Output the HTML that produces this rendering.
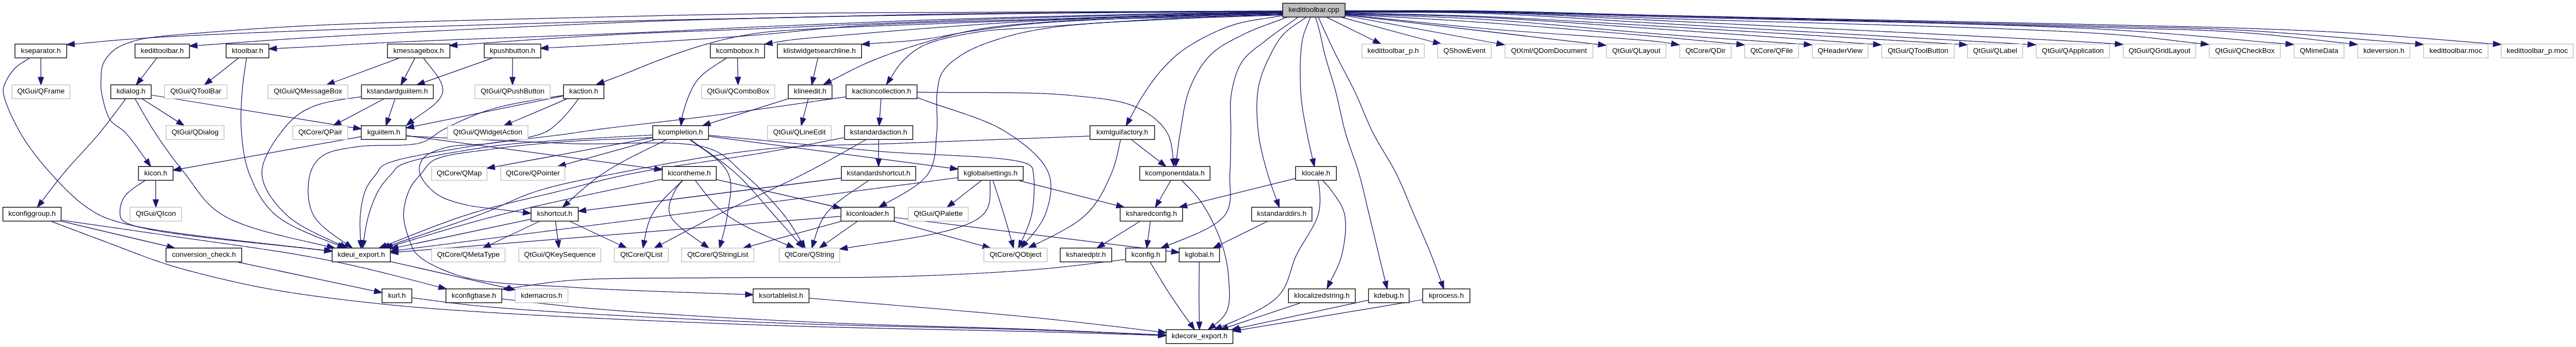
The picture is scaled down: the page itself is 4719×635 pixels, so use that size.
<!DOCTYPE html><html><head><meta charset="utf-8"><style>html,body{margin:0;padding:0;background:#fff;overflow:hidden}svg{display:block;will-change:transform}text{font-family:"Liberation Sans",sans-serif;font-size:13.25px;text-anchor:middle;fill:#000}</style></head><body>
<svg width="4719" height="635" viewBox="0 0 4719 635">
<g fill="none" stroke="#191970" stroke-width="1.25"><path d="M2349.0,21.0 2346.0,21.0 2343.0,21.0 2340.0,21.1 2337.1,21.1 2334.1,21.1 2331.1,21.1 2328.2,21.1 2325.2,21.2 2322.3,21.2 2319.3,21.2 2316.4,21.2 2313.4,21.2 2310.5,21.3 2307.6,21.3 2304.6,21.3 2301.7,21.3 2298.8,21.3 2295.9,21.4 2293.0,21.4 2290.0,21.4 2287.1,21.4 2284.2,21.4 2281.3,21.5 2278.4,21.5 2275.4,21.5 2272.5,21.5 2269.6,21.5 2266.7,21.5 2263.7,21.6 2260.8,21.6 2257.8,21.6 2254.9,21.6 2252.0,21.6 2249.0,21.7 2246.1,21.7 2243.1,21.7 2240.1,21.7 2237.2,21.7 2234.2,21.8 2231.2,21.8 2228.2,21.8 2225.2,21.8 2222.2,21.8 2219.2,21.9 2216.2,21.9 2213.2,21.9 2210.1,21.9 2207.1,22.0 2204.0,22.0 2201.0,22.0 2197.9,22.0 2194.8,22.0 2191.7,22.1 2188.6,22.1 2185.5,22.1 2182.3,22.1 2179.2,22.2 2176.0,22.2 2172.8,22.2 2169.6,22.2 2166.4,22.3 2163.2,22.3 2160.0,22.3 2157.2,22.3 2154.4,22.3 2151.6,22.4 2148.7,22.4 2145.9,22.4 2143.0,22.4 2140.2,22.5 2137.3,22.5 2134.4,22.5 2131.4,22.5 2128.5,22.5 2125.6,22.6 2122.6,22.6 2119.7,22.6 2116.7,22.6 2113.7,22.6 2110.7,22.7 2107.7,22.7 2104.7,22.7 2101.7,22.7 2098.6,22.8 2095.6,22.8 2092.5,22.8 2089.5,22.8 2086.4,22.9 2083.4,22.9 2080.3,22.9 2077.2,22.9 2074.1,22.9 2071.0,23.0 2067.9,23.0 2064.8,23.0 2061.7,23.0 2058.6,23.1 2055.5,23.1 2052.4,23.1 2049.2,23.1 2046.1,23.2 2043.0,23.2 2039.9,23.2 2036.7,23.2 2033.6,23.3 2030.5,23.3 2027.3,23.3 2024.2,23.3 2021.1,23.4 2017.9,23.4 2014.8,23.4 2011.7,23.4 2008.5,23.5 2005.4,23.5 2002.3,23.5 1999.2,23.5 1996.0,23.6 1992.9,23.6 1989.8,23.6 1986.7,23.6 1983.6,23.7 1980.5,23.7 1977.4,23.7 1974.3,23.8 1971.2,23.8 1968.2,23.8 1965.1,23.8 1962.0,23.9 1959.0,23.9 1955.9,23.9 1952.9,23.9 1949.9,24.0 1946.9,24.0 1943.8,24.0 1940.8,24.1 1937.8,24.1 1934.9,24.1 1931.9,24.2 1928.9,24.2 1926.0,24.2 1923.0,24.2 1920.1,24.3 1917.2,24.3 1914.3,24.3 1911.4,24.4 1908.5,24.4 1905.7,24.4 1902.8,24.5 1900.0,24.5 1896.8,24.5 1893.6,24.6 1890.3,24.6 1887.1,24.7 1883.9,24.7 1880.7,24.7 1877.5,24.8 1874.3,24.8 1871.1,24.9 1867.9,24.9 1864.7,24.9 1861.6,25.0 1858.4,25.0 1855.2,25.1 1852.1,25.1 1848.9,25.1 1845.7,25.2 1842.6,25.2 1839.5,25.3 1836.3,25.3 1833.2,25.4 1830.1,25.4 1827.0,25.5 1823.8,25.5 1820.7,25.6 1817.6,25.6 1814.6,25.6 1811.5,25.7 1808.4,25.7 1805.3,25.8 1802.2,25.8 1799.2,25.9 1796.1,25.9 1793.1,26.0 1790.1,26.0 1787.0,26.1 1784.0,26.1 1781.0,26.2 1778.0,26.2 1775.0,26.2 1772.0,26.3 1769.0,26.3 1766.0,26.4 1763.1,26.4 1760.1,26.5 1757.1,26.5 1754.2,26.6 1751.3,26.6 1748.3,26.7 1745.4,26.7 1742.5,26.8 1739.6,26.8 1736.7,26.8 1733.8,26.9 1731.0,26.9 1728.1,27.0 1725.3,27.0 1722.4,27.1 1719.6,27.1 1716.7,27.1 1713.9,27.2 1711.1,27.2 1708.3,27.3 1705.5,27.3 1702.8,27.4 1700.0,27.4 1696.7,27.4 1693.4,27.5 1690.2,27.5 1687.0,27.6 1683.8,27.6 1680.6,27.7 1677.5,27.7 1674.4,27.8 1671.3,27.8 1668.2,27.9 1665.2,27.9 1662.1,27.9 1659.1,28.0 1656.1,28.0 1653.1,28.1 1650.2,28.1 1647.2,28.1 1644.2,28.2 1641.3,28.2 1638.3,28.3 1635.4,28.3 1632.5,28.3 1629.5,28.4 1626.6,28.4 1623.7,28.5 1620.8,28.5 1617.8,28.5 1614.9,28.6 1612.0,28.6 1609.0,28.7 1606.1,28.7 1603.1,28.8 1600.1,28.8 1597.1,28.9 1594.2,28.9 1591.1,29.0 1588.1,29.0 1585.1,29.1 1582.0,29.1 1578.9,29.2 1575.8,29.2 1572.7,29.3 1569.6,29.3 1566.4,29.4 1563.2,29.4 1560.0,29.5 1557.2,29.6 1554.4,29.6 1551.5,29.7 1548.7,29.7 1545.8,29.8 1543.0,29.8 1540.1,29.9 1537.3,29.9 1534.4,30.0 1531.5,30.1 1528.6,30.1 1525.7,30.2 1522.8,30.2 1519.9,30.3 1517.0,30.4 1514.1,30.4 1511.2,30.5 1508.2,30.5 1505.3,30.6 1502.3,30.7 1499.4,30.7 1496.4,30.8 1493.5,30.9 1490.5,30.9 1487.5,31.0 1484.5,31.1 1481.5,31.1 1478.5,31.2 1475.5,31.3 1472.5,31.3 1469.5,31.4 1466.5,31.5 1463.5,31.5 1460.5,31.6 1457.4,31.7 1454.4,31.7 1451.3,31.8 1448.3,31.9 1445.2,32.0 1442.2,32.0 1439.1,32.1 1436.0,32.2 1433.0,32.3 1429.9,32.3 1426.8,32.4 1423.7,32.5 1420.6,32.6 1417.5,32.6 1414.4,32.7 1411.3,32.8 1408.2,32.9 1405.1,32.9 1402.0,33.0 1398.8,33.1 1395.7,33.2 1392.6,33.3 1389.4,33.4 1386.3,33.4 1383.1,33.5 1380.0,33.6 1377.1,33.7 1374.3,33.8 1371.5,33.8 1368.6,33.9 1365.8,34.0 1363.0,34.0 1360.2,34.1 1357.4,34.2 1354.6,34.3 1351.8,34.3 1349.1,34.4 1346.3,34.5 1343.5,34.6 1340.7,34.6 1338.0,34.7 1335.2,34.8 1332.5,34.8 1329.7,34.9 1326.9,35.0 1324.2,35.1 1321.4,35.1 1318.6,35.2 1315.9,35.3 1313.1,35.3 1310.3,35.4 1307.5,35.5 1304.8,35.6 1302.0,35.6 1299.2,35.7 1296.4,35.8 1293.5,35.9 1290.7,35.9 1287.9,36.0 1285.1,36.1 1282.2,36.2 1279.3,36.3 1276.5,36.3 1273.6,36.4 1270.7,36.5 1267.8,36.6 1264.9,36.7 1261.9,36.8 1259.0,36.9 1256.0,37.0 1253.0,37.0 1250.0,37.1 1247.0,37.2 1243.9,37.3 1240.9,37.4 1237.8,37.5 1234.7,37.6 1231.6,37.7 1228.4,37.8 1225.3,37.9 1222.1,38.0 1218.9,38.1 1215.6,38.3 1212.4,38.4 1209.1,38.5 1205.7,38.6 1202.4,38.7 1199.0,38.8 1195.6,39.0 1192.2,39.1 1188.8,39.2 1185.3,39.3 1181.8,39.5 1178.2,39.6 1174.6,39.7 1171.0,39.9 1167.4,40.0 1163.7,40.2 1160.0,40.3 1157.7,40.4 1155.4,40.5 1153.0,40.6 1150.7,40.7 1148.3,40.8 1145.9,40.9 1143.4,41.0 1141.0,41.1 1138.5,41.2 1136.0,41.3 1133.5,41.4 1131.0,41.5 1128.5,41.6 1125.9,41.7 1123.3,41.8 1120.7,41.9 1118.1,42.0 1115.4,42.1 1112.8,42.2 1110.1,42.3 1107.4,42.4 1104.7,42.6 1102.0,42.7 1099.3,42.8 1096.5,42.9 1093.7,43.0 1090.9,43.1 1088.1,43.3 1085.3,43.4 1082.5,43.5 1079.6,43.6 1076.8,43.7 1073.9,43.9 1071.0,44.0 1068.1,44.1 1065.1,44.2 1062.2,44.4 1059.3,44.5 1056.3,44.6 1053.3,44.8 1050.3,44.9 1047.3,45.0 1044.3,45.2 1041.3,45.3 1038.2,45.4 1035.2,45.6 1032.1,45.7 1029.0,45.8 1026.0,46.0 1022.9,46.1 1019.8,46.2 1016.6,46.4 1013.5,46.5 1010.4,46.7 1007.2,46.8 1004.1,46.9 1000.9,47.1 997.7,47.2 994.6,47.4 991.4,47.5 988.2,47.7 985.0,47.8 981.7,48.0 978.5,48.1 975.3,48.3 972.0,48.4 968.8,48.5 965.6,48.7 962.3,48.8 959.0,49.0 955.8,49.1 952.5,49.3 949.2,49.4 945.9,49.6 942.6,49.8 939.3,49.9 936.0,50.1 932.7,50.2 929.4,50.4 926.1,50.5 922.8,50.7 919.4,50.8 916.1,51.0 912.8,51.1 909.4,51.3 906.1,51.5 902.8,51.6 899.4,51.8 896.1,51.9 892.7,52.1 889.4,52.2 886.0,52.4 882.7,52.6 879.3,52.7 876.0,52.9 872.6,53.0 869.3,53.2 865.9,53.4 862.6,53.5 859.2,53.7 855.9,53.8 852.5,54.0 849.2,54.2 845.8,54.3 842.5,54.5 839.1,54.7 835.8,54.8 832.4,55.0 829.1,55.1 825.8,55.3 822.4,55.5 819.1,55.6 815.8,55.8 812.5,56.0 809.1,56.1 805.8,56.3 802.5,56.4 799.2,56.6 795.9,56.8 792.6,56.9 789.3,57.1 786.0,57.3 782.7,57.4 779.5,57.6 776.2,57.7 772.9,57.9 769.7,58.1 766.4,58.2 763.2,58.4 759.9,58.6 756.7,58.7 753.5,58.9 750.3,59.1 747.1,59.2 743.9,59.4 740.7,59.5 737.5,59.7 734.3,59.9 731.2,60.0 728.0,60.2 724.9,60.3 721.7,60.5 718.6,60.7 715.5,60.8 712.4,61.0 709.3,61.1 706.2,61.3 703.1,61.5 700.1,61.6 697.0,61.8 694.0,61.9 691.0,62.1 687.9,62.3 684.9,62.4 682.0,62.6 679.0,62.7 676.0,62.9 673.1,63.0 670.1,63.2 667.2,63.4 664.3,63.5 661.4,63.7 658.5,63.8 655.7,64.0 652.8,64.1 650.0,64.3 647.2,64.4 644.4,64.6 641.6,64.7 638.8,64.9 636.1,65.0 633.3,65.2 630.6,65.3 627.9,65.5 625.2,65.6 622.5,65.8 619.9,65.9 617.2,66.1 614.6,66.2 612.0,66.4 609.4,66.5 606.9,66.7 604.3,66.8 601.8,66.9 599.3,67.1 596.8,67.2 594.4,67.4 591.9,67.5 589.5,67.6 587.1,67.8 584.7,67.9 582.3,68.1 580.0,68.2 576.3,68.4 572.7,68.6 569.0,68.8 565.5,69.1 561.9,69.3 558.4,69.5 554.9,69.7 551.4,69.9 548.0,70.1 544.6,70.4 541.2,70.6 537.9,70.8 534.6,71.0 531.3,71.2 528.0,71.4 524.8,71.6 521.6,71.8 518.4,72.0 515.2,72.3 512.1,72.5 508.9,72.7 505.8,72.9 502.7,73.1 499.7,73.3 496.6,73.5 493.6,73.7 490.6,73.9 487.6,74.1 484.6,74.4 481.7,74.6 478.7,74.8 475.8,75.0 472.9,75.2 470.0,75.4 467.1,75.6 464.2,75.8 461.3,76.0 458.4,76.2 455.6,76.4 452.7,76.6 449.9,76.8 447.1,77.1 444.2,77.3 441.4,77.5 438.6,77.7 435.8,77.9 433.0,78.1 430.2,78.3 427.4,78.5 424.6,78.7 421.8,78.9 419.0,79.1 416.2,79.3 413.4,79.5 410.6,79.7 407.8,79.9 405.0,80.1 402.2,80.4 399.4,80.6 396.5,80.8 393.7,81.0 390.9,81.2 388.0,81.4 385.2,81.6 382.3,81.8 379.5,82.0 376.6,82.2 373.7,82.4 370.8,82.6 367.9,82.8 365.0,83.0 362.0,83.3 361.1,83.3"/><path d="M2430.0,31.4 2516.9,74.2"/><path d="M2455.6,31.2 2626.2,77.0"/><path d="M2464.0,28.5 2742.2,79.5"/><path d="M2464.0,27.3 2928.1,81.4"/><path d="M2464.0,26.6 2467.0,26.9 2470.0,27.2 2472.9,27.5 2475.9,27.8 2478.9,28.1 2481.9,28.4 2484.8,28.7 2487.8,29.0 2490.7,29.3 2493.7,29.6 2496.6,29.9 2499.6,30.2 2502.5,30.5 2505.5,30.8 2508.4,31.1 2511.3,31.4 2514.3,31.8 2517.2,32.1 2520.1,32.4 2523.1,32.7 2526.0,33.0 2528.9,33.3 2531.8,33.6 2534.8,33.9 2537.7,34.2 2540.6,34.5 2543.5,34.8 2546.5,35.1 2549.4,35.4 2552.3,35.7 2555.2,36.0 2558.2,36.3 2561.1,36.7 2564.0,37.0 2566.9,37.3 2569.9,37.6 2572.8,37.9 2575.7,38.2 2578.6,38.5 2581.6,38.8 2584.5,39.1 2587.5,39.4 2590.4,39.7 2593.3,40.0 2596.3,40.3 2599.2,40.6 2602.2,40.9 2605.1,41.2 2608.1,41.5 2611.1,41.8 2614.0,42.1 2617.0,42.4 2620.0,42.7 2622.9,43.0 2625.9,43.3 2628.9,43.6 2631.9,43.9 2634.9,44.2 2637.9,44.5 2640.9,44.8 2643.9,45.1 2646.9,45.4 2650.0,45.7 2653.0,46.0 2656.0,46.3 2659.1,46.6 2662.1,46.9 2665.2,47.2 2668.2,47.5 2671.3,47.8 2674.3,48.1 2677.4,48.4 2680.5,48.7 2683.6,49.0 2686.7,49.2 2689.8,49.5 2692.9,49.8 2696.1,50.1 2699.2,50.4 2702.3,50.7 2705.5,51.0 2708.7,51.2 2711.8,51.5 2715.0,51.8 2717.8,52.0 2720.7,52.3 2723.6,52.5 2726.5,52.8 2729.5,53.0 2732.5,53.3 2735.5,53.5 2738.6,53.8 2741.6,54.0 2744.7,54.3 2747.9,54.5 2751.0,54.8 2754.2,55.0 2757.4,55.3 2760.7,55.5 2763.9,55.8 2767.2,56.0 2770.5,56.3 2773.8,56.5 2777.1,56.8 2780.5,57.0 2783.9,57.3 2787.2,57.5 2790.6,57.8 2794.1,58.0 2797.5,58.3 2800.9,58.5 2804.4,58.8 2807.8,59.0 2811.3,59.3 2814.8,59.5 2818.3,59.8 2821.8,60.0 2825.3,60.3 2828.8,60.5 2832.3,60.8 2835.8,61.0 2839.3,61.3 2842.8,61.5 2846.3,61.8 2849.9,62.0 2853.4,62.3 2856.9,62.5 2860.4,62.7 2863.9,63.0 2867.4,63.2 2870.9,63.5 2874.4,63.7 2877.9,64.0 2881.4,64.2 2884.9,64.4 2888.3,64.7 2891.8,64.9 2895.2,65.2 2898.6,65.4 2902.1,65.6 2905.5,65.9 2908.9,66.1 2912.2,66.3 2915.6,66.6 2918.9,66.8 2922.2,67.0 2925.5,67.3 2928.8,67.5 2932.1,67.7 2935.3,68.0 2938.5,68.2 2941.7,68.4 2944.9,68.6 2948.0,68.9 2951.1,69.1 2954.2,69.3 2957.3,69.5 2960.3,69.7 2963.3,70.0 2966.3,70.2 2969.2,70.4 2972.1,70.6 2975.0,70.8 2977.9,71.0 2980.7,71.3 2983.4,71.5 2986.2,71.7 2988.9,71.9 2991.5,72.1 2994.1,72.3 2996.7,72.5 2999.2,72.7 3001.7,72.9 3004.2,73.1 3006.6,73.3 3009.0,73.5 3011.3,73.7 3013.6,73.9 3015.8,74.1 3018.0,74.3 3020.1,74.5 3022.2,74.7 3024.2,74.9 3026.2,75.1 3028.1,75.2 3030.0,75.4 3031.8,75.6 3033.5,75.8 3035.2,76.0 3036.9,76.1 3038.5,76.3 3040.0,76.5 3044.3,77.0 3048.1,77.5 3051.6,78.0 3054.7,78.5 3057.6,78.9 3060.3,79.4 3062.2,79.7"/><path d="M2464.0,26.0 2467.0,26.2 2470.0,26.4 2473.1,26.5 2476.1,26.7 2479.1,26.9 2482.1,27.1 2485.1,27.2 2488.1,27.4 2491.0,27.6 2494.0,27.8 2497.0,27.9 2500.0,28.1 2503.0,28.3 2506.0,28.4 2508.9,28.6 2511.9,28.8 2514.9,28.9 2517.8,29.1 2520.8,29.3 2523.8,29.4 2526.7,29.6 2529.7,29.8 2532.7,29.9 2535.6,30.1 2538.6,30.3 2541.5,30.4 2544.5,30.6 2547.5,30.8 2550.4,30.9 2553.4,31.1 2556.3,31.3 2559.3,31.4 2562.3,31.6 2565.2,31.8 2568.2,31.9 2571.2,32.1 2574.1,32.3 2577.1,32.4 2580.1,32.6 2583.0,32.8 2586.0,32.9 2589.0,33.1 2592.0,33.3 2594.9,33.4 2597.9,33.6 2600.9,33.8 2603.9,34.0 2606.9,34.1 2609.9,34.3 2612.9,34.5 2615.9,34.7 2618.9,34.8 2621.9,35.0 2624.9,35.2 2627.9,35.4 2631.0,35.6 2634.0,35.7 2637.0,35.9 2640.1,36.1 2643.1,36.3 2646.2,36.5 2649.2,36.7 2652.3,36.9 2655.4,37.0 2658.4,37.2 2661.5,37.4 2664.6,37.6 2667.7,37.8 2670.8,38.0 2673.9,38.2 2677.0,38.4 2680.1,38.6 2683.3,38.8 2686.4,39.0 2689.5,39.3 2692.7,39.5 2695.9,39.7 2699.0,39.9 2702.2,40.1 2705.4,40.3 2708.6,40.6 2711.8,40.8 2715.0,41.0 2717.8,41.2 2720.7,41.4 2723.5,41.6 2726.4,41.8 2729.3,42.0 2732.2,42.2 2735.1,42.4 2738.1,42.7 2741.0,42.9 2744.0,43.1 2746.9,43.3 2749.9,43.5 2752.9,43.8 2755.9,44.0 2759.0,44.2 2762.0,44.4 2765.1,44.7 2768.1,44.9 2771.2,45.1 2774.3,45.4 2777.4,45.6 2780.5,45.8 2783.6,46.1 2786.7,46.3 2789.8,46.6 2793.0,46.8 2796.1,47.0 2799.2,47.3 2802.4,47.5 2805.6,47.8 2808.7,48.0 2811.9,48.3 2815.1,48.5 2818.3,48.8 2821.4,49.0 2824.6,49.3 2827.8,49.5 2831.0,49.8 2834.2,50.1 2837.4,50.3 2840.6,50.6 2843.8,50.8 2847.0,51.1 2850.3,51.3 2853.5,51.6 2856.7,51.9 2859.9,52.1 2863.1,52.4 2866.3,52.6 2869.5,52.9 2872.7,53.2 2875.9,53.4 2879.1,53.7 2882.3,54.0 2885.5,54.2 2888.7,54.5 2891.9,54.8 2895.1,55.0 2898.2,55.3 2901.4,55.5 2904.6,55.8 2907.7,56.1 2910.9,56.3 2914.0,56.6 2917.2,56.9 2920.3,57.1 2923.4,57.4 2926.5,57.6 2929.6,57.9 2932.7,58.2 2935.8,58.4 2938.9,58.7 2942.0,58.9 2945.0,59.2 2948.1,59.5 2951.1,59.7 2954.1,60.0 2957.2,60.2 2960.1,60.5 2963.1,60.7 2966.1,61.0 2969.1,61.2 2972.0,61.5 2974.9,61.8 2977.9,62.0 2980.8,62.3 2983.7,62.5 2986.5,62.7 2989.4,63.0 2992.2,63.2 2995.0,63.5 2997.8,63.7 3000.6,64.0 3003.4,64.2 3006.1,64.4 3008.9,64.7 3011.6,64.9 3014.3,65.1 3016.9,65.4 3019.6,65.6 3022.2,65.8 3024.8,66.1 3027.4,66.3 3030.0,66.5 3032.5,66.7 3035.0,67.0 3037.5,67.2 3040.0,67.4 3043.5,67.7 3047.0,68.0 3050.4,68.3 3053.8,68.6 3057.2,68.9 3060.5,69.2 3063.8,69.5 3067.1,69.8 3070.3,70.1 3073.5,70.4 3076.6,70.7 3079.8,71.0 3082.9,71.3 3085.9,71.6 3089.0,71.9 3092.0,72.1 3095.0,72.4 3098.0,72.7 3101.0,73.0 3103.9,73.3 3106.9,73.5 3109.8,73.8 3112.7,74.1 3115.6,74.4 3118.4,74.7 3121.3,74.9 3124.1,75.2 3127.0,75.5 3129.8,75.8 3132.6,76.0 3135.5,76.3 3138.3,76.6 3141.1,76.9 3143.9,77.1 3146.7,77.4 3149.5,77.7 3152.3,77.9 3155.1,78.2 3158.0,78.5 3160.8,78.8 3163.6,79.0 3166.4,79.3 3169.3,79.6 3172.1,79.9 3175.0,80.1 3177.9,80.4 3180.8,80.7 3181.6,80.8"/><path d="M2464.0,25.5 2467.0,25.6 2470.0,25.7 2473.1,25.8 2476.1,26.0 2479.1,26.1 2482.1,26.2 2485.1,26.3 2488.1,26.4 2491.0,26.5 2494.0,26.6 2497.0,26.7 2500.0,26.8 2503.0,26.9 2506.0,27.0 2508.9,27.1 2511.9,27.2 2514.9,27.3 2517.8,27.4 2520.8,27.5 2523.8,27.6 2526.7,27.7 2529.7,27.8 2532.7,27.9 2535.6,27.9 2538.6,28.0 2541.5,28.1 2544.5,28.2 2547.5,28.3 2550.4,28.4 2553.4,28.5 2556.3,28.6 2559.3,28.7 2562.3,28.8 2565.2,28.9 2568.2,29.0 2571.2,29.1 2574.1,29.2 2577.1,29.2 2580.1,29.3 2583.0,29.4 2586.0,29.5 2589.0,29.6 2592.0,29.7 2594.9,29.8 2597.9,29.9 2600.9,30.0 2603.9,30.1 2606.9,30.3 2609.9,30.4 2612.9,30.5 2615.9,30.6 2618.9,30.7 2621.9,30.8 2624.9,30.9 2628.0,31.0 2631.0,31.2 2634.0,31.3 2637.0,31.4 2640.1,31.5 2643.1,31.6 2646.2,31.8 2649.2,31.9 2652.3,32.0 2655.4,32.2 2658.4,32.3 2661.5,32.5 2664.6,32.6 2667.7,32.7 2670.8,32.9 2673.9,33.0 2677.0,33.2 2680.1,33.4 2683.3,33.5 2686.4,33.7 2689.5,33.8 2692.7,34.0 2695.9,34.2 2699.0,34.4 2702.2,34.5 2705.4,34.7 2708.6,34.9 2711.8,35.1 2715.0,35.3 2717.8,35.5 2720.7,35.7 2723.5,35.8 2726.3,36.0 2729.2,36.2 2732.1,36.4 2734.9,36.6 2737.8,36.8 2740.7,37.0 2743.6,37.2 2746.5,37.4 2749.4,37.6 2752.3,37.8 2755.3,38.0 2758.2,38.2 2761.1,38.4 2764.1,38.7 2767.0,38.9 2770.0,39.1 2773.0,39.3 2775.9,39.6 2778.9,39.8 2781.9,40.0 2784.9,40.3 2787.9,40.5 2790.9,40.8 2793.9,41.0 2796.9,41.2 2799.9,41.5 2803.0,41.7 2806.0,42.0 2809.0,42.2 2812.0,42.5 2815.1,42.8 2818.1,43.0 2821.2,43.3 2824.2,43.5 2827.3,43.8 2830.3,44.1 2833.4,44.3 2836.4,44.6 2839.5,44.9 2842.6,45.1 2845.6,45.4 2848.7,45.7 2851.8,45.9 2854.9,46.2 2857.9,46.5 2861.0,46.7 2864.1,47.0 2867.2,47.3 2870.3,47.6 2873.4,47.8 2876.4,48.1 2879.5,48.4 2882.6,48.7 2885.7,48.9 2888.8,49.2 2891.9,49.5 2895.0,49.8 2898.1,50.1 2901.1,50.3 2904.2,50.6 2907.3,50.9 2910.4,51.2 2913.5,51.5 2916.6,51.7 2919.6,52.0 2922.7,52.3 2925.8,52.6 2928.9,52.8 2932.0,53.1 2935.0,53.4 2938.1,53.7 2941.2,53.9 2944.2,54.2 2947.3,54.5 2950.3,54.8 2953.4,55.0 2956.5,55.3 2959.5,55.6 2962.6,55.8 2965.6,56.1 2968.6,56.4 2971.7,56.6 2974.7,56.9 2977.7,57.2 2980.7,57.4 2983.8,57.7 2986.8,57.9 2989.8,58.2 2992.8,58.5 2995.8,58.7 2998.8,59.0 3001.8,59.2 3004.7,59.5 3007.7,59.7 3010.7,60.0 3013.6,60.2 3016.6,60.4 3019.6,60.7 3022.5,60.9 3025.4,61.2 3028.4,61.4 3031.3,61.6 3034.2,61.9 3037.1,62.1 3040.0,62.3 3043.1,62.5 3046.2,62.8 3049.3,63.0 3052.4,63.2 3055.5,63.5 3058.6,63.7 3061.7,63.9 3064.8,64.2 3067.8,64.4 3070.9,64.6 3074.0,64.9 3077.0,65.1 3080.1,65.3 3083.1,65.5 3086.2,65.8 3089.2,66.0 3092.3,66.2 3095.3,66.4 3098.4,66.7 3101.4,66.9 3104.4,67.1 3107.5,67.3 3110.5,67.5 3113.5,67.7 3116.5,68.0 3119.5,68.2 3122.5,68.4 3125.6,68.6 3128.6,68.8 3131.6,69.0 3134.6,69.2 3137.6,69.5 3140.6,69.7 3143.6,69.9 3146.5,70.1 3149.5,70.3 3152.5,70.5 3155.5,70.7 3158.5,70.9 3161.5,71.1 3164.5,71.3 3167.4,71.5 3170.4,71.7 3173.4,72.0 3176.4,72.2 3179.3,72.4 3182.3,72.6 3185.3,72.8 3188.2,73.0 3191.2,73.2 3194.2,73.4 3197.1,73.6 3200.1,73.8 3203.1,74.0 3206.0,74.2 3209.0,74.4 3212.0,74.6 3214.9,74.8 3217.9,75.0 3220.9,75.2 3223.8,75.4 3226.8,75.6 3229.7,75.8 3232.7,76.0 3235.7,76.2 3238.6,76.4 3241.6,76.6 3244.6,76.8 3247.5,77.0 3250.5,77.2 3253.5,77.4 3256.4,77.7 3259.4,77.9 3262.4,78.1 3265.3,78.3 3268.3,78.5 3271.3,78.7 3274.2,78.9 3277.2,79.1 3280.2,79.3 3283.2,79.5 3286.1,79.7 3289.1,79.9 3292.1,80.1 3295.1,80.3 3298.1,80.5 3301.0,80.7 3304.0,80.9 3305.0,81.0"/><path d="M2464.0,24.5 2467.0,24.6 2470.0,24.7 2473.1,24.8 2476.1,24.8 2479.1,24.9 2482.1,25.0 2485.1,25.1 2488.1,25.1 2491.0,25.2 2494.0,25.3 2497.0,25.4 2500.0,25.4 2503.0,25.5 2506.0,25.6 2508.9,25.7 2511.9,25.7 2514.9,25.8 2517.8,25.9 2520.8,25.9 2523.8,26.0 2526.7,26.1 2529.7,26.1 2532.7,26.2 2535.6,26.3 2538.6,26.3 2541.5,26.4 2544.5,26.5 2547.5,26.5 2550.4,26.6 2553.4,26.6 2556.3,26.7 2559.3,26.8 2562.3,26.8 2565.2,26.9 2568.2,27.0 2571.2,27.0 2574.1,27.1 2577.1,27.2 2580.1,27.2 2583.0,27.3 2586.0,27.4 2589.0,27.5 2592.0,27.5 2594.9,27.6 2597.9,27.7 2600.9,27.7 2603.9,27.8 2606.9,27.9 2609.9,28.0 2612.9,28.0 2615.9,28.1 2618.9,28.2 2621.9,28.3 2624.9,28.4 2627.9,28.5 2631.0,28.5 2634.0,28.6 2637.0,28.7 2640.1,28.8 2643.1,28.9 2646.2,29.0 2649.2,29.1 2652.3,29.2 2655.4,29.3 2658.4,29.4 2661.5,29.5 2664.6,29.6 2667.7,29.7 2670.8,29.8 2673.9,30.0 2677.0,30.1 2680.1,30.2 2683.3,30.3 2686.4,30.4 2689.5,30.6 2692.7,30.7 2695.9,30.8 2699.0,31.0 2702.2,31.1 2705.4,31.3 2708.6,31.4 2711.8,31.5 2715.0,31.7 2717.8,31.8 2720.6,32.0 2723.5,32.1 2726.3,32.3 2729.1,32.4 2732.0,32.5 2734.8,32.7 2737.7,32.8 2740.5,33.0 2743.4,33.1 2746.2,33.3 2749.1,33.4 2751.9,33.6 2754.8,33.8 2757.7,33.9 2760.6,34.1 2763.5,34.3 2766.3,34.4 2769.2,34.6 2772.1,34.8 2775.0,34.9 2777.9,35.1 2780.8,35.3 2783.7,35.4 2786.6,35.6 2789.6,35.8 2792.5,36.0 2795.4,36.2 2798.3,36.3 2801.3,36.5 2804.2,36.7 2807.1,36.9 2810.1,37.1 2813.0,37.3 2816.0,37.5 2818.9,37.7 2821.9,37.9 2824.8,38.1 2827.8,38.3 2830.8,38.4 2833.7,38.6 2836.7,38.8 2839.7,39.0 2842.7,39.2 2845.6,39.5 2848.6,39.7 2851.6,39.9 2854.6,40.1 2857.6,40.3 2860.6,40.5 2863.6,40.7 2866.6,40.9 2869.6,41.1 2872.6,41.3 2875.7,41.5 2878.7,41.7 2881.7,41.9 2884.7,42.2 2887.8,42.4 2890.8,42.6 2893.8,42.8 2896.9,43.0 2899.9,43.2 2903.0,43.5 2906.0,43.7 2909.1,43.9 2912.1,44.1 2915.2,44.3 2918.2,44.5 2921.3,44.8 2924.4,45.0 2927.5,45.2 2930.5,45.4 2933.6,45.7 2936.7,45.9 2939.8,46.1 2942.9,46.3 2945.9,46.5 2949.0,46.8 2952.1,47.0 2955.2,47.2 2958.3,47.4 2961.4,47.7 2964.6,47.9 2967.7,48.1 2970.8,48.3 2973.9,48.5 2977.0,48.8 2980.1,49.0 2983.3,49.2 2986.4,49.4 2989.5,49.7 2992.7,49.9 2995.8,50.1 2998.9,50.3 3002.1,50.6 3005.2,50.8 3008.4,51.0 3011.5,51.2 3014.7,51.4 3017.8,51.7 3021.0,51.9 3024.2,52.1 3027.3,52.3 3030.5,52.5 3033.7,52.8 3036.8,53.0 3040.0,53.2 3042.8,53.4 3045.7,53.6 3048.5,53.8 3051.4,54.0 3054.3,54.2 3057.1,54.4 3060.0,54.6 3062.9,54.8 3065.8,55.0 3068.6,55.2 3071.5,55.4 3074.4,55.6 3077.3,55.8 3080.2,56.0 3083.1,56.2 3086.0,56.4 3089.0,56.6 3091.9,56.8 3094.8,57.0 3097.7,57.2 3100.7,57.4 3103.6,57.6 3106.5,57.8 3109.5,58.0 3112.4,58.2 3115.4,58.4 3118.3,58.6 3121.3,58.8 3124.2,59.1 3127.2,59.3 3130.2,59.5 3133.1,59.7 3136.1,59.9 3139.1,60.1 3142.1,60.3 3145.0,60.5 3148.0,60.7 3151.0,60.9 3154.0,61.2 3157.0,61.4 3160.0,61.6 3163.0,61.8 3166.0,62.0 3169.0,62.2 3172.0,62.4 3175.0,62.6 3178.0,62.9 3181.0,63.1 3184.0,63.3 3187.1,63.5 3190.1,63.7 3193.1,63.9 3196.1,64.1 3199.2,64.4 3202.2,64.6 3205.2,64.8 3208.2,65.0 3211.3,65.2 3214.3,65.4 3217.4,65.7 3220.4,65.9 3223.4,66.1 3226.5,66.3 3229.5,66.5 3232.6,66.7 3235.6,67.0 3238.7,67.2 3241.7,67.4 3244.8,67.6 3247.8,67.8 3250.9,68.0 3253.9,68.3 3257.0,68.5 3260.0,68.7 3263.1,68.9 3266.1,69.1 3269.2,69.4 3272.3,69.6 3275.3,69.8 3278.4,70.0 3281.4,70.2 3284.5,70.5 3287.6,70.7 3290.6,70.9 3293.7,71.1 3296.7,71.3 3299.8,71.6 3302.9,71.8 3305.9,72.0 3309.0,72.2 3312.1,72.4 3315.1,72.7 3318.2,72.9 3321.2,73.1 3324.3,73.3 3327.4,73.5 3330.4,73.8 3333.5,74.0 3336.6,74.2 3339.6,74.4 3342.7,74.6 3345.7,74.8 3348.8,75.1 3351.9,75.3 3354.9,75.5 3358.0,75.7 3361.0,75.9 3364.1,76.2 3367.1,76.4 3370.2,76.6 3373.2,76.8 3376.3,77.0 3379.3,77.3 3382.4,77.5 3385.4,77.7 3388.5,77.9 3391.5,78.1 3394.6,78.3 3397.6,78.6 3400.6,78.8 3403.7,79.0 3406.7,79.2 3409.7,79.4 3412.8,79.6 3415.8,79.9 3418.8,80.1 3421.9,80.3 3424.9,80.5 3427.9,80.7 3430.9,80.9 3432.0,81.0"/><path d="M2464.0,23.5 2467.0,23.6 2470.0,23.7 2473.1,23.7 2476.1,23.8 2479.1,23.9 2482.1,24.0 2485.1,24.0 2488.1,24.1 2491.0,24.2 2494.0,24.3 2497.0,24.3 2500.0,24.4 2503.0,24.5 2506.0,24.5 2508.9,24.6 2511.9,24.7 2514.9,24.7 2517.8,24.8 2520.8,24.9 2523.8,24.9 2526.7,25.0 2529.7,25.1 2532.7,25.1 2535.6,25.2 2538.6,25.3 2541.5,25.3 2544.5,25.4 2547.5,25.4 2550.4,25.5 2553.4,25.6 2556.3,25.6 2559.3,25.7 2562.3,25.8 2565.2,25.8 2568.2,25.9 2571.2,26.0 2574.1,26.0 2577.1,26.1 2580.1,26.2 2583.0,26.2 2586.0,26.3 2589.0,26.4 2592.0,26.4 2594.9,26.5 2597.9,26.6 2600.9,26.6 2603.9,26.7 2606.9,26.8 2609.9,26.9 2612.9,26.9 2615.9,27.0 2618.9,27.1 2621.9,27.2 2624.9,27.2 2627.9,27.3 2631.0,27.4 2634.0,27.5 2637.0,27.6 2640.1,27.7 2643.1,27.7 2646.2,27.8 2649.2,27.9 2652.3,28.0 2655.3,28.1 2658.4,28.2 2661.5,28.3 2664.6,28.4 2667.7,28.5 2670.8,28.6 2673.9,28.7 2677.0,28.8 2680.1,28.9 2683.3,29.0 2686.4,29.1 2689.5,29.2 2692.7,29.3 2695.9,29.5 2699.0,29.6 2702.2,29.7 2705.4,29.8 2708.6,29.9 2711.8,30.1 2715.0,30.2 2717.8,30.3 2720.6,30.4 2723.4,30.5 2726.3,30.7 2729.1,30.8 2731.9,30.9 2734.7,31.0 2737.5,31.2 2740.3,31.3 2743.2,31.4 2746.0,31.5 2748.8,31.7 2751.6,31.8 2754.4,31.9 2757.3,32.1 2760.1,32.2 2762.9,32.3 2765.7,32.5 2768.5,32.6 2771.4,32.7 2774.2,32.9 2777.0,33.0 2779.9,33.2 2782.7,33.3 2785.5,33.4 2788.4,33.6 2791.2,33.7 2794.1,33.9 2796.9,34.0 2799.8,34.2 2802.6,34.3 2805.5,34.5 2808.3,34.6 2811.2,34.8 2814.1,34.9 2817.0,35.1 2819.8,35.2 2822.7,35.4 2825.6,35.5 2828.5,35.7 2831.4,35.9 2834.3,36.0 2837.2,36.2 2840.1,36.3 2843.0,36.5 2845.9,36.7 2848.8,36.8 2851.7,37.0 2854.6,37.2 2857.6,37.3 2860.5,37.5 2863.4,37.7 2866.4,37.8 2869.3,38.0 2872.3,38.2 2875.3,38.3 2878.2,38.5 2881.2,38.7 2884.2,38.8 2887.2,39.0 2890.2,39.2 2893.2,39.4 2896.2,39.5 2899.2,39.7 2902.2,39.9 2905.2,40.1 2908.3,40.3 2911.3,40.4 2914.4,40.6 2917.4,40.8 2920.5,41.0 2923.5,41.2 2926.6,41.3 2929.7,41.5 2932.8,41.7 2935.9,41.9 2939.0,42.1 2942.1,42.3 2945.3,42.4 2948.4,42.6 2951.5,42.8 2954.7,43.0 2957.8,43.2 2961.0,43.4 2964.2,43.6 2967.4,43.7 2970.6,43.9 2973.8,44.1 2977.0,44.3 2980.2,44.5 2983.4,44.7 2986.7,44.9 2989.9,45.1 2993.2,45.3 2996.5,45.5 2999.8,45.7 3003.1,45.9 3006.4,46.0 3009.7,46.2 3013.0,46.4 3016.3,46.6 3019.7,46.8 3023.0,47.0 3026.4,47.2 3029.8,47.4 3033.2,47.6 3036.6,47.8 3040.0,48.0 3042.6,48.1 3045.2,48.3 3047.8,48.4 3050.4,48.6 3053.0,48.8 3055.7,48.9 3058.3,49.1 3061.0,49.2 3063.6,49.4 3066.3,49.5 3069.0,49.7 3071.7,49.8 3074.4,50.0 3077.1,50.1 3079.8,50.3 3082.5,50.5 3085.2,50.6 3087.9,50.8 3090.7,50.9 3093.4,51.1 3096.2,51.3 3098.9,51.4 3101.7,51.6 3104.5,51.8 3107.2,51.9 3110.0,52.1 3112.8,52.3 3115.6,52.4 3118.4,52.6 3121.2,52.7 3124.1,52.9 3126.9,53.1 3129.7,53.3 3132.6,53.4 3135.4,53.6 3138.3,53.8 3141.1,53.9 3144.0,54.1 3146.9,54.3 3149.7,54.4 3152.6,54.6 3155.5,54.8 3158.4,55.0 3161.3,55.1 3164.2,55.3 3167.1,55.5 3170.0,55.7 3173.0,55.8 3175.9,56.0 3178.8,56.2 3181.8,56.4 3184.7,56.5 3187.7,56.7 3190.6,56.9 3193.6,57.1 3196.5,57.2 3199.5,57.4 3202.5,57.6 3205.5,57.8 3208.4,58.0 3211.4,58.1 3214.4,58.3 3217.4,58.5 3220.4,58.7 3223.4,58.9 3226.4,59.0 3229.5,59.2 3232.5,59.4 3235.5,59.6 3238.5,59.8 3241.5,60.0 3244.6,60.1 3247.6,60.3 3250.7,60.5 3253.7,60.7 3256.7,60.9 3259.8,61.1 3262.9,61.3 3265.9,61.4 3269.0,61.6 3272.0,61.8 3275.1,62.0 3278.2,62.2 3281.2,62.4 3284.3,62.6 3287.4,62.7 3290.5,62.9 3293.6,63.1 3296.7,63.3 3299.7,63.5 3302.8,63.7 3305.9,63.9 3309.0,64.1 3312.1,64.2 3315.2,64.4 3318.3,64.6 3321.4,64.8 3324.5,65.0 3327.6,65.2 3330.8,65.4 3333.9,65.6 3337.0,65.8 3340.1,66.0 3343.2,66.1 3346.3,66.3 3349.5,66.5 3352.6,66.7 3355.7,66.9 3358.8,67.1 3362.0,67.3 3365.1,67.5 3368.2,67.7 3371.3,67.9 3374.5,68.1 3377.6,68.2 3380.7,68.4 3383.9,68.6 3387.0,68.8 3390.1,69.0 3393.2,69.2 3396.4,69.4 3399.5,69.6 3402.6,69.8 3405.8,70.0 3408.9,70.2 3412.1,70.3 3415.2,70.5 3418.3,70.7 3421.5,70.9 3424.6,71.1 3427.7,71.3 3430.9,71.5 3434.0,71.7 3437.1,71.9 3440.2,72.1 3443.4,72.3 3446.5,72.5 3449.6,72.6 3452.8,72.8 3455.9,73.0 3459.0,73.2 3462.1,73.4 3465.3,73.6 3468.4,73.8 3471.5,74.0 3474.6,74.2 3477.7,74.4 3480.9,74.6 3484.0,74.7 3487.1,74.9 3490.2,75.1 3493.3,75.3 3496.4,75.5 3499.5,75.7 3502.6,75.9 3505.7,76.1 3508.8,76.3 3511.9,76.4 3515.0,76.6 3518.1,76.8 3521.2,77.0 3524.3,77.2 3527.4,77.4 3530.5,77.6 3533.5,77.8 3536.6,77.9 3539.7,78.1 3542.8,78.3 3545.8,78.5 3548.9,78.7 3552.0,78.9 3555.0,79.1 3558.1,79.3 3561.1,79.4 3564.2,79.6 3567.2,79.8 3570.3,80.0 3573.3,80.2 3576.4,80.4 3579.4,80.5 3582.4,80.7 3585.4,80.9 3588.5,81.1 3589.5,81.2"/><path d="M2464.0,22.5 2467.0,22.5 2470.0,22.5 2473.1,22.6 2476.1,22.6 2479.1,22.6 2482.1,22.6 2485.1,22.6 2488.1,22.6 2491.0,22.6 2494.0,22.7 2497.0,22.7 2500.0,22.7 2503.0,22.7 2506.0,22.7 2508.9,22.7 2511.9,22.7 2514.9,22.7 2517.8,22.7 2520.8,22.7 2523.8,22.7 2526.7,22.7 2529.7,22.7 2532.7,22.7 2535.6,22.7 2538.6,22.7 2541.5,22.7 2544.5,22.7 2547.5,22.7 2550.4,22.7 2553.4,22.7 2556.3,22.7 2559.3,22.7 2562.3,22.7 2565.2,22.7 2568.2,22.7 2571.2,22.7 2574.1,22.7 2577.1,22.7 2580.1,22.7 2583.0,22.7 2586.0,22.7 2589.0,22.7 2592.0,22.7 2594.9,22.7 2597.9,22.7 2600.9,22.7 2603.9,22.7 2606.9,22.7 2609.9,22.7 2612.9,22.8 2615.9,22.8 2618.9,22.8 2621.9,22.8 2624.9,22.8 2627.9,22.9 2631.0,22.9 2634.0,22.9 2637.0,22.9 2640.1,23.0 2643.1,23.0 2646.2,23.0 2649.2,23.1 2652.3,23.1 2655.4,23.1 2658.4,23.2 2661.5,23.2 2664.6,23.3 2667.7,23.3 2670.8,23.4 2673.9,23.5 2677.0,23.5 2680.1,23.6 2683.3,23.6 2686.4,23.7 2689.5,23.8 2692.7,23.9 2695.9,23.9 2699.0,24.0 2702.2,24.1 2705.4,24.2 2708.6,24.3 2711.8,24.4 2715.0,24.5 2717.8,24.6 2720.6,24.7 2723.4,24.8 2726.2,24.9 2729.0,25.0 2731.8,25.1 2734.6,25.2 2737.4,25.3 2740.2,25.4 2743.0,25.5 2745.8,25.6 2748.6,25.7 2751.4,25.9 2754.2,26.0 2757.0,26.1 2759.8,26.2 2762.6,26.4 2765.4,26.5 2768.1,26.6 2770.9,26.7 2773.7,26.9 2776.5,27.0 2779.3,27.1 2782.1,27.3 2784.9,27.4 2787.7,27.6 2790.5,27.7 2793.3,27.9 2796.1,28.0 2798.9,28.2 2801.7,28.3 2804.5,28.5 2807.3,28.6 2810.1,28.8 2813.0,28.9 2815.8,29.1 2818.6,29.2 2821.4,29.4 2824.3,29.6 2827.1,29.7 2829.9,29.9 2832.8,30.1 2835.6,30.2 2838.5,30.4 2841.3,30.6 2844.2,30.7 2847.1,30.9 2850.0,31.1 2852.8,31.3 2855.7,31.4 2858.6,31.6 2861.5,31.8 2864.4,32.0 2867.4,32.1 2870.3,32.3 2873.2,32.5 2876.1,32.7 2879.1,32.9 2882.0,33.1 2885.0,33.2 2888.0,33.4 2890.9,33.6 2893.9,33.8 2896.9,34.0 2899.9,34.2 2902.9,34.4 2905.9,34.6 2909.0,34.8 2912.0,35.0 2915.1,35.2 2918.1,35.4 2921.2,35.5 2924.3,35.7 2927.4,35.9 2930.5,36.1 2933.6,36.3 2936.7,36.5 2939.8,36.7 2943.0,36.9 2946.1,37.1 2949.3,37.3 2952.5,37.5 2955.7,37.7 2958.9,37.9 2962.1,38.1 2965.3,38.3 2968.6,38.5 2971.8,38.7 2975.1,38.9 2978.4,39.1 2981.7,39.3 2985.0,39.6 2988.3,39.8 2991.6,40.0 2995.0,40.2 2998.4,40.4 3001.7,40.6 3005.1,40.8 3008.6,41.0 3012.0,41.2 3015.4,41.4 3018.9,41.6 3022.4,41.8 3025.9,42.0 3029.4,42.2 3032.9,42.4 3036.4,42.6 3040.0,42.8 3042.4,42.9 3044.9,43.1 3047.4,43.2 3049.8,43.4 3052.3,43.5 3054.8,43.6 3057.3,43.8 3059.8,43.9 3062.3,44.1 3064.9,44.2 3067.4,44.4 3070.0,44.5 3072.5,44.6 3075.1,44.8 3077.6,44.9 3080.2,45.1 3082.8,45.2 3085.4,45.4 3088.0,45.5 3090.6,45.7 3093.3,45.8 3095.9,46.0 3098.5,46.1 3101.2,46.3 3103.8,46.4 3106.5,46.6 3109.2,46.7 3111.9,46.9 3114.6,47.0 3117.3,47.2 3120.0,47.3 3122.7,47.5 3125.4,47.6 3128.1,47.8 3130.9,48.0 3133.6,48.1 3136.3,48.3 3139.1,48.4 3141.9,48.6 3144.6,48.7 3147.4,48.9 3150.2,49.1 3153.0,49.2 3155.8,49.4 3158.6,49.5 3161.4,49.7 3164.2,49.8 3167.1,50.0 3169.9,50.2 3172.7,50.3 3175.6,50.5 3178.5,50.7 3181.3,50.8 3184.2,51.0 3187.1,51.1 3189.9,51.3 3192.8,51.5 3195.7,51.6 3198.6,51.8 3201.5,52.0 3204.4,52.1 3207.3,52.3 3210.3,52.5 3213.2,52.6 3216.1,52.8 3219.0,53.0 3222.0,53.1 3224.9,53.3 3227.9,53.5 3230.9,53.6 3233.8,53.8 3236.8,54.0 3239.8,54.1 3242.7,54.3 3245.7,54.5 3248.7,54.7 3251.7,54.8 3254.7,55.0 3257.7,55.2 3260.7,55.3 3263.7,55.5 3266.8,55.7 3269.8,55.8 3272.8,56.0 3275.8,56.2 3278.9,56.4 3281.9,56.5 3285.0,56.7 3288.0,56.9 3291.1,57.1 3294.1,57.2 3297.2,57.4 3300.2,57.6 3303.3,57.8 3306.4,57.9 3309.5,58.1 3312.5,58.3 3315.6,58.5 3318.7,58.6 3321.8,58.8 3324.9,59.0 3328.0,59.2 3331.1,59.3 3334.2,59.5 3337.3,59.7 3340.4,59.9 3343.5,60.0 3346.6,60.2 3349.7,60.4 3352.9,60.6 3356.0,60.8 3359.1,60.9 3362.2,61.1 3365.4,61.3 3368.5,61.5 3371.6,61.6 3374.8,61.8 3377.9,62.0 3381.1,62.2 3384.2,62.4 3387.4,62.5 3390.5,62.7 3393.7,62.9 3396.8,63.1 3400.0,63.3 3403.1,63.4 3406.3,63.6 3409.4,63.8 3412.6,64.0 3415.8,64.2 3418.9,64.3 3422.1,64.5 3425.3,64.7 3428.4,64.9 3431.6,65.1 3434.8,65.2 3437.9,65.4 3441.1,65.6 3444.3,65.8 3447.5,66.0 3450.6,66.1 3453.8,66.3 3457.0,66.5 3460.2,66.7 3463.4,66.9 3466.5,67.1 3469.7,67.2 3472.9,67.4 3476.1,67.6 3479.3,67.8 3482.4,68.0 3485.6,68.1 3488.8,68.3 3492.0,68.5 3495.2,68.7 3498.3,68.9 3501.5,69.0 3504.7,69.2 3507.9,69.4 3511.1,69.6 3514.2,69.8 3517.4,70.0 3520.6,70.1 3523.8,70.3 3527.0,70.5 3530.1,70.7 3533.3,70.9 3536.5,71.0 3539.7,71.2 3542.8,71.4 3546.0,71.6 3549.2,71.8 3552.3,71.9 3555.5,72.1 3558.7,72.3 3561.8,72.5 3565.0,72.7 3568.2,72.8 3571.3,73.0 3574.5,73.2 3577.6,73.4 3580.8,73.6 3584.0,73.7 3587.1,73.9 3590.3,74.1 3593.4,74.3 3596.6,74.5 3599.7,74.6 3602.8,74.8 3606.0,75.0 3609.1,75.2 3612.3,75.4 3615.4,75.5 3618.5,75.7 3621.6,75.9 3624.8,76.1 3627.9,76.2 3631.0,76.4 3634.1,76.6 3637.2,76.8 3640.3,77.0 3643.5,77.1 3646.6,77.3 3649.7,77.5 3652.8,77.7 3655.9,77.8 3658.9,78.0 3662.0,78.2 3665.1,78.4 3668.2,78.5 3671.3,78.7 3674.4,78.9 3677.4,79.1 3680.5,79.2 3683.6,79.4 3686.6,79.6 3689.7,79.8 3692.7,79.9 3695.8,80.1 3698.8,80.3 3701.9,80.5 3704.9,80.6 3707.9,80.8 3710.9,81.0 3714.0,81.1 3715.0,81.2"/><path d="M2464.0,22.0 2467.0,22.0 2470.0,22.0 2473.1,22.0 2476.1,22.0 2479.1,22.0 2482.1,22.0 2485.1,22.0 2488.1,22.0 2491.0,22.1 2494.0,22.0 2497.0,22.0 2500.0,22.0 2503.0,22.0 2506.0,22.0 2508.9,22.0 2511.9,22.0 2514.9,22.0 2517.8,22.0 2520.8,22.0 2523.8,22.0 2526.7,22.0 2529.7,22.0 2532.7,22.0 2535.6,22.0 2538.6,22.0 2541.5,21.9 2544.5,21.9 2547.5,21.9 2550.4,21.9 2553.4,21.9 2556.3,21.9 2559.3,21.9 2562.3,21.9 2565.2,21.9 2568.2,21.9 2571.2,21.8 2574.1,21.8 2577.1,21.8 2580.1,21.8 2583.0,21.8 2586.0,21.8 2589.0,21.8 2592.0,21.8 2594.9,21.8 2597.9,21.8 2600.9,21.8 2603.9,21.8 2606.9,21.8 2609.9,21.8 2612.9,21.8 2615.9,21.8 2618.9,21.8 2621.9,21.8 2624.9,21.8 2627.9,21.8 2631.0,21.9 2634.0,21.9 2637.0,21.9 2640.1,21.9 2643.1,21.9 2646.2,21.9 2649.2,22.0 2652.3,22.0 2655.3,22.0 2658.4,22.0 2661.5,22.1 2664.6,22.1 2667.7,22.1 2670.8,22.2 2673.9,22.2 2677.0,22.3 2680.1,22.3 2683.3,22.4 2686.4,22.4 2689.5,22.5 2692.7,22.5 2695.9,22.6 2699.0,22.6 2702.2,22.7 2705.4,22.8 2708.6,22.8 2711.8,22.9 2715.0,23.0 2717.8,23.1 2720.6,23.1 2723.4,23.2 2726.2,23.3 2729.0,23.4 2731.8,23.4 2734.6,23.5 2737.4,23.6 2740.2,23.7 2742.9,23.8 2745.7,23.9 2748.5,23.9 2751.2,24.0 2754.0,24.1 2756.8,24.2 2759.5,24.3 2762.3,24.4 2765.1,24.5 2767.8,24.6 2770.6,24.7 2773.3,24.8 2776.1,24.9 2778.9,25.0 2781.6,25.1 2784.4,25.2 2787.1,25.3 2789.9,25.4 2792.7,25.5 2795.4,25.7 2798.2,25.8 2801.0,25.9 2803.7,26.0 2806.5,26.1 2809.3,26.2 2812.1,26.4 2814.8,26.5 2817.6,26.6 2820.4,26.7 2823.2,26.9 2826.0,27.0 2828.8,27.1 2831.6,27.2 2834.4,27.4 2837.2,27.5 2840.1,27.6 2842.9,27.8 2845.7,27.9 2848.6,28.0 2851.4,28.2 2854.3,28.3 2857.1,28.4 2860.0,28.6 2862.9,28.7 2865.8,28.9 2868.7,29.0 2871.6,29.1 2874.5,29.3 2877.4,29.4 2880.3,29.6 2883.3,29.7 2886.2,29.9 2889.2,30.0 2892.1,30.2 2895.1,30.3 2898.1,30.5 2901.1,30.6 2904.1,30.8 2907.1,30.9 2910.2,31.1 2913.2,31.2 2916.3,31.4 2919.3,31.6 2922.4,31.7 2925.5,31.9 2928.6,32.0 2931.7,32.2 2934.8,32.3 2938.0,32.5 2941.2,32.7 2944.3,32.8 2947.5,33.0 2950.7,33.2 2953.9,33.3 2957.2,33.5 2960.4,33.7 2963.7,33.8 2967.0,34.0 2970.3,34.2 2973.6,34.3 2976.9,34.5 2980.3,34.7 2983.6,34.8 2987.0,35.0 2990.4,35.2 2993.8,35.3 2997.3,35.5 3000.7,35.7 3004.2,35.9 3007.7,36.0 3011.2,36.2 3014.7,36.4 3018.3,36.6 3021.8,36.7 3025.4,36.9 3029.0,37.1 3032.7,37.2 3036.3,37.4 3040.0,37.6 3042.3,37.7 3044.7,37.8 3047.1,37.9 3049.5,38.1 3051.9,38.2 3054.4,38.3 3056.9,38.4 3059.4,38.5 3061.9,38.6 3064.4,38.8 3067.0,38.9 3069.6,39.0 3072.2,39.1 3074.9,39.3 3077.5,39.4 3080.2,39.5 3082.9,39.7 3085.6,39.8 3088.3,39.9 3091.1,40.1 3093.9,40.2 3096.7,40.3 3099.5,40.5 3102.3,40.6 3105.2,40.7 3108.1,40.9 3111.0,41.0 3113.9,41.1 3116.8,41.3 3119.7,41.4 3122.7,41.6 3125.7,41.7 3128.7,41.9 3131.7,42.0 3134.7,42.2 3137.8,42.3 3140.9,42.5 3144.0,42.6 3147.1,42.8 3150.2,42.9 3153.3,43.1 3156.4,43.2 3159.6,43.4 3162.8,43.5 3166.0,43.7 3169.2,43.8 3172.4,44.0 3175.6,44.1 3178.9,44.3 3182.2,44.5 3185.4,44.6 3188.7,44.8 3192.0,44.9 3195.3,45.1 3198.7,45.3 3202.0,45.4 3205.4,45.6 3208.7,45.8 3212.1,45.9 3215.5,46.1 3218.9,46.3 3222.3,46.4 3225.7,46.6 3229.2,46.8 3232.6,46.9 3236.1,47.1 3239.5,47.3 3243.0,47.4 3246.5,47.6 3250.0,47.8 3253.5,48.0 3257.0,48.1 3260.5,48.3 3264.1,48.5 3267.6,48.6 3271.1,48.8 3274.7,49.0 3278.3,49.2 3281.8,49.3 3285.4,49.5 3289.0,49.7 3292.6,49.9 3296.2,50.0 3299.8,50.2 3303.4,50.4 3307.0,50.6 3310.6,50.8 3314.3,50.9 3317.9,51.1 3321.5,51.3 3325.2,51.5 3328.8,51.7 3332.5,51.8 3336.1,52.0 3339.8,52.2 3343.5,52.4 3347.1,52.6 3350.8,52.7 3354.5,52.9 3358.2,53.1 3361.8,53.3 3365.5,53.5 3369.2,53.7 3372.9,53.8 3376.6,54.0 3380.3,54.2 3384.0,54.4 3387.7,54.6 3391.4,54.7 3395.1,54.9 3398.8,55.1 3402.5,55.3 3406.2,55.5 3409.9,55.7 3413.6,55.8 3417.3,56.0 3421.0,56.2 3424.6,56.4 3428.3,56.6 3432.0,56.8 3435.7,57.0 3439.4,57.1 3443.1,57.3 3446.8,57.5 3450.5,57.7 3454.2,57.9 3457.9,58.1 3461.5,58.2 3465.2,58.4 3468.9,58.6 3472.5,58.8 3476.2,59.0 3479.9,59.2 3483.5,59.3 3487.2,59.5 3490.8,59.7 3494.5,59.9 3498.1,60.1 3501.7,60.2 3505.4,60.4 3509.0,60.6 3512.6,60.8 3516.2,61.0 3519.8,61.2 3523.4,61.3 3527.0,61.5 3530.6,61.7 3534.1,61.9 3537.7,62.1 3541.3,62.2 3544.8,62.4 3548.4,62.6 3551.9,62.8 3555.4,62.9 3558.9,63.1 3562.5,63.3 3566.0,63.5 3569.4,63.7 3572.9,63.8 3576.4,64.0 3579.9,64.2 3583.3,64.4 3586.8,64.5 3590.2,64.7 3593.6,64.9 3597.0,65.1 3600.4,65.2 3603.8,65.4 3607.2,65.6 3610.5,65.7 3613.9,65.9 3617.2,66.1 3620.5,66.2 3623.9,66.4 3627.2,66.6 3630.4,66.8 3633.7,66.9 3637.0,67.1 3640.2,67.3 3643.4,67.4 3646.7,67.6 3649.9,67.7 3653.1,67.9 3656.2,68.1 3659.4,68.2 3662.5,68.4 3665.7,68.6 3668.8,68.7 3671.9,68.9 3674.9,69.0 3678.0,69.2 3681.1,69.4 3684.1,69.5 3687.1,69.7 3690.1,69.8 3693.1,70.0 3696.0,70.1 3699.0,70.3 3701.9,70.4 3704.8,70.6 3707.7,70.7 3710.6,70.9 3713.4,71.0 3716.2,71.2 3719.1,71.3 3721.8,71.5 3724.6,71.6 3727.4,71.8 3730.1,71.9 3732.8,72.0 3735.5,72.2 3738.2,72.3 3740.8,72.5 3743.4,72.6 3746.1,72.7 3748.6,72.9 3751.2,73.0 3753.7,73.1 3756.3,73.3 3758.7,73.4 3761.2,73.5 3763.7,73.7 3766.1,73.8 3768.5,73.9 3770.9,74.1 3773.2,74.2 3775.6,74.3 3777.9,74.4 3780.2,74.6 3782.4,74.7 3784.6,74.8 3786.9,74.9 3789.0,75.0 3791.2,75.2 3793.3,75.3 3795.4,75.4 3797.5,75.5 3799.6,75.6 3801.6,75.7 3803.6,75.8 3805.6,75.9 3807.5,76.0 3809.4,76.1 3811.3,76.3 3813.2,76.4 3815.0,76.5 3816.8,76.6 3818.6,76.7 3820.3,76.8 3822.0,76.9 3823.7,77.0 3825.4,77.0 3827.0,77.1 3828.6,77.2 3830.2,77.3 3831.7,77.4 3833.2,77.5 3834.7,77.6 3836.2,77.7 3837.6,77.8 3839.0,77.8 3840.3,77.9 3841.7,78.0 3842.9,78.1 3844.2,78.1 3845.4,78.2 3846.6,78.3 3847.8,78.4 3848.9,78.4 3850.0,78.5 3855.0,78.8 3859.3,79.1 3863.2,79.4 3866.6,79.6 3869.7,79.9 3872.5,80.1 3874.8,80.3"/><path d="M2464.0,21.5 2467.0,21.5 2470.0,21.5 2473.1,21.5 2476.1,21.5 2479.1,21.5 2482.1,21.5 2485.1,21.5 2488.1,21.5 2491.0,21.5 2494.0,21.5 2497.0,21.5 2500.0,21.5 2503.0,21.5 2506.0,21.5 2508.9,21.5 2511.9,21.5 2514.9,21.5 2517.8,21.5 2520.8,21.5 2523.8,21.5 2526.7,21.5 2529.7,21.5 2532.7,21.5 2535.6,21.5 2538.6,21.5 2541.5,21.5 2544.5,21.5 2547.5,21.4 2550.4,21.4 2553.4,21.4 2556.3,21.4 2559.3,21.4 2562.3,21.4 2565.2,21.4 2568.2,21.4 2571.1,21.4 2574.1,21.4 2577.1,21.4 2580.0,21.4 2583.0,21.4 2586.0,21.4 2589.0,21.4 2591.9,21.4 2594.9,21.4 2597.9,21.4 2600.9,21.4 2603.9,21.4 2606.9,21.4 2609.9,21.4 2612.9,21.4 2615.9,21.4 2618.9,21.4 2621.9,21.4 2624.9,21.4 2627.9,21.4 2631.0,21.4 2634.0,21.4 2637.0,21.4 2640.1,21.4 2643.1,21.5 2646.2,21.5 2649.2,21.5 2652.3,21.5 2655.3,21.5 2658.4,21.6 2661.5,21.6 2664.6,21.6 2667.7,21.6 2670.8,21.7 2673.9,21.7 2677.0,21.7 2680.1,21.8 2683.3,21.8 2686.4,21.8 2689.5,21.9 2692.7,21.9 2695.9,22.0 2699.0,22.0 2702.2,22.1 2705.4,22.1 2708.6,22.2 2711.8,22.2 2715.0,22.3 2717.8,22.4 2720.6,22.4 2723.4,22.5 2726.2,22.5 2729.0,22.6 2731.8,22.6 2734.6,22.7 2737.4,22.8 2740.2,22.8 2742.9,22.9 2745.7,23.0 2748.5,23.1 2751.2,23.1 2754.0,23.2 2756.8,23.3 2759.5,23.3 2762.3,23.4 2765.1,23.5 2767.8,23.6 2770.6,23.7 2773.3,23.7 2776.1,23.8 2778.8,23.9 2781.6,24.0 2784.4,24.1 2787.1,24.2 2789.9,24.3 2792.7,24.3 2795.4,24.4 2798.2,24.5 2801.0,24.6 2803.7,24.7 2806.5,24.8 2809.3,24.9 2812.0,25.0 2814.8,25.1 2817.6,25.2 2820.4,25.3 2823.2,25.4 2826.0,25.5 2828.8,25.6 2831.6,25.7 2834.4,25.8 2837.2,25.9 2840.1,26.0 2842.9,26.1 2845.7,26.2 2848.6,26.3 2851.4,26.4 2854.3,26.6 2857.1,26.7 2860.0,26.8 2862.9,26.9 2865.8,27.0 2868.7,27.1 2871.6,27.2 2874.5,27.3 2877.4,27.5 2880.3,27.6 2883.3,27.7 2886.2,27.8 2889.2,27.9 2892.1,28.0 2895.1,28.2 2898.1,28.3 2901.1,28.4 2904.1,28.5 2907.1,28.6 2910.1,28.8 2913.2,28.9 2916.2,29.0 2919.3,29.1 2922.4,29.3 2925.5,29.4 2928.6,29.5 2931.7,29.6 2934.8,29.7 2938.0,29.9 2941.1,30.0 2944.3,30.1 2947.5,30.2 2950.7,30.4 2953.9,30.5 2957.2,30.6 2960.4,30.8 2963.7,30.9 2967.0,31.0 2970.3,31.1 2973.6,31.3 2976.9,31.4 2980.3,31.5 2983.6,31.6 2987.0,31.8 2990.4,31.9 2993.8,32.0 2997.3,32.2 3000.7,32.3 3004.2,32.4 3007.7,32.5 3011.2,32.7 3014.7,32.8 3018.3,32.9 3021.8,33.1 3025.4,33.2 3029.0,33.3 3032.7,33.4 3036.3,33.6 3040.0,33.7 3042.3,33.8 3044.7,33.9 3047.1,33.9 3049.4,34.0 3051.9,34.1 3054.3,34.2 3056.7,34.3 3059.2,34.3 3061.6,34.4 3064.1,34.5 3066.6,34.6 3069.1,34.7 3071.7,34.8 3074.2,34.8 3076.8,34.9 3079.4,35.0 3082.0,35.1 3084.6,35.2 3087.2,35.3 3089.9,35.3 3092.5,35.4 3095.2,35.5 3097.9,35.6 3100.6,35.7 3103.3,35.8 3106.0,35.8 3108.8,35.9 3111.5,36.0 3114.3,36.1 3117.1,36.2 3119.9,36.3 3122.7,36.3 3125.5,36.4 3128.3,36.5 3131.2,36.6 3134.1,36.7 3136.9,36.8 3139.8,36.8 3142.7,36.9 3145.6,37.0 3148.5,37.1 3151.5,37.2 3154.4,37.3 3157.4,37.4 3160.4,37.4 3163.3,37.5 3166.3,37.6 3169.3,37.7 3172.3,37.8 3175.4,37.9 3178.4,38.0 3181.5,38.0 3184.5,38.1 3187.6,38.2 3190.6,38.3 3193.7,38.4 3196.8,38.5 3199.9,38.6 3203.0,38.7 3206.2,38.7 3209.3,38.8 3212.4,38.9 3215.6,39.0 3218.8,39.1 3221.9,39.2 3225.1,39.3 3228.3,39.4 3231.5,39.5 3234.7,39.5 3237.9,39.6 3241.1,39.7 3244.3,39.8 3247.6,39.9 3250.8,40.0 3254.1,40.1 3257.3,40.2 3260.6,40.3 3263.8,40.4 3267.1,40.4 3270.4,40.5 3273.7,40.6 3277.0,40.7 3280.3,40.8 3283.6,40.9 3286.9,41.0 3290.2,41.1 3293.5,41.2 3296.9,41.3 3300.2,41.4 3303.5,41.5 3306.9,41.5 3310.2,41.6 3313.6,41.7 3316.9,41.8 3320.3,41.9 3323.7,42.0 3327.0,42.1 3330.4,42.2 3333.8,42.3 3337.2,42.4 3340.6,42.5 3343.9,42.6 3347.3,42.7 3350.7,42.8 3354.1,42.9 3357.5,43.0 3360.9,43.1 3364.3,43.1 3367.8,43.2 3371.2,43.3 3374.6,43.4 3378.0,43.5 3381.4,43.6 3384.8,43.7 3388.3,43.8 3391.7,43.9 3395.1,44.0 3398.5,44.1 3402.0,44.2 3405.4,44.3 3408.8,44.4 3412.2,44.5 3415.7,44.6 3419.1,44.7 3422.5,44.8 3426.0,44.9 3429.4,45.0 3432.8,45.1 3436.2,45.2 3439.7,45.3 3443.1,45.4 3446.5,45.5 3450.0,45.6 3453.4,45.7 3456.8,45.8 3460.2,45.9 3463.7,46.0 3467.1,46.1 3470.5,46.2 3473.9,46.3 3477.3,46.4 3480.7,46.5 3484.1,46.6 3487.6,46.7 3491.0,46.8 3494.4,46.9 3497.8,47.0 3501.2,47.1 3504.6,47.2 3507.9,47.3 3511.3,47.4 3514.7,47.5 3518.1,47.6 3521.5,47.7 3524.8,47.9 3528.2,48.0 3531.6,48.1 3534.9,48.2 3538.3,48.3 3541.6,48.4 3545.0,48.5 3548.3,48.6 3551.7,48.7 3555.0,48.8 3558.3,48.9 3561.6,49.0 3565.0,49.1 3568.3,49.2 3571.6,49.3 3574.9,49.4 3578.2,49.6 3581.4,49.7 3584.7,49.8 3588.0,49.9 3591.2,50.0 3594.5,50.1 3597.8,50.2 3601.0,50.3 3604.2,50.4 3607.5,50.5 3610.7,50.7 3613.9,50.8 3617.1,50.9 3620.3,51.0 3623.5,51.1 3626.7,51.2 3629.8,51.3 3633.0,51.4 3636.2,51.5 3639.3,51.7 3642.4,51.8 3645.6,51.9 3648.7,52.0 3651.8,52.1 3654.9,52.2 3658.0,52.3 3661.1,52.5 3664.1,52.6 3667.2,52.7 3670.2,52.8 3673.3,52.9 3676.3,53.0 3679.3,53.1 3682.3,53.3 3685.3,53.4 3688.3,53.5 3691.3,53.6 3694.3,53.7 3697.2,53.8 3700.2,54.0 3703.1,54.1 3706.0,54.2 3708.9,54.3 3711.8,54.4 3714.7,54.6 3717.5,54.7 3720.4,54.8 3723.2,54.9 3726.1,55.0 3728.9,55.1 3731.7,55.3 3734.5,55.4 3737.3,55.5 3740.0,55.6 3742.8,55.8 3745.5,55.9 3748.2,56.0 3750.9,56.1 3753.6,56.2 3756.3,56.4 3759.0,56.5 3761.6,56.6 3764.2,56.7 3766.9,56.9 3769.5,57.0 3772.1,57.1 3774.6,57.2 3777.2,57.4 3779.7,57.5 3782.3,57.6 3784.8,57.7 3787.3,57.9 3789.7,58.0 3792.2,58.1 3794.6,58.2 3797.1,58.4 3799.5,58.5 3801.9,58.6 3804.3,58.7 3806.6,58.9 3809.0,59.0 3811.3,59.1 3813.6,59.3 3815.9,59.4 3818.2,59.5 3820.4,59.7 3822.7,59.8 3824.9,59.9 3827.1,60.0 3829.2,60.2 3831.4,60.3 3833.6,60.4 3835.7,60.6 3837.8,60.7 3839.9,60.8 3841.9,61.0 3844.0,61.1 3846.0,61.2 3848.0,61.4 3850.0,61.5 3854.0,61.8 3858.0,62.1 3861.9,62.3 3865.7,62.6 3869.5,62.9 3873.2,63.2 3876.9,63.5 3880.5,63.8 3884.0,64.0 3887.6,64.3 3891.0,64.6 3894.4,64.9 3897.8,65.2 3901.1,65.5 3904.4,65.8 3907.6,66.1 3910.8,66.4 3914.0,66.7 3917.1,67.0 3920.2,67.3 3923.3,67.6 3926.3,67.9 3929.3,68.2 3932.2,68.5 3935.2,68.9 3938.1,69.2 3940.9,69.5 3943.8,69.8 3946.6,70.1 3949.4,70.4 3952.2,70.7 3955.0,71.0 3957.8,71.4 3960.5,71.7 3963.2,72.0 3966.0,72.3 3968.7,72.6 3971.4,72.9 3974.0,73.2 3976.7,73.6 3979.4,73.9 3982.1,74.2 3984.8,74.5 3987.4,74.8 3990.1,75.1 3992.8,75.5 3995.4,75.8 3998.1,76.1 4000.8,76.4 4003.5,76.7 4006.2,77.0 4008.9,77.4 4011.7,77.7 4014.4,78.0 4017.2,78.3 4020.0,78.6 4022.8,78.9 4025.6,79.2 4028.4,79.5 4031.3,79.9 4032.1,79.9"/><path d="M2464.0,21.0 2467.0,21.0 2470.0,21.0 2473.1,21.0 2476.1,21.0 2479.1,21.0 2482.1,21.0 2485.1,21.0 2488.1,21.0 2491.0,21.0 2494.0,21.0 2497.0,21.0 2500.0,21.0 2503.0,21.0 2506.0,21.0 2508.9,21.0 2511.9,21.0 2514.9,21.0 2517.8,21.0 2520.8,21.0 2523.8,21.0 2526.7,21.0 2529.7,21.0 2532.7,21.0 2535.6,21.0 2538.6,21.0 2541.5,21.0 2544.5,21.0 2547.5,20.9 2550.4,20.9 2553.4,20.9 2556.3,20.9 2559.3,20.9 2562.3,20.9 2565.2,20.9 2568.2,20.9 2571.1,20.9 2574.1,20.9 2577.1,20.9 2580.0,20.9 2583.0,20.9 2586.0,20.9 2589.0,20.9 2591.9,20.9 2594.9,20.9 2597.9,20.9 2600.9,20.9 2603.9,20.9 2606.9,20.9 2609.9,20.9 2612.9,20.9 2615.9,20.9 2618.9,20.9 2621.9,20.9 2624.9,20.9 2627.9,20.9 2631.0,20.9 2634.0,20.9 2637.0,20.9 2640.1,20.9 2643.1,20.9 2646.2,21.0 2649.2,21.0 2652.3,21.0 2655.3,21.0 2658.4,21.0 2661.5,21.0 2664.6,21.1 2667.7,21.1 2670.8,21.1 2673.9,21.1 2677.0,21.2 2680.1,21.2 2683.3,21.2 2686.4,21.2 2689.5,21.3 2692.7,21.3 2695.8,21.3 2699.0,21.4 2702.2,21.4 2705.4,21.5 2708.6,21.5 2711.8,21.6 2715.0,21.6 2717.8,21.6 2720.6,21.7 2723.4,21.7 2726.2,21.8 2729.0,21.8 2731.8,21.9 2734.6,21.9 2737.4,22.0 2740.2,22.0 2742.9,22.1 2745.7,22.1 2748.5,22.2 2751.2,22.2 2754.0,22.3 2756.8,22.4 2759.5,22.4 2762.3,22.5 2765.1,22.5 2767.8,22.6 2770.6,22.7 2773.3,22.7 2776.1,22.8 2778.8,22.9 2781.6,22.9 2784.4,23.0 2787.1,23.1 2789.9,23.1 2792.6,23.2 2795.4,23.3 2798.2,23.3 2800.9,23.4 2803.7,23.5 2806.5,23.6 2809.3,23.6 2812.0,23.7 2814.8,23.8 2817.6,23.9 2820.4,23.9 2823.2,24.0 2826.0,24.1 2828.8,24.2 2831.6,24.3 2834.4,24.3 2837.2,24.4 2840.1,24.5 2842.9,24.6 2845.7,24.7 2848.6,24.8 2851.4,24.8 2854.3,24.9 2857.1,25.0 2860.0,25.1 2862.9,25.2 2865.8,25.3 2868.7,25.4 2871.6,25.5 2874.5,25.5 2877.4,25.6 2880.3,25.7 2883.3,25.8 2886.2,25.9 2889.2,26.0 2892.1,26.1 2895.1,26.2 2898.1,26.3 2901.1,26.4 2904.1,26.5 2907.1,26.6 2910.1,26.7 2913.2,26.8 2916.2,26.9 2919.3,27.0 2922.4,27.1 2925.5,27.2 2928.6,27.2 2931.7,27.3 2934.8,27.4 2938.0,27.5 2941.1,27.6 2944.3,27.7 2947.5,27.8 2950.7,27.9 2953.9,28.0 2957.2,28.1 2960.4,28.2 2963.7,28.3 2967.0,28.4 2970.3,28.5 2973.6,28.6 2976.9,28.8 2980.3,28.9 2983.6,29.0 2987.0,29.1 2990.4,29.2 2993.8,29.3 2997.3,29.4 3000.7,29.5 3004.2,29.6 3007.7,29.7 3011.2,29.8 3014.7,29.9 3018.3,30.0 3021.8,30.1 3025.4,30.2 3029.0,30.3 3032.7,30.4 3036.3,30.5 3040.0,30.6 3042.3,30.7 3044.7,30.7 3047.0,30.8 3049.4,30.9 3051.8,30.9 3054.2,31.0 3056.6,31.1 3059.1,31.1 3061.5,31.2 3064.0,31.2 3066.5,31.3 3068.9,31.4 3071.4,31.4 3074.0,31.5 3076.5,31.6 3079.0,31.6 3081.6,31.7 3084.1,31.8 3086.7,31.8 3089.3,31.9 3091.9,32.0 3094.5,32.0 3097.1,32.1 3099.8,32.2 3102.4,32.2 3105.1,32.3 3107.8,32.4 3110.5,32.4 3113.2,32.5 3115.9,32.5 3118.6,32.6 3121.3,32.7 3124.1,32.7 3126.8,32.8 3129.6,32.9 3132.4,32.9 3135.2,33.0 3138.0,33.1 3140.8,33.1 3143.6,33.2 3146.4,33.3 3149.2,33.3 3152.1,33.4 3155.0,33.5 3157.8,33.5 3160.7,33.6 3163.6,33.7 3166.5,33.7 3169.4,33.8 3172.3,33.9 3175.2,33.9 3178.2,34.0 3181.1,34.1 3184.1,34.1 3187.0,34.2 3190.0,34.3 3193.0,34.3 3196.0,34.4 3199.0,34.5 3202.0,34.5 3205.0,34.6 3208.0,34.7 3211.0,34.7 3214.1,34.8 3217.1,34.9 3220.2,34.9 3223.2,35.0 3226.3,35.1 3229.4,35.1 3232.5,35.2 3235.5,35.3 3238.6,35.3 3241.7,35.4 3244.9,35.5 3248.0,35.5 3251.1,35.6 3254.2,35.7 3257.4,35.7 3260.5,35.8 3263.6,35.9 3266.8,36.0 3270.0,36.0 3273.1,36.1 3276.3,36.2 3279.5,36.2 3282.7,36.3 3285.8,36.4 3289.0,36.4 3292.2,36.5 3295.4,36.6 3298.6,36.6 3301.9,36.7 3305.1,36.8 3308.3,36.9 3311.5,36.9 3314.8,37.0 3318.0,37.1 3321.2,37.1 3324.5,37.2 3327.7,37.3 3331.0,37.4 3334.2,37.4 3337.5,37.5 3340.8,37.6 3344.0,37.7 3347.3,37.7 3350.6,37.8 3353.9,37.9 3357.1,37.9 3360.4,38.0 3363.7,38.1 3367.0,38.2 3370.3,38.2 3373.6,38.3 3376.9,38.4 3380.2,38.5 3383.5,38.5 3386.8,38.6 3390.1,38.7 3393.4,38.8 3396.7,38.8 3400.0,38.9 3403.3,39.0 3406.6,39.1 3410.0,39.1 3413.3,39.2 3416.6,39.3 3419.9,39.4 3423.2,39.5 3426.5,39.5 3429.9,39.6 3433.2,39.7 3436.5,39.8 3439.8,39.8 3443.2,39.9 3446.5,40.0 3449.8,40.1 3453.1,40.2 3456.4,40.2 3459.8,40.3 3463.1,40.4 3466.4,40.5 3469.7,40.6 3473.1,40.6 3476.4,40.7 3479.7,40.8 3483.0,40.9 3486.3,41.0 3489.6,41.1 3493.0,41.1 3496.3,41.2 3499.6,41.3 3502.9,41.4 3506.2,41.5 3509.5,41.6 3512.8,41.6 3516.1,41.7 3519.4,41.8 3522.7,41.9 3526.0,42.0 3529.3,42.1 3532.6,42.1 3535.9,42.2 3539.2,42.3 3542.5,42.4 3545.7,42.5 3549.0,42.6 3552.3,42.7 3555.6,42.8 3558.8,42.8 3562.1,42.9 3565.3,43.0 3568.6,43.1 3571.8,43.2 3575.1,43.3 3578.3,43.4 3581.6,43.5 3584.8,43.6 3588.0,43.7 3591.3,43.7 3594.5,43.8 3597.7,43.9 3600.9,44.0 3604.1,44.1 3607.3,44.2 3610.5,44.3 3613.7,44.4 3616.9,44.5 3620.1,44.6 3623.3,44.7 3626.4,44.8 3629.6,44.9 3632.8,45.0 3635.9,45.1 3639.1,45.1 3642.2,45.2 3645.3,45.3 3648.5,45.4 3651.6,45.5 3654.7,45.6 3657.8,45.7 3660.9,45.8 3664.0,45.9 3667.1,46.0 3670.2,46.1 3673.2,46.2 3676.3,46.3 3679.4,46.4 3682.4,46.5 3685.5,46.6 3688.5,46.7 3691.5,46.8 3694.5,46.9 3697.6,47.0 3700.6,47.1 3703.6,47.3 3706.5,47.4 3709.5,47.5 3712.5,47.6 3715.5,47.7 3718.4,47.8 3721.3,47.9 3724.3,48.0 3727.2,48.1 3730.1,48.2 3733.0,48.3 3735.9,48.4 3738.8,48.5 3741.7,48.6 3744.6,48.8 3747.4,48.9 3750.3,49.0 3753.1,49.1 3755.9,49.2 3758.7,49.3 3761.5,49.4 3764.3,49.5 3767.1,49.6 3769.9,49.8 3772.7,49.9 3775.4,50.0 3778.2,50.1 3780.9,50.2 3783.6,50.3 3786.3,50.4 3789.0,50.6 3791.7,50.7 3794.4,50.8 3797.0,50.9 3799.7,51.0 3802.3,51.2 3804.9,51.3 3807.6,51.4 3810.2,51.5 3812.7,51.6 3815.3,51.8 3817.9,51.9 3820.4,52.0 3823.0,52.1 3825.5,52.2 3828.0,52.4 3830.5,52.5 3833.0,52.6 3835.5,52.7 3837.9,52.9 3840.4,53.0 3842.8,53.1 3845.2,53.2 3847.6,53.4 3850.0,53.5 3853.6,53.7 3857.2,53.9 3860.8,54.1 3864.3,54.3 3867.9,54.5 3871.4,54.7 3874.9,54.9 3878.3,55.1 3881.8,55.3 3885.2,55.5 3888.7,55.7 3892.1,55.9 3895.4,56.2 3898.8,56.4 3902.1,56.6 3905.5,56.8 3908.8,57.0 3912.1,57.2 3915.4,57.5 3918.6,57.7 3921.9,57.9 3925.1,58.1 3928.3,58.3 3931.5,58.6 3934.7,58.8 3937.9,59.0 3941.0,59.2 3944.2,59.5 3947.3,59.7 3950.4,59.9 3953.5,60.2 3956.6,60.4 3959.7,60.6 3962.8,60.9 3965.8,61.1 3968.9,61.3 3971.9,61.6 3974.9,61.8 3977.9,62.0 3980.9,62.3 3983.9,62.5 3986.9,62.8 3989.9,63.0 3992.8,63.2 3995.8,63.5 3998.7,63.7 4001.6,64.0 4004.6,64.2 4007.5,64.5 4010.4,64.7 4013.3,65.0 4016.2,65.2 4019.1,65.4 4022.0,65.7 4024.8,65.9 4027.7,66.2 4030.6,66.4 4033.4,66.7 4036.3,66.9 4039.1,67.2 4041.9,67.4 4044.8,67.7 4047.6,67.9 4050.4,68.2 4053.3,68.4 4056.1,68.7 4058.9,68.9 4061.7,69.2 4064.5,69.4 4067.3,69.7 4070.1,70.0 4072.9,70.2 4075.7,70.5 4078.5,70.7 4081.3,71.0 4084.1,71.2 4086.9,71.5 4089.7,71.7 4092.5,72.0 4095.3,72.2 4098.1,72.5 4100.9,72.7 4103.7,73.0 4106.5,73.2 4109.3,73.5 4112.1,73.7 4114.9,74.0 4117.7,74.2 4120.5,74.5 4123.4,74.8 4126.2,75.0 4129.0,75.3 4131.8,75.5 4134.7,75.8 4137.5,76.0 4140.3,76.3 4143.2,76.5 4146.0,76.8 4148.9,77.0 4151.7,77.3 4154.6,77.5 4157.5,77.8 4160.4,78.0 4163.2,78.2 4166.1,78.5 4169.0,78.7 4171.9,79.0 4174.9,79.2 4177.8,79.5 4180.7,79.7 4183.7,80.0 4186.6,80.2 4187.5,80.3"/><path d="M2393.0,31.4 2390.6,33.2 2388.1,34.9 2385.6,36.7 2383.0,38.4 2380.5,40.1 2377.9,41.8 2375.4,43.5 2372.8,45.2 2370.3,46.9 2367.8,48.7 2365.3,50.5 2362.9,52.3 2360.6,54.1 2358.3,56.0 2356.1,57.9 2354.0,59.9 2352.0,62.0 2350.0,64.2 2348.0,66.5 2346.1,68.8 2344.3,71.2 2342.6,73.6 2340.9,76.0 2339.3,78.5 2337.7,81.0 2336.2,83.5 2334.7,86.1 2333.2,88.8 2331.8,91.5 2330.3,94.3 2328.9,97.1 2327.4,100.0 2326.2,102.5 2324.9,105.1 2323.6,107.7 2322.4,110.3 2321.1,113.0 2319.9,115.7 2318.7,118.5 2317.4,121.3 2316.2,124.2 2315.1,127.0 2313.9,130.0 2312.8,132.9 2311.8,135.9 2310.8,138.9 2309.8,141.9 2308.9,144.9 2308.0,148.0 2307.2,151.1 2306.5,154.2 2305.8,157.4 2305.2,160.5 2304.7,163.3 2304.3,166.1 2303.9,169.0 2303.6,171.9 2303.3,174.9 2303.1,177.9 2302.9,180.9 2302.7,183.9 2302.6,187.0 2302.5,190.1 2302.4,193.2 2302.4,196.3 2302.4,199.4 2302.5,202.5 2302.5,205.7 2302.6,208.8 2302.8,212.0 2302.9,215.1 2303.1,218.2 2303.3,221.4 2303.5,224.5 2303.7,227.6 2304.0,230.6 2304.3,233.7 2304.6,236.7 2304.9,239.7 2305.2,242.7 2305.6,245.8 2306.0,248.8 2306.4,251.9 2306.9,254.9 2307.4,257.9 2307.9,260.9 2308.5,264.0 2309.0,267.0 2309.7,269.9 2310.3,272.9 2311.0,275.9 2311.7,278.9 2312.4,281.9 2313.1,284.8 2313.9,287.8 2314.6,290.8 2315.4,293.7 2316.2,296.7 2317.0,299.6 2317.8,302.6 2318.6,305.5 2319.5,308.5 2320.3,311.4 2321.2,314.4 2322.0,317.4 2322.8,320.2 2323.7,323.1 2324.6,326.0 2325.5,328.9 2326.5,331.8 2327.4,334.7 2328.4,337.5 2329.4,340.4 2330.4,343.3 2331.4,346.1 2332.4,349.0 2333.5,351.9 2334.5,354.7 2335.6,357.6 2336.6,360.5 2337.7,363.3 2338.7,366.2"/><path d="M2349.0,24.5 2346.0,24.6 2343.0,24.7 2340.0,24.8 2337.1,24.8 2334.1,24.9 2331.1,25.0 2328.2,25.1 2325.2,25.2 2322.3,25.2 2319.3,25.3 2316.4,25.4 2313.4,25.5 2310.5,25.6 2307.6,25.6 2304.6,25.7 2301.7,25.8 2298.8,25.9 2295.9,25.9 2293.0,26.0 2290.0,26.1 2287.1,26.2 2284.2,26.2 2281.3,26.3 2278.3,26.4 2275.4,26.4 2272.5,26.5 2269.6,26.6 2266.6,26.7 2263.7,26.8 2260.8,26.8 2257.8,26.9 2254.9,27.0 2252.0,27.1 2249.0,27.1 2246.1,27.2 2243.1,27.3 2240.1,27.4 2237.2,27.5 2234.2,27.5 2231.2,27.6 2228.2,27.7 2225.2,27.8 2222.2,27.9 2219.2,28.0 2216.2,28.1 2213.2,28.2 2210.1,28.3 2207.1,28.4 2204.0,28.4 2200.9,28.5 2197.9,28.6 2194.8,28.7 2191.7,28.9 2188.6,29.0 2185.5,29.1 2182.3,29.2 2179.2,29.3 2176.0,29.4 2172.8,29.5 2169.6,29.6 2166.4,29.8 2163.2,29.9 2160.0,30.0 2157.2,30.1 2154.4,30.2 2151.5,30.3 2148.7,30.4 2145.8,30.5 2142.9,30.7 2140.0,30.8 2137.0,30.9 2134.0,31.0 2131.0,31.1 2128.0,31.2 2125.0,31.3 2122.0,31.5 2118.9,31.6 2115.9,31.7 2112.8,31.8 2109.7,31.9 2106.6,32.0 2103.4,32.2 2100.3,32.3 2097.1,32.4 2094.0,32.5 2090.8,32.7 2087.6,32.8 2084.4,32.9 2081.3,33.0 2078.0,33.2 2074.8,33.3 2071.6,33.4 2068.4,33.5 2065.2,33.7 2061.9,33.8 2058.7,33.9 2055.5,34.1 2052.2,34.2 2049.0,34.3 2045.8,34.5 2042.5,34.6 2039.3,34.7 2036.0,34.9 2032.8,35.0 2029.6,35.2 2026.3,35.3 2023.1,35.5 2019.9,35.6 2016.7,35.7 2013.5,35.9 2010.3,36.0 2007.1,36.2 2003.9,36.3 2000.7,36.5 1997.5,36.6 1994.4,36.8 1991.2,37.0 1988.1,37.1 1985.0,37.3 1981.8,37.4 1978.7,37.6 1975.7,37.8 1972.6,37.9 1969.5,38.1 1966.5,38.3 1963.5,38.4 1960.4,38.6 1957.5,38.8 1954.5,38.9 1951.5,39.1 1948.6,39.3 1945.7,39.5 1942.8,39.6 1939.9,39.8 1937.1,40.0 1934.3,40.2 1931.5,40.4 1928.7,40.5 1925.9,40.7 1923.2,40.9 1920.5,41.1 1917.9,41.3 1915.2,41.5 1912.6,41.7 1910.0,41.9 1907.5,42.1 1905.0,42.3 1902.5,42.5 1900.0,42.7 1896.4,43.0 1892.9,43.3 1889.5,43.6 1886.0,43.9 1882.7,44.2 1879.3,44.6 1876.0,44.9 1872.7,45.2 1869.5,45.5 1866.3,45.9 1863.2,46.2 1860.0,46.5 1856.9,46.9 1853.8,47.2 1850.8,47.6 1847.8,47.9 1844.8,48.3 1841.8,48.6 1838.9,49.0 1836.0,49.4 1833.1,49.7 1830.2,50.1 1827.3,50.4 1824.5,50.8 1821.6,51.2 1818.8,51.6 1816.0,51.9 1813.2,52.3 1810.4,52.7 1807.6,53.1 1804.9,53.5 1802.1,53.8 1799.3,54.2 1796.6,54.6 1793.8,55.0 1791.1,55.4 1788.3,55.8 1785.5,56.2 1782.8,56.6 1780.0,57.0 1776.8,57.5 1773.7,57.9 1770.6,58.4 1767.5,58.9 1764.5,59.4 1761.5,60.0 1758.5,60.5 1755.6,61.0 1752.6,61.6 1749.7,62.1 1746.8,62.6 1743.9,63.2 1741.1,63.7 1738.2,64.3 1735.3,64.8 1732.5,65.4 1729.6,65.9 1726.7,66.4 1723.9,67.0 1721.0,67.5 1718.1,68.0 1715.2,68.5 1712.2,69.0 1709.3,69.5 1706.3,69.9 1703.3,70.4 1700.3,70.9 1697.2,71.3 1694.1,71.7 1691.0,72.1 1688.1,72.4 1685.3,72.8 1682.4,73.1 1679.4,73.4 1676.5,73.7 1673.6,74.0 1670.6,74.3 1667.6,74.6 1664.6,74.9 1661.6,75.1 1658.6,75.4 1655.6,75.6 1652.5,75.8 1649.5,76.1 1646.4,76.3 1643.3,76.5 1640.3,76.8 1637.2,77.0 1634.1,77.2 1631.0,77.4 1627.9,77.6 1624.8,77.8 1621.7,78.0 1618.6,78.2 1615.5,78.4 1612.4,78.6 1609.3,78.8 1606.2,79.0 1603.2,79.2 1600.1,79.4 1597.0,79.6 1593.9,79.9 1592.6,80.0"/><path d="M2400.5,31.4 2399.4,34.4 2398.3,37.2 2397.2,40.1 2396.0,42.9 2394.8,45.7 2393.7,48.4 2392.5,51.3 2391.4,54.1 2390.3,57.1 2389.2,60.1 2388.3,63.2 2387.4,66.5 2386.5,69.9 2385.8,73.5 2385.4,75.9 2385.0,78.4 2384.6,81.0 2384.3,83.7 2383.9,86.4 2383.7,89.2 2383.4,92.1 2383.1,95.1 2382.9,98.1 2382.7,101.1 2382.5,104.2 2382.4,107.3 2382.3,110.4 2382.1,113.6 2382.0,116.8 2382.0,120.1 2381.9,123.3 2381.9,126.5 2381.9,129.8 2381.9,133.0 2381.9,136.3 2381.9,139.5 2382.0,142.7 2382.0,145.9 2382.1,149.1 2382.2,152.2 2382.3,155.3 2382.4,158.3 2382.5,161.3 2382.7,164.3 2382.8,167.2 2383.0,170.0 2383.2,173.2 2383.5,176.4 2383.7,179.6 2384.0,182.7 2384.4,185.8 2384.7,188.9 2385.1,192.0 2385.5,195.0 2386.0,198.0 2386.4,201.0 2386.9,204.0 2387.4,207.0 2387.9,209.9 2388.4,212.9 2388.9,215.9 2389.5,218.8 2390.0,221.8 2390.6,224.7 2391.1,227.7 2391.7,230.7 2392.3,233.6 2392.9,236.6 2393.4,239.7 2394.0,242.7 2394.6,245.7 2395.2,248.6 2395.8,251.6 2396.4,254.6 2397.0,257.6 2397.6,260.6 2398.3,263.5 2399.0,266.5 2399.6,269.5 2400.3,272.5 2401.0,275.5 2401.7,278.5 2402.4,281.4 2403.1,284.4 2403.8,287.4 2404.5,290.4 2404.7,291.0"/><path d="M2349.0,20.0 2346.0,20.0 2343.0,20.0 2340.0,20.0 2337.1,20.1 2334.1,20.1 2331.1,20.1 2328.2,20.1 2325.2,20.1 2322.3,20.1 2319.3,20.1 2316.4,20.1 2313.4,20.2 2310.5,20.2 2307.6,20.2 2304.6,20.2 2301.7,20.2 2298.8,20.2 2295.9,20.2 2293.0,20.2 2290.0,20.2 2287.1,20.3 2284.2,20.3 2281.3,20.3 2278.4,20.3 2275.4,20.3 2272.5,20.3 2269.6,20.3 2266.7,20.3 2263.7,20.4 2260.8,20.4 2257.8,20.4 2254.9,20.4 2252.0,20.4 2249.0,20.4 2246.1,20.4 2243.1,20.4 2240.1,20.5 2237.2,20.5 2234.2,20.5 2231.2,20.5 2228.2,20.5 2225.2,20.5 2222.2,20.5 2219.2,20.5 2216.2,20.6 2213.2,20.6 2210.1,20.6 2207.1,20.6 2204.0,20.6 2201.0,20.6 2197.9,20.6 2194.8,20.7 2191.7,20.7 2188.6,20.7 2185.5,20.7 2182.3,20.7 2179.2,20.7 2176.0,20.7 2172.8,20.7 2169.6,20.8 2166.4,20.8 2163.2,20.8 2160.0,20.8 2157.2,20.8 2154.4,20.8 2151.6,20.8 2148.7,20.8 2145.9,20.9 2143.0,20.9 2140.2,20.9 2137.3,20.9 2134.4,20.9 2131.4,20.9 2128.5,20.9 2125.6,20.9 2122.6,21.0 2119.7,21.0 2116.7,21.0 2113.7,21.0 2110.7,21.0 2107.7,21.0 2104.7,21.0 2101.7,21.0 2098.6,21.1 2095.6,21.1 2092.5,21.1 2089.5,21.1 2086.4,21.1 2083.4,21.1 2080.3,21.1 2077.2,21.1 2074.1,21.2 2071.0,21.2 2067.9,21.2 2064.8,21.2 2061.7,21.2 2058.6,21.2 2055.5,21.2 2052.4,21.3 2049.2,21.3 2046.1,21.3 2043.0,21.3 2039.9,21.3 2036.7,21.3 2033.6,21.3 2030.5,21.3 2027.3,21.4 2024.2,21.4 2021.1,21.4 2017.9,21.4 2014.8,21.4 2011.7,21.4 2008.5,21.4 2005.4,21.4 2002.3,21.5 1999.2,21.5 1996.0,21.5 1992.9,21.5 1989.8,21.5 1986.7,21.5 1983.6,21.5 1980.5,21.6 1977.4,21.6 1974.3,21.6 1971.2,21.6 1968.2,21.6 1965.1,21.6 1962.0,21.6 1959.0,21.6 1955.9,21.7 1952.9,21.7 1949.9,21.7 1946.9,21.7 1943.8,21.7 1940.8,21.7 1937.8,21.7 1934.9,21.7 1931.9,21.8 1928.9,21.8 1926.0,21.8 1923.0,21.8 1920.1,21.8 1917.2,21.8 1914.3,21.8 1911.4,21.9 1908.5,21.9 1905.7,21.9 1902.8,21.9 1900.0,21.9 1896.8,21.9 1893.6,21.9 1890.3,21.9 1887.1,22.0 1883.9,22.0 1880.7,22.0 1877.5,22.0 1874.3,22.0 1871.1,22.0 1867.9,22.0 1864.7,22.1 1861.6,22.1 1858.4,22.1 1855.2,22.1 1852.1,22.1 1848.9,22.1 1845.7,22.1 1842.6,22.2 1839.5,22.2 1836.3,22.2 1833.2,22.2 1830.1,22.2 1827.0,22.2 1823.8,22.2 1820.7,22.2 1817.6,22.3 1814.6,22.3 1811.5,22.3 1808.4,22.3 1805.3,22.3 1802.2,22.3 1799.2,22.3 1796.1,22.4 1793.1,22.4 1790.1,22.4 1787.0,22.4 1784.0,22.4 1781.0,22.4 1778.0,22.4 1775.0,22.5 1772.0,22.5 1769.0,22.5 1766.0,22.5 1763.1,22.5 1760.1,22.5 1757.1,22.5 1754.2,22.5 1751.3,22.6 1748.3,22.6 1745.4,22.6 1742.5,22.6 1739.6,22.6 1736.7,22.6 1733.8,22.6 1731.0,22.7 1728.1,22.7 1725.3,22.7 1722.4,22.7 1719.6,22.7 1716.7,22.7 1713.9,22.7 1711.1,22.7 1708.3,22.8 1705.5,22.8 1702.8,22.8 1700.0,22.8 1696.7,22.8 1693.4,22.8 1690.2,22.8 1687.0,22.9 1683.8,22.9 1680.6,22.9 1677.5,22.9 1674.4,22.9 1671.3,22.9 1668.2,22.9 1665.2,23.0 1662.1,23.0 1659.1,23.0 1656.1,23.0 1653.1,23.0 1650.2,23.0 1647.2,23.0 1644.2,23.0 1641.3,23.0 1638.3,23.1 1635.4,23.1 1632.5,23.1 1629.5,23.1 1626.6,23.1 1623.7,23.1 1620.8,23.1 1617.8,23.1 1614.9,23.2 1612.0,23.2 1609.0,23.2 1606.1,23.2 1603.1,23.2 1600.1,23.2 1597.1,23.3 1594.2,23.3 1591.1,23.3 1588.1,23.3 1585.1,23.3 1582.0,23.3 1578.9,23.4 1575.8,23.4 1572.7,23.4 1569.6,23.4 1566.4,23.5 1563.2,23.5 1560.0,23.5 1557.2,23.5 1554.4,23.5 1551.5,23.6 1548.7,23.6 1545.8,23.6 1543.0,23.6 1540.1,23.7 1537.3,23.7 1534.4,23.7 1531.5,23.7 1528.6,23.7 1525.7,23.8 1522.8,23.8 1519.9,23.8 1517.0,23.8 1514.1,23.9 1511.2,23.9 1508.2,23.9 1505.3,23.9 1502.3,24.0 1499.4,24.0 1496.4,24.0 1493.5,24.1 1490.5,24.1 1487.5,24.1 1484.5,24.1 1481.5,24.2 1478.5,24.2 1475.5,24.2 1472.5,24.3 1469.5,24.3 1466.5,24.3 1463.5,24.3 1460.5,24.4 1457.4,24.4 1454.4,24.4 1451.3,24.5 1448.3,24.5 1445.2,24.5 1442.2,24.6 1439.1,24.6 1436.0,24.6 1433.0,24.7 1429.9,24.7 1426.8,24.8 1423.7,24.8 1420.6,24.8 1417.5,24.9 1414.4,24.9 1411.3,25.0 1408.2,25.0 1405.1,25.0 1402.0,25.1 1398.8,25.1 1395.7,25.2 1392.6,25.2 1389.4,25.3 1386.3,25.3 1383.1,25.4 1380.0,25.4 1377.1,25.4 1374.3,25.5 1371.5,25.5 1368.6,25.6 1365.8,25.6 1363.0,25.7 1360.2,25.7 1357.4,25.8 1354.6,25.8 1351.8,25.8 1349.1,25.9 1346.3,25.9 1343.5,26.0 1340.7,26.0 1338.0,26.1 1335.2,26.1 1332.5,26.2 1329.7,26.2 1326.9,26.3 1324.2,26.3 1321.4,26.4 1318.6,26.4 1315.9,26.5 1313.1,26.5 1310.3,26.6 1307.5,26.6 1304.8,26.7 1302.0,26.7 1299.2,26.8 1296.4,26.8 1293.5,26.9 1290.7,26.9 1287.9,27.0 1285.1,27.0 1282.2,27.1 1279.3,27.1 1276.5,27.2 1273.6,27.3 1270.7,27.3 1267.8,27.4 1264.9,27.4 1261.9,27.5 1259.0,27.6 1256.0,27.6 1253.0,27.7 1250.0,27.7 1247.0,27.8 1243.9,27.9 1240.9,27.9 1237.8,28.0 1234.7,28.1 1231.6,28.1 1228.4,28.2 1225.3,28.3 1222.1,28.4 1218.9,28.4 1215.6,28.5 1212.4,28.6 1209.1,28.6 1205.8,28.7 1202.4,28.8 1199.0,28.9 1195.6,29.0 1192.2,29.0 1188.8,29.1 1185.3,29.2 1181.8,29.3 1178.2,29.4 1174.6,29.4 1171.0,29.5 1167.4,29.6 1163.7,29.7 1160.0,29.8 1157.7,29.9 1155.4,29.9 1153.0,30.0 1150.7,30.0 1148.3,30.1 1145.9,30.1 1143.4,30.2 1141.0,30.3 1138.5,30.3 1136.0,30.4 1133.5,30.4 1130.9,30.5 1128.4,30.6 1125.8,30.6 1123.2,30.7 1120.6,30.7 1118.0,30.8 1115.3,30.9 1112.7,30.9 1110.0,31.0 1107.3,31.1 1104.5,31.1 1101.8,31.2 1099.0,31.2 1096.3,31.3 1093.5,31.4 1090.7,31.4 1087.8,31.5 1085.0,31.6 1082.1,31.6 1079.3,31.7 1076.4,31.8 1073.5,31.8 1070.6,31.9 1067.6,32.0 1064.7,32.1 1061.7,32.1 1058.8,32.2 1055.8,32.3 1052.8,32.3 1049.8,32.4 1046.7,32.5 1043.7,32.6 1040.6,32.6 1037.6,32.7 1034.5,32.8 1031.4,32.8 1028.3,32.9 1025.2,33.0 1022.1,33.1 1018.9,33.1 1015.8,33.2 1012.7,33.3 1009.5,33.4 1006.3,33.4 1003.1,33.5 999.9,33.6 996.7,33.7 993.5,33.7 990.3,33.8 987.1,33.9 983.8,34.0 980.6,34.1 977.4,34.1 974.1,34.2 970.8,34.3 967.6,34.4 964.3,34.5 961.0,34.5 957.7,34.6 954.4,34.7 951.1,34.8 947.8,34.9 944.5,34.9 941.1,35.0 937.8,35.1 934.5,35.2 931.2,35.3 927.8,35.4 924.5,35.4 921.1,35.5 917.8,35.6 914.4,35.7 911.1,35.8 907.7,35.9 904.4,35.9 901.0,36.0 897.6,36.1 894.3,36.2 890.9,36.3 887.5,36.4 884.1,36.5 880.8,36.5 877.4,36.6 874.0,36.7 870.7,36.8 867.3,36.9 863.9,37.0 860.5,37.1 857.2,37.2 853.8,37.3 850.4,37.3 847.1,37.4 843.7,37.5 840.3,37.6 837.0,37.7 833.6,37.8 830.3,37.9 826.9,38.0 823.5,38.1 820.2,38.2 816.9,38.2 813.5,38.3 810.2,38.4 806.9,38.5 803.5,38.6 800.2,38.7 796.9,38.8 793.6,38.9 790.3,39.0 787.0,39.1 783.7,39.2 780.4,39.3 777.1,39.4 773.8,39.5 770.6,39.6 767.3,39.7 764.1,39.7 760.8,39.8 757.6,39.9 754.4,40.0 751.1,40.1 747.9,40.2 744.7,40.3 741.5,40.4 738.3,40.5 735.2,40.6 732.0,40.7 728.8,40.8 725.7,40.9 722.6,41.0 719.4,41.1 716.3,41.2 713.2,41.3 710.1,41.4 707.1,41.5 704.0,41.6 700.9,41.7 697.9,41.8 694.9,41.9 691.9,42.0 688.9,42.1 685.9,42.2 682.9,42.3 679.9,42.4 677.0,42.5 674.1,42.6 671.1,42.7 668.2,42.8 665.3,42.9 662.5,43.0 659.6,43.1 656.8,43.2 653.9,43.3 651.1,43.4 648.3,43.5 645.6,43.6 642.8,43.7 640.1,43.8 637.3,43.9 634.6,44.0 631.9,44.1 629.3,44.2 626.6,44.3 624.0,44.4 621.4,44.5 618.8,44.6 616.2,44.7 613.6,44.8 611.1,44.9 608.6,45.0 606.1,45.1 603.6,45.3 601.1,45.4 598.7,45.5 596.3,45.6 593.9,45.7 591.5,45.8 589.2,45.9 586.8,46.0 584.5,46.1 582.3,46.2 580.0,46.3 576.3,46.5 572.5,46.7 568.8,46.8 565.2,47.0 561.5,47.2 557.9,47.4 554.3,47.6 550.7,47.7 547.2,47.9 543.7,48.1 540.2,48.3 536.7,48.5 533.3,48.7 529.9,48.9 526.5,49.1 523.1,49.3 519.7,49.5 516.4,49.6 513.1,49.8 509.8,50.0 506.6,50.2 503.3,50.4 500.1,50.6 496.9,50.8 493.8,51.0 490.6,51.2 487.5,51.4 484.4,51.6 481.3,51.8 478.2,52.0 475.2,52.2 472.2,52.4 469.2,52.6 466.2,52.8 463.2,53.0 460.3,53.2 457.3,53.4 454.4,53.6 451.6,53.8 448.7,54.0 445.8,54.2 443.0,54.5 440.2,54.7 437.4,54.9 434.6,55.1 431.9,55.3 429.1,55.5 426.4,55.7 423.7,55.9 421.0,56.1 418.3,56.3 415.6,56.5 413.0,56.7 410.4,56.9 407.8,57.1 405.2,57.3 402.6,57.5 400.0,57.7 397.5,57.9 394.9,58.1 392.4,58.3 389.9,58.5 387.4,58.6 384.9,58.8 382.4,59.0 380.0,59.2 377.5,59.4 375.1,59.6 372.7,59.8 369.1,60.1 365.6,60.4 362.0,60.6 358.5,60.9 355.1,61.2 351.7,61.4 348.3,61.7 344.9,62.0 341.6,62.2 338.3,62.5 335.1,62.7 331.9,63.0 328.7,63.3 325.6,63.5 322.5,63.8 319.4,64.0 316.5,64.3 313.5,64.6 310.6,64.8 307.7,65.1 304.9,65.4 302.1,65.7 299.4,65.9 296.8,66.2 294.1,66.5 291.6,66.8 289.0,67.1 286.6,67.4 284.2,67.7 281.8,68.1 279.5,68.4 275.7,69.0 272.1,69.5 268.7,70.0 265.5,70.5 262.4,71.0 259.4,71.6 256.5,72.2 253.6,72.9 250.6,73.6 247.7,74.5 244.6,75.4 241.6,76.4 238.5,77.4 235.5,78.4 232.4,79.5 229.3,80.6 226.2,81.9 223.2,83.2 220.3,84.5 217.4,86.0 214.7,87.6 212.1,89.2 209.6,91.0 207.2,92.9 204.9,95.0 202.6,97.2 200.4,99.4 198.4,101.8 196.4,104.3 194.5,106.8 192.8,109.3 191.3,112.0 189.9,114.6 188.7,117.3 187.6,120.3 186.8,123.5 186.2,126.8 185.7,130.2 185.4,133.7 185.3,137.1 185.2,140.5 185.1,143.7 185.1,146.9 185.0,149.8 184.9,153.2 184.8,156.3 184.9,159.2 185.1,162.2 185.4,165.4 186.0,169.0 186.4,171.4 186.9,174.0 187.5,176.8 188.1,179.8 188.8,182.9 189.6,186.1 190.4,189.4 191.2,192.7 192.2,196.0 193.2,199.3 194.2,202.6 195.3,205.7 196.5,208.8 197.8,211.8 199.1,214.5 200.5,217.1 202.0,219.5 203.8,222.0 205.8,224.1 207.9,226.1 210.0,227.8 212.3,229.4 214.6,231.0 217.1,232.6 219.5,234.3 222.0,236.0 224.5,238.0 227.1,240.2 229.6,242.7 231.2,244.4 232.8,246.2 234.4,248.1 236.1,250.1 237.8,252.1 239.5,254.2 241.2,256.4 243.0,258.7 244.7,261.0 246.5,263.4 248.3,265.8 250.1,268.2 252.0,270.7 253.8,273.3 255.6,275.8 257.5,278.4 259.4,281.0 261.2,283.7 263.1,286.3 265.0,288.9 266.8,291.6 268.0,293.2"/><path d="M2349.0,27.5 2346.0,27.6 2343.0,27.7 2340.0,27.8 2337.0,27.9 2334.0,28.0 2331.1,28.1 2328.1,28.2 2325.1,28.3 2322.1,28.4 2319.2,28.5 2316.2,28.6 2313.2,28.7 2310.3,28.8 2307.3,28.9 2304.3,29.0 2301.4,29.1 2298.4,29.2 2295.5,29.3 2292.5,29.4 2289.5,29.5 2286.6,29.6 2283.6,29.7 2280.7,29.8 2277.7,29.9 2274.7,30.0 2271.8,30.1 2268.8,30.2 2265.8,30.3 2262.9,30.4 2259.9,30.5 2257.0,30.6 2254.0,30.7 2251.0,30.8 2248.0,30.9 2245.1,31.0 2242.1,31.1 2239.1,31.2 2236.1,31.3 2233.1,31.4 2230.1,31.5 2227.1,31.6 2224.1,31.7 2221.1,31.8 2218.1,31.9 2215.1,32.1 2212.1,32.2 2209.1,32.3 2206.1,32.4 2203.0,32.5 2200.0,32.7 2197.0,32.8 2193.9,32.9 2190.9,33.0 2187.8,33.2 2184.7,33.3 2181.7,33.5 2178.6,33.6 2175.5,33.7 2172.4,33.9 2169.3,34.0 2166.2,34.2 2163.1,34.3 2160.0,34.5 2157.1,34.6 2154.2,34.8 2151.2,34.9 2148.3,35.1 2145.3,35.2 2142.3,35.4 2139.2,35.5 2136.2,35.7 2133.1,35.8 2130.1,36.0 2127.0,36.1 2123.9,36.2 2120.8,36.4 2117.6,36.5 2114.5,36.7 2111.3,36.8 2108.2,37.0 2105.0,37.1 2101.8,37.3 2098.6,37.4 2095.4,37.6 2092.2,37.7 2089.0,37.9 2085.8,38.0 2082.6,38.2 2079.3,38.4 2076.1,38.5 2072.9,38.7 2069.7,38.8 2066.4,39.0 2063.2,39.2 2060.0,39.3 2056.8,39.5 2053.5,39.7 2050.3,39.8 2047.1,40.0 2043.9,40.2 2040.7,40.4 2037.5,40.6 2034.4,40.7 2031.2,40.9 2028.0,41.1 2024.9,41.3 2021.7,41.5 2018.6,41.7 2015.5,41.9 2012.4,42.1 2009.3,42.3 2006.2,42.5 2003.2,42.7 2000.2,42.9 1997.1,43.2 1994.1,43.4 1991.2,43.6 1988.2,43.8 1985.3,44.1 1982.4,44.3 1979.5,44.6 1976.6,44.8 1973.8,45.0 1970.9,45.3 1968.1,45.6 1965.4,45.8 1962.6,46.1 1959.9,46.4 1957.3,46.6 1954.6,46.9 1952.0,47.2 1949.4,47.5 1946.9,47.8 1944.3,48.1 1941.9,48.4 1939.4,48.7 1937.0,49.0 1933.4,49.5 1929.9,50.0 1926.5,50.4 1923.1,50.9 1919.8,51.4 1916.5,51.9 1913.2,52.4 1910.0,52.9 1906.9,53.4 1903.8,53.9 1900.7,54.4 1897.7,54.9 1894.7,55.5 1891.7,56.0 1888.8,56.6 1885.9,57.1 1883.0,57.7 1880.1,58.3 1877.3,58.9 1874.5,59.5 1871.7,60.1 1868.9,60.7 1866.2,61.4 1863.4,62.0 1860.7,62.7 1858.0,63.4 1855.3,64.1 1852.6,64.8 1849.8,65.5 1847.1,66.3 1844.4,67.0 1841.7,67.8 1839.0,68.6 1835.9,69.5 1832.9,70.5 1829.8,71.4 1826.7,72.4 1823.7,73.3 1820.6,74.3 1817.6,75.3 1814.6,76.4 1811.6,77.4 1808.6,78.5 1805.7,79.5 1802.7,80.6 1799.8,81.7 1796.9,82.9 1794.1,84.0 1791.3,85.2 1788.5,86.4 1785.8,87.6 1783.1,88.8 1780.5,90.0 1777.9,91.3 1775.3,92.6 1772.8,93.9 1770.4,95.3 1768.0,96.6 1765.7,98.0 1762.9,99.7 1760.1,101.5 1757.3,103.3 1754.6,105.2 1751.9,107.0 1749.3,108.9 1746.8,110.8 1744.3,112.8 1741.9,114.8 1739.6,116.8 1737.4,118.9 1735.3,121.0 1733.3,123.1 1731.4,125.3 1729.6,127.5 1728.0,129.7 1726.5,132.0 1725.0,134.6 1723.7,137.3 1722.5,140.0 1721.6,142.7 1720.7,145.5 1720.0,148.3 1719.4,151.1 1718.9,154.1 1718.4,157.1 1718.0,160.2 1717.5,163.4 1717.1,166.6 1716.7,170.0 1716.4,172.6 1716.2,175.2 1716.0,177.9 1715.9,180.7 1715.8,183.6 1715.8,186.5 1715.9,189.4 1715.9,192.4 1716.0,195.5 1716.1,198.6 1716.2,201.7 1716.3,204.8 1716.4,208.0 1716.6,211.2 1716.7,214.3 1716.7,217.5 1716.8,220.7 1716.8,223.9 1716.8,227.1 1716.8,230.3 1716.7,233.4 1716.5,236.5 1716.3,239.6 1716.0,242.7 1715.7,245.7 1715.4,248.7 1715.2,251.7 1715.0,254.8 1714.8,257.9 1714.6,260.9 1714.4,264.0 1714.2,267.1 1714.0,270.2 1713.7,273.3 1713.4,276.4 1713.1,279.5 1712.7,282.5 1712.2,285.6 1711.7,288.6 1711.1,291.6 1710.4,294.6 1709.6,297.6 1708.7,300.5 1707.7,303.4 1706.5,306.3 1705.3,309.1 1703.9,311.9 1702.3,314.7 1700.6,317.4 1699.2,319.3 1697.7,321.3 1696.1,323.3 1694.4,325.2 1692.6,327.1 1690.7,328.9 1688.7,330.8 1686.7,332.6 1684.6,334.4 1682.3,336.2 1680.1,338.0 1677.7,339.7 1675.3,341.4 1672.9,343.1 1670.4,344.8 1667.8,346.5 1665.2,348.2 1662.5,349.9 1659.8,351.5 1657.1,353.1 1654.3,354.8 1651.5,356.4 1648.6,358.0 1645.8,359.6 1642.9,361.2 1640.0,362.8 1637.1,364.4 1634.2,366.0 1631.3,367.6 1628.4,369.2 1625.4,370.8 1622.5,372.4 1622.3,372.5"/><path d="M2358.0,31.4 2355.1,32.5 2352.2,33.6 2349.3,34.7 2346.3,35.8 2343.4,36.9 2340.4,38.0 2337.5,39.1 2334.5,40.1 2331.6,41.2 2328.6,42.3 2325.6,43.3 2322.7,44.4 2319.7,45.5 2316.8,46.6 2313.9,47.7 2310.9,48.8 2308.0,49.9 2305.1,51.0 2302.2,52.2 2299.4,53.3 2296.5,54.5 2293.7,55.7 2290.9,56.9 2288.1,58.1 2285.4,59.4 2282.7,60.7 2280.0,62.0 2277.2,63.4 2274.4,64.8 2271.6,66.2 2268.8,67.5 2266.0,68.9 2263.2,70.3 2260.4,71.7 2257.7,73.1 2255.0,74.6 2252.2,76.0 2249.5,77.5 2246.9,79.0 2244.2,80.5 2241.6,82.1 2239.1,83.7 2236.5,85.3 2234.0,86.9 2231.6,88.7 2229.2,90.4 2226.8,92.2 2224.5,94.1 2222.3,96.0 2220.1,98.0 2218.0,100.0 2215.9,102.2 2213.8,104.4 2211.7,106.7 2209.7,109.0 2207.8,111.4 2205.9,113.8 2204.1,116.3 2202.2,118.8 2200.5,121.3 2198.8,123.9 2197.1,126.6 2195.4,129.3 2193.8,132.0 2192.3,134.7 2190.8,137.5 2189.3,140.3 2187.9,143.1 2186.5,146.0 2185.1,148.8 2183.8,151.7 2182.5,154.6 2181.2,157.6 2180.0,160.5 2179.0,163.2 2178.0,165.8 2177.0,168.6 2176.1,171.4 2175.2,174.2 2174.4,177.0 2173.6,179.9 2172.9,182.8 2172.1,185.8 2171.5,188.7 2170.8,191.7 2170.2,194.7 2169.6,197.7 2169.0,200.7 2168.4,203.8 2167.9,206.8 2167.4,209.8 2166.9,212.9 2166.4,215.9 2165.9,219.0 2165.4,222.0 2164.9,225.0 2164.4,228.0 2163.9,231.0 2163.5,234.0 2163.0,236.9 2162.5,239.8 2162.0,242.7 2161.5,245.7 2161.0,248.8 2160.5,251.8 2160.0,254.8 2159.6,257.8 2159.2,260.8 2158.8,263.8 2158.4,266.8 2158.0,269.8 2157.6,272.8 2157.2,275.7 2156.9,278.7 2156.5,281.7 2156.2,284.6 2155.8,287.6 2155.5,290.6 2155.4,290.7"/><path d="M2349.0,22.0 2346.0,22.1 2343.0,22.1 2340.0,22.2 2337.1,22.2 2334.1,22.3 2331.1,22.3 2328.2,22.4 2325.2,22.4 2322.3,22.5 2319.3,22.5 2316.4,22.6 2313.4,22.6 2310.5,22.7 2307.6,22.7 2304.6,22.8 2301.7,22.8 2298.8,22.9 2295.9,22.9 2293.0,23.0 2290.0,23.0 2287.1,23.1 2284.2,23.1 2281.3,23.2 2278.4,23.2 2275.4,23.3 2272.5,23.3 2269.6,23.4 2266.6,23.4 2263.7,23.5 2260.8,23.5 2257.8,23.6 2254.9,23.6 2252.0,23.7 2249.0,23.7 2246.1,23.8 2243.1,23.9 2240.1,23.9 2237.2,24.0 2234.2,24.0 2231.2,24.1 2228.2,24.1 2225.2,24.2 2222.2,24.2 2219.2,24.3 2216.2,24.3 2213.2,24.4 2210.1,24.5 2207.1,24.5 2204.0,24.6 2201.0,24.6 2197.9,24.7 2194.8,24.8 2191.7,24.8 2188.6,24.9 2185.5,25.0 2182.3,25.0 2179.2,25.1 2176.0,25.2 2172.8,25.2 2169.6,25.3 2166.4,25.4 2163.2,25.4 2160.0,25.5 2157.2,25.6 2154.4,25.6 2151.6,25.7 2148.7,25.8 2145.9,25.8 2143.0,25.9 2140.2,26.0 2137.3,26.0 2134.4,26.1 2131.4,26.2 2128.5,26.2 2125.6,26.3 2122.6,26.4 2119.7,26.4 2116.7,26.5 2113.7,26.6 2110.7,26.6 2107.7,26.7 2104.7,26.8 2101.7,26.9 2098.6,26.9 2095.6,27.0 2092.5,27.1 2089.5,27.2 2086.4,27.2 2083.4,27.3 2080.3,27.4 2077.2,27.5 2074.1,27.5 2071.0,27.6 2067.9,27.7 2064.8,27.8 2061.7,27.8 2058.6,27.9 2055.5,28.0 2052.4,28.1 2049.2,28.2 2046.1,28.2 2043.0,28.3 2039.8,28.4 2036.7,28.5 2033.6,28.6 2030.5,28.6 2027.3,28.7 2024.2,28.8 2021.1,28.9 2017.9,29.0 2014.8,29.1 2011.7,29.1 2008.5,29.2 2005.4,29.3 2002.3,29.4 1999.2,29.5 1996.0,29.6 1992.9,29.6 1989.8,29.7 1986.7,29.8 1983.6,29.9 1980.5,30.0 1977.4,30.1 1974.3,30.2 1971.2,30.2 1968.2,30.3 1965.1,30.4 1962.0,30.5 1959.0,30.6 1955.9,30.7 1952.9,30.8 1949.9,30.8 1946.9,30.9 1943.8,31.0 1940.8,31.1 1937.8,31.2 1934.9,31.3 1931.9,31.4 1928.9,31.4 1926.0,31.5 1923.0,31.6 1920.1,31.7 1917.2,31.8 1914.3,31.9 1911.4,32.0 1908.5,32.0 1905.7,32.1 1902.8,32.2 1900.0,32.3 1896.8,32.4 1893.5,32.5 1890.3,32.6 1887.1,32.7 1883.9,32.8 1880.7,32.9 1877.5,33.0 1874.3,33.1 1871.1,33.2 1867.9,33.3 1864.7,33.4 1861.6,33.5 1858.4,33.6 1855.2,33.7 1852.1,33.8 1848.9,33.9 1845.7,34.0 1842.6,34.1 1839.5,34.2 1836.3,34.3 1833.2,34.4 1830.1,34.5 1827.0,34.6 1823.8,34.7 1820.7,34.8 1817.6,35.0 1814.5,35.1 1811.5,35.2 1808.4,35.3 1805.3,35.4 1802.2,35.5 1799.2,35.6 1796.1,35.7 1793.1,35.8 1790.1,35.9 1787.0,36.0 1784.0,36.1 1781.0,36.2 1778.0,36.3 1775.0,36.4 1772.0,36.5 1769.0,36.7 1766.0,36.8 1763.1,36.9 1760.1,37.0 1757.1,37.1 1754.2,37.2 1751.3,37.3 1748.3,37.4 1745.4,37.5 1742.5,37.6 1739.6,37.7 1736.7,37.8 1733.8,37.9 1731.0,38.0 1728.1,38.1 1725.3,38.3 1722.4,38.4 1719.6,38.5 1716.7,38.6 1713.9,38.7 1711.1,38.8 1708.3,38.9 1705.5,39.0 1702.8,39.1 1700.0,39.2 1696.7,39.3 1693.4,39.5 1690.2,39.6 1687.0,39.7 1683.8,39.8 1680.6,39.9 1677.5,40.1 1674.4,40.2 1671.3,40.3 1668.2,40.4 1665.2,40.6 1662.1,40.7 1659.1,40.8 1656.1,40.9 1653.1,41.0 1650.2,41.2 1647.2,41.3 1644.2,41.4 1641.3,41.5 1638.3,41.7 1635.4,41.8 1632.5,41.9 1629.5,42.0 1626.6,42.1 1623.7,42.3 1620.8,42.4 1617.8,42.5 1614.9,42.6 1612.0,42.8 1609.0,42.9 1606.1,43.0 1603.1,43.1 1600.1,43.3 1597.1,43.4 1594.2,43.5 1591.1,43.7 1588.1,43.8 1585.1,43.9 1582.0,44.1 1578.9,44.2 1575.8,44.3 1572.7,44.5 1569.6,44.6 1566.4,44.7 1563.2,44.9 1560.0,45.0 1557.2,45.1 1554.4,45.2 1551.5,45.4 1548.7,45.5 1545.8,45.6 1543.0,45.7 1540.1,45.9 1537.3,46.0 1534.4,46.1 1531.5,46.2 1528.6,46.4 1525.7,46.5 1522.8,46.6 1519.9,46.8 1517.0,46.9 1514.1,47.0 1511.2,47.2 1508.2,47.3 1505.3,47.4 1502.3,47.6 1499.4,47.7 1496.4,47.8 1493.5,48.0 1490.5,48.1 1487.5,48.2 1484.5,48.4 1481.5,48.5 1478.5,48.6 1475.5,48.8 1472.5,48.9 1469.5,49.1 1466.5,49.2 1463.5,49.3 1460.5,49.5 1457.4,49.6 1454.4,49.7 1451.3,49.9 1448.3,50.0 1445.2,50.1 1442.2,50.3 1439.1,50.4 1436.0,50.6 1433.0,50.7 1429.9,50.8 1426.8,51.0 1423.7,51.1 1420.6,51.2 1417.5,51.4 1414.4,51.5 1411.3,51.7 1408.2,51.8 1405.1,51.9 1402.0,52.1 1398.8,52.2 1395.7,52.3 1392.6,52.5 1389.4,52.6 1386.3,52.7 1383.1,52.9 1380.0,53.0 1377.1,53.1 1374.2,53.2 1371.3,53.4 1368.4,53.5 1365.5,53.6 1362.6,53.7 1359.6,53.8 1356.7,53.9 1353.7,54.1 1350.7,54.2 1347.7,54.3 1344.7,54.4 1341.7,54.5 1338.7,54.6 1335.6,54.8 1332.6,54.9 1329.6,55.0 1326.5,55.1 1323.4,55.2 1320.4,55.3 1317.3,55.4 1314.2,55.6 1311.1,55.7 1308.0,55.8 1304.9,55.9 1301.8,56.0 1298.7,56.1 1295.6,56.2 1292.5,56.4 1289.4,56.5 1286.3,56.6 1283.2,56.7 1280.1,56.8 1277.0,56.9 1273.9,57.0 1270.7,57.2 1267.6,57.3 1264.5,57.4 1261.4,57.5 1258.3,57.6 1255.2,57.7 1252.1,57.8 1249.0,58.0 1245.9,58.1 1242.8,58.2 1239.7,58.3 1236.7,58.4 1233.6,58.6 1230.5,58.7 1227.5,58.8 1224.4,58.9 1221.4,59.0 1218.3,59.1 1215.3,59.3 1212.3,59.4 1209.3,59.5 1206.3,59.6 1203.3,59.8 1200.3,59.9 1197.4,60.0 1194.4,60.1 1191.5,60.3 1188.5,60.4 1185.6,60.5 1182.7,60.6 1179.8,60.8 1176.9,60.9 1174.1,61.0 1171.2,61.2 1168.4,61.3 1165.6,61.4 1162.8,61.6 1160.0,61.7 1156.8,61.9 1153.5,62.0 1150.3,62.2 1147.1,62.3 1144.0,62.5 1140.8,62.7 1137.7,62.8 1134.5,63.0 1131.4,63.1 1128.3,63.3 1125.3,63.5 1122.2,63.6 1119.2,63.8 1116.1,64.0 1113.1,64.1 1110.1,64.3 1107.1,64.5 1104.1,64.6 1101.1,64.8 1098.1,65.0 1095.1,65.1 1092.2,65.3 1089.2,65.5 1086.3,65.7 1083.3,65.8 1080.4,66.0 1077.4,66.2 1074.5,66.4 1071.6,66.5 1068.6,66.7 1065.7,66.9 1062.8,67.1 1059.8,67.2 1056.9,67.4 1053.9,67.6 1051.0,67.8 1048.1,68.0 1045.1,68.1 1042.2,68.3 1039.2,68.5 1036.3,68.7 1033.3,68.9 1030.3,69.1 1027.3,69.3 1024.3,69.4 1021.3,69.6 1018.3,69.8 1015.3,70.0 1012.3,70.2 1009.2,70.4 1006.2,70.6 1003.1,70.8 1000.0,71.0 997.1,71.2 994.2,71.4 991.2,71.6 988.3,71.8 985.3,72.0 982.4,72.2 979.4,72.3 976.5,72.5 973.5,72.7 970.6,72.9 967.6,73.1 964.6,73.3 961.7,73.6 958.7,73.8 955.7,74.0 952.7,74.2 949.7,74.4 946.8,74.6 943.8,74.8 940.8,75.0 937.8,75.2 934.8,75.4 931.8,75.6 928.8,75.9 925.8,76.1 922.8,76.3 919.8,76.5 916.8,76.7 913.7,76.9 910.7,77.1 907.7,77.4 904.7,77.6 901.7,77.8 898.7,78.0 895.7,78.2 892.6,78.4 889.6,78.7 886.6,78.9 883.6,79.1 880.6,79.3 877.6,79.5 874.5,79.7 871.5,80.0 868.5,80.2 865.5,80.4 862.5,80.6 859.5,80.8 856.4,81.1 853.4,81.3 850.4,81.5 847.4,81.7 844.4,81.9 841.4,82.1 838.4,82.3 837.4,82.4"/><path d="M2349.0,28.5 2346.0,29.1 2343.0,29.6 2340.0,30.2 2336.9,30.7 2333.9,31.2 2330.9,31.6 2327.8,32.1 2324.8,32.6 2321.7,33.0 2318.7,33.5 2315.6,34.0 2312.6,34.4 2309.5,34.9 2306.5,35.3 2303.5,35.8 2300.4,36.3 2297.4,36.8 2294.4,37.3 2291.4,37.9 2288.3,38.4 2285.3,39.0 2282.4,39.6 2279.4,40.2 2276.4,40.9 2273.4,41.6 2270.5,42.3 2267.6,43.1 2264.7,43.9 2261.8,44.8 2258.9,45.7 2256.0,46.6 2253.2,47.6 2250.3,48.6 2247.4,49.7 2244.5,50.8 2241.7,51.9 2238.8,53.1 2235.9,54.3 2233.0,55.5 2230.1,56.8 2227.2,58.0 2224.3,59.4 2221.4,60.7 2218.6,62.0 2215.7,63.4 2212.9,64.8 2210.1,66.2 2207.3,67.6 2204.6,69.1 2201.9,70.5 2199.2,72.0 2196.5,73.4 2193.9,74.9 2191.3,76.4 2188.8,77.8 2186.3,79.3 2183.9,80.8 2181.5,82.2 2179.2,83.7 2176.9,85.1 2174.7,86.6 2172.5,88.0 2169.7,89.9 2166.9,91.9 2164.3,93.8 2161.7,95.7 2159.3,97.6 2156.9,99.6 2154.6,101.5 2152.3,103.5 2150.1,105.5 2147.9,107.5 2145.8,109.5 2143.6,111.6 2141.5,113.7 2139.4,115.8 2137.3,118.0 2135.2,120.2 2133.0,122.5 2130.9,124.7 2128.9,127.0 2126.9,129.2 2124.9,131.6 2122.9,133.9 2121.0,136.2 2119.1,138.6 2117.2,141.1 2115.3,143.5 2113.4,146.0 2111.5,148.5 2109.6,151.1 2107.8,153.7 2105.9,156.3 2104.0,159.0 2102.2,161.7 2100.3,164.4 2098.5,167.2 2096.6,170.0 2095.1,172.4 2093.5,174.8 2092.0,177.3 2090.4,179.8 2088.9,182.3 2087.4,184.9 2085.9,187.5 2084.4,190.2 2082.9,192.9 2081.4,195.6 2079.9,198.3 2078.4,201.0 2076.9,203.8 2075.4,206.6 2073.9,209.4 2072.4,212.1 2070.9,214.9 2069.5,217.6"/><path d="M2349.0,20.5 2346.0,20.5 2343.0,20.5 2340.0,20.6 2337.1,20.6 2334.1,20.6 2331.1,20.6 2328.2,20.6 2325.2,20.6 2322.3,20.7 2319.3,20.7 2316.4,20.7 2313.4,20.7 2310.5,20.7 2307.6,20.7 2304.6,20.8 2301.7,20.8 2298.8,20.8 2295.9,20.8 2293.0,20.8 2290.0,20.8 2287.1,20.9 2284.2,20.9 2281.3,20.9 2278.4,20.9 2275.4,20.9 2272.5,20.9 2269.6,21.0 2266.7,21.0 2263.7,21.0 2260.8,21.0 2257.8,21.0 2254.9,21.0 2252.0,21.1 2249.0,21.1 2246.1,21.1 2243.1,21.1 2240.1,21.1 2237.2,21.1 2234.2,21.2 2231.2,21.2 2228.2,21.2 2225.2,21.2 2222.2,21.2 2219.2,21.2 2216.2,21.3 2213.2,21.3 2210.1,21.3 2207.1,21.3 2204.0,21.3 2201.0,21.4 2197.9,21.4 2194.8,21.4 2191.7,21.4 2188.6,21.4 2185.5,21.4 2182.3,21.5 2179.2,21.5 2176.0,21.5 2172.8,21.5 2169.6,21.5 2166.4,21.6 2163.2,21.6 2160.0,21.6 2157.2,21.6 2154.4,21.6 2151.6,21.7 2148.7,21.7 2145.9,21.7 2143.0,21.7 2140.2,21.7 2137.3,21.7 2134.4,21.8 2131.4,21.8 2128.5,21.8 2125.6,21.8 2122.6,21.8 2119.7,21.8 2116.7,21.8 2113.7,21.9 2110.7,21.9 2107.7,21.9 2104.7,21.9 2101.7,21.9 2098.6,21.9 2095.6,22.0 2092.5,22.0 2089.5,22.0 2086.4,22.0 2083.4,22.0 2080.3,22.0 2077.2,22.1 2074.1,22.1 2071.0,22.1 2067.9,22.1 2064.8,22.1 2061.7,22.1 2058.6,22.2 2055.5,22.2 2052.4,22.2 2049.2,22.2 2046.1,22.2 2043.0,22.2 2039.9,22.3 2036.7,22.3 2033.6,22.3 2030.5,22.3 2027.3,22.3 2024.2,22.4 2021.1,22.4 2017.9,22.4 2014.8,22.4 2011.7,22.4 2008.5,22.4 2005.4,22.5 2002.3,22.5 1999.2,22.5 1996.0,22.5 1992.9,22.5 1989.8,22.6 1986.7,22.6 1983.6,22.6 1980.5,22.6 1977.4,22.6 1974.3,22.7 1971.2,22.7 1968.2,22.7 1965.1,22.7 1962.0,22.8 1959.0,22.8 1955.9,22.8 1952.9,22.8 1949.9,22.8 1946.9,22.9 1943.8,22.9 1940.8,22.9 1937.8,22.9 1934.9,23.0 1931.9,23.0 1928.9,23.0 1926.0,23.0 1923.0,23.1 1920.1,23.1 1917.2,23.1 1914.3,23.2 1911.4,23.2 1908.5,23.2 1905.7,23.2 1902.8,23.3 1900.0,23.3 1896.8,23.3 1893.6,23.4 1890.3,23.4 1887.1,23.4 1883.9,23.5 1880.7,23.5 1877.5,23.5 1874.3,23.6 1871.1,23.6 1867.9,23.7 1864.7,23.7 1861.6,23.7 1858.4,23.8 1855.2,23.8 1852.1,23.9 1848.9,23.9 1845.7,23.9 1842.6,24.0 1839.5,24.0 1836.3,24.1 1833.2,24.1 1830.1,24.1 1827.0,24.2 1823.8,24.2 1820.7,24.3 1817.6,24.3 1814.6,24.3 1811.5,24.4 1808.4,24.4 1805.3,24.5 1802.2,24.5 1799.2,24.6 1796.1,24.6 1793.1,24.7 1790.1,24.7 1787.0,24.7 1784.0,24.8 1781.0,24.8 1778.0,24.9 1775.0,24.9 1772.0,25.0 1769.0,25.0 1766.0,25.1 1763.1,25.1 1760.1,25.2 1757.1,25.2 1754.2,25.3 1751.3,25.3 1748.3,25.4 1745.4,25.4 1742.5,25.5 1739.6,25.5 1736.7,25.6 1733.8,25.6 1731.0,25.7 1728.1,25.7 1725.3,25.7 1722.4,25.8 1719.6,25.8 1716.7,25.9 1713.9,25.9 1711.1,26.0 1708.3,26.0 1705.5,26.1 1702.8,26.1 1700.0,26.2 1696.7,26.3 1693.4,26.3 1690.2,26.4 1687.0,26.4 1683.8,26.5 1680.6,26.6 1677.5,26.6 1674.4,26.7 1671.3,26.8 1668.2,26.8 1665.2,26.9 1662.1,27.0 1659.1,27.0 1656.1,27.1 1653.1,27.1 1650.2,27.2 1647.2,27.3 1644.2,27.3 1641.3,27.4 1638.3,27.5 1635.4,27.5 1632.5,27.6 1629.5,27.7 1626.6,27.7 1623.7,27.8 1620.8,27.9 1617.8,28.0 1614.9,28.0 1612.0,28.1 1609.0,28.2 1606.1,28.2 1603.1,28.3 1600.1,28.4 1597.1,28.4 1594.2,28.5 1591.1,28.6 1588.1,28.7 1585.1,28.7 1582.0,28.8 1578.9,28.9 1575.8,28.9 1572.7,29.0 1569.6,29.1 1566.4,29.2 1563.2,29.2 1560.0,29.3 1557.2,29.4 1554.4,29.4 1551.5,29.5 1548.7,29.6 1545.8,29.6 1543.0,29.7 1540.1,29.7 1537.3,29.8 1534.4,29.9 1531.5,29.9 1528.6,30.0 1525.7,30.1 1522.8,30.1 1519.9,30.2 1517.0,30.3 1514.1,30.3 1511.2,30.4 1508.2,30.5 1505.3,30.6 1502.3,30.6 1499.4,30.7 1496.4,30.8 1493.5,30.8 1490.5,30.9 1487.5,31.0 1484.5,31.0 1481.5,31.1 1478.5,31.2 1475.5,31.2 1472.5,31.3 1469.5,31.4 1466.5,31.4 1463.5,31.5 1460.5,31.6 1457.4,31.7 1454.4,31.7 1451.3,31.8 1448.3,31.9 1445.2,31.9 1442.2,32.0 1439.1,32.1 1436.0,32.1 1433.0,32.2 1429.9,32.3 1426.8,32.4 1423.7,32.4 1420.6,32.5 1417.5,32.6 1414.4,32.6 1411.3,32.7 1408.2,32.8 1405.1,32.8 1402.0,32.9 1398.8,33.0 1395.7,33.1 1392.6,33.1 1389.4,33.2 1386.3,33.3 1383.1,33.3 1380.0,33.4 1377.1,33.5 1374.3,33.5 1371.5,33.6 1368.6,33.6 1365.8,33.7 1363.0,33.8 1360.2,33.8 1357.4,33.9 1354.6,33.9 1351.8,34.0 1349.1,34.0 1346.3,34.1 1343.5,34.2 1340.7,34.2 1338.0,34.3 1335.2,34.3 1332.5,34.4 1329.7,34.4 1326.9,34.5 1324.2,34.5 1321.4,34.6 1318.6,34.6 1315.9,34.7 1313.1,34.7 1310.3,34.8 1307.5,34.8 1304.8,34.9 1302.0,34.9 1299.2,35.0 1296.4,35.1 1293.5,35.1 1290.7,35.2 1287.9,35.2 1285.1,35.3 1282.2,35.3 1279.3,35.4 1276.5,35.4 1273.6,35.5 1270.7,35.5 1267.8,35.6 1264.9,35.7 1261.9,35.7 1259.0,35.8 1256.0,35.8 1253.0,35.9 1250.0,36.0 1247.0,36.0 1243.9,36.1 1240.9,36.1 1237.8,36.2 1234.7,36.3 1231.6,36.3 1228.4,36.4 1225.3,36.5 1222.1,36.5 1218.9,36.6 1215.6,36.7 1212.4,36.8 1209.1,36.8 1205.8,36.9 1202.4,37.0 1199.0,37.1 1195.6,37.1 1192.2,37.2 1188.8,37.3 1185.3,37.4 1181.8,37.5 1178.2,37.5 1174.6,37.6 1171.0,37.7 1167.4,37.8 1163.7,37.9 1160.0,38.0 1157.7,38.1 1155.4,38.1 1153.0,38.2 1150.7,38.2 1148.3,38.3 1145.9,38.4 1143.5,38.4 1141.1,38.5 1138.6,38.5 1136.2,38.6 1133.7,38.7 1131.2,38.7 1128.7,38.8 1126.1,38.9 1123.6,38.9 1121.0,39.0 1118.4,39.1 1115.8,39.1 1113.2,39.2 1110.6,39.3 1107.9,39.3 1105.3,39.4 1102.6,39.5 1099.9,39.6 1097.2,39.6 1094.5,39.7 1091.7,39.8 1089.0,39.8 1086.2,39.9 1083.4,40.0 1080.6,40.1 1077.8,40.1 1075.0,40.2 1072.2,40.3 1069.3,40.4 1066.5,40.4 1063.6,40.5 1060.7,40.6 1057.8,40.7 1054.9,40.8 1052.0,40.8 1049.0,40.9 1046.1,41.0 1043.1,41.1 1040.2,41.2 1037.2,41.2 1034.2,41.3 1031.2,41.4 1028.2,41.5 1025.2,41.6 1022.1,41.6 1019.1,41.7 1016.1,41.8 1013.0,41.9 1009.9,42.0 1006.9,42.1 1003.8,42.1 1000.7,42.2 997.6,42.3 994.5,42.4 991.3,42.5 988.2,42.6 985.1,42.7 981.9,42.8 978.8,42.8 975.6,42.9 972.4,43.0 969.3,43.1 966.1,43.2 962.9,43.3 959.7,43.4 956.5,43.5 953.3,43.6 950.1,43.6 946.9,43.7 943.7,43.8 940.4,43.9 937.2,44.0 934.0,44.1 930.7,44.2 927.5,44.3 924.2,44.4 921.0,44.5 917.7,44.6 914.5,44.7 911.2,44.8 907.9,44.8 904.7,44.9 901.4,45.0 898.1,45.1 894.8,45.2 891.5,45.3 888.3,45.4 885.0,45.5 881.7,45.6 878.4,45.7 875.1,45.8 871.8,45.9 868.5,46.0 865.2,46.1 861.9,46.2 858.6,46.3 855.3,46.4 852.0,46.5 848.7,46.6 845.4,46.7 842.1,46.8 838.8,46.9 835.5,47.0 832.2,47.1 828.9,47.2 825.7,47.3 822.4,47.4 819.1,47.5 815.8,47.6 812.5,47.7 809.2,47.8 805.9,47.9 802.6,48.0 799.4,48.1 796.1,48.2 792.8,48.3 789.6,48.4 786.3,48.5 783.0,48.6 779.8,48.7 776.5,48.8 773.3,48.9 770.0,49.0 766.8,49.1 763.6,49.2 760.3,49.3 757.1,49.4 753.9,49.5 750.7,49.6 747.5,49.7 744.3,49.8 741.1,49.9 737.9,50.0 734.7,50.1 731.5,50.2 728.3,50.3 725.2,50.4 722.0,50.5 718.9,50.6 715.7,50.7 712.6,50.8 709.5,50.9 706.4,51.0 703.2,51.1 700.1,51.2 697.1,51.3 694.0,51.4 690.9,51.5 687.8,51.6 684.8,51.7 681.7,51.8 678.7,51.9 675.7,52.0 672.7,52.1 669.6,52.2 666.7,52.3 663.7,52.4 660.7,52.5 657.7,52.6 654.8,52.7 651.8,52.8 648.9,52.9 646.0,53.0 643.1,53.1 640.2,53.2 637.3,53.3 634.4,53.4 631.6,53.5 628.7,53.6 625.9,53.7 623.1,53.8 620.3,53.9 617.5,54.0 614.7,54.1 612.0,54.2 609.2,54.3 606.5,54.4 603.8,54.5 601.1,54.6 598.4,54.7 595.7,54.8 593.1,54.9 590.4,55.0 587.8,55.1 585.2,55.2 582.6,55.3 580.0,55.4 576.6,55.5 573.1,55.7 569.7,55.8 566.3,55.9 562.9,56.1 559.5,56.2 556.1,56.3 552.7,56.4 549.3,56.6 545.9,56.7 542.5,56.8 539.1,57.0 535.7,57.1 532.4,57.2 529.0,57.4 525.6,57.5 522.3,57.6 518.9,57.7 515.6,57.9 512.3,58.0 508.9,58.1 505.6,58.3 502.3,58.4 499.0,58.5 495.7,58.7 492.4,58.8 489.1,58.9 485.8,59.1 482.5,59.2 479.3,59.3 476.0,59.4 472.8,59.6 469.5,59.7 466.3,59.8 463.0,60.0 459.8,60.1 456.6,60.2 453.4,60.4 450.2,60.5 447.0,60.6 443.8,60.8 440.7,60.9 437.5,61.0 434.3,61.2 431.2,61.3 428.1,61.4 424.9,61.6 421.8,61.7 418.7,61.8 415.6,62.0 412.5,62.1 409.4,62.2 406.4,62.4 403.3,62.5 400.3,62.6 397.2,62.8 394.2,62.9 391.2,63.1 388.2,63.2 385.2,63.3 382.2,63.5 379.2,63.6 376.2,63.7 373.3,63.9 370.3,64.0 367.4,64.2 364.5,64.3 361.6,64.4 358.7,64.6 355.8,64.7 352.9,64.9 350.1,65.0 347.2,65.1 344.4,65.3 341.5,65.4 338.7,65.6 335.9,65.7 333.1,65.8 330.4,66.0 327.6,66.1 324.9,66.3 322.1,66.4 319.4,66.6 316.7,66.7 314.0,66.8 311.3,67.0 308.7,67.1 306.0,67.3 303.4,67.4 300.7,67.6 298.1,67.7 295.5,67.9 292.9,68.0 290.4,68.2 287.8,68.3 285.3,68.5 282.8,68.6 280.2,68.8 277.8,68.9 275.3,69.1 272.8,69.2 270.4,69.4 267.9,69.5 265.5,69.7 263.1,69.8 260.7,70.0 258.4,70.1 256.0,70.3 252.3,70.5 248.7,70.8 245.2,71.0 241.6,71.3 238.2,71.5 234.8,71.8 231.4,72.1 228.1,72.3 224.9,72.6 221.6,72.8 218.5,73.1 215.3,73.3 212.2,73.6 209.1,73.9 206.1,74.1 203.1,74.4 200.1,74.7 197.1,74.9 194.2,75.2 191.3,75.5 188.4,75.7 185.5,76.0 182.6,76.3 179.8,76.5 176.9,76.8 174.1,77.1 171.3,77.3 168.5,77.6 165.6,77.9 162.8,78.2 160.0,78.4 157.2,78.7 154.4,79.0 151.5,79.2 148.7,79.5 145.8,79.8 142.9,80.0 140.1,80.3 137.2,80.6 136.2,80.7"/><path d="M2378.0,31.4 2375.5,33.2 2372.9,35.1 2370.3,36.9 2367.7,38.7 2365.1,40.5 2362.5,42.4 2359.9,44.2 2357.3,46.0 2354.7,47.8 2352.1,49.6 2349.5,51.5 2346.9,53.3 2344.3,55.1 2341.7,56.9 2339.2,58.8 2336.6,60.6 2334.1,62.4 2331.6,64.3 2329.2,66.1 2326.7,67.9 2324.3,69.8 2321.9,71.6 2319.6,73.5 2317.0,75.5 2314.5,77.5 2311.9,79.5 2309.3,81.4 2306.8,83.3 2304.2,85.2 2301.7,87.1 2299.2,89.0 2296.7,91.0 2294.3,92.9 2291.9,94.9 2289.6,96.9 2287.3,99.0 2285.1,101.1 2283.0,103.3 2281.0,105.5 2279.1,107.8 2277.2,110.2 2275.5,112.7 2273.9,115.2 2272.4,117.7 2271.0,120.3 2269.7,122.9 2268.4,125.6 2267.2,128.3 2266.1,131.1 2265.0,133.9 2264.0,136.8 2263.1,139.7 2262.2,142.6 2261.3,145.6 2260.5,148.6 2259.8,151.6 2259.0,154.7 2258.4,157.7 2257.7,160.8 2257.1,163.8 2256.5,166.9 2256.0,170.0 2255.5,172.8 2255.2,175.7 2254.8,178.6 2254.6,181.5 2254.4,184.4 2254.2,187.4 2254.1,190.4 2254.1,193.4 2254.0,196.5 2254.0,199.5 2254.1,202.6 2254.1,205.6 2254.2,208.7 2254.3,211.8 2254.4,214.9 2254.5,218.0 2254.6,221.1 2254.6,224.2 2254.7,227.3 2254.8,230.4 2254.8,233.5 2254.9,236.6 2254.8,239.6 2254.8,242.7 2254.7,245.8 2254.7,248.9 2254.6,252.0 2254.6,255.1 2254.6,258.2 2254.5,261.3 2254.5,264.4 2254.5,267.5 2254.4,270.6 2254.4,273.7 2254.4,276.8 2254.3,280.0 2254.3,283.1 2254.2,286.2 2254.2,289.3 2254.1,292.4 2254.0,295.6 2253.9,298.7 2253.8,301.8 2253.7,304.9 2253.5,308.0 2253.4,311.1 2253.2,314.2 2253.0,317.4 2252.9,320.4 2252.8,323.4 2252.8,326.4 2252.9,329.5 2253.0,332.6 2253.1,335.7 2253.3,338.8 2253.5,341.9 2253.6,345.1 2253.8,348.2 2253.9,351.3 2254.0,354.4 2254.0,357.5 2253.9,360.5 2253.8,363.6 2253.5,366.6 2253.2,369.6 2252.7,372.5 2252.1,375.5 2251.4,378.3 2250.5,381.2 2249.4,384.0 2248.1,386.7 2246.7,389.4 2245.0,392.0 2243.7,393.8 2242.3,395.5 2240.9,397.2 2239.3,398.9 2237.6,400.6 2235.8,402.2 2233.9,403.8 2232.0,405.4 2229.9,406.9 2227.8,408.5 2225.6,410.0 2223.3,411.5 2220.9,412.9 2218.5,414.4 2216.0,415.8 2213.5,417.3 2210.9,418.7 2208.2,420.0 2205.4,421.4 2202.7,422.8 2199.8,424.1 2197.0,425.5 2194.0,426.8 2191.1,428.1 2188.1,429.4 2185.0,430.7 2182.0,432.0 2178.9,433.3 2175.8,434.5 2172.6,435.8 2169.5,437.1 2166.3,438.3 2163.1,439.6 2160.0,440.8 2156.8,442.1 2153.6,443.3 2150.4,444.6 2147.2,445.8 2144.0,447.1 2140.8,448.3 2139.8,448.7"/><path d="M2410.0,31.4 2410.9,34.6 2411.8,37.7 2412.7,40.7 2413.6,43.8 2414.5,46.9 2415.4,50.1 2416.2,53.3 2417.1,56.6 2418.0,60.0 2418.7,62.8 2419.4,65.7 2420.0,68.6 2420.6,71.5 2421.2,74.4 2421.9,77.4 2422.5,80.5 2423.2,83.6 2423.8,86.7 2424.6,89.9 2425.3,93.2 2426.1,96.6 2427.0,100.0 2427.7,102.6 2428.4,105.3 2429.2,108.0 2430.0,110.7 2430.8,113.5 2431.6,116.4 2432.5,119.3 2433.4,122.2 2434.3,125.2 2435.2,128.2 2436.1,131.2 2437.1,134.2 2438.0,137.2 2439.0,140.3 2439.9,143.4 2440.8,146.5 2441.8,149.6 2442.7,152.6 2443.6,155.7 2444.5,158.8 2445.3,161.9 2446.2,165.0 2447.0,168.0 2447.8,170.9 2448.5,173.8 2449.2,176.8 2449.9,179.7 2450.6,182.7 2451.3,185.7 2452.0,188.6 2452.6,191.6 2453.3,194.6 2453.9,197.6 2454.6,200.6 2455.2,203.6 2455.9,206.7 2456.6,209.7 2457.2,212.7 2457.9,215.7 2458.6,218.7 2459.3,221.7 2460.0,224.7 2460.7,227.7 2461.4,230.7 2462.2,233.7 2463.0,236.7 2463.8,239.7 2464.6,242.7 2465.4,245.6 2466.3,248.5 2467.2,251.3 2468.1,254.2 2469.0,257.1 2470.0,260.0 2471.0,262.8 2471.9,265.7 2472.9,268.6 2473.9,271.4 2475.0,274.3 2476.0,277.2 2477.0,280.0 2478.0,282.9 2479.0,285.7 2480.1,288.6 2481.1,291.5 2482.1,294.3 2483.1,297.2 2484.0,300.1 2485.0,303.0 2485.9,305.8 2486.9,308.7 2487.8,311.6 2488.6,314.5 2489.5,317.4 2490.4,320.3 2491.2,323.3 2492.0,326.3 2492.8,329.2 2493.6,332.2 2494.4,335.2 2495.1,338.2 2495.9,341.2 2496.6,344.2 2497.4,347.2 2498.1,350.1 2498.8,353.1 2499.5,356.1 2500.2,359.1 2500.9,362.1 2501.6,365.1 2502.3,368.1 2503.0,371.1 2503.7,374.1 2504.4,377.1 2505.1,380.1 2505.8,383.1 2506.6,386.0 2507.3,389.0 2508.0,392.0 2508.7,395.0 2509.5,398.0 2510.2,401.0 2510.9,404.0 2511.6,407.0 2512.3,409.9 2513.1,412.9 2513.8,415.9 2514.5,418.9 2515.2,421.9 2515.9,424.9 2516.7,427.9 2517.4,430.8 2518.1,433.8 2518.8,436.8 2519.5,439.8 2520.2,442.8 2521.0,445.8 2521.7,448.8 2522.4,451.8 2523.1,454.7 2523.8,457.7 2524.6,460.7 2525.3,463.7 2526.0,466.7 2526.7,469.7 2527.5,472.7 2528.2,475.6 2528.9,478.6 2529.6,481.6 2530.4,484.6 2531.1,487.6 2531.8,490.6 2532.6,493.6 2533.3,496.5 2534.0,499.5 2534.7,502.5 2535.5,505.5 2536.2,508.5 2536.9,511.5 2537.7,514.4 2537.8,515.0"/><path d="M2349.0,22.5 2346.0,22.6 2343.0,22.6 2340.0,22.7 2337.1,22.8 2334.1,22.9 2331.1,22.9 2328.2,23.0 2325.2,23.1 2322.3,23.1 2319.3,23.2 2316.4,23.3 2313.4,23.3 2310.5,23.4 2307.6,23.5 2304.6,23.5 2301.7,23.6 2298.8,23.6 2295.9,23.7 2293.0,23.8 2290.0,23.8 2287.1,23.9 2284.2,24.0 2281.3,24.0 2278.3,24.1 2275.4,24.2 2272.5,24.2 2269.6,24.3 2266.6,24.4 2263.7,24.4 2260.8,24.5 2257.8,24.6 2254.9,24.6 2252.0,24.7 2249.0,24.8 2246.1,24.8 2243.1,24.9 2240.1,25.0 2237.2,25.0 2234.2,25.1 2231.2,25.2 2228.2,25.2 2225.2,25.3 2222.2,25.4 2219.2,25.5 2216.2,25.5 2213.2,25.6 2210.1,25.7 2207.1,25.8 2204.0,25.8 2201.0,25.9 2197.9,26.0 2194.8,26.1 2191.7,26.1 2188.6,26.2 2185.5,26.3 2182.3,26.4 2179.2,26.5 2176.0,26.6 2172.8,26.6 2169.6,26.7 2166.4,26.8 2163.2,26.9 2160.0,27.0 2157.2,27.1 2154.4,27.2 2151.6,27.2 2148.7,27.3 2145.9,27.4 2143.0,27.5 2140.2,27.6 2137.3,27.7 2134.4,27.7 2131.4,27.8 2128.5,27.9 2125.6,28.0 2122.6,28.1 2119.7,28.2 2116.7,28.3 2113.7,28.4 2110.7,28.5 2107.7,28.6 2104.7,28.7 2101.7,28.8 2098.6,28.9 2095.6,29.0 2092.5,29.1 2089.5,29.1 2086.4,29.2 2083.4,29.3 2080.3,29.4 2077.2,29.5 2074.1,29.7 2071.0,29.8 2067.9,29.9 2064.8,30.0 2061.7,30.1 2058.6,30.2 2055.5,30.3 2052.4,30.4 2049.2,30.5 2046.1,30.6 2043.0,30.7 2039.9,30.8 2036.7,30.9 2033.6,31.0 2030.5,31.1 2027.3,31.2 2024.2,31.3 2021.1,31.4 2017.9,31.5 2014.8,31.6 2011.7,31.7 2008.5,31.8 2005.4,31.9 2002.3,32.0 1999.2,32.2 1996.0,32.3 1992.9,32.4 1989.8,32.5 1986.7,32.6 1983.6,32.7 1980.5,32.8 1977.4,32.9 1974.3,33.0 1971.2,33.1 1968.2,33.2 1965.1,33.3 1962.0,33.4 1959.0,33.5 1955.9,33.6 1952.9,33.7 1949.9,33.8 1946.9,33.9 1943.8,34.0 1940.8,34.1 1937.8,34.2 1934.9,34.3 1931.9,34.4 1928.9,34.5 1926.0,34.6 1923.0,34.7 1920.1,34.8 1917.2,34.9 1914.3,35.0 1911.4,35.0 1908.5,35.1 1905.7,35.2 1902.8,35.3 1900.0,35.4 1896.8,35.5 1893.6,35.6 1890.3,35.7 1887.1,35.8 1883.9,35.9 1880.7,36.0 1877.5,36.1 1874.3,36.2 1871.1,36.3 1867.9,36.3 1864.7,36.4 1861.6,36.5 1858.4,36.6 1855.2,36.7 1852.1,36.8 1848.9,36.9 1845.7,37.0 1842.6,37.0 1839.5,37.1 1836.3,37.2 1833.2,37.3 1830.1,37.4 1827.0,37.5 1823.8,37.5 1820.7,37.6 1817.6,37.7 1814.5,37.8 1811.5,37.9 1808.4,38.0 1805.3,38.0 1802.2,38.1 1799.2,38.2 1796.1,38.3 1793.1,38.4 1790.1,38.5 1787.0,38.5 1784.0,38.6 1781.0,38.7 1778.0,38.8 1775.0,38.9 1772.0,39.0 1769.0,39.0 1766.0,39.1 1763.1,39.2 1760.1,39.3 1757.1,39.4 1754.2,39.5 1751.3,39.6 1748.3,39.7 1745.4,39.7 1742.5,39.8 1739.6,39.9 1736.7,40.0 1733.8,40.1 1731.0,40.2 1728.1,40.3 1725.3,40.4 1722.4,40.5 1719.6,40.6 1716.7,40.7 1713.9,40.8 1711.1,40.9 1708.3,41.0 1705.5,41.1 1702.8,41.2 1700.0,41.3 1696.7,41.4 1693.4,41.6 1690.2,41.7 1687.0,41.8 1683.8,41.9 1680.6,42.0 1677.5,42.2 1674.4,42.3 1671.3,42.4 1668.2,42.5 1665.2,42.6 1662.1,42.7 1659.1,42.9 1656.1,43.0 1653.1,43.1 1650.1,43.2 1647.2,43.3 1644.2,43.5 1641.3,43.6 1638.3,43.7 1635.4,43.8 1632.5,44.0 1629.5,44.1 1626.6,44.2 1623.7,44.4 1620.7,44.5 1617.8,44.6 1614.9,44.8 1611.9,44.9 1609.0,45.1 1606.0,45.2 1603.1,45.4 1600.1,45.5 1597.1,45.7 1594.1,45.8 1591.1,46.0 1588.1,46.2 1585.1,46.4 1582.0,46.6 1578.9,46.7 1575.8,46.9 1572.7,47.1 1569.6,47.3 1566.4,47.6 1563.2,47.8 1560.0,48.0 1557.2,48.2 1554.4,48.4 1551.5,48.6 1548.7,48.8 1545.8,49.1 1543.0,49.3 1540.1,49.5 1537.3,49.8 1534.4,50.0 1531.5,50.3 1528.6,50.5 1525.7,50.8 1522.8,51.0 1519.9,51.3 1517.0,51.6 1514.1,51.8 1511.2,52.1 1508.2,52.4 1505.3,52.7 1502.3,52.9 1499.4,53.2 1496.4,53.5 1493.5,53.8 1490.5,54.1 1487.5,54.4 1484.5,54.7 1481.5,55.0 1478.5,55.3 1475.5,55.6 1472.5,55.9 1469.5,56.2 1466.5,56.5 1463.5,56.8 1460.5,57.1 1457.4,57.4 1454.4,57.7 1451.3,58.0 1448.3,58.3 1445.2,58.6 1442.2,59.0 1439.1,59.3 1436.0,59.6 1433.0,59.9 1429.9,60.2 1426.8,60.5 1423.7,60.7 1420.6,61.0 1417.5,61.3 1414.4,61.6 1411.3,61.9 1408.2,62.2 1405.1,62.5 1402.0,62.8 1398.8,63.0 1395.7,63.3 1392.6,63.6 1389.4,63.8 1386.3,64.1 1383.2,64.3 1380.0,64.6 1377.1,64.8 1374.3,65.1 1371.4,65.3 1368.4,65.5 1365.5,65.7 1362.6,65.9 1359.7,66.2 1356.7,66.4 1353.7,66.6 1350.8,66.8 1347.8,67.1 1344.8,67.3 1341.8,67.5 1338.8,67.7 1335.8,67.9 1332.7,68.1 1329.7,68.4 1326.7,68.6 1323.6,68.8 1320.6,69.0 1317.5,69.2 1314.4,69.4 1311.4,69.6 1308.3,69.9 1305.2,70.1 1302.1,70.3 1299.0,70.5 1296.0,70.7 1292.9,70.9 1289.8,71.1 1286.7,71.3 1283.6,71.5 1280.5,71.7 1277.4,71.9 1274.3,72.1 1271.2,72.3 1268.1,72.5 1265.0,72.7 1261.9,72.9 1258.8,73.1 1255.7,73.3 1252.6,73.5 1249.5,73.7 1246.4,73.9 1243.3,74.1 1240.3,74.3 1237.2,74.5 1234.1,74.7 1231.0,74.9 1228.0,75.1 1224.9,75.3 1221.9,75.4 1218.8,75.6 1215.8,75.8 1212.8,76.0 1209.8,76.2 1206.7,76.4 1203.7,76.6 1200.8,76.7 1197.8,76.9 1194.8,77.1 1191.8,77.3 1188.9,77.5 1185.9,77.6 1183.0,77.8 1180.1,78.0 1177.2,78.2 1174.3,78.3 1171.4,78.5 1168.5,78.7 1165.7,78.9 1162.8,79.0 1160.0,79.2 1156.8,79.4 1153.6,79.6 1150.4,79.8 1147.2,80.0 1144.0,80.1 1140.9,80.3 1137.7,80.5 1134.6,80.7 1131.4,80.9 1128.3,81.0 1125.2,81.2 1122.1,81.4 1119.0,81.6 1116.0,81.7 1112.9,81.9 1109.8,82.1 1106.8,82.2 1103.7,82.4 1100.7,82.5 1097.7,82.7 1094.7,82.9 1091.6,83.0 1088.6,83.2 1085.6,83.3 1082.6,83.5 1079.6,83.7 1076.6,83.8 1073.6,84.0 1070.7,84.1 1067.7,84.3 1064.7,84.4 1061.7,84.6 1058.7,84.7 1055.8,84.9 1052.8,85.0 1049.8,85.2 1046.8,85.3 1043.9,85.5 1040.9,85.6 1037.9,85.8 1035.0,86.0 1032.0,86.1 1029.0,86.3 1026.0,86.4 1023.1,86.6 1020.1,86.7 1017.1,86.9 1014.1,87.0 1011.1,87.2 1008.1,87.3 1005.1,87.5 1004.0,87.6"/><path d="M2415.0,31.4 2416.3,34.2 2417.6,37.0 2418.8,39.8 2420.1,42.6 2421.3,45.4 2422.6,48.2 2423.9,51.1 2425.2,54.0 2426.6,57.0 2428.0,60.0 2429.2,62.6 2430.5,65.3 2431.7,68.0 2433.0,70.7 2434.2,73.4 2435.5,76.2 2436.8,79.0 2438.2,81.8 2439.6,84.7 2441.0,87.6 2442.4,90.6 2443.9,93.7 2445.4,96.8 2447.0,100.0 2448.2,102.4 2449.4,104.8 2450.7,107.3 2452.0,109.8 2453.3,112.4 2454.7,115.0 2456.1,117.6 2457.5,120.3 2458.9,123.0 2460.3,125.7 2461.8,128.5 2463.2,131.3 2464.7,134.0 2466.2,136.8 2467.7,139.7 2469.1,142.5 2470.6,145.3 2472.1,148.2 2473.6,151.0 2475.0,153.9 2476.4,156.7 2477.9,159.5 2479.3,162.4 2480.6,165.2 2482.0,168.0 2483.3,170.7 2484.5,173.4 2485.8,176.1 2487.0,178.8 2488.2,181.6 2489.4,184.3 2490.6,187.1 2491.8,189.9 2492.9,192.6 2494.1,195.4 2495.3,198.2 2496.4,201.0 2497.6,203.8 2498.8,206.6 2499.9,209.4 2501.1,212.2 2502.3,215.0 2503.5,217.8 2504.7,220.6 2505.9,223.3 2507.2,226.1 2508.4,228.9 2509.7,231.7 2511.0,234.4 2512.3,237.2 2513.6,239.9 2515.0,242.7 2516.4,245.4 2517.8,248.1 2519.2,250.8 2520.7,253.4 2522.2,256.1 2523.7,258.8 2525.2,261.4 2526.8,264.1 2528.4,266.8 2529.9,269.4 2531.5,272.1 2533.1,274.7 2534.7,277.4 2536.3,280.0 2537.9,282.7 2539.5,285.3 2541.1,288.0 2542.7,290.6 2544.3,293.3 2545.9,295.9 2547.4,298.6 2548.9,301.2 2550.4,303.9 2551.9,306.6 2553.4,309.3 2554.8,312.0 2556.2,314.6 2557.6,317.4 2559.0,320.1 2560.3,322.8 2561.6,325.6 2562.9,328.3 2564.2,331.1 2565.4,333.8 2566.6,336.6 2567.9,339.3 2569.1,342.1 2570.3,344.9 2571.5,347.6 2572.6,350.4 2573.8,353.2 2575.0,355.9 2576.1,358.7 2577.3,361.5 2578.4,364.3 2579.6,367.1 2580.7,369.8 2581.8,372.6 2583.0,375.4 2584.1,378.2 2585.3,380.9 2586.5,383.7 2587.6,386.5 2588.8,389.3 2590.0,392.0 2591.2,394.8 2592.4,397.5 2593.6,400.3 2594.8,403.1 2596.0,405.8 2597.2,408.6 2598.4,411.4 2599.6,414.1 2600.9,416.9 2602.1,419.6 2603.3,422.4 2604.5,425.2 2605.7,427.9 2606.9,430.7 2608.1,433.4 2609.3,436.2 2610.5,439.0 2611.7,441.7 2612.8,444.5 2614.0,447.3 2615.2,450.0 2616.3,452.8 2617.5,455.6 2618.6,458.4 2619.8,461.1 2620.9,463.9 2622.0,466.7 2623.1,469.5 2624.3,472.4 2625.4,475.3 2626.5,478.1 2627.5,481.0 2628.6,483.9 2629.7,486.7 2630.8,489.6 2631.8,492.5 2632.9,495.3 2633.9,498.2 2635.0,501.1 2636.0,503.9 2637.0,506.8 2638.1,509.7 2639.1,512.6 2640.1,515.4 2640.2,515.5"/><path d="M2349.0,21.5 2346.0,21.5 2343.0,21.6 2340.0,21.6 2337.1,21.7 2334.1,21.7 2331.1,21.8 2328.2,21.8 2325.2,21.9 2322.3,21.9 2319.3,22.0 2316.4,22.0 2313.4,22.0 2310.5,22.1 2307.6,22.1 2304.6,22.2 2301.7,22.2 2298.8,22.3 2295.9,22.3 2293.0,22.3 2290.0,22.4 2287.1,22.4 2284.2,22.5 2281.3,22.5 2278.4,22.6 2275.4,22.6 2272.5,22.6 2269.6,22.7 2266.6,22.7 2263.7,22.8 2260.8,22.8 2257.8,22.9 2254.9,22.9 2252.0,22.9 2249.0,23.0 2246.1,23.0 2243.1,23.1 2240.1,23.1 2237.2,23.2 2234.2,23.2 2231.2,23.3 2228.2,23.3 2225.2,23.3 2222.2,23.4 2219.2,23.4 2216.2,23.5 2213.2,23.5 2210.1,23.6 2207.1,23.6 2204.0,23.7 2201.0,23.7 2197.9,23.8 2194.8,23.9 2191.7,23.9 2188.6,24.0 2185.5,24.0 2182.3,24.1 2179.2,24.1 2176.0,24.2 2172.8,24.3 2169.6,24.3 2166.4,24.4 2163.2,24.4 2160.0,24.5 2157.2,24.6 2154.4,24.6 2151.6,24.7 2148.7,24.7 2145.9,24.8 2143.0,24.8 2140.2,24.9 2137.3,25.0 2134.4,25.0 2131.4,25.1 2128.5,25.1 2125.6,25.2 2122.6,25.3 2119.7,25.3 2116.7,25.4 2113.7,25.5 2110.7,25.5 2107.7,25.6 2104.7,25.6 2101.7,25.7 2098.6,25.8 2095.6,25.8 2092.5,25.9 2089.5,26.0 2086.4,26.0 2083.4,26.1 2080.3,26.2 2077.2,26.3 2074.1,26.3 2071.0,26.4 2067.9,26.5 2064.8,26.5 2061.7,26.6 2058.6,26.7 2055.5,26.7 2052.4,26.8 2049.2,26.9 2046.1,27.0 2043.0,27.0 2039.8,27.1 2036.7,27.2 2033.6,27.3 2030.5,27.3 2027.3,27.4 2024.2,27.5 2021.1,27.5 2017.9,27.6 2014.8,27.7 2011.7,27.8 2008.5,27.8 2005.4,27.9 2002.3,28.0 1999.2,28.1 1996.0,28.2 1992.9,28.2 1989.8,28.3 1986.7,28.4 1983.6,28.5 1980.5,28.5 1977.4,28.6 1974.3,28.7 1971.2,28.8 1968.2,28.8 1965.1,28.9 1962.0,29.0 1959.0,29.1 1955.9,29.1 1952.9,29.2 1949.9,29.3 1946.9,29.4 1943.8,29.5 1940.8,29.5 1937.8,29.6 1934.9,29.7 1931.9,29.8 1928.9,29.8 1926.0,29.9 1923.0,30.0 1920.1,30.1 1917.2,30.1 1914.3,30.2 1911.4,30.3 1908.5,30.4 1905.7,30.4 1902.8,30.5 1900.0,30.6 1896.8,30.7 1893.6,30.8 1890.3,30.9 1887.1,30.9 1883.9,31.0 1880.7,31.1 1877.5,31.2 1874.3,31.3 1871.1,31.4 1867.9,31.5 1864.7,31.6 1861.6,31.6 1858.4,31.7 1855.2,31.8 1852.1,31.9 1848.9,32.0 1845.7,32.1 1842.6,32.2 1839.5,32.3 1836.3,32.4 1833.2,32.4 1830.1,32.5 1827.0,32.6 1823.8,32.7 1820.7,32.8 1817.6,32.9 1814.5,33.0 1811.5,33.1 1808.4,33.2 1805.3,33.3 1802.2,33.3 1799.2,33.4 1796.1,33.5 1793.1,33.6 1790.1,33.7 1787.0,33.8 1784.0,33.9 1781.0,34.0 1778.0,34.1 1775.0,34.2 1772.0,34.3 1769.0,34.3 1766.0,34.4 1763.1,34.5 1760.1,34.6 1757.1,34.7 1754.2,34.8 1751.3,34.9 1748.3,35.0 1745.4,35.1 1742.5,35.2 1739.6,35.3 1736.7,35.4 1733.8,35.5 1731.0,35.6 1728.1,35.7 1725.3,35.7 1722.4,35.8 1719.6,35.9 1716.7,36.0 1713.9,36.1 1711.1,36.2 1708.3,36.3 1705.5,36.4 1702.8,36.5 1700.0,36.6 1696.7,36.7 1693.4,36.8 1690.2,36.9 1687.0,37.1 1683.8,37.2 1680.6,37.3 1677.5,37.4 1674.4,37.5 1671.3,37.6 1668.2,37.7 1665.2,37.9 1662.1,38.0 1659.1,38.1 1656.1,38.2 1653.1,38.3 1650.2,38.4 1647.2,38.6 1644.2,38.7 1641.3,38.8 1638.3,38.9 1635.4,39.0 1632.5,39.1 1629.5,39.3 1626.6,39.4 1623.7,39.5 1620.8,39.6 1617.8,39.7 1614.9,39.9 1612.0,40.0 1609.0,40.1 1606.1,40.2 1603.1,40.3 1600.1,40.5 1597.1,40.6 1594.2,40.7 1591.1,40.8 1588.1,41.0 1585.1,41.1 1582.0,41.2 1578.9,41.3 1575.8,41.5 1572.7,41.6 1569.6,41.7 1566.4,41.8 1563.2,42.0 1560.0,42.1 1557.2,42.2 1554.4,42.3 1551.5,42.4 1548.7,42.6 1545.8,42.7 1543.0,42.8 1540.1,42.9 1537.3,43.0 1534.4,43.1 1531.5,43.3 1528.6,43.4 1525.7,43.5 1522.8,43.6 1519.9,43.7 1517.0,43.8 1514.1,44.0 1511.2,44.1 1508.2,44.2 1505.3,44.3 1502.3,44.4 1499.4,44.6 1496.4,44.7 1493.5,44.8 1490.5,44.9 1487.5,45.0 1484.5,45.2 1481.5,45.3 1478.5,45.4 1475.5,45.5 1472.5,45.6 1469.5,45.8 1466.5,45.9 1463.5,46.0 1460.5,46.1 1457.4,46.3 1454.4,46.4 1451.3,46.5 1448.3,46.7 1445.2,46.8 1442.2,46.9 1439.1,47.0 1436.0,47.2 1433.0,47.3 1429.9,47.4 1426.8,47.6 1423.7,47.7 1420.6,47.8 1417.5,48.0 1414.4,48.1 1411.3,48.2 1408.2,48.4 1405.1,48.5 1402.0,48.6 1398.8,48.8 1395.7,48.9 1392.6,49.0 1389.4,49.2 1386.3,49.3 1383.1,49.5 1380.0,49.6 1377.1,49.7 1374.3,49.9 1371.4,50.0 1368.6,50.1 1365.8,50.2 1362.9,50.4 1360.1,50.5 1357.3,50.6 1354.4,50.8 1351.6,50.9 1348.8,51.0 1346.0,51.2 1343.2,51.3 1340.3,51.4 1337.5,51.6 1334.7,51.7 1331.9,51.9 1329.1,52.0 1326.3,52.1 1323.4,52.3 1320.6,52.4 1317.8,52.5 1315.0,52.7 1312.1,52.8 1309.3,53.0 1306.5,53.1 1303.6,53.2 1300.8,53.4 1297.9,53.5 1295.0,53.7 1292.2,53.8 1289.3,54.0 1286.4,54.1 1283.5,54.2 1280.6,54.4 1277.7,54.5 1274.8,54.7 1271.9,54.8 1268.9,55.0 1266.0,55.1 1263.0,55.3 1260.0,55.4 1257.1,55.6 1254.1,55.7 1251.1,55.9 1248.0,56.0 1245.0,56.2 1242.0,56.3 1238.9,56.4 1235.8,56.6 1232.7,56.7 1229.6,56.9 1226.5,57.0 1223.4,57.2 1220.2,57.3 1217.0,57.5 1213.8,57.7 1210.6,57.8 1207.4,58.0 1204.2,58.1 1200.9,58.3 1197.6,58.4 1194.3,58.6 1191.0,58.7 1187.6,58.9 1184.2,59.0 1180.8,59.2 1177.4,59.3 1174.0,59.5 1170.5,59.6 1167.0,59.8 1163.5,59.9 1160.0,60.1 1157.5,60.2 1155.0,60.3 1152.5,60.4 1149.9,60.5 1147.3,60.6 1144.7,60.8 1142.1,60.9 1139.4,61.0 1136.8,61.1 1134.1,61.2 1131.3,61.3 1128.6,61.4 1125.8,61.5 1123.0,61.7 1120.2,61.8 1117.4,61.9 1114.6,62.0 1111.7,62.1 1108.8,62.2 1105.9,62.3 1103.0,62.5 1100.0,62.6 1097.1,62.7 1094.1,62.8 1091.1,62.9 1088.1,63.1 1085.0,63.2 1082.0,63.3 1078.9,63.4 1075.9,63.5 1072.8,63.6 1069.7,63.8 1066.6,63.9 1063.4,64.0 1060.3,64.1 1057.1,64.3 1053.9,64.4 1050.8,64.5 1047.6,64.6 1044.4,64.7 1041.1,64.9 1037.9,65.0 1034.7,65.1 1031.4,65.2 1028.2,65.4 1024.9,65.5 1021.6,65.6 1018.4,65.7 1015.1,65.8 1011.8,66.0 1008.5,66.1 1005.2,66.2 1001.8,66.3 998.5,66.5 995.2,66.6 991.9,66.7 988.5,66.8 985.2,67.0 981.8,67.1 978.5,67.2 975.1,67.3 971.8,67.5 968.4,67.6 965.0,67.7 961.7,67.8 958.3,68.0 954.9,68.1 951.6,68.2 948.2,68.4 944.8,68.5 941.5,68.6 938.1,68.7 934.8,68.9 931.4,69.0 928.0,69.1 924.7,69.2 921.3,69.4 918.0,69.5 914.6,69.6 911.3,69.7 907.9,69.9 904.6,70.0 901.3,70.1 898.0,70.2 894.6,70.4 891.3,70.5 888.0,70.6 884.7,70.7 881.4,70.8 878.2,71.0 874.9,71.1 871.6,71.2 868.4,71.3 865.1,71.5 861.9,71.6 858.6,71.7 855.4,71.8 852.2,72.0 849.0,72.1 845.8,72.2 842.7,72.3 839.5,72.4 836.4,72.6 833.2,72.7 830.1,72.8 827.0,72.9 823.9,73.0 820.8,73.2 817.8,73.3 814.7,73.4 811.7,73.5 808.7,73.6 805.7,73.8 802.7,73.9 799.8,74.0 796.8,74.1 793.9,74.2 791.0,74.3 788.1,74.5 785.2,74.6 782.4,74.7 779.5,74.8 776.7,74.9 773.9,75.0 771.2,75.1 768.4,75.3 765.7,75.4 763.0,75.5 760.3,75.6 757.7,75.7 755.0,75.8 752.4,75.9 749.8,76.0 747.3,76.1 744.7,76.2 742.2,76.4 739.8,76.5 737.3,76.6 734.9,76.7 732.5,76.8 730.1,76.9 727.7,77.0 725.4,77.1 723.1,77.2 720.9,77.3 718.6,77.4 716.4,77.5 714.3,77.6 712.1,77.7 710.0,77.8 706.1,78.0 702.3,78.2 698.5,78.4 694.8,78.5 691.2,78.7 687.6,78.9 684.1,79.1 680.6,79.3 677.2,79.4 673.9,79.6 670.6,79.8 667.3,80.0 664.1,80.2 661.0,80.3 657.8,80.5 654.8,80.7 651.7,80.9 648.7,81.0 645.8,81.2 642.8,81.4 639.9,81.5 637.1,81.7 634.2,81.9 631.4,82.0 628.6,82.2 625.8,82.4 623.1,82.5 620.3,82.7 617.6,82.9 614.9,83.0 612.2,83.2 609.5,83.3 606.8,83.5 604.2,83.7 601.5,83.8 598.8,84.0 596.2,84.1 593.5,84.3 590.8,84.4 588.1,84.6 585.4,84.7 582.7,84.9 580.0,85.0 576.7,85.2 573.5,85.3 570.2,85.5 567.1,85.7 563.9,85.8 560.8,86.0 557.7,86.2 554.7,86.3 551.6,86.5 548.6,86.6 545.6,86.8 542.6,86.9 539.7,87.1 536.7,87.2 533.8,87.4 530.9,87.5 528.0,87.6 525.0,87.8 522.1,87.9 519.2,88.1 516.3,88.2 513.4,88.4 510.5,88.5 507.5,88.7 506.7,88.7"/><path d="M2464.0,20.5 2467.0,20.5 2470.0,20.5 2473.1,20.5 2476.1,20.5 2479.1,20.5 2482.1,20.5 2485.1,20.5 2488.1,20.5 2491.0,20.5 2494.0,20.5 2497.0,20.5 2500.0,20.5 2503.0,20.5 2506.0,20.5 2508.9,20.5 2511.9,20.5 2514.9,20.5 2517.8,20.5 2520.8,20.5 2523.8,20.5 2526.7,20.5 2529.7,20.5 2532.7,20.5 2535.6,20.5 2538.6,20.5 2541.5,20.5 2544.5,20.4 2547.5,20.4 2550.4,20.4 2553.4,20.4 2556.3,20.4 2559.3,20.4 2562.3,20.4 2565.2,20.4 2568.2,20.4 2571.1,20.4 2574.1,20.4 2577.1,20.4 2580.0,20.4 2583.0,20.4 2586.0,20.4 2589.0,20.4 2591.9,20.4 2594.9,20.4 2597.9,20.4 2600.9,20.4 2603.9,20.4 2606.9,20.4 2609.9,20.4 2612.9,20.4 2615.9,20.4 2618.9,20.4 2621.9,20.4 2624.9,20.4 2627.9,20.4 2631.0,20.4 2634.0,20.4 2637.0,20.4 2640.1,20.4 2643.1,20.4 2646.2,20.4 2649.2,20.4 2652.3,20.5 2655.3,20.5 2658.4,20.5 2661.5,20.5 2664.6,20.5 2667.7,20.5 2670.8,20.6 2673.9,20.6 2677.0,20.6 2680.1,20.6 2683.3,20.7 2686.4,20.7 2689.5,20.7 2692.7,20.7 2695.8,20.8 2699.0,20.8 2702.2,20.8 2705.4,20.9 2708.6,20.9 2711.8,21.0 2715.0,21.0 2717.8,21.0 2720.6,21.1 2723.4,21.1 2726.2,21.2 2729.0,21.2 2731.8,21.2 2734.6,21.3 2737.4,21.3 2740.2,21.4 2742.9,21.4 2745.7,21.5 2748.5,21.5 2751.2,21.6 2754.0,21.6 2756.8,21.7 2759.5,21.7 2762.3,21.8 2765.1,21.8 2767.8,21.9 2770.6,21.9 2773.3,22.0 2776.1,22.0 2778.8,22.1 2781.6,22.2 2784.4,22.2 2787.1,22.3 2789.9,22.3 2792.6,22.4 2795.4,22.5 2798.2,22.5 2800.9,22.6 2803.7,22.7 2806.5,22.7 2809.3,22.8 2812.0,22.9 2814.8,22.9 2817.6,23.0 2820.4,23.1 2823.2,23.1 2826.0,23.2 2828.8,23.3 2831.6,23.3 2834.4,23.4 2837.2,23.5 2840.1,23.6 2842.9,23.6 2845.7,23.7 2848.6,23.8 2851.4,23.9 2854.3,23.9 2857.1,24.0 2860.0,24.1 2862.9,24.2 2865.8,24.2 2868.7,24.3 2871.6,24.4 2874.5,24.5 2877.4,24.6 2880.3,24.6 2883.3,24.7 2886.2,24.8 2889.2,24.9 2892.1,25.0 2895.1,25.0 2898.1,25.1 2901.1,25.2 2904.1,25.3 2907.1,25.4 2910.1,25.5 2913.2,25.6 2916.2,25.6 2919.3,25.7 2922.4,25.8 2925.5,25.9 2928.6,26.0 2931.7,26.1 2934.8,26.2 2938.0,26.2 2941.1,26.3 2944.3,26.4 2947.5,26.5 2950.7,26.6 2953.9,26.7 2957.2,26.8 2960.4,26.9 2963.7,27.0 2967.0,27.1 2970.3,27.1 2973.6,27.2 2976.9,27.3 2980.3,27.4 2983.6,27.5 2987.0,27.6 2990.4,27.7 2993.8,27.8 2997.3,27.9 3000.7,28.0 3004.2,28.1 3007.7,28.2 3011.2,28.3 3014.7,28.3 3018.3,28.4 3021.8,28.5 3025.4,28.6 3029.0,28.7 3032.7,28.8 3036.3,28.9 3040.0,29.0 3042.3,29.1 3044.7,29.1 3047.1,29.2 3049.4,29.2 3051.8,29.3 3054.2,29.4 3056.7,29.4 3059.1,29.5 3061.6,29.5 3064.1,29.6 3066.6,29.7 3069.1,29.7 3071.6,29.8 3074.1,29.9 3076.7,29.9 3079.2,30.0 3081.8,30.1 3084.4,30.1 3087.0,30.2 3089.6,30.3 3092.3,30.3 3094.9,30.4 3097.6,30.5 3100.3,30.5 3102.9,30.6 3105.6,30.7 3108.4,30.7 3111.1,30.8 3113.8,30.9 3116.6,30.9 3119.3,31.0 3122.1,31.1 3124.9,31.2 3127.7,31.2 3130.5,31.3 3133.4,31.4 3136.2,31.4 3139.1,31.5 3141.9,31.6 3144.8,31.7 3147.7,31.7 3150.6,31.8 3153.5,31.9 3156.4,31.9 3159.3,32.0 3162.3,32.1 3165.2,32.2 3168.2,32.2 3171.1,32.3 3174.1,32.4 3177.1,32.5 3180.1,32.5 3183.1,32.6 3186.1,32.7 3189.2,32.8 3192.2,32.8 3195.3,32.9 3198.3,33.0 3201.4,33.1 3204.5,33.2 3207.5,33.2 3210.6,33.3 3213.7,33.4 3216.8,33.5 3220.0,33.6 3223.1,33.6 3226.2,33.7 3229.4,33.8 3232.5,33.9 3235.7,33.9 3238.8,34.0 3242.0,34.1 3245.2,34.2 3248.4,34.3 3251.6,34.3 3254.8,34.4 3258.0,34.5 3261.2,34.6 3264.4,34.7 3267.6,34.8 3270.9,34.8 3274.1,34.9 3277.3,35.0 3280.6,35.1 3283.9,35.2 3287.1,35.3 3290.4,35.3 3293.7,35.4 3296.9,35.5 3300.2,35.6 3303.5,35.7 3306.8,35.7 3310.1,35.8 3313.4,35.9 3316.7,36.0 3320.0,36.1 3323.3,36.2 3326.7,36.3 3330.0,36.3 3333.3,36.4 3336.6,36.5 3340.0,36.6 3343.3,36.7 3346.6,36.8 3350.0,36.8 3353.3,36.9 3356.7,37.0 3360.0,37.1 3363.4,37.2 3366.8,37.3 3370.1,37.4 3373.5,37.4 3376.9,37.5 3380.2,37.6 3383.6,37.7 3387.0,37.8 3390.3,37.9 3393.7,38.0 3397.1,38.1 3400.5,38.1 3403.8,38.2 3407.2,38.3 3410.6,38.4 3414.0,38.5 3417.4,38.6 3420.8,38.7 3424.1,38.7 3427.5,38.8 3430.9,38.9 3434.3,39.0 3437.7,39.1 3441.1,39.2 3444.4,39.3 3447.8,39.4 3451.2,39.4 3454.6,39.5 3458.0,39.6 3461.4,39.7 3464.7,39.8 3468.1,39.9 3471.5,40.0 3474.9,40.1 3478.2,40.1 3481.6,40.2 3485.0,40.3 3488.4,40.4 3491.7,40.5 3495.1,40.6 3498.4,40.7 3501.8,40.7 3505.2,40.8 3508.5,40.9 3511.9,41.0 3515.2,41.1 3518.6,41.2 3521.9,41.3 3525.2,41.4 3528.6,41.4 3531.9,41.5 3535.2,41.6 3538.6,41.7 3541.9,41.8 3545.2,41.9 3548.5,42.0 3551.8,42.1 3555.1,42.1 3558.4,42.2 3561.7,42.3 3565.0,42.4 3568.3,42.5 3571.6,42.6 3574.8,42.7 3578.1,42.7 3581.4,42.8 3584.6,42.9 3587.9,43.0 3591.1,43.1 3594.4,43.2 3597.6,43.3 3600.8,43.3 3604.0,43.4 3607.3,43.5 3610.5,43.6 3613.7,43.7 3616.9,43.8 3620.1,43.9 3623.2,43.9 3626.4,44.0 3629.6,44.1 3632.7,44.2 3635.9,44.3 3639.0,44.4 3642.2,44.4 3645.3,44.5 3648.4,44.6 3651.5,44.7 3654.6,44.8 3657.7,44.9 3660.8,44.9 3663.9,45.0 3666.9,45.1 3670.0,45.2 3673.1,45.3 3676.1,45.4 3679.1,45.4 3682.1,45.5 3685.2,45.6 3688.2,45.7 3691.2,45.8 3694.1,45.9 3697.1,45.9 3700.1,46.0 3703.0,46.1 3706.0,46.2 3708.9,46.3 3711.8,46.3 3714.7,46.4 3717.6,46.5 3720.5,46.6 3723.4,46.7 3726.2,46.7 3729.1,46.8 3731.9,46.9 3734.8,47.0 3737.6,47.0 3740.4,47.1 3743.2,47.2 3746.0,47.3 3748.7,47.4 3751.5,47.4 3754.2,47.5 3757.0,47.6 3759.7,47.7 3762.4,47.7 3765.1,47.8 3767.7,47.9 3770.4,48.0 3773.1,48.0 3775.7,48.1 3778.3,48.2 3780.9,48.3 3783.5,48.3 3786.1,48.4 3788.7,48.5 3791.2,48.6 3793.8,48.6 3796.3,48.7 3798.8,48.8 3801.3,48.9 3803.8,48.9 3806.2,49.0 3808.7,49.1 3811.1,49.1 3813.5,49.2 3815.9,49.3 3818.3,49.4 3820.7,49.4 3823.0,49.5 3825.4,49.6 3827.7,49.6 3830.0,49.7 3832.3,49.8 3834.6,49.8 3836.8,49.9 3839.1,50.0 3841.3,50.0 3843.5,50.1 3845.7,50.2 3847.8,50.2 3850.0,50.3 3853.9,50.4 3857.7,50.5 3861.4,50.6 3865.2,50.8 3868.9,50.9 3872.6,51.0 3876.2,51.1 3879.8,51.2 3883.4,51.3 3886.9,51.4 3890.4,51.4 3893.9,51.5 3897.3,51.6 3900.7,51.7 3904.1,51.8 3907.4,51.9 3910.7,52.0 3914.0,52.0 3917.3,52.1 3920.5,52.2 3923.8,52.3 3926.9,52.4 3930.1,52.4 3933.2,52.5 3936.4,52.6 3939.5,52.7 3942.5,52.7 3945.6,52.8 3948.6,52.9 3951.6,53.0 3954.6,53.0 3957.6,53.1 3960.5,53.2 3963.5,53.2 3966.4,53.3 3969.3,53.4 3972.2,53.5 3975.1,53.5 3977.9,53.6 3980.8,53.7 3983.6,53.8 3986.4,53.8 3989.2,53.9 3992.0,54.0 3994.8,54.1 3997.6,54.2 4000.4,54.3 4003.2,54.3 4005.9,54.4 4008.7,54.5 4011.4,54.6 4014.1,54.7 4016.9,54.8 4019.6,54.9 4022.3,55.0 4025.1,55.1 4027.8,55.2 4030.5,55.3 4033.2,55.4 4035.9,55.5 4038.7,55.6 4041.4,55.7 4044.1,55.9 4046.8,56.0 4049.6,56.1 4052.3,56.2 4055.0,56.4 4057.8,56.5 4060.5,56.6 4063.3,56.8 4066.1,56.9 4068.8,57.1 4071.6,57.2 4074.4,57.4 4077.2,57.6 4080.0,57.7 4082.8,57.9 4085.6,58.1 4088.5,58.2 4091.3,58.4 4094.2,58.6 4097.1,58.8 4100.0,59.0 4103.1,59.2 4106.2,59.4 4109.3,59.7 4112.3,59.9 4115.4,60.1 4118.5,60.4 4121.5,60.6 4124.6,60.9 4127.7,61.1 4130.7,61.4 4133.8,61.6 4136.8,61.9 4139.8,62.2 4142.9,62.4 4145.9,62.7 4148.9,63.0 4151.9,63.3 4154.9,63.6 4158.0,63.8 4161.0,64.1 4164.0,64.4 4167.0,64.7 4170.0,65.0 4173.0,65.3 4176.0,65.7 4178.9,66.0 4181.9,66.3 4184.9,66.6 4187.9,66.9 4190.9,67.2 4193.9,67.5 4196.8,67.9 4199.8,68.2 4202.8,68.5 4205.8,68.8 4208.7,69.2 4211.7,69.5 4214.7,69.8 4217.6,70.2 4220.6,70.5 4223.5,70.8 4226.5,71.2 4229.5,71.5 4232.4,71.8 4235.4,72.2 4238.3,72.5 4241.3,72.9 4244.3,73.2 4247.2,73.5 4250.2,73.9 4253.1,74.2 4256.1,74.5 4259.1,74.9 4262.0,75.2 4265.0,75.6 4267.9,75.9 4270.9,76.2 4273.9,76.6 4276.8,76.9 4279.8,77.2 4282.8,77.6 4285.7,77.9 4288.7,78.2 4291.7,78.5 4294.6,78.9 4297.6,79.2 4300.6,79.5 4303.6,79.8 4304.6,79.9"/><path d="M2349.0,23.5 2346.0,23.6 2343.0,23.7 2340.0,23.7 2337.1,23.8 2334.1,23.9 2331.1,24.0 2328.2,24.1 2325.2,24.2 2322.3,24.2 2319.3,24.3 2316.4,24.4 2313.4,24.5 2310.5,24.6 2307.6,24.6 2304.6,24.7 2301.7,24.8 2298.8,24.9 2295.9,24.9 2293.0,25.0 2290.0,25.1 2287.1,25.2 2284.2,25.2 2281.3,25.3 2278.3,25.4 2275.4,25.5 2272.5,25.6 2269.6,25.6 2266.6,25.7 2263.7,25.8 2260.8,25.9 2257.8,25.9 2254.9,26.0 2252.0,26.1 2249.0,26.2 2246.1,26.3 2243.1,26.3 2240.1,26.4 2237.2,26.5 2234.2,26.6 2231.2,26.7 2228.2,26.8 2225.2,26.8 2222.2,26.9 2219.2,27.0 2216.2,27.1 2213.2,27.2 2210.1,27.3 2207.1,27.4 2204.0,27.4 2201.0,27.5 2197.9,27.6 2194.8,27.7 2191.7,27.8 2188.6,27.9 2185.5,28.0 2182.3,28.1 2179.2,28.2 2176.0,28.3 2172.8,28.4 2169.6,28.5 2166.4,28.6 2163.2,28.7 2160.0,28.8 2157.2,28.9 2154.4,29.0 2151.6,29.1 2148.7,29.2 2145.9,29.3 2143.0,29.3 2140.2,29.4 2137.3,29.5 2134.4,29.6 2131.4,29.7 2128.5,29.8 2125.6,29.9 2122.6,30.0 2119.7,30.1 2116.7,30.2 2113.7,30.3 2110.7,30.4 2107.7,30.5 2104.7,30.5 2101.7,30.6 2098.6,30.7 2095.6,30.8 2092.5,30.9 2089.5,31.0 2086.4,31.1 2083.3,31.2 2080.3,31.3 2077.2,31.4 2074.1,31.5 2071.0,31.6 2067.9,31.7 2064.8,31.8 2061.7,31.9 2058.6,32.0 2055.5,32.1 2052.3,32.2 2049.2,32.3 2046.1,32.4 2043.0,32.5 2039.8,32.6 2036.7,32.7 2033.6,32.8 2030.4,33.0 2027.3,33.1 2024.2,33.2 2021.0,33.3 2017.9,33.4 2014.8,33.5 2011.6,33.6 2008.5,33.7 2005.4,33.8 2002.3,33.9 1999.1,34.1 1996.0,34.2 1992.9,34.3 1989.8,34.4 1986.7,34.5 1983.6,34.6 1980.5,34.8 1977.4,34.9 1974.3,35.0 1971.2,35.1 1968.2,35.2 1965.1,35.4 1962.0,35.5 1959.0,35.6 1955.9,35.7 1952.9,35.9 1949.9,36.0 1946.8,36.1 1943.8,36.2 1940.8,36.4 1937.8,36.5 1934.9,36.6 1931.9,36.8 1928.9,36.9 1926.0,37.0 1923.0,37.2 1920.1,37.3 1917.2,37.4 1914.3,37.6 1911.4,37.7 1908.5,37.9 1905.7,38.0 1902.8,38.2 1900.0,38.3 1896.8,38.5 1893.5,38.6 1890.3,38.8 1887.1,39.0 1883.9,39.2 1880.7,39.3 1877.5,39.5 1874.3,39.7 1871.1,39.9 1867.9,40.1 1864.7,40.2 1861.5,40.4 1858.4,40.6 1855.2,40.8 1852.0,41.0 1848.9,41.2 1845.7,41.4 1842.6,41.6 1839.4,41.8 1836.3,42.0 1833.2,42.2 1830.1,42.4 1826.9,42.6 1823.8,42.8 1820.7,43.0 1817.6,43.2 1814.5,43.4 1811.4,43.6 1808.4,43.8 1805.3,44.0 1802.2,44.2 1799.2,44.4 1796.1,44.6 1793.1,44.8 1790.0,45.1 1787.0,45.3 1784.0,45.5 1781.0,45.7 1778.0,45.9 1775.0,46.1 1772.0,46.3 1769.0,46.5 1766.0,46.7 1763.0,47.0 1760.1,47.2 1757.1,47.4 1754.2,47.6 1751.3,47.8 1748.3,48.0 1745.4,48.2 1742.5,48.5 1739.6,48.7 1736.7,48.9 1733.8,49.1 1731.0,49.3 1728.1,49.5 1725.2,49.7 1722.4,49.9 1719.6,50.1 1716.7,50.4 1713.9,50.6 1711.1,50.8 1708.3,51.0 1705.5,51.2 1702.8,51.4 1700.0,51.6 1696.7,51.8 1693.4,52.1 1690.1,52.3 1686.9,52.6 1683.6,52.8 1680.4,53.1 1677.2,53.3 1674.0,53.6 1670.8,53.8 1667.6,54.1 1664.4,54.3 1661.3,54.6 1658.1,54.8 1655.0,55.1 1651.9,55.3 1648.8,55.6 1645.7,55.8 1642.6,56.1 1639.5,56.3 1636.5,56.6 1633.4,56.8 1630.4,57.1 1627.4,57.4 1624.4,57.6 1621.4,57.9 1618.4,58.1 1615.4,58.4 1612.4,58.6 1609.4,58.9 1606.5,59.1 1603.5,59.4 1600.6,59.6 1597.6,59.9 1594.7,60.1 1591.8,60.4 1588.8,60.6 1585.9,60.9 1583.0,61.1 1580.1,61.4 1577.2,61.6 1574.4,61.9 1571.5,62.1 1568.6,62.4 1565.7,62.6 1562.9,62.9 1560.0,63.1 1556.8,63.4 1553.5,63.7 1550.2,63.9 1547.0,64.2 1543.7,64.5 1540.4,64.7 1537.1,65.0 1533.8,65.3 1530.5,65.5 1527.3,65.8 1524.0,66.1 1520.7,66.3 1517.5,66.6 1514.2,66.9 1511.0,67.1 1507.8,67.4 1504.6,67.7 1501.4,67.9 1498.3,68.2 1495.2,68.5 1492.1,68.7 1489.0,69.0 1485.9,69.3 1482.9,69.5 1479.9,69.8 1477.0,70.1 1474.1,70.4 1471.2,70.6 1468.4,70.9 1465.6,71.2 1462.9,71.5 1460.2,71.8 1457.6,72.1 1455.0,72.4 1452.5,72.7 1450.0,73.0 1446.4,73.5 1442.9,73.9 1439.5,74.4 1436.3,74.9 1433.1,75.4 1430.1,75.9 1427.1,76.4 1424.1,76.9 1421.2,77.4 1418.3,78.0 1415.4,78.5 1414.5,78.6"/><path d="M2349.0,25.5 2346.0,25.6 2343.0,25.7 2340.0,25.8 2337.0,25.9 2334.0,26.0 2331.1,26.1 2328.1,26.2 2325.1,26.3 2322.1,26.3 2319.2,26.4 2316.2,26.5 2313.2,26.6 2310.3,26.7 2307.3,26.8 2304.3,26.9 2301.4,27.0 2298.4,27.1 2295.5,27.2 2292.5,27.3 2289.5,27.4 2286.6,27.5 2283.6,27.6 2280.7,27.7 2277.7,27.7 2274.7,27.8 2271.8,27.9 2268.8,28.0 2265.9,28.1 2262.9,28.2 2259.9,28.3 2257.0,28.4 2254.0,28.5 2251.0,28.6 2248.0,28.7 2245.1,28.8 2242.1,28.9 2239.1,29.0 2236.1,29.1 2233.1,29.2 2230.1,29.2 2227.2,29.3 2224.2,29.4 2221.2,29.5 2218.1,29.6 2215.1,29.7 2212.1,29.8 2209.1,29.9 2206.1,30.0 2203.0,30.1 2200.0,30.2 2197.0,30.3 2193.9,30.4 2190.9,30.5 2187.8,30.6 2184.8,30.7 2181.7,30.8 2178.6,30.9 2175.5,31.0 2172.4,31.1 2169.3,31.2 2166.2,31.3 2163.1,31.4 2160.0,31.5 2157.1,31.6 2154.2,31.7 2151.3,31.8 2148.3,31.9 2145.4,32.0 2142.4,32.0 2139.4,32.1 2136.4,32.2 2133.4,32.3 2130.4,32.4 2127.4,32.4 2124.4,32.5 2121.3,32.6 2118.3,32.7 2115.2,32.8 2112.2,32.8 2109.1,32.9 2106.0,33.0 2102.9,33.1 2099.8,33.1 2096.7,33.2 2093.6,33.3 2090.5,33.4 2087.4,33.4 2084.3,33.5 2081.1,33.6 2078.0,33.7 2074.9,33.7 2071.8,33.8 2068.6,33.9 2065.5,34.0 2062.4,34.0 2059.2,34.1 2056.1,34.2 2053.0,34.3 2049.9,34.4 2046.7,34.4 2043.6,34.5 2040.5,34.6 2037.4,34.7 2034.3,34.8 2031.2,34.9 2028.1,35.0 2025.0,35.0 2021.9,35.1 2018.8,35.2 2015.7,35.3 2012.6,35.4 2009.6,35.5 2006.5,35.6 2003.5,35.7 2000.4,35.9 1997.4,36.0 1994.4,36.1 1991.4,36.2 1988.4,36.3 1985.4,36.4 1982.5,36.6 1979.5,36.7 1976.6,36.8 1973.6,36.9 1970.7,37.1 1967.8,37.2 1964.9,37.4 1962.0,37.5 1959.2,37.7 1956.4,37.8 1953.5,38.0 1950.7,38.1 1947.9,38.3 1945.2,38.5 1942.4,38.6 1939.7,38.8 1937.0,39.0 1933.7,39.2 1930.4,39.4 1927.1,39.7 1923.8,39.9 1920.6,40.1 1917.3,40.4 1914.1,40.6 1910.9,40.8 1907.7,41.0 1904.5,41.3 1901.3,41.5 1898.1,41.8 1895.0,42.0 1891.8,42.2 1888.7,42.5 1885.6,42.7 1882.5,43.0 1879.4,43.2 1876.3,43.5 1873.3,43.8 1870.2,44.0 1867.2,44.3 1864.1,44.6 1861.1,44.9 1858.1,45.2 1855.1,45.4 1852.2,45.7 1849.2,46.0 1846.2,46.3 1843.3,46.7 1840.4,47.0 1837.5,47.3 1834.6,47.6 1831.7,48.0 1828.8,48.3 1826.0,48.7 1823.1,49.0 1820.3,49.4 1817.5,49.8 1814.7,50.2 1811.9,50.6 1809.1,51.0 1806.3,51.4 1803.6,51.8 1800.8,52.2 1798.1,52.6 1795.4,53.1 1792.7,53.5 1790.0,54.0 1786.7,54.6 1783.5,55.2 1780.3,55.8 1777.1,56.4 1774.0,57.0 1770.9,57.6 1767.8,58.3 1764.7,59.0 1761.7,59.6 1758.7,60.3 1755.7,61.0 1752.7,61.7 1749.8,62.4 1746.9,63.1 1743.9,63.8 1741.0,64.6 1738.1,65.3 1735.3,66.1 1732.4,66.8 1729.5,67.6 1726.6,68.4 1723.8,69.2 1720.9,70.0 1718.1,70.8 1715.2,71.6 1712.3,72.4 1709.4,73.2 1706.6,74.1 1703.7,74.9 1700.8,75.8 1697.9,76.7 1694.9,77.5 1692.0,78.4 1689.1,79.3 1686.2,80.2 1683.3,81.0 1680.4,81.9 1677.4,82.8 1674.5,83.8 1671.6,84.7 1668.7,85.6 1665.7,86.5 1662.8,87.5 1659.9,88.4 1656.9,89.4 1654.0,90.4 1651.1,91.4 1648.2,92.3 1645.3,93.3 1642.3,94.3 1639.4,95.4 1636.5,96.4 1633.6,97.4 1630.7,98.4 1627.9,99.5 1625.0,100.5 1622.1,101.6 1619.2,102.7 1616.4,103.8 1613.6,104.8 1610.7,105.9 1607.9,107.0 1605.1,108.2 1602.3,109.3 1599.5,110.4 1596.8,111.6 1594.0,112.7 1591.1,113.9 1588.3,115.1 1585.4,116.4 1582.6,117.7 1579.8,118.9 1577.0,120.2 1574.2,121.5 1571.5,122.9 1568.7,124.2 1566.0,125.5 1563.2,126.9 1560.5,128.2 1557.8,129.6 1555.0,131.0 1552.3,132.4 1549.6,133.7 1546.9,135.1 1544.2,136.5 1541.5,137.9 1538.8,139.3 1536.1,140.7 1533.4,142.1 1530.7,143.5 1528.0,144.9 1525.3,146.3 1522.6,147.7 1521.5,148.2"/><path d="M2349.0,23.0 2346.0,23.1 2343.0,23.2 2340.0,23.2 2337.1,23.3 2334.1,23.4 2331.1,23.5 2328.2,23.5 2325.2,23.6 2322.3,23.7 2319.3,23.8 2316.4,23.8 2313.4,23.9 2310.5,24.0 2307.6,24.1 2304.6,24.1 2301.7,24.2 2298.8,24.3 2295.9,24.4 2293.0,24.4 2290.0,24.5 2287.1,24.6 2284.2,24.7 2281.3,24.7 2278.4,24.8 2275.4,24.9 2272.5,25.0 2269.6,25.0 2266.6,25.1 2263.7,25.2 2260.8,25.3 2257.8,25.3 2254.9,25.4 2252.0,25.5 2249.0,25.6 2246.1,25.6 2243.1,25.7 2240.1,25.8 2237.2,25.9 2234.2,25.9 2231.2,26.0 2228.2,26.1 2225.2,26.2 2222.2,26.3 2219.2,26.3 2216.2,26.4 2213.2,26.5 2210.1,26.6 2207.1,26.7 2204.0,26.7 2201.0,26.8 2197.9,26.9 2194.8,27.0 2191.7,27.1 2188.6,27.2 2185.5,27.3 2182.3,27.4 2179.2,27.4 2176.0,27.5 2172.8,27.6 2169.6,27.7 2166.4,27.8 2163.2,27.9 2160.0,28.0 2157.2,28.1 2154.4,28.2 2151.6,28.3 2148.7,28.3 2145.9,28.4 2143.0,28.5 2140.2,28.6 2137.3,28.7 2134.4,28.8 2131.4,28.9 2128.5,29.0 2125.6,29.0 2122.6,29.1 2119.7,29.2 2116.7,29.3 2113.7,29.4 2110.7,29.5 2107.7,29.6 2104.7,29.7 2101.7,29.8 2098.6,29.9 2095.6,30.0 2092.5,30.1 2089.5,30.2 2086.4,30.3 2083.4,30.4 2080.3,30.5 2077.2,30.6 2074.1,30.7 2071.0,30.8 2067.9,30.9 2064.8,31.0 2061.7,31.1 2058.6,31.2 2055.5,31.3 2052.4,31.4 2049.2,31.5 2046.1,31.6 2043.0,31.7 2039.8,31.8 2036.7,31.9 2033.6,32.0 2030.5,32.1 2027.3,32.2 2024.2,32.3 2021.1,32.4 2017.9,32.5 2014.8,32.7 2011.7,32.8 2008.5,32.9 2005.4,33.0 2002.3,33.1 1999.2,33.2 1996.0,33.3 1992.9,33.4 1989.8,33.5 1986.7,33.6 1983.6,33.7 1980.5,33.8 1977.4,33.9 1974.3,34.0 1971.2,34.1 1968.2,34.2 1965.1,34.3 1962.0,34.4 1959.0,34.6 1955.9,34.7 1952.9,34.8 1949.9,34.9 1946.9,35.0 1943.8,35.1 1940.8,35.2 1937.8,35.3 1934.9,35.4 1931.9,35.5 1928.9,35.6 1926.0,35.7 1923.0,35.8 1920.1,35.9 1917.2,36.0 1914.3,36.1 1911.4,36.2 1908.5,36.3 1905.7,36.4 1902.8,36.5 1900.0,36.6 1896.8,36.7 1893.6,36.8 1890.3,36.9 1887.1,37.1 1883.9,37.2 1880.7,37.3 1877.5,37.4 1874.3,37.5 1871.1,37.6 1867.9,37.7 1864.7,37.9 1861.6,38.0 1858.4,38.1 1855.2,38.2 1852.1,38.3 1848.9,38.4 1845.7,38.5 1842.6,38.7 1839.5,38.8 1836.3,38.9 1833.2,39.0 1830.1,39.1 1827.0,39.2 1823.8,39.3 1820.7,39.5 1817.6,39.6 1814.6,39.7 1811.5,39.8 1808.4,39.9 1805.3,40.0 1802.2,40.1 1799.2,40.3 1796.1,40.4 1793.1,40.5 1790.1,40.6 1787.0,40.7 1784.0,40.8 1781.0,40.9 1778.0,41.0 1775.0,41.2 1772.0,41.3 1769.0,41.4 1766.0,41.5 1763.1,41.6 1760.1,41.7 1757.1,41.8 1754.2,41.9 1751.3,42.1 1748.3,42.2 1745.4,42.3 1742.5,42.4 1739.6,42.5 1736.7,42.6 1733.8,42.7 1731.0,42.8 1728.1,42.9 1725.3,43.0 1722.4,43.1 1719.6,43.3 1716.7,43.4 1713.9,43.5 1711.1,43.6 1708.3,43.7 1705.5,43.8 1702.8,43.9 1700.0,44.0 1696.7,44.1 1693.4,44.3 1690.1,44.4 1686.8,44.5 1683.5,44.6 1680.2,44.8 1677.0,44.9 1673.7,45.0 1670.4,45.1 1667.2,45.3 1664.0,45.4 1660.7,45.5 1657.5,45.6 1654.3,45.7 1651.1,45.9 1647.9,46.0 1644.8,46.1 1641.6,46.2 1638.5,46.4 1635.3,46.5 1632.2,46.6 1629.1,46.7 1626.0,46.8 1622.9,47.0 1619.9,47.1 1616.8,47.2 1613.8,47.3 1610.8,47.4 1607.8,47.5 1604.8,47.7 1601.9,47.8 1598.9,47.9 1596.0,48.0 1593.1,48.1 1590.2,48.2 1587.4,48.4 1584.5,48.5 1581.7,48.6 1578.9,48.7 1576.2,48.8 1573.4,48.9 1570.7,49.0 1568.0,49.2 1565.3,49.3 1562.6,49.4 1560.0,49.5 1556.5,49.6 1553.1,49.8 1549.8,49.9 1546.5,50.1 1543.2,50.2 1540.0,50.3 1536.9,50.5 1533.8,50.6 1530.7,50.7 1527.7,50.8 1524.7,51.0 1521.7,51.1 1518.7,51.2 1515.7,51.4 1512.8,51.5 1509.9,51.6 1506.9,51.8 1504.0,51.9 1501.0,52.0 1498.1,52.2 1495.1,52.3 1492.2,52.5 1489.2,52.7 1486.1,52.8 1483.1,53.0 1480.0,53.2 1476.9,53.4 1473.9,53.6 1470.8,53.8 1467.7,53.9 1464.6,54.1 1461.4,54.3 1458.3,54.5 1455.2,54.7 1452.0,54.9 1448.9,55.1 1445.7,55.3 1442.6,55.5 1439.4,55.7 1436.3,55.9 1433.2,56.1 1430.1,56.3 1427.0,56.6 1423.9,56.8 1420.8,57.1 1417.7,57.3 1414.7,57.6 1411.7,57.9 1408.7,58.2 1405.7,58.5 1402.8,58.8 1399.9,59.1 1397.0,59.5 1393.8,59.9 1390.6,60.3 1387.5,60.8 1384.4,61.2 1381.3,61.7 1378.2,62.1 1375.2,62.6 1372.2,63.1 1369.2,63.6 1366.2,64.1 1363.2,64.6 1360.3,65.1 1357.3,65.7 1354.4,66.3 1351.4,66.8 1348.5,67.4 1345.5,68.0 1342.5,68.7 1339.6,69.3 1336.6,69.9 1333.6,70.6 1330.6,71.3 1327.5,72.0 1324.5,72.7 1321.4,73.5 1318.4,74.2 1315.4,75.0 1312.3,75.8 1309.3,76.6 1306.3,77.4 1303.2,78.2 1300.2,79.0 1297.2,79.9 1294.1,80.8 1291.1,81.6 1288.1,82.5 1285.1,83.4 1282.1,84.3 1279.0,85.2 1276.0,86.1 1273.0,87.1 1270.0,88.0 1267.1,88.9 1264.2,89.8 1261.3,90.8 1258.4,91.7 1255.6,92.7 1252.7,93.6 1249.8,94.6 1246.9,95.6 1244.1,96.6 1241.2,97.6 1238.3,98.6 1235.4,99.6 1232.6,100.7 1229.7,101.7 1226.8,102.8 1224.0,103.8 1221.1,104.9 1218.3,105.9 1215.4,107.0 1212.5,108.1 1209.7,109.1 1206.8,110.2 1203.9,111.3 1201.0,112.4 1198.1,113.5 1195.2,114.7 1192.2,115.9 1189.3,117.0 1186.4,118.2 1183.4,119.4 1180.5,120.6 1177.6,121.8 1174.6,123.0 1171.7,124.2 1168.8,125.4 1165.9,126.6 1163.1,127.7 1160.2,128.9 1157.3,130.1 1154.5,131.2 1151.7,132.3 1148.9,133.4 1146.1,134.5 1143.4,135.6 1140.4,136.7 1137.5,137.9 1134.6,139.0 1131.8,140.1 1128.9,141.1 1126.1,142.2 1123.3,143.2 1120.5,144.3 1117.7,145.3 1114.9,146.3 1112.2,147.4 1109.4,148.4 1106.6,149.4 1105.8,149.7"/><path d="M2349.0,26.5 2346.0,26.6 2343.0,26.7 2340.0,26.8 2337.1,26.9 2334.1,27.0 2331.1,27.1 2328.2,27.2 2325.2,27.3 2322.3,27.4 2319.3,27.5 2316.4,27.5 2313.4,27.6 2310.5,27.7 2307.6,27.8 2304.6,27.9 2301.7,28.0 2298.8,28.1 2295.9,28.1 2292.9,28.2 2290.0,28.3 2287.1,28.4 2284.2,28.5 2281.3,28.6 2278.3,28.6 2275.4,28.7 2272.5,28.8 2269.6,28.9 2266.6,29.0 2263.7,29.1 2260.8,29.2 2257.8,29.2 2254.9,29.3 2252.0,29.4 2249.0,29.5 2246.1,29.6 2243.1,29.7 2240.1,29.8 2237.2,29.9 2234.2,30.0 2231.2,30.1 2228.2,30.2 2225.2,30.3 2222.2,30.4 2219.2,30.5 2216.2,30.6 2213.2,30.7 2210.1,30.8 2207.1,30.9 2204.0,31.1 2200.9,31.2 2197.9,31.3 2194.8,31.4 2191.7,31.6 2188.6,31.7 2185.4,31.8 2182.3,32.0 2179.2,32.1 2176.0,32.2 2172.8,32.4 2169.6,32.5 2166.4,32.7 2163.2,32.8 2160.0,33.0 2157.2,33.1 2154.4,33.3 2151.5,33.4 2148.7,33.6 2145.8,33.7 2142.9,33.9 2139.9,34.0 2137.0,34.2 2134.0,34.4 2131.0,34.5 2128.0,34.7 2124.9,34.9 2121.9,35.1 2118.8,35.2 2115.7,35.4 2112.6,35.6 2109.5,35.8 2106.4,36.0 2103.2,36.2 2100.1,36.3 2096.9,36.5 2093.7,36.7 2090.5,36.9 2087.3,37.1 2084.1,37.3 2080.9,37.5 2077.7,37.7 2074.5,37.9 2071.2,38.1 2068.0,38.3 2064.7,38.6 2061.5,38.8 2058.2,39.0 2055.0,39.2 2051.7,39.4 2048.5,39.6 2045.2,39.8 2041.9,40.0 2038.7,40.3 2035.4,40.5 2032.2,40.7 2028.9,40.9 2025.7,41.1 2022.4,41.3 2019.2,41.6 2016.0,41.8 2012.8,42.0 2009.5,42.2 2006.3,42.4 2003.1,42.7 2000.0,42.9 1996.8,43.1 1993.6,43.3 1990.5,43.5 1987.3,43.8 1984.2,44.0 1981.1,44.2 1978.0,44.4 1974.9,44.6 1971.8,44.8 1968.8,45.1 1965.7,45.3 1962.7,45.5 1959.7,45.7 1956.7,45.9 1953.8,46.1 1950.8,46.3 1947.9,46.5 1945.0,46.7 1942.2,47.0 1939.3,47.2 1936.5,47.4 1933.7,47.6 1930.9,47.8 1928.2,48.0 1925.5,48.2 1922.8,48.3 1920.1,48.5 1917.5,48.7 1914.9,48.9 1912.3,49.1 1909.8,49.3 1907.3,49.5 1904.8,49.6 1902.4,49.8 1900.0,50.0 1896.3,50.3 1892.7,50.5 1889.2,50.7 1885.7,51.0 1882.3,51.2 1878.9,51.4 1875.5,51.6 1872.3,51.7 1869.0,51.9 1865.8,52.1 1862.7,52.3 1859.6,52.4 1856.5,52.6 1853.5,52.8 1850.5,52.9 1847.5,53.1 1844.5,53.3 1841.6,53.4 1838.7,53.6 1835.8,53.8 1832.9,54.0 1830.1,54.2 1827.2,54.4 1824.4,54.7 1821.5,54.9 1818.7,55.2 1815.9,55.4 1813.0,55.7 1810.2,56.0 1807.3,56.4 1804.5,56.7 1801.6,57.1 1798.7,57.5 1795.9,57.9 1792.9,58.3 1790.0,58.8 1786.9,59.3 1783.8,59.8 1780.6,60.4 1777.5,60.9 1774.3,61.5 1771.1,62.0 1767.9,62.6 1764.6,63.2 1761.4,63.8 1758.2,64.4 1755.0,65.0 1751.8,65.7 1748.6,66.3 1745.4,67.0 1742.2,67.7 1739.0,68.4 1735.9,69.1 1732.8,69.9 1729.7,70.6 1726.7,71.4 1723.7,72.2 1720.7,73.0 1717.8,73.8 1715.0,74.7 1712.2,75.6 1709.4,76.4 1706.7,77.4 1704.1,78.3 1701.5,79.2 1699.0,80.2 1696.6,81.2 1694.3,82.3 1692.0,83.3 1688.9,84.8 1685.9,86.4 1683.1,88.0 1680.3,89.7 1677.7,91.4 1675.2,93.1 1672.7,94.8 1670.4,96.7 1668.1,98.5 1665.8,100.4 1663.6,102.3 1661.5,104.3 1659.3,106.3 1657.2,108.4 1655.1,110.5 1653.0,112.7 1650.9,115.0 1648.9,117.4 1646.9,119.8 1645.0,122.3 1643.1,124.9 1641.3,127.5 1639.6,130.2 1637.8,132.9 1636.1,135.6 1634.4,138.3 1632.7,141.0 1631.6,142.8"/><path d="M2464.0,20.0 2467.0,20.0 2470.0,20.0 2473.1,20.0 2476.1,20.0 2479.1,20.0 2482.1,20.0 2485.1,20.0 2488.1,20.0 2491.0,20.0 2494.0,20.0 2497.0,20.0 2500.0,20.0 2503.0,20.0 2506.0,20.0 2508.9,20.0 2511.9,20.0 2514.9,20.0 2517.8,20.0 2520.8,20.0 2523.8,20.0 2526.7,20.0 2529.7,20.0 2532.7,20.0 2535.6,20.0 2538.6,20.0 2541.5,20.0 2544.5,19.9 2547.5,19.9 2550.4,19.9 2553.4,19.9 2556.3,19.9 2559.3,19.9 2562.3,19.9 2565.2,19.9 2568.2,19.9 2571.1,19.9 2574.1,19.9 2577.1,19.9 2580.0,19.9 2583.0,19.9 2586.0,19.9 2589.0,19.9 2591.9,19.9 2594.9,19.9 2597.9,19.9 2600.9,19.9 2603.9,19.9 2606.9,19.9 2609.9,19.9 2612.9,19.9 2615.9,19.9 2618.9,19.9 2621.9,19.9 2624.9,19.9 2627.9,19.9 2631.0,19.9 2634.0,19.9 2637.0,19.9 2640.1,19.9 2643.1,19.9 2646.2,19.9 2649.2,19.9 2652.3,20.0 2655.3,20.0 2658.4,20.0 2661.5,20.0 2664.6,20.0 2667.7,20.0 2670.8,20.1 2673.9,20.1 2677.0,20.1 2680.1,20.1 2683.3,20.2 2686.4,20.2 2689.5,20.2 2692.7,20.2 2695.8,20.3 2699.0,20.3 2702.2,20.3 2705.4,20.4 2708.6,20.4 2711.8,20.5 2715.0,20.5 2717.8,20.5 2720.6,20.6 2723.4,20.6 2726.2,20.7 2729.0,20.7 2731.8,20.7 2734.6,20.8 2737.4,20.8 2740.2,20.9 2742.9,20.9 2745.7,21.0 2748.5,21.0 2751.2,21.1 2754.0,21.1 2756.8,21.2 2759.5,21.2 2762.3,21.3 2765.1,21.3 2767.8,21.4 2770.6,21.4 2773.3,21.5 2776.1,21.6 2778.8,21.6 2781.6,21.7 2784.4,21.7 2787.1,21.8 2789.9,21.9 2792.6,21.9 2795.4,22.0 2798.2,22.1 2800.9,22.1 2803.7,22.2 2806.5,22.3 2809.3,22.3 2812.0,22.4 2814.8,22.5 2817.6,22.5 2820.4,22.6 2823.2,22.7 2826.0,22.7 2828.8,22.8 2831.6,22.9 2834.4,23.0 2837.2,23.0 2840.1,23.1 2842.9,23.2 2845.7,23.3 2848.6,23.3 2851.4,23.4 2854.3,23.5 2857.1,23.6 2860.0,23.6 2862.9,23.7 2865.8,23.8 2868.7,23.9 2871.6,24.0 2874.5,24.0 2877.4,24.1 2880.3,24.2 2883.3,24.3 2886.2,24.4 2889.2,24.5 2892.1,24.5 2895.1,24.6 2898.1,24.7 2901.1,24.8 2904.1,24.9 2907.1,25.0 2910.1,25.0 2913.2,25.1 2916.2,25.2 2919.3,25.3 2922.4,25.4 2925.5,25.5 2928.6,25.6 2931.7,25.6 2934.8,25.7 2938.0,25.8 2941.1,25.9 2944.3,26.0 2947.5,26.1 2950.7,26.2 2953.9,26.3 2957.2,26.4 2960.4,26.4 2963.7,26.5 2967.0,26.6 2970.3,26.7 2973.6,26.8 2976.9,26.9 2980.3,27.0 2983.6,27.1 2987.0,27.2 2990.4,27.2 2993.8,27.3 2997.3,27.4 3000.7,27.5 3004.2,27.6 3007.7,27.7 3011.2,27.8 3014.7,27.9 3018.3,28.0 3021.8,28.1 3025.4,28.1 3029.0,28.2 3032.7,28.3 3036.3,28.4 3040.0,28.5 3042.3,28.6 3044.7,28.6 3047.1,28.7 3049.4,28.7 3051.8,28.8 3054.2,28.8 3056.7,28.9 3059.1,29.0 3061.6,29.0 3064.1,29.1 3066.6,29.1 3069.1,29.2 3071.6,29.3 3074.1,29.3 3076.7,29.4 3079.2,29.4 3081.8,29.5 3084.4,29.6 3087.0,29.6 3089.6,29.7 3092.3,29.8 3094.9,29.8 3097.6,29.9 3100.3,29.9 3102.9,30.0 3105.6,30.1 3108.4,30.1 3111.1,30.2 3113.8,30.3 3116.6,30.3 3119.3,30.4 3122.1,30.5 3124.9,30.5 3127.7,30.6 3130.5,30.7 3133.4,30.7 3136.2,30.8 3139.0,30.9 3141.9,30.9 3144.8,31.0 3147.7,31.1 3150.6,31.1 3153.5,31.2 3156.4,31.3 3159.3,31.3 3162.3,31.4 3165.2,31.5 3168.2,31.5 3171.1,31.6 3174.1,31.7 3177.1,31.8 3180.1,31.8 3183.1,31.9 3186.1,32.0 3189.2,32.0 3192.2,32.1 3195.3,32.2 3198.3,32.3 3201.4,32.3 3204.5,32.4 3207.5,32.5 3210.6,32.5 3213.7,32.6 3216.8,32.7 3220.0,32.8 3223.1,32.8 3226.2,32.9 3229.4,33.0 3232.5,33.1 3235.7,33.1 3238.8,33.2 3242.0,33.3 3245.2,33.3 3248.4,33.4 3251.6,33.5 3254.8,33.6 3258.0,33.6 3261.2,33.7 3264.4,33.8 3267.6,33.9 3270.9,33.9 3274.1,34.0 3277.3,34.1 3280.6,34.2 3283.8,34.2 3287.1,34.3 3290.4,34.4 3293.7,34.5 3296.9,34.6 3300.2,34.6 3303.5,34.7 3306.8,34.8 3310.1,34.9 3313.4,34.9 3316.7,35.0 3320.0,35.1 3323.3,35.2 3326.6,35.2 3330.0,35.3 3333.3,35.4 3336.6,35.5 3340.0,35.6 3343.3,35.6 3346.6,35.7 3350.0,35.8 3353.3,35.9 3356.7,35.9 3360.0,36.0 3363.4,36.1 3366.8,36.2 3370.1,36.3 3373.5,36.3 3376.8,36.4 3380.2,36.5 3383.6,36.6 3387.0,36.7 3390.3,36.7 3393.7,36.8 3397.1,36.9 3400.5,37.0 3403.8,37.0 3407.2,37.1 3410.6,37.2 3414.0,37.3 3417.4,37.4 3420.8,37.4 3424.1,37.5 3427.5,37.6 3430.9,37.7 3434.3,37.8 3437.7,37.8 3441.1,37.9 3444.4,38.0 3447.8,38.1 3451.2,38.1 3454.6,38.2 3458.0,38.3 3461.4,38.4 3464.7,38.5 3468.1,38.5 3471.5,38.6 3474.9,38.7 3478.2,38.8 3481.6,38.9 3485.0,38.9 3488.3,39.0 3491.7,39.1 3495.1,39.2 3498.4,39.3 3501.8,39.3 3505.2,39.4 3508.5,39.5 3511.9,39.6 3515.2,39.6 3518.6,39.7 3521.9,39.8 3525.2,39.9 3528.6,40.0 3531.9,40.0 3535.2,40.1 3538.6,40.2 3541.9,40.3 3545.2,40.4 3548.5,40.4 3551.8,40.5 3555.1,40.6 3558.4,40.7 3561.7,40.7 3565.0,40.8 3568.3,40.9 3571.6,41.0 3574.8,41.1 3578.1,41.1 3581.4,41.2 3584.6,41.3 3587.9,41.4 3591.1,41.4 3594.4,41.5 3597.6,41.6 3600.8,41.7 3604.0,41.7 3607.3,41.8 3610.5,41.9 3613.7,42.0 3616.9,42.0 3620.1,42.1 3623.2,42.2 3626.4,42.3 3629.6,42.4 3632.7,42.4 3635.9,42.5 3639.0,42.6 3642.2,42.7 3645.3,42.7 3648.4,42.8 3651.5,42.9 3654.6,43.0 3657.7,43.0 3660.8,43.1 3663.9,43.2 3666.9,43.2 3670.0,43.3 3673.0,43.4 3676.1,43.5 3679.1,43.5 3682.1,43.6 3685.2,43.7 3688.2,43.8 3691.1,43.8 3694.1,43.9 3697.1,44.0 3700.1,44.0 3703.0,44.1 3706.0,44.2 3708.9,44.3 3711.8,44.3 3714.7,44.4 3717.6,44.5 3720.5,44.5 3723.4,44.6 3726.2,44.7 3729.1,44.8 3731.9,44.8 3734.8,44.9 3737.6,45.0 3740.4,45.0 3743.2,45.1 3746.0,45.2 3748.7,45.2 3751.5,45.3 3754.2,45.4 3757.0,45.4 3759.7,45.5 3762.4,45.6 3765.1,45.6 3767.7,45.7 3770.4,45.8 3773.1,45.8 3775.7,45.9 3778.3,46.0 3780.9,46.0 3783.5,46.1 3786.1,46.2 3788.7,46.2 3791.2,46.3 3793.8,46.4 3796.3,46.4 3798.8,46.5 3801.3,46.5 3803.8,46.6 3806.2,46.7 3808.7,46.7 3811.1,46.8 3813.5,46.9 3815.9,46.9 3818.3,47.0 3820.7,47.0 3823.0,47.1 3825.4,47.2 3827.7,47.2 3830.0,47.3 3832.3,47.3 3834.6,47.4 3836.8,47.5 3839.1,47.5 3841.3,47.6 3843.5,47.6 3845.7,47.7 3847.8,47.7 3850.0,47.8 3853.8,47.9 3857.7,48.0 3861.4,48.1 3865.1,48.2 3868.8,48.3 3872.4,48.4 3876.0,48.4 3879.6,48.5 3883.1,48.6 3886.5,48.7 3890.0,48.8 3893.4,48.8 3896.7,48.9 3900.1,49.0 3903.3,49.1 3906.6,49.1 3909.8,49.2 3913.0,49.3 3916.2,49.3 3919.3,49.4 3922.4,49.5 3925.5,49.5 3928.6,49.6 3931.6,49.6 3934.6,49.7 3937.6,49.8 3940.6,49.8 3943.5,49.9 3946.4,49.9 3949.3,50.0 3952.2,50.1 3955.1,50.1 3957.9,50.2 3960.7,50.2 3963.6,50.3 3966.4,50.3 3969.2,50.4 3971.9,50.5 3974.7,50.5 3977.5,50.6 3980.2,50.6 3982.9,50.7 3985.7,50.8 3988.4,50.8 3991.1,50.9 3993.8,51.0 3996.6,51.0 3999.3,51.1 4002.0,51.2 4004.7,51.2 4007.4,51.3 4010.1,51.4 4012.8,51.5 4015.5,51.5 4018.3,51.6 4021.0,51.7 4023.7,51.8 4026.5,51.9 4029.2,52.0 4032.0,52.0 4034.7,52.1 4037.5,52.2 4040.3,52.3 4043.1,52.4 4045.9,52.5 4048.7,52.6 4051.6,52.8 4054.4,52.9 4057.3,53.0 4060.2,53.1 4063.1,53.2 4066.1,53.4 4069.0,53.5 4072.0,53.6 4075.0,53.8 4078.1,53.9 4081.1,54.0 4084.2,54.2 4087.3,54.3 4090.4,54.5 4093.6,54.7 4096.8,54.8 4100.0,55.0 4102.8,55.1 4105.6,55.3 4108.4,55.5 4111.2,55.6 4114.0,55.8 4116.8,55.9 4119.6,56.1 4122.4,56.3 4125.3,56.4 4128.1,56.6 4131.0,56.8 4133.8,57.0 4136.7,57.2 4139.6,57.3 4142.4,57.5 4145.3,57.7 4148.2,57.9 4151.1,58.1 4154.0,58.3 4156.9,58.5 4159.9,58.7 4162.8,58.9 4165.7,59.1 4168.6,59.3 4171.6,59.5 4174.5,59.8 4177.5,60.0 4180.4,60.2 4183.4,60.4 4186.3,60.6 4189.3,60.8 4192.3,61.1 4195.3,61.3 4198.2,61.5 4201.2,61.7 4204.2,62.0 4207.2,62.2 4210.2,62.4 4213.2,62.7 4216.2,62.9 4219.2,63.2 4222.2,63.4 4225.3,63.6 4228.3,63.9 4231.3,64.1 4234.3,64.4 4237.4,64.6 4240.4,64.9 4243.4,65.1 4246.5,65.3 4249.5,65.6 4252.6,65.8 4255.6,66.1 4258.7,66.4 4261.7,66.6 4264.8,66.9 4267.8,67.1 4270.9,67.4 4274.0,67.6 4277.0,67.9 4280.1,68.1 4283.1,68.4 4286.2,68.7 4289.3,68.9 4292.3,69.2 4295.4,69.4 4298.5,69.7 4301.6,70.0 4304.6,70.2 4307.7,70.5 4310.8,70.7 4313.9,71.0 4316.9,71.3 4320.0,71.5 4323.1,71.8 4326.2,72.1 4329.2,72.3 4332.3,72.6 4335.4,72.8 4338.5,73.1 4341.5,73.4 4344.6,73.6 4347.7,73.9 4350.7,74.2 4353.8,74.4 4356.9,74.7 4360.0,74.9 4363.0,75.2 4366.1,75.4 4369.2,75.7 4372.2,76.0 4375.3,76.2 4378.3,76.5 4381.4,76.7 4384.5,77.0 4387.5,77.2 4390.6,77.5 4393.6,77.7 4396.7,78.0 4399.7,78.2 4402.7,78.5 4405.8,78.7 4408.8,79.0 4411.9,79.2 4414.9,79.5 4417.9,79.7 4420.9,80.0 4424.0,80.2 4425.0,80.3"/><path d="M2464.0,19.5 2467.0,19.5 2470.0,19.5 2473.1,19.5 2476.1,19.5 2479.1,19.5 2482.1,19.5 2485.1,19.5 2488.1,19.5 2491.0,19.5 2494.0,19.5 2497.0,19.5 2500.0,19.5 2503.0,19.5 2506.0,19.5 2508.9,19.5 2511.9,19.5 2514.9,19.5 2517.8,19.5 2520.8,19.5 2523.8,19.5 2526.7,19.5 2529.7,19.5 2532.7,19.5 2535.6,19.5 2538.6,19.5 2541.5,19.5 2544.5,19.5 2547.5,19.5 2550.4,19.5 2553.4,19.5 2556.3,19.5 2559.3,19.5 2562.3,19.5 2565.2,19.5 2568.2,19.4 2571.1,19.4 2574.1,19.4 2577.1,19.4 2580.0,19.4 2583.0,19.4 2586.0,19.4 2589.0,19.4 2591.9,19.4 2594.9,19.4 2597.9,19.4 2600.9,19.4 2603.9,19.4 2606.9,19.4 2609.9,19.4 2612.9,19.4 2615.9,19.4 2618.9,19.4 2621.9,19.4 2624.9,19.5 2627.9,19.5 2631.0,19.5 2634.0,19.5 2637.0,19.5 2640.1,19.5 2643.1,19.5 2646.2,19.5 2649.2,19.5 2652.3,19.5 2655.3,19.6 2658.4,19.6 2661.5,19.6 2664.6,19.6 2667.7,19.6 2670.8,19.7 2673.9,19.7 2677.0,19.7 2680.1,19.7 2683.3,19.8 2686.4,19.8 2689.5,19.8 2692.7,19.8 2695.8,19.9 2699.0,19.9 2702.2,19.9 2705.4,20.0 2708.6,20.0 2711.8,20.1 2715.0,20.1 2717.8,20.1 2720.6,20.2 2723.4,20.2 2726.2,20.3 2729.0,20.3 2731.8,20.3 2734.6,20.4 2737.4,20.4 2740.2,20.5 2742.9,20.5 2745.7,20.6 2748.5,20.6 2751.2,20.7 2754.0,20.7 2756.8,20.8 2759.5,20.8 2762.3,20.9 2765.1,20.9 2767.8,21.0 2770.6,21.1 2773.3,21.1 2776.1,21.2 2778.8,21.2 2781.6,21.3 2784.4,21.4 2787.1,21.4 2789.9,21.5 2792.6,21.5 2795.4,21.6 2798.2,21.7 2800.9,21.7 2803.7,21.8 2806.5,21.9 2809.3,21.9 2812.0,22.0 2814.8,22.1 2817.6,22.1 2820.4,22.2 2823.2,22.3 2826.0,22.4 2828.8,22.4 2831.6,22.5 2834.4,22.6 2837.2,22.7 2840.1,22.7 2842.9,22.8 2845.7,22.9 2848.6,23.0 2851.4,23.0 2854.3,23.1 2857.1,23.2 2860.0,23.3 2862.9,23.3 2865.8,23.4 2868.7,23.5 2871.6,23.6 2874.5,23.7 2877.4,23.7 2880.3,23.8 2883.3,23.9 2886.2,24.0 2889.2,24.1 2892.1,24.2 2895.1,24.2 2898.1,24.3 2901.1,24.4 2904.1,24.5 2907.1,24.6 2910.1,24.7 2913.2,24.7 2916.2,24.8 2919.3,24.9 2922.4,25.0 2925.5,25.1 2928.6,25.2 2931.7,25.3 2934.8,25.3 2938.0,25.4 2941.1,25.5 2944.3,25.6 2947.5,25.7 2950.7,25.8 2953.9,25.9 2957.2,25.9 2960.4,26.0 2963.7,26.1 2967.0,26.2 2970.3,26.3 2973.6,26.4 2976.9,26.5 2980.3,26.5 2983.6,26.6 2987.0,26.7 2990.4,26.8 2993.8,26.9 2997.3,27.0 3000.7,27.1 3004.2,27.2 3007.7,27.2 3011.2,27.3 3014.7,27.4 3018.3,27.5 3021.8,27.6 3025.4,27.7 3029.0,27.7 3032.7,27.8 3036.3,27.9 3040.0,28.0 3042.3,28.1 3044.7,28.1 3047.1,28.2 3049.4,28.2 3051.8,28.3 3054.2,28.3 3056.7,28.4 3059.1,28.4 3061.6,28.5 3064.1,28.5 3066.6,28.6 3069.1,28.7 3071.6,28.7 3074.1,28.8 3076.7,28.8 3079.2,28.9 3081.8,28.9 3084.4,29.0 3087.0,29.1 3089.6,29.1 3092.3,29.2 3094.9,29.2 3097.6,29.3 3100.3,29.3 3102.9,29.4 3105.6,29.5 3108.4,29.5 3111.1,29.6 3113.8,29.6 3116.6,29.7 3119.3,29.8 3122.1,29.8 3124.9,29.9 3127.7,29.9 3130.5,30.0 3133.4,30.1 3136.2,30.1 3139.0,30.2 3141.9,30.2 3144.8,30.3 3147.7,30.4 3150.6,30.4 3153.5,30.5 3156.4,30.6 3159.3,30.6 3162.3,30.7 3165.2,30.7 3168.2,30.8 3171.1,30.9 3174.1,30.9 3177.1,31.0 3180.1,31.1 3183.1,31.1 3186.1,31.2 3189.2,31.3 3192.2,31.3 3195.3,31.4 3198.3,31.5 3201.4,31.5 3204.5,31.6 3207.5,31.6 3210.6,31.7 3213.7,31.8 3216.8,31.8 3220.0,31.9 3223.1,32.0 3226.2,32.0 3229.4,32.1 3232.5,32.2 3235.7,32.2 3238.8,32.3 3242.0,32.4 3245.2,32.4 3248.4,32.5 3251.6,32.6 3254.8,32.6 3258.0,32.7 3261.2,32.8 3264.4,32.8 3267.6,32.9 3270.9,33.0 3274.1,33.0 3277.3,33.1 3280.6,33.2 3283.8,33.3 3287.1,33.3 3290.4,33.4 3293.7,33.5 3296.9,33.5 3300.2,33.6 3303.5,33.7 3306.8,33.7 3310.1,33.8 3313.4,33.9 3316.7,33.9 3320.0,34.0 3323.3,34.1 3326.6,34.1 3330.0,34.2 3333.3,34.3 3336.6,34.3 3340.0,34.4 3343.3,34.5 3346.6,34.6 3350.0,34.6 3353.3,34.7 3356.7,34.8 3360.0,34.8 3363.4,34.9 3366.8,35.0 3370.1,35.0 3373.5,35.1 3376.8,35.2 3380.2,35.3 3383.6,35.3 3387.0,35.4 3390.3,35.5 3393.7,35.5 3397.1,35.6 3400.5,35.7 3403.8,35.7 3407.2,35.8 3410.6,35.9 3414.0,36.0 3417.4,36.0 3420.8,36.1 3424.1,36.2 3427.5,36.2 3430.9,36.3 3434.3,36.4 3437.7,36.4 3441.1,36.5 3444.4,36.6 3447.8,36.7 3451.2,36.7 3454.6,36.8 3458.0,36.9 3461.4,36.9 3464.7,37.0 3468.1,37.1 3471.5,37.1 3474.9,37.2 3478.2,37.3 3481.6,37.4 3485.0,37.4 3488.3,37.5 3491.7,37.6 3495.1,37.6 3498.4,37.7 3501.8,37.8 3505.2,37.8 3508.5,37.9 3511.9,38.0 3515.2,38.0 3518.6,38.1 3521.9,38.2 3525.2,38.3 3528.6,38.3 3531.9,38.4 3535.2,38.5 3538.6,38.5 3541.9,38.6 3545.2,38.7 3548.5,38.7 3551.8,38.8 3555.1,38.9 3558.4,38.9 3561.7,39.0 3565.0,39.1 3568.3,39.1 3571.6,39.2 3574.8,39.3 3578.1,39.4 3581.4,39.4 3584.6,39.5 3587.9,39.6 3591.1,39.6 3594.4,39.7 3597.6,39.8 3600.8,39.8 3604.0,39.9 3607.3,40.0 3610.5,40.0 3613.7,40.1 3616.9,40.2 3620.0,40.2 3623.2,40.3 3626.4,40.4 3629.6,40.4 3632.7,40.5 3635.9,40.6 3639.0,40.6 3642.2,40.7 3645.3,40.8 3648.4,40.8 3651.5,40.9 3654.6,41.0 3657.7,41.0 3660.8,41.1 3663.9,41.1 3666.9,41.2 3670.0,41.3 3673.0,41.3 3676.1,41.4 3679.1,41.5 3682.1,41.5 3685.2,41.6 3688.2,41.7 3691.1,41.7 3694.1,41.8 3697.1,41.9 3700.1,41.9 3703.0,42.0 3706.0,42.0 3708.9,42.1 3711.8,42.2 3714.7,42.2 3717.6,42.3 3720.5,42.3 3723.4,42.4 3726.2,42.5 3729.1,42.5 3731.9,42.6 3734.8,42.7 3737.6,42.7 3740.4,42.8 3743.2,42.8 3746.0,42.9 3748.7,43.0 3751.5,43.0 3754.2,43.1 3757.0,43.1 3759.7,43.2 3762.4,43.3 3765.1,43.3 3767.7,43.4 3770.4,43.4 3773.1,43.5 3775.7,43.5 3778.3,43.6 3780.9,43.7 3783.5,43.7 3786.1,43.8 3788.7,43.8 3791.2,43.9 3793.8,43.9 3796.3,44.0 3798.8,44.0 3801.3,44.1 3803.8,44.2 3806.2,44.2 3808.7,44.3 3811.1,44.3 3813.5,44.4 3815.9,44.4 3818.3,44.5 3820.7,44.5 3823.0,44.6 3825.4,44.6 3827.7,44.7 3830.0,44.7 3832.3,44.8 3834.6,44.8 3836.8,44.9 3839.1,44.9 3841.3,45.0 3843.5,45.1 3845.7,45.1 3847.8,45.2 3850.0,45.2 3853.9,45.3 3857.7,45.4 3861.5,45.5 3865.2,45.5 3868.9,45.6 3872.6,45.7 3876.2,45.8 3879.8,45.9 3883.4,46.0 3887.0,46.0 3890.5,46.1 3894.0,46.2 3897.4,46.3 3900.8,46.3 3904.2,46.4 3907.6,46.5 3910.9,46.6 3914.2,46.6 3917.5,46.7 3920.8,46.8 3924.0,46.9 3927.2,46.9 3930.4,47.0 3933.6,47.1 3936.7,47.1 3939.8,47.2 3942.9,47.3 3946.0,47.3 3949.0,47.4 3952.1,47.5 3955.1,47.5 3958.1,47.6 3961.0,47.7 3964.0,47.7 3966.9,47.8 3969.9,47.9 3972.8,47.9 3975.7,48.0 3978.6,48.1 3981.4,48.1 3984.3,48.2 3987.1,48.3 3989.9,48.3 3992.8,48.4 3995.6,48.5 3998.4,48.5 4001.1,48.6 4003.9,48.7 4006.7,48.7 4009.4,48.8 4012.2,48.9 4014.9,48.9 4017.7,49.0 4020.4,49.1 4023.1,49.1 4025.9,49.2 4028.6,49.3 4031.3,49.3 4034.0,49.4 4036.7,49.5 4039.4,49.6 4042.2,49.6 4044.9,49.7 4047.6,49.8 4050.3,49.9 4053.0,49.9 4055.7,50.0 4058.4,50.1 4061.2,50.2 4063.9,50.3 4066.6,50.3 4069.4,50.4 4072.1,50.5 4074.9,50.6 4077.6,50.7 4080.4,50.8 4083.2,50.8 4085.9,50.9 4088.7,51.0 4091.5,51.1 4094.3,51.2 4097.2,51.3 4100.0,51.4 4103.2,51.5 4106.4,51.6 4109.5,51.7 4112.6,51.8 4115.8,51.9 4118.9,52.0 4121.9,52.1 4125.0,52.3 4128.1,52.4 4131.1,52.5 4134.2,52.6 4137.2,52.7 4140.2,52.8 4143.2,52.9 4146.2,53.0 4149.2,53.1 4152.1,53.2 4155.1,53.3 4158.1,53.4 4161.0,53.5 4164.0,53.6 4166.9,53.7 4169.8,53.8 4172.8,54.0 4175.7,54.1 4178.6,54.2 4181.5,54.3 4184.4,54.4 4187.4,54.5 4190.3,54.6 4193.2,54.7 4196.1,54.9 4199.0,55.0 4201.9,55.1 4204.9,55.2 4207.8,55.3 4210.7,55.5 4213.6,55.6 4216.6,55.7 4219.5,55.9 4222.4,56.0 4225.4,56.1 4228.3,56.3 4231.3,56.4 4234.3,56.5 4237.2,56.7 4240.2,56.8 4243.2,57.0 4246.2,57.1 4249.3,57.3 4252.3,57.4 4255.3,57.6 4258.4,57.7 4261.5,57.9 4264.5,58.0 4267.6,58.2 4270.7,58.4 4273.9,58.5 4277.0,58.7 4280.2,58.9 4283.3,59.1 4286.5,59.2 4289.7,59.4 4293.0,59.6 4296.2,59.8 4299.5,60.0 4302.2,60.2 4305.0,60.3 4307.8,60.5 4310.6,60.7 4313.3,60.8 4316.1,61.0 4319.0,61.2 4321.8,61.4 4324.6,61.6 4327.4,61.8 4330.3,62.0 4333.1,62.1 4336.0,62.3 4338.9,62.5 4341.8,62.7 4344.7,62.9 4347.6,63.1 4350.5,63.3 4353.4,63.5 4356.3,63.8 4359.2,64.0 4362.2,64.2 4365.1,64.4 4368.1,64.6 4371.0,64.8 4374.0,65.0 4377.0,65.3 4379.9,65.5 4382.9,65.7 4385.9,65.9 4388.9,66.2 4391.9,66.4 4394.9,66.6 4397.9,66.8 4400.9,67.1 4404.0,67.3 4407.0,67.5 4410.0,67.8 4413.1,68.0 4416.1,68.3 4419.1,68.5 4422.2,68.7 4425.2,69.0 4428.3,69.2 4431.3,69.5 4434.4,69.7 4437.5,69.9 4440.5,70.2 4443.6,70.4 4446.7,70.7 4449.7,70.9 4452.8,71.2 4455.9,71.4 4459.0,71.7 4462.1,71.9 4465.1,72.2 4468.2,72.4 4471.3,72.7 4474.4,72.9 4477.5,73.2 4480.6,73.4 4483.6,73.7 4486.7,73.9 4489.8,74.1 4492.9,74.4 4496.0,74.6 4499.1,74.9 4502.2,75.1 4505.2,75.4 4508.3,75.6 4511.4,75.9 4514.5,76.1 4517.6,76.4 4520.6,76.6 4523.7,76.9 4526.8,77.1 4529.9,77.4 4532.9,77.6 4536.0,77.9 4539.0,78.1 4542.1,78.3 4545.2,78.6 4548.2,78.8 4551.3,79.1 4554.3,79.3 4557.3,79.5 4560.4,79.8 4563.4,80.0 4566.4,80.2 4567.5,80.3"/><path d="M287.0,106.6 258.2,144.2"/><path d="M247.7,181.2 247.7,181.3 249.2,184.0 250.8,186.7 252.3,189.4 253.8,192.0 255.3,194.7 256.9,197.4 258.4,200.1 259.9,202.8 261.4,205.5 263.0,208.1 264.5,210.8 266.1,213.5 267.6,216.2 269.2,218.8 270.8,221.5 272.4,224.2 274.0,226.8 275.6,229.5 277.3,232.1 278.9,234.8 280.6,237.4 282.3,240.0 284.0,242.7 285.7,245.2 287.3,247.7 289.0,250.3 290.7,252.8 292.4,255.3 294.2,257.8 295.9,260.3 297.6,262.8 299.4,265.4 301.1,267.9 302.9,270.4 304.7,272.9 306.5,275.4 308.3,277.9 310.1,280.4 311.9,282.8 313.7,285.3 315.6,287.8 317.4,290.3 319.3,292.8 321.1,295.2 323.0,297.7 324.9,300.2 326.8,302.6 328.7,305.1 330.7,307.6 332.6,310.0 334.6,312.5 336.5,314.9 338.5,317.4 340.4,319.7 342.2,322.0 343.9,324.3 345.7,326.7 347.4,329.1 349.1,331.4 350.8,333.8 352.5,336.2 354.2,338.5 355.9,340.9 357.6,343.3 359.2,345.7 361.0,348.0 362.7,350.4 364.4,352.7 366.2,355.1 368.0,357.4 369.9,359.7 371.8,362.1 373.7,364.3 375.7,366.6 377.8,368.9 379.9,371.1 382.1,373.3 384.3,375.5 386.7,377.7 389.1,379.8 391.6,381.9 394.2,384.0 396.9,386.1 399.7,388.1 402.6,390.1 405.6,392.0 407.5,393.2 409.4,394.3 411.4,395.5 413.5,396.6 415.6,397.7 417.7,398.8 419.8,399.9 422.1,401.0 424.3,402.1 426.6,403.1 428.9,404.1 431.3,405.2 433.7,406.2 436.1,407.2 438.6,408.2 441.1,409.1 443.7,410.1 446.2,411.1 448.8,412.0 451.5,412.9 454.2,413.9 456.9,414.8 459.6,415.7 462.3,416.6 465.1,417.5 468.0,418.3 470.8,419.2 473.7,420.1 476.6,420.9 479.5,421.8 482.4,422.6 485.4,423.4 488.3,424.3 491.3,425.1 494.4,425.9 497.4,426.7 500.5,427.5 503.5,428.3 506.6,429.1 509.7,429.9 512.9,430.7 516.0,431.4 519.2,432.2 522.3,433.0 525.5,433.7 528.7,434.5 531.9,435.3 535.1,436.0 538.3,436.8 541.5,437.5 544.8,438.2 548.0,439.0 551.2,439.7 554.5,440.5 557.7,441.2 561.0,442.0 564.2,442.7 567.5,443.4 570.7,444.2 574.0,444.9 577.3,445.6 580.5,446.4 583.8,447.1 587.0,447.9 590.2,448.6 593.5,449.3 596.7,450.1 599.6,450.8"/><path d="M260.9,181.2 325.6,222.4"/><path d="M277.6,174.0 647.9,233.8"/><path d="M229.9,181.2 229.0,182.4 227.2,184.9 225.4,187.3 223.6,189.7 221.8,192.1 220.0,194.6 218.2,197.0 216.4,199.4 214.6,201.8 212.8,204.2 211.0,206.7 209.2,209.1 207.3,211.5 205.5,213.9 203.7,216.3 201.8,218.7 200.0,221.1 198.1,223.6 196.3,226.0 194.4,228.4 192.5,230.8 190.6,233.1 188.7,235.5 186.8,237.9 184.8,240.3 182.9,242.7 181.0,245.0 179.1,247.3 177.1,249.6 175.2,251.8 173.2,254.1 171.2,256.4 169.2,258.6 167.2,260.9 165.2,263.2 163.1,265.4 161.1,267.7 159.0,269.9 157.0,272.2 154.9,274.4 152.8,276.7 150.8,278.9 148.7,281.2 146.6,283.4 144.6,285.6 142.5,287.9 140.5,290.1 138.4,292.4 136.4,294.6 134.3,296.9 132.3,299.2 130.3,301.4 128.2,303.7 126.3,305.9 124.3,308.2 122.3,310.5 120.3,312.8 118.4,315.1 116.5,317.4 114.5,319.7 112.6,322.1 110.6,324.5 108.7,326.9 106.8,329.3 104.9,331.7 103.0,334.1 101.1,336.5 99.2,338.9 97.4,341.3 95.5,343.7 93.6,346.1 91.8,348.5 89.9,350.9 88.1,353.3 86.3,355.7 84.4,358.1 82.6,360.6 80.8,363.0 78.9,365.4 77.1,367.8 76.9,368.1"/><path d="M744.5,249.0 747.5,249.1 750.5,249.3 753.6,249.4 756.6,249.6 759.6,249.7 762.6,249.8 765.7,250.0 768.7,250.1 771.7,250.3 774.7,250.4 777.8,250.6 780.8,250.7 783.8,250.8 786.9,251.0 789.9,251.1 793.0,251.3 796.0,251.4 799.0,251.6 802.1,251.7 805.1,251.9 808.2,252.0 811.2,252.2 814.2,252.3 817.3,252.4 820.3,252.6 823.4,252.7 826.4,252.9 829.5,253.0 832.5,253.2 835.6,253.3 838.6,253.5 841.7,253.6 844.7,253.8 847.8,253.9 850.8,254.1 853.9,254.2 856.9,254.3 859.9,254.5 863.0,254.6 866.0,254.8 869.1,254.9 872.1,255.1 875.2,255.2 878.2,255.4 881.3,255.5 884.3,255.7 887.3,255.8 890.4,255.9 893.4,256.1 896.5,256.2 899.5,256.4 902.5,256.5 905.6,256.7 908.6,256.8 911.6,257.0 914.7,257.1 917.7,257.2 920.7,257.4 923.8,257.5 926.8,257.7 929.8,257.8 932.8,258.0 935.9,258.1 938.9,258.2 941.9,258.4 944.9,258.5 947.9,258.7 950.9,258.8 953.9,258.9 956.9,259.1 959.9,259.2 963.0,259.3 966.0,259.5 968.9,259.6 971.9,259.8 974.9,259.9 977.9,260.0 980.9,260.2 983.9,260.3 986.9,260.4 989.9,260.6 992.8,260.7 995.8,260.8 998.8,260.9 1001.7,261.1 1004.7,261.2 1007.7,261.3 1010.6,261.5 1013.6,261.6 1016.5,261.7 1019.5,261.8 1022.4,262.0 1025.4,262.1 1028.3,262.2 1031.2,262.3 1034.2,262.5 1037.1,262.6 1040.0,262.7 1043.1,262.8 1046.3,262.9 1049.5,263.0 1052.6,263.1 1055.8,263.2 1059.1,263.2 1062.3,263.3 1065.6,263.3 1068.8,263.3 1072.1,263.4 1075.4,263.4 1078.7,263.4 1082.0,263.4 1085.4,263.3 1088.7,263.3 1092.1,263.3 1095.4,263.3 1098.8,263.2 1102.1,263.2 1105.5,263.1 1108.9,263.0 1112.3,263.0 1115.7,262.9 1119.1,262.8 1122.5,262.8 1125.9,262.7 1129.2,262.6 1132.6,262.5 1136.0,262.5 1139.4,262.4 1142.8,262.3 1146.2,262.2 1149.6,262.2 1152.9,262.1 1156.3,262.0 1159.6,261.9 1163.0,261.9 1166.3,261.8 1169.7,261.7 1173.0,261.7 1176.3,261.6 1179.6,261.6 1182.9,261.6 1186.1,261.5 1189.4,261.5 1192.6,261.5 1195.8,261.5 1199.0,261.5 1202.2,261.5 1205.4,261.5 1208.5,261.5 1211.7,261.5 1214.8,261.6 1217.8,261.6 1220.9,261.7 1223.9,261.8 1227.0,261.9 1229.9,262.0 1232.9,262.1 1235.8,262.2 1238.7,262.4 1241.6,262.5 1244.5,262.7 1247.3,262.9 1250.1,263.1 1252.8,263.3 1255.5,263.6 1258.2,263.8 1260.9,264.1 1263.5,264.4 1266.1,264.7 1268.6,265.0 1271.2,265.4 1273.6,265.8 1276.1,266.2 1278.5,266.6 1280.8,267.0 1283.1,267.5 1285.4,268.0 1287.6,268.5 1289.8,269.0 1291.9,269.5 1294.0,270.1 1296.1,270.7 1298.1,271.3 1300.0,272.0 1303.5,273.3 1306.8,274.6 1310.0,276.0 1313.1,277.5 1316.0,279.0 1318.7,280.5 1321.4,282.2 1324.0,283.8 1326.4,285.5 1328.8,287.3 1331.1,289.1 1333.3,290.9 1335.5,292.8 1337.7,294.7 1339.8,296.6 1342.0,298.6 1344.1,300.6 1346.2,302.6 1348.3,304.6 1350.5,306.7 1352.6,308.8 1354.9,310.9 1357.2,313.1 1359.6,315.2 1362.0,317.4 1364.1,319.2 1366.3,321.1 1368.5,323.1 1370.7,325.0 1372.9,327.0 1375.1,329.0 1377.3,331.1 1379.6,333.2 1381.8,335.3 1384.1,337.4 1386.3,339.5 1388.6,341.7 1390.8,343.9 1393.1,346.1 1395.3,348.3 1397.6,350.6 1399.8,352.8 1402.1,355.1 1404.3,357.3 1406.5,359.6 1408.7,361.9 1410.8,364.2 1413.0,366.5 1415.1,368.9 1417.2,371.2 1419.3,373.5 1421.4,375.8 1423.4,378.1 1425.4,380.5 1427.4,382.8 1429.4,385.1 1431.3,387.4 1433.2,389.7 1435.0,392.0 1436.9,394.5 1438.9,397.0 1440.7,399.5 1442.5,402.0 1444.3,404.6 1446.1,407.1 1447.8,409.6 1449.5,412.2 1451.2,414.8 1452.9,417.3 1454.5,419.9 1456.1,422.5 1457.7,425.1 1459.3,427.7 1460.8,430.3 1462.4,432.9 1464.0,435.5 1465.5,438.1 1467.0,440.7 1467.8,441.9"/><path d="M661.1,250.1 330.8,309.1"/><path d="M744.6,248.2 1199.4,308.8"/><path d="M265.6,330.6 263.2,332.1 260.4,333.9 257.5,335.8 254.7,337.6 251.9,339.5 249.1,341.3 246.5,343.2 243.9,345.0 241.4,346.9 239.1,348.7 236.8,350.6 234.7,352.5 232.8,354.3 231.0,356.2 229.4,358.1 228.0,360.0 226.0,363.2 224.3,366.4 222.9,369.7 221.8,373.0 221.0,376.3 220.3,379.5 220.0,382.6 219.8,385.6 219.8,388.4 219.9,391.9 220.2,395.2 221.0,398.4 222.8,401.4 225.9,404.5 226.6,405.0 227.4,405.6 228.2,406.1 229.1,406.6 230.0,407.1 231.0,407.7 232.1,408.2 233.2,408.7 234.4,409.2 235.7,409.7 237.0,410.2 238.3,410.7 239.7,411.2 241.2,411.7 242.7,412.2 244.3,412.7 245.9,413.2 247.6,413.7 249.3,414.2 251.1,414.7 252.9,415.1 254.8,415.6 256.8,416.1 258.7,416.6 260.8,417.0 262.8,417.5 265.0,418.0 267.1,418.4 269.3,418.9 271.6,419.4 273.9,419.8 276.2,420.3 278.6,420.7 281.1,421.2 283.5,421.6 286.0,422.1 288.6,422.5 291.2,423.0 293.8,423.4 296.5,423.8 299.2,424.3 301.9,424.7 304.7,425.2 307.5,425.6 310.4,426.0 313.3,426.5 316.2,426.9 319.1,427.3 322.1,427.7 325.1,428.2 328.2,428.6 331.2,429.0 334.3,429.4 337.5,429.8 340.6,430.3 343.8,430.7 347.0,431.1 350.3,431.5 353.5,431.9 356.8,432.3 360.1,432.7 363.5,433.1 366.8,433.6 370.2,434.0 373.6,434.4 377.1,434.8 380.5,435.2 384.0,435.6 387.5,436.0 391.0,436.4 394.5,436.8 398.0,437.2 401.6,437.6 405.2,438.0 408.7,438.4 412.3,438.8 416.0,439.2 419.6,439.6 423.2,439.9 426.9,440.3 430.5,440.7 434.2,441.1 437.9,441.5 441.6,441.9 445.3,442.3 449.0,442.7 452.7,443.1 456.5,443.5 460.2,443.9 463.9,444.3 467.7,444.6 471.4,445.0 475.2,445.4 478.9,445.8 482.7,446.2 486.4,446.6 490.2,447.0 494.0,447.4 497.7,447.8 501.5,448.1 505.2,448.5 509.0,448.9 512.7,449.3 516.5,449.7 520.2,450.1 523.9,450.5 527.7,450.9 531.4,451.3 535.1,451.6 538.8,452.0 542.5,452.4 546.2,452.8 549.9,453.2 553.6,453.6 557.2,454.0 560.9,454.4 564.5,454.8 568.1,455.2 571.8,455.6 575.4,456.0 578.9,456.4 582.5,456.8 586.1,457.2 589.6,457.6 593.1,458.0 594.5,458.1"/><path d="M285.3,330.6 285.4,365.3"/><path d="M1212.6,328.1 1212.2,328.1 1209.2,328.8 1206.2,329.4 1203.2,330.0 1200.2,330.7 1197.2,331.3 1194.2,331.9 1191.2,332.6 1188.2,333.2 1185.2,333.8 1182.2,334.5 1179.2,335.1 1176.2,335.7 1173.1,336.3 1170.1,337.0 1167.1,337.6 1164.1,338.2 1161.1,338.9 1158.1,339.5 1155.0,340.1 1152.0,340.7 1149.0,341.4 1146.0,342.0 1143.0,342.6 1140.0,343.3 1136.9,343.9 1133.9,344.5 1130.9,345.1 1127.9,345.8 1124.9,346.4 1121.9,347.0 1118.8,347.7 1115.8,348.3 1112.8,348.9 1109.8,349.6 1106.8,350.2 1103.8,350.8 1100.8,351.4 1097.8,352.1 1094.8,352.7 1091.8,353.3 1088.8,354.0 1085.8,354.6 1082.8,355.2 1079.8,355.9 1076.8,356.5 1073.8,357.1 1070.8,357.8 1067.8,358.4 1064.8,359.0 1061.9,359.7 1058.9,360.3 1055.9,361.0 1052.9,361.6 1050.0,362.2 1047.0,362.9 1044.0,363.5 1041.1,364.2 1038.1,364.8 1035.2,365.4 1032.2,366.1 1029.3,366.7 1026.3,367.4 1023.4,368.0 1020.5,368.7 1017.5,369.3 1014.6,370.0 1011.7,370.6 1008.8,371.3 1005.9,371.9 1003.0,372.6 1000.0,373.2 997.1,373.9 994.3,374.5 991.4,375.2 988.5,375.8 985.6,376.5 982.7,377.2 979.9,377.8 977.0,378.5 974.1,379.2 971.3,379.8 968.4,380.5 965.6,381.2 962.8,381.8 959.9,382.5 957.1,383.2 954.3,383.8 951.5,384.5 948.7,385.2 945.9,385.9 943.1,386.5 940.3,387.2 937.5,387.9 934.8,388.6 932.0,389.3 929.2,390.0 926.5,390.6 923.7,391.3 921.0,392.0 917.9,392.8 914.8,393.6 911.7,394.4 908.6,395.2 905.5,396.0 902.4,396.8 899.3,397.6 896.3,398.4 893.2,399.2 890.2,400.0 887.1,400.8 884.1,401.7 881.1,402.5 878.1,403.3 875.1,404.1 872.1,404.9 869.1,405.7 866.1,406.6 863.1,407.4 860.2,408.2 857.2,409.0 854.3,409.9 851.3,410.7 848.4,411.5 845.4,412.4 842.5,413.2 839.6,414.0 836.6,414.9 833.7,415.7 830.8,416.5 827.9,417.4 825.0,418.2 822.1,419.1 819.2,419.9 816.3,420.7 813.4,421.6 810.5,422.4 807.7,423.3 804.8,424.1 801.9,425.0 799.0,425.8 796.2,426.7 793.3,427.5 790.4,428.4 787.6,429.2 784.7,430.1 781.9,430.9 779.0,431.8 776.2,432.6 773.3,433.5 770.5,434.3 767.6,435.2 764.8,436.0 761.9,436.9 759.1,437.7 756.3,438.6 753.4,439.5 750.6,440.3 747.7,441.2 744.9,442.0 742.0,442.9 739.2,443.7 736.4,444.6 733.5,445.4 730.7,446.3 727.8,447.1 725.0,448.0 722.1,448.8 719.3,449.7 718.4,450.0"/><path d="M1273.9,330.6 1274.3,331.1 1276.1,333.4 1278.0,335.7 1279.8,338.1 1281.6,340.4 1283.4,342.8 1285.2,345.1 1287.0,347.4 1288.8,349.8 1290.6,352.1 1292.4,354.4 1294.3,356.8 1296.2,359.1 1298.1,361.4 1300.0,363.7 1302.0,366.0 1304.0,368.2 1306.0,370.5 1308.1,372.7 1310.3,375.0 1312.4,377.2 1314.7,379.4 1317.0,381.5 1319.3,383.7 1321.8,385.8 1324.3,387.9 1326.8,390.0 1329.5,392.0 1331.6,393.6 1333.7,395.1 1335.9,396.6 1338.1,398.1 1340.4,399.6 1342.7,401.1 1345.1,402.6 1347.5,404.0 1349.9,405.5 1352.4,406.9 1354.9,408.3 1357.4,409.7 1360.0,411.1 1362.6,412.5 1365.2,413.9 1367.8,415.2 1370.5,416.6 1373.2,417.9 1376.0,419.2 1378.7,420.6 1381.5,421.9 1384.3,423.2 1387.1,424.5 1390.0,425.8 1392.8,427.1 1395.7,428.4 1398.6,429.7 1401.5,430.9 1404.4,432.2 1407.3,433.5 1410.2,434.7 1413.2,436.0 1416.1,437.3 1419.1,438.5 1422.0,439.8 1425.0,441.0 1427.9,442.3 1430.9,443.5 1433.9,444.8 1436.8,446.1 1439.8,447.3 1442.3,448.4"/><path d="M1250.6,330.6 1250.4,330.8 1248.3,333.1 1246.2,335.4 1244.2,337.7 1242.3,340.0 1240.6,342.4 1238.9,344.9 1237.4,347.4 1236.0,350.0 1234.7,352.7 1233.4,355.5 1232.0,358.4 1230.7,361.3 1229.5,364.2 1228.4,367.2 1227.4,370.3 1226.6,373.3 1226.0,376.4 1225.6,379.6 1225.5,382.7 1225.6,385.8 1226.1,388.9 1227.0,392.0 1227.7,393.9 1228.6,395.8 1229.7,397.7 1230.9,399.6 1232.2,401.5 1233.7,403.4 1235.4,405.3 1237.1,407.3 1239.0,409.2 1241.0,411.1 1243.1,413.1 1245.3,415.0 1247.6,417.0 1250.0,419.0 1252.5,420.9 1255.0,422.9 1257.6,424.9 1260.3,426.9 1263.0,428.9 1265.7,430.9 1268.5,432.8 1271.3,434.8 1274.2,436.8 1277.0,438.8 1279.9,440.8 1282.8,442.8 1285.6,444.8 1287.1,445.9"/><path d="M1249.9,330.6 1249.8,330.7 1247.5,332.9 1245.3,335.1 1243.0,337.4 1240.7,339.6 1238.4,341.8 1236.1,344.0 1233.8,346.2 1231.5,348.4 1229.3,350.6 1227.0,352.8 1224.8,355.1 1222.6,357.3 1220.4,359.5 1218.2,361.8 1216.1,364.0 1214.1,366.3 1212.0,368.5 1210.0,370.8 1208.1,373.1 1206.2,375.4 1204.4,377.8 1202.7,380.1 1201.0,382.4 1199.4,384.8 1197.8,387.2 1196.4,389.6 1195.0,392.0 1193.5,394.8 1192.1,397.7 1190.9,400.6 1189.7,403.5 1188.6,406.4 1187.6,409.3 1186.7,412.3 1185.8,415.3 1185.0,418.2 1184.3,421.2 1183.6,424.3 1182.9,427.3 1182.3,430.3 1181.7,433.3 1181.1,436.4 1180.6,439.4 1180.4,440.2"/><path d="M1312.9,328.7 1526.9,377.7"/><path d="M1539.9,395.9 729.1,461.2"/><path d="M1570.4,405.2 1512.3,445.9"/><path d="M1540.5,405.2 1374.9,450.3"/><path d="M1637.7,405.2 1800.9,450.2"/><path d="M1638.9,398.0 2146.3,460.4"/><path d="M2197.0,479.9 2197.0,482.2 2197.0,485.3 2196.9,488.4 2196.9,491.5 2196.8,494.7 2196.8,497.8 2196.8,500.9 2196.7,504.0 2196.7,507.1 2196.7,510.2 2196.6,513.3 2196.6,516.5 2196.6,519.6 2196.6,522.7 2196.5,525.8 2196.5,528.9 2196.5,532.0 2196.5,535.1 2196.5,538.2 2196.5,541.4 2196.5,544.5 2196.5,547.6 2196.5,550.7 2196.6,553.8 2196.6,556.9 2196.6,560.0 2196.6,563.1 2196.7,566.2 2196.7,569.3 2196.8,572.4 2196.8,575.6 2196.9,578.7 2196.9,581.8 2196.9,584.9 2197.0,588.0 2197.0,589.3"/><path d="M113.0,403.0 116.0,403.4 119.0,403.9 122.0,404.3 125.0,404.7 127.9,405.2 130.9,405.6 133.9,406.0 136.8,406.4 139.8,406.8 142.7,407.3 145.6,407.7 148.5,408.1 151.4,408.5 154.4,408.9 157.3,409.4 160.2,409.8 163.1,410.2 166.0,410.6 168.9,411.0 171.8,411.4 174.7,411.8 177.6,412.2 180.5,412.7 183.4,413.1 186.3,413.5 189.2,413.9 192.1,414.3 195.0,414.7 197.9,415.2 200.8,415.6 203.8,416.0 206.7,416.4 209.6,416.8 212.6,417.2 215.5,417.7 218.5,418.1 221.4,418.5 224.4,419.0 227.4,419.4 230.4,419.8 233.4,420.2 236.4,420.7 239.5,421.1 242.5,421.6 245.6,422.0 248.6,422.4 251.7,422.9 254.8,423.3 257.9,423.8 261.0,424.3 264.2,424.7 267.4,425.2 270.5,425.6 273.7,426.1 276.9,426.6 280.2,427.1 283.4,427.5 286.7,428.0 290.0,428.5 293.3,429.0 296.6,429.5 300.0,430.0 302.6,430.4 305.3,430.8 307.9,431.2 310.6,431.6 313.3,432.0 316.0,432.3 318.7,432.7 321.5,433.1 324.2,433.5 327.0,433.9 329.7,434.3 332.5,434.7 335.3,435.1 338.1,435.5 340.9,435.9 343.8,436.3 346.6,436.7 349.5,437.1 352.3,437.5 355.2,437.9 358.1,438.3 361.0,438.7 363.9,439.1 366.8,439.5 369.8,439.9 372.7,440.3 375.6,440.7 378.6,441.2 381.6,441.6 384.5,442.0 387.5,442.4 390.5,442.8 393.5,443.2 396.5,443.6 399.5,444.1 402.5,444.5 405.5,444.9 408.6,445.3 411.6,445.8 414.6,446.2 417.7,446.6 420.7,447.0 423.8,447.5 426.8,447.9 429.9,448.3 433.0,448.8 436.0,449.2 439.1,449.6 442.2,450.1 445.3,450.5 448.3,451.0 451.4,451.4 454.5,451.9 457.6,452.3 460.7,452.8 463.8,453.2 466.9,453.7 470.0,454.1 473.1,454.6 476.2,455.0 479.2,455.5 482.3,456.0 485.4,456.4 488.5,456.9 491.6,457.4 494.7,457.8 497.8,458.3 500.9,458.8 504.0,459.3 507.0,459.8 510.1,460.2 513.2,460.7 516.3,461.2 519.3,461.7 522.4,462.2 525.5,462.7 528.5,463.2 531.6,463.7 534.6,464.2 537.7,464.7 540.7,465.2 543.7,465.7 546.8,466.2 549.8,466.8 552.8,467.3 555.8,467.8 558.8,468.3 561.8,468.9 564.8,469.4 567.8,469.9 570.8,470.5 573.7,471.0 576.7,471.5 579.6,472.1 582.6,472.6 585.5,473.2 588.4,473.7 591.3,474.3 594.2,474.9 597.1,475.4 600.0,476.0 603.0,476.6 606.1,477.2 609.1,477.8 612.1,478.4 615.2,479.1 618.2,479.7 621.2,480.3 624.2,481.0 627.2,481.6 630.2,482.3 633.2,482.9 636.2,483.6 639.2,484.2 642.2,484.9 645.2,485.6 648.2,486.2 651.2,486.9 654.1,487.6 657.1,488.3 660.1,489.0 663.1,489.6 666.0,490.3 669.0,491.0 672.0,491.7 674.9,492.4 677.9,493.1 680.8,493.8 683.8,494.5 686.7,495.3 689.7,496.0 692.6,496.7 695.6,497.4 698.5,498.1 701.5,498.9 704.4,499.6 707.3,500.3 710.3,501.0 713.2,501.8 716.1,502.5 719.1,503.3 722.0,504.0 724.9,504.7 727.8,505.5 730.8,506.2 733.7,507.0 736.6,507.7 739.5,508.5 742.4,509.2 745.4,510.0 748.3,510.7 751.2,511.5 754.1,512.2 757.0,513.0 760.0,513.7 762.9,514.5 765.8,515.2 768.7,516.0 771.6,516.7 774.5,517.5 777.4,518.2 780.4,519.0 783.3,519.8 786.2,520.5 789.1,521.3 792.0,522.0 794.9,522.8 797.8,523.5 800.8,524.3 803.7,525.0 804.1,525.2"/><path d="M94.1,405.3 96.1,406.0 99.1,407.1 102.0,408.2 104.9,409.3 107.8,410.4 110.7,411.5 113.7,412.6 116.6,413.7 119.5,414.8 122.4,415.9 125.3,417.0 128.2,418.1 131.1,419.2 134.0,420.3 136.9,421.4 139.8,422.4 142.6,423.5 145.5,424.6 148.4,425.7 151.2,426.7 154.0,427.8 156.9,428.9 159.7,429.9 162.5,431.0 165.3,432.0 168.0,433.0 170.8,434.1 173.5,435.1 176.3,436.1 179.0,437.1 181.7,438.2 184.4,439.2 187.0,440.2 189.7,441.1 192.3,442.1 194.9,443.1 197.4,444.0 200.0,445.0 203.1,446.2 206.3,447.3 209.4,448.5 212.4,449.7 215.5,450.8 218.5,452.0 221.5,453.1 224.5,454.3 227.5,455.4 230.5,456.6 233.4,457.7 236.3,458.8 239.2,459.9 242.1,461.0 245.0,462.1 247.9,463.2 250.7,464.3 253.5,465.3 256.3,466.4 259.1,467.5 261.9,468.5 264.7,469.5 267.5,470.5 270.2,471.5 273.0,472.5 275.7,473.5 278.4,474.5 281.1,475.4 283.8,476.4 286.5,477.3 289.2,478.2 291.8,479.1 294.5,480.0 297.6,481.0 300.5,482.0 303.5,482.9 306.3,483.8 309.2,484.7 311.9,485.6 314.7,486.4 317.4,487.3 320.1,488.1 322.9,488.9 325.6,489.7 328.3,490.5 331.0,491.2 333.7,492.0 336.5,492.8 339.3,493.6 342.1,494.3 345.0,495.1 348.0,495.9 351.0,496.7 354.1,497.5 357.2,498.3 360.5,499.1 363.8,500.0 366.3,500.6 368.8,501.3 371.3,501.9 373.9,502.5 376.5,503.2 379.1,503.8 381.7,504.5 384.4,505.2 387.1,505.8 389.8,506.5 392.6,507.2 395.4,507.8 398.2,508.5 401.0,509.2 403.8,509.9 406.7,510.5 409.6,511.2 412.5,511.9 415.5,512.6 418.4,513.3 421.4,513.9 424.4,514.6 427.4,515.3 430.4,516.0 433.4,516.7 436.5,517.3 439.6,518.0 442.7,518.7 445.8,519.4 448.9,520.0 452.0,520.7 455.1,521.3 458.3,522.0 461.4,522.6 464.6,523.3 467.8,523.9 471.0,524.6 474.2,525.2 477.4,525.8 480.6,526.4 483.8,527.0 487.0,527.7 490.3,528.3 493.5,528.8 496.8,529.4 500.0,530.0 502.7,530.5 505.4,530.9 508.2,531.4 510.9,531.9 513.7,532.3 516.5,532.8 519.2,533.3 522.1,533.7 524.9,534.2 527.7,534.6 530.6,535.1 533.4,535.5 536.3,536.0 539.2,536.4 542.1,536.8 545.0,537.3 547.9,537.7 550.8,538.1 553.7,538.6 556.7,539.0 559.6,539.4 562.6,539.8 565.6,540.2 568.6,540.7 571.5,541.1 574.5,541.5 577.5,541.9 580.5,542.3 583.6,542.7 586.6,543.1 589.6,543.5 592.6,543.9 595.7,544.3 598.7,544.7 601.8,545.1 604.8,545.5 607.9,545.9 610.9,546.2 614.0,546.6 617.1,547.0 620.1,547.4 623.2,547.7 626.3,548.1 629.3,548.5 632.4,548.8 635.5,549.2 638.5,549.6 641.6,549.9 644.7,550.3 647.8,550.6 650.8,551.0 653.9,551.3 657.0,551.7 660.0,552.0 663.1,552.4 666.1,552.7 669.2,553.1 672.3,553.4 675.3,553.7 678.3,554.1 681.4,554.4 684.4,554.7 687.4,555.0 690.5,555.4 693.5,555.7 696.5,556.0 699.5,556.3 702.4,556.6 705.3,556.9 708.2,557.2 711.1,557.5 714.0,557.8 716.8,558.1 719.7,558.4 722.5,558.6 725.4,558.9 728.2,559.2 731.0,559.5 733.8,559.7 736.6,560.0 739.4,560.2 742.2,560.5 745.0,560.8 747.7,561.0 750.5,561.3 753.3,561.5 756.1,561.7 758.8,562.0 761.6,562.2 764.4,562.5 767.2,562.7 769.9,562.9 772.7,563.2 775.5,563.4 778.3,563.6 781.1,563.8 783.9,564.1 786.7,564.3 789.5,564.5 792.4,564.7 795.2,564.9 798.0,565.2 800.9,565.4 803.8,565.6 806.7,565.8 809.6,566.0 812.5,566.2 815.4,566.4 818.4,566.6 821.3,566.9 824.3,567.1 827.3,567.3 830.4,567.5 833.4,567.7 836.5,567.9 839.6,568.1 842.7,568.3 845.8,568.5 849.0,568.7 852.2,568.9 855.4,569.2 858.6,569.4 861.9,569.6 865.2,569.8 868.5,570.0 871.9,570.2 875.3,570.4 878.7,570.7 882.2,570.9 885.7,571.1 889.2,571.3 892.8,571.5 896.4,571.8 900.0,572.0 902.4,572.1 904.7,572.3 907.1,572.4 909.5,572.6 911.9,572.7 914.4,572.9 916.8,573.0 919.3,573.2 921.7,573.3 924.2,573.5 926.7,573.6 929.3,573.8 931.8,573.9 934.3,574.1 936.9,574.2 939.5,574.4 942.1,574.5 944.7,574.7 947.3,574.8 949.9,575.0 952.6,575.1 955.2,575.3 957.9,575.4 960.6,575.6 963.3,575.7 966.0,575.9 968.7,576.0 971.4,576.2 974.2,576.3 976.9,576.5 979.7,576.6 982.5,576.8 985.3,576.9 988.1,577.1 990.9,577.2 993.7,577.4 996.5,577.5 999.4,577.7 1002.2,577.8 1005.1,578.0 1008.0,578.1 1010.9,578.3 1013.8,578.4 1016.7,578.6 1019.6,578.7 1022.5,578.9 1025.5,579.0 1028.4,579.2 1031.4,579.3 1034.3,579.5 1037.3,579.6 1040.3,579.8 1043.3,579.9 1046.3,580.1 1049.3,580.2 1052.3,580.4 1055.3,580.5 1058.3,580.7 1061.4,580.8 1064.4,581.0 1067.5,581.1 1070.5,581.3 1073.6,581.4 1076.7,581.6 1079.7,581.7 1082.8,581.8 1085.9,582.0 1089.0,582.1 1092.1,582.3 1095.2,582.4 1098.3,582.6 1101.5,582.7 1104.6,582.9 1107.7,583.0 1110.9,583.2 1114.0,583.3 1117.2,583.5 1120.3,583.6 1123.5,583.8 1126.6,583.9 1129.8,584.1 1133.0,584.2 1136.2,584.3 1139.3,584.5 1142.5,584.6 1145.7,584.8 1148.9,584.9 1152.1,585.1 1155.3,585.2 1158.5,585.4 1161.7,585.5 1164.9,585.6 1168.1,585.8 1171.3,585.9 1174.5,586.1 1177.8,586.2 1181.0,586.3 1184.2,586.5 1187.4,586.6 1190.7,586.8 1193.9,586.9 1197.1,587.0 1200.3,587.2 1203.6,587.3 1206.8,587.5 1210.0,587.6 1213.3,587.7 1216.5,587.9 1219.7,588.0 1223.0,588.2 1226.2,588.3 1229.4,588.4 1232.7,588.6 1235.9,588.7 1239.1,588.8 1242.4,589.0 1245.6,589.1 1248.8,589.2 1252.1,589.4 1255.3,589.5 1258.5,589.6 1261.7,589.8 1265.0,589.9 1268.2,590.0 1271.4,590.1 1274.6,590.3 1277.8,590.4 1281.1,590.5 1284.3,590.7 1287.5,590.8 1290.7,590.9 1293.9,591.0 1297.1,591.2 1300.3,591.3 1303.5,591.4 1306.7,591.5 1309.9,591.7 1313.0,591.8 1316.2,591.9 1319.4,592.0 1322.6,592.2 1325.7,592.3 1328.9,592.4 1332.0,592.5 1335.2,592.6 1338.3,592.8 1341.5,592.9 1344.6,593.0 1347.7,593.1 1350.9,593.2 1354.0,593.3 1357.1,593.5 1360.2,593.6 1363.3,593.7 1366.4,593.8 1369.5,593.9 1372.6,594.0 1375.7,594.1 1378.7,594.2 1381.8,594.4 1384.8,594.5 1387.9,594.6 1390.9,594.7 1394.0,594.8 1397.0,594.9 1400.0,595.0 1403.0,595.1 1406.0,595.2 1409.1,595.3 1412.1,595.4 1415.1,595.5 1418.2,595.6 1421.2,595.7 1424.2,595.8 1427.3,595.9 1430.3,596.0 1433.4,596.1 1436.5,596.2 1439.5,596.3 1442.6,596.4 1445.7,596.5 1448.7,596.6 1451.8,596.7 1454.9,596.8 1458.0,596.9 1461.1,597.0 1464.1,597.1 1467.2,597.1 1470.3,597.2 1473.4,597.3 1476.5,597.4 1479.6,597.5 1482.7,597.6 1485.9,597.7 1489.0,597.8 1492.1,597.8 1495.2,597.9 1498.3,598.0 1501.4,598.1 1504.6,598.2 1507.7,598.3 1510.8,598.3 1513.9,598.4 1517.1,598.5 1520.2,598.6 1523.3,598.7 1526.4,598.7 1529.6,598.8 1532.7,598.9 1535.9,599.0 1539.0,599.1 1542.1,599.1 1545.3,599.2 1548.4,599.3 1551.5,599.4 1554.7,599.4 1557.8,599.5 1561.0,599.6 1564.1,599.7 1567.2,599.7 1570.4,599.8 1573.5,599.9 1576.7,600.0 1579.8,600.0 1583.0,600.1 1586.1,600.2 1589.2,600.2 1592.4,600.3 1595.5,600.4 1598.7,600.4 1601.8,600.5 1604.9,600.6 1608.1,600.7 1611.2,600.7 1614.3,600.8 1617.5,600.9 1620.6,600.9 1623.7,601.0 1626.9,601.1 1630.0,601.1 1633.1,601.2 1636.2,601.3 1639.4,601.3 1642.5,601.4 1645.6,601.5 1648.7,601.5 1651.8,601.6 1655.0,601.6 1658.1,601.7 1661.2,601.8 1664.3,601.8 1667.4,601.9 1670.5,602.0 1673.6,602.0 1676.7,602.1 1679.8,602.2 1682.9,602.2 1685.9,602.3 1689.0,602.3 1692.1,602.4 1695.2,602.5 1698.3,602.5 1701.3,602.6 1704.4,602.7 1707.5,602.7 1710.5,602.8 1713.6,602.8 1716.6,602.9 1719.7,603.0 1722.7,603.0 1725.8,603.1 1728.8,603.2 1731.8,603.2 1734.8,603.3 1737.9,603.3 1740.9,603.4 1743.9,603.5 1746.9,603.5 1749.9,603.6 1752.9,603.6 1755.9,603.7 1758.9,603.8 1761.9,603.8 1764.9,603.9 1767.8,603.9 1770.8,604.0 1773.8,604.1 1776.7,604.1 1779.7,604.2 1782.6,604.3 1785.5,604.3 1788.5,604.4 1791.4,604.4 1794.3,604.5 1797.2,604.6 1800.2,604.6 1803.1,604.7 1806.0,604.8 1808.8,604.8 1811.7,604.9 1814.6,604.9 1817.5,605.0 1820.3,605.1 1823.2,605.1 1826.0,605.2 1828.9,605.3 1831.7,605.3 1834.5,605.4 1837.4,605.5 1840.2,605.5 1843.0,605.6 1845.8,605.6 1848.6,605.7 1851.3,605.8 1854.1,605.8 1856.9,605.9 1859.6,606.0 1862.4,606.0 1865.1,606.1 1867.9,606.2 1870.6,606.2 1873.3,606.3 1876.0,606.4 1878.7,606.4 1881.4,606.5 1884.1,606.6 1886.8,606.6 1889.4,606.7 1892.1,606.8 1894.7,606.9 1897.4,606.9 1900.0,607.0 1903.4,607.1 1906.8,607.2 1910.1,607.3 1913.4,607.4 1916.8,607.5 1920.1,607.5 1923.4,607.6 1926.7,607.7 1929.9,607.8 1933.2,607.9 1936.4,608.0 1939.6,608.1 1942.9,608.2 1946.1,608.3 1949.3,608.4 1952.4,608.5 1955.6,608.6 1958.7,608.6 1961.9,608.7 1965.0,608.8 1968.1,608.9 1971.3,609.0 1974.4,609.1 1977.4,609.2 1980.5,609.3 1983.6,609.4 1986.7,609.5 1989.7,609.6 1992.7,609.6 1995.8,609.7 1998.8,609.8 2001.8,609.9 2004.8,610.0 2007.8,610.1 2010.8,610.2 2013.8,610.3 2016.8,610.4 2019.8,610.5 2022.7,610.5 2025.7,610.6 2028.6,610.7 2031.6,610.8 2034.5,610.9 2037.4,611.0 2040.4,611.1 2043.3,611.2 2046.2,611.3 2049.1,611.4 2052.0,611.5 2055.0,611.5 2057.9,611.6 2060.8,611.7 2063.7,611.8 2066.5,611.9 2069.4,612.0 2072.3,612.1 2075.2,612.2 2078.1,612.3 2081.0,612.4 2083.9,612.4 2086.7,612.5 2089.6,612.6 2092.5,612.7 2095.4,612.8 2098.2,612.9 2101.1,613.0 2104.0,613.1 2106.9,613.2 2109.7,613.3 2112.6,613.3 2115.5,613.4 2118.4,613.5 2121.2,613.6 2122.3,613.6"/><path d="M112.7,404.8 306.5,450.7"/><path d="M436.4,479.9 686.2,532.6"/><path d="M919.9,547.1 921.0,547.2 923.9,547.5 926.8,547.8 929.6,548.2 932.5,548.5 935.4,548.8 938.3,549.2 941.1,549.5 944.0,549.8 946.9,550.2 949.8,550.5 952.6,550.8 955.5,551.2 958.4,551.5 961.3,551.8 964.2,552.2 967.0,552.5 969.9,552.8 972.8,553.2 975.7,553.5 978.6,553.8 981.5,554.2 984.5,554.5 987.4,554.8 990.3,555.1 993.2,555.5 996.2,555.8 999.1,556.1 1002.1,556.4 1005.0,556.8 1008.0,557.1 1011.0,557.4 1014.0,557.7 1017.0,558.1 1020.0,558.4 1023.0,558.7 1026.1,559.0 1029.1,559.3 1032.2,559.7 1035.3,560.0 1038.3,560.3 1041.4,560.6 1044.6,560.9 1047.7,561.2 1050.8,561.5 1054.0,561.8 1057.2,562.2 1060.3,562.5 1063.5,562.8 1066.8,563.1 1070.0,563.4 1073.3,563.7 1076.5,564.0 1079.8,564.3 1083.1,564.6 1086.5,564.8 1089.8,565.1 1093.2,565.4 1096.6,565.7 1100.0,566.0 1102.6,566.2 1105.2,566.4 1107.8,566.6 1110.5,566.9 1113.1,567.1 1115.8,567.3 1118.5,567.5 1121.2,567.7 1123.9,567.9 1126.6,568.1 1129.3,568.4 1132.0,568.6 1134.8,568.8 1137.5,569.0 1140.3,569.2 1143.0,569.4 1145.8,569.6 1148.6,569.8 1151.4,570.0 1154.2,570.2 1157.1,570.4 1159.9,570.6 1162.7,570.8 1165.6,571.1 1168.4,571.3 1171.3,571.5 1174.2,571.7 1177.1,571.9 1180.0,572.1 1182.9,572.3 1185.8,572.5 1188.7,572.7 1191.6,572.9 1194.5,573.1 1197.5,573.3 1200.4,573.5 1203.4,573.7 1206.3,573.9 1209.3,574.1 1212.3,574.3 1215.3,574.5 1218.3,574.7 1221.3,574.9 1224.3,575.0 1227.3,575.2 1230.3,575.4 1233.3,575.6 1236.3,575.8 1239.4,576.0 1242.4,576.2 1245.4,576.4 1248.5,576.6 1251.5,576.8 1254.6,577.0 1257.7,577.2 1260.7,577.3 1263.8,577.5 1266.9,577.7 1269.9,577.9 1273.0,578.1 1276.1,578.3 1279.2,578.5 1282.3,578.6 1285.4,578.8 1288.5,579.0 1291.6,579.2 1294.7,579.4 1297.8,579.6 1301.0,579.7 1304.1,579.9 1307.2,580.1 1310.3,580.3 1313.4,580.5 1316.6,580.6 1319.7,580.8 1322.8,581.0 1326.0,581.2 1329.1,581.3 1332.2,581.5 1335.4,581.7 1338.5,581.9 1341.7,582.0 1344.8,582.2 1347.9,582.4 1351.1,582.5 1354.2,582.7 1357.4,582.9 1360.5,583.1 1363.7,583.2 1366.8,583.4 1369.9,583.6 1373.1,583.7 1376.2,583.9 1379.4,584.1 1382.5,584.2 1385.7,584.4 1388.8,584.5 1391.9,584.7 1395.1,584.9 1398.2,585.0 1401.3,585.2 1404.5,585.4 1407.6,585.5 1410.7,585.7 1413.9,585.8 1417.0,586.0 1420.1,586.2 1423.2,586.3 1426.4,586.5 1429.5,586.6 1432.6,586.8 1435.7,586.9 1438.8,587.1 1441.9,587.2 1445.0,587.4 1448.1,587.5 1451.2,587.7 1454.3,587.8 1457.3,588.0 1460.4,588.1 1463.5,588.3 1466.6,588.4 1469.6,588.6 1472.7,588.7 1475.7,588.9 1478.8,589.0 1481.8,589.2 1484.9,589.3 1487.9,589.4 1490.9,589.6 1494.0,589.7 1497.0,589.9 1500.0,590.0 1503.0,590.1 1506.0,590.3 1509.0,590.4 1512.1,590.5 1515.1,590.7 1518.1,590.8 1521.1,590.9 1524.2,591.1 1527.2,591.2 1530.2,591.3 1533.3,591.5 1536.3,591.6 1539.3,591.7 1542.4,591.8 1545.4,591.9 1548.5,592.1 1551.5,592.2 1554.6,592.3 1557.6,592.4 1560.7,592.5 1563.8,592.6 1566.8,592.8 1569.9,592.9 1573.0,593.0 1576.0,593.1 1579.1,593.2 1582.2,593.3 1585.2,593.4 1588.3,593.5 1591.4,593.6 1594.4,593.7 1597.5,593.8 1600.6,593.9 1603.7,594.0 1606.8,594.2 1609.8,594.3 1612.9,594.4 1616.0,594.5 1619.1,594.6 1622.2,594.6 1625.2,594.7 1628.3,594.8 1631.4,594.9 1634.5,595.0 1637.6,595.1 1640.6,595.2 1643.7,595.3 1646.8,595.4 1649.9,595.5 1653.0,595.6 1656.1,595.7 1659.1,595.8 1662.2,595.9 1665.3,596.0 1668.4,596.0 1671.4,596.1 1674.5,596.2 1677.6,596.3 1680.7,596.4 1683.7,596.5 1686.8,596.6 1689.9,596.7 1693.0,596.7 1696.0,596.8 1699.1,596.9 1702.2,597.0 1705.2,597.1 1708.3,597.2 1711.3,597.3 1714.4,597.3 1717.5,597.4 1720.5,597.5 1723.6,597.6 1726.6,597.7 1729.7,597.8 1732.7,597.9 1735.7,597.9 1738.8,598.0 1741.8,598.1 1744.9,598.2 1747.9,598.3 1750.9,598.4 1753.9,598.4 1757.0,598.5 1760.0,598.6 1763.0,598.7 1766.0,598.8 1769.0,598.9 1772.0,598.9 1775.1,599.0 1778.1,599.1 1781.1,599.2 1784.0,599.3 1787.0,599.4 1790.0,599.4 1793.0,599.5 1796.0,599.6 1799.0,599.7 1801.9,599.8 1804.9,599.9 1807.9,600.0 1810.8,600.0 1813.8,600.1 1816.7,600.2 1819.7,600.3 1822.6,600.4 1825.5,600.5 1828.5,600.6 1831.4,600.7 1834.3,600.8 1837.2,600.8 1840.2,600.9 1843.1,601.0 1846.0,601.1 1848.9,601.2 1851.8,601.3 1854.6,601.4 1857.5,601.5 1860.4,601.6 1863.3,601.7 1866.1,601.8 1869.0,601.9 1871.8,602.0 1874.7,602.1 1877.5,602.2 1880.3,602.3 1883.2,602.4 1886.0,602.5 1888.8,602.6 1891.6,602.7 1894.4,602.8 1897.2,602.9 1900.0,603.0 1903.2,603.1 1906.4,603.2 1909.6,603.4 1912.8,603.5 1916.0,603.6 1919.2,603.7 1922.4,603.9 1925.5,604.0 1928.7,604.1 1931.8,604.2 1935.0,604.4 1938.1,604.5 1941.2,604.6 1944.4,604.7 1947.5,604.9 1950.6,605.0 1953.7,605.1 1956.8,605.3 1959.8,605.4 1962.9,605.5 1966.0,605.6 1969.1,605.8 1972.1,605.9 1975.2,606.0 1978.2,606.2 1981.3,606.3 1984.3,606.4 1987.3,606.5 1990.3,606.7 1993.4,606.8 1996.4,606.9 1999.4,607.1 2002.4,607.2 2005.4,607.3 2008.4,607.5 2011.4,607.6 2014.4,607.7 2017.4,607.9 2020.3,608.0 2023.3,608.1 2026.3,608.3 2029.3,608.4 2032.2,608.5 2035.2,608.6 2038.2,608.8 2041.1,608.9 2044.1,609.0 2047.0,609.2 2050.0,609.3 2052.9,609.4 2055.9,609.6 2058.8,609.7 2061.8,609.8 2064.7,610.0 2067.6,610.1 2070.6,610.2 2073.5,610.4 2076.4,610.5 2079.4,610.6 2082.3,610.8 2085.2,610.9 2088.2,611.0 2091.1,611.2 2094.0,611.3 2097.0,611.4 2099.9,611.6 2102.8,611.7 2105.8,611.8 2108.7,612.0 2111.6,612.1 2114.6,612.2 2117.5,612.4 2120.4,612.5 2122.3,612.6"/><path d="M755.1,544.8 755.8,544.9 758.6,545.3 761.4,545.6 764.1,546.0 766.9,546.4 769.6,546.7 772.3,547.1 775.1,547.5 777.8,547.8 780.5,548.2 783.2,548.6 786.0,548.9 788.7,549.3 791.4,549.7 794.1,550.0 796.9,550.4 799.6,550.7 802.4,551.1 805.1,551.5 807.9,551.8 810.7,552.2 813.5,552.6 816.3,552.9 819.2,553.3 822.0,553.7 824.9,554.0 827.8,554.4 830.8,554.7 833.7,555.1 836.7,555.4 839.7,555.8 842.7,556.2 845.8,556.5 848.9,556.9 852.0,557.2 855.2,557.6 858.4,557.9 861.6,558.3 864.9,558.6 868.2,559.0 871.5,559.3 874.9,559.6 878.4,560.0 881.8,560.3 885.4,560.7 889.0,561.0 892.6,561.3 896.3,561.7 900.0,562.0 902.2,562.2 904.5,562.4 906.8,562.6 909.1,562.8 911.4,563.0 913.7,563.2 916.1,563.4 918.4,563.6 920.8,563.8 923.2,563.9 925.6,564.1 928.0,564.3 930.5,564.5 933.0,564.7 935.5,564.9 938.0,565.1 940.5,565.3 943.0,565.5 945.5,565.7 948.1,565.9 950.7,566.1 953.3,566.3 955.9,566.5 958.5,566.6 961.2,566.8 963.8,567.0 966.5,567.2 969.2,567.4 971.9,567.6 974.6,567.8 977.3,568.0 980.0,568.2 982.8,568.4 985.6,568.5 988.3,568.7 991.1,568.9 993.9,569.1 996.7,569.3 999.6,569.5 1002.4,569.7 1005.3,569.9 1008.1,570.1 1011.0,570.2 1013.9,570.4 1016.8,570.6 1019.7,570.8 1022.6,571.0 1025.6,571.2 1028.5,571.4 1031.5,571.5 1034.4,571.7 1037.4,571.9 1040.4,572.1 1043.4,572.3 1046.4,572.5 1049.4,572.6 1052.4,572.8 1055.4,573.0 1058.5,573.2 1061.5,573.4 1064.6,573.5 1067.7,573.7 1070.7,573.9 1073.8,574.1 1076.9,574.3 1080.0,574.4 1083.1,574.6 1086.2,574.8 1089.3,575.0 1092.5,575.2 1095.6,575.3 1098.8,575.5 1101.9,575.7 1105.1,575.9 1108.2,576.0 1111.4,576.2 1114.6,576.4 1117.7,576.6 1120.9,576.7 1124.1,576.9 1127.3,577.1 1130.5,577.3 1133.7,577.4 1136.9,577.6 1140.1,577.8 1143.4,578.0 1146.6,578.1 1149.8,578.3 1153.0,578.5 1156.3,578.6 1159.5,578.8 1162.8,579.0 1166.0,579.1 1169.3,579.3 1172.5,579.5 1175.8,579.6 1179.0,579.8 1182.3,580.0 1185.5,580.1 1188.8,580.3 1192.1,580.5 1195.3,580.6 1198.6,580.8 1201.9,581.0 1205.1,581.1 1208.4,581.3 1211.7,581.4 1214.9,581.6 1218.2,581.8 1221.5,581.9 1224.8,582.1 1228.0,582.2 1231.3,582.4 1234.6,582.6 1237.9,582.7 1241.1,582.9 1244.4,583.0 1247.7,583.2 1250.9,583.3 1254.2,583.5 1257.5,583.7 1260.7,583.8 1264.0,584.0 1267.3,584.1 1270.5,584.3 1273.8,584.4 1277.0,584.6 1280.3,584.7 1283.5,584.9 1286.8,585.0 1290.0,585.2 1293.2,585.3 1296.5,585.5 1299.7,585.6 1302.9,585.8 1306.1,585.9 1309.4,586.1 1312.6,586.2 1315.8,586.3 1319.0,586.5 1322.2,586.6 1325.4,586.8 1328.6,586.9 1331.7,587.1 1334.9,587.2 1338.1,587.3 1341.2,587.5 1344.4,587.6 1347.6,587.8 1350.7,587.9 1353.8,588.0 1357.0,588.2 1360.1,588.3 1363.2,588.4 1366.3,588.6 1369.4,588.7 1372.5,588.8 1375.6,589.0 1378.7,589.1 1381.8,589.2 1384.8,589.4 1387.9,589.5 1390.9,589.6 1394.0,589.7 1397.0,589.9 1400.0,590.0 1403.0,590.1 1406.0,590.3 1409.1,590.4 1412.1,590.5 1415.1,590.6 1418.1,590.7 1421.2,590.9 1424.2,591.0 1427.3,591.1 1430.3,591.2 1433.4,591.3 1436.4,591.4 1439.5,591.6 1442.6,591.7 1445.6,591.8 1448.7,591.9 1451.8,592.0 1454.9,592.1 1458.0,592.2 1461.1,592.3 1464.1,592.4 1467.2,592.5 1470.3,592.6 1473.4,592.7 1476.5,592.9 1479.6,593.0 1482.7,593.1 1485.8,593.2 1489.0,593.3 1492.1,593.4 1495.2,593.5 1498.3,593.6 1501.4,593.6 1504.5,593.7 1507.7,593.8 1510.8,593.9 1513.9,594.0 1517.0,594.1 1520.2,594.2 1523.3,594.3 1526.4,594.4 1529.6,594.5 1532.7,594.6 1535.8,594.7 1539.0,594.8 1542.1,594.8 1545.3,594.9 1548.4,595.0 1551.5,595.1 1554.7,595.2 1557.8,595.3 1561.0,595.4 1564.1,595.4 1567.2,595.5 1570.4,595.6 1573.5,595.7 1576.7,595.8 1579.8,595.9 1583.0,595.9 1586.1,596.0 1589.2,596.1 1592.4,596.2 1595.5,596.3 1598.7,596.3 1601.8,596.4 1604.9,596.5 1608.1,596.6 1611.2,596.6 1614.3,596.7 1617.5,596.8 1620.6,596.9 1623.7,597.0 1626.9,597.0 1630.0,597.1 1633.1,597.2 1636.2,597.3 1639.4,597.3 1642.5,597.4 1645.6,597.5 1648.7,597.5 1651.8,597.6 1654.9,597.7 1658.1,597.8 1661.2,597.8 1664.3,597.9 1667.4,598.0 1670.5,598.1 1673.6,598.1 1676.7,598.2 1679.8,598.3 1682.9,598.3 1685.9,598.4 1689.0,598.5 1692.1,598.6 1695.2,598.6 1698.3,598.7 1701.3,598.8 1704.4,598.8 1707.5,598.9 1710.5,599.0 1713.6,599.0 1716.6,599.1 1719.7,599.2 1722.7,599.3 1725.8,599.3 1728.8,599.4 1731.8,599.5 1734.8,599.5 1737.9,599.6 1740.9,599.7 1743.9,599.7 1746.9,599.8 1749.9,599.9 1752.9,600.0 1755.9,600.0 1758.9,600.1 1761.9,600.2 1764.9,600.2 1767.8,600.3 1770.8,600.4 1773.8,600.5 1776.7,600.5 1779.7,600.6 1782.6,600.7 1785.5,600.7 1788.5,600.8 1791.4,600.9 1794.3,601.0 1797.2,601.0 1800.2,601.1 1803.1,601.2 1806.0,601.3 1808.8,601.3 1811.7,601.4 1814.6,601.5 1817.5,601.6 1820.3,601.6 1823.2,601.7 1826.0,601.8 1828.9,601.9 1831.7,601.9 1834.5,602.0 1837.4,602.1 1840.2,602.2 1843.0,602.2 1845.8,602.3 1848.6,602.4 1851.4,602.5 1854.1,602.6 1856.9,602.6 1859.6,602.7 1862.4,602.8 1865.1,602.9 1867.9,603.0 1870.6,603.1 1873.3,603.1 1876.0,603.2 1878.7,603.3 1881.4,603.4 1884.1,603.5 1886.8,603.6 1889.4,603.6 1892.1,603.7 1894.7,603.8 1897.4,603.9 1900.0,604.0 1903.4,604.1 1906.8,604.2 1910.1,604.3 1913.4,604.5 1916.8,604.6 1920.1,604.7 1923.4,604.8 1926.7,604.9 1929.9,605.0 1933.2,605.2 1936.4,605.3 1939.6,605.4 1942.9,605.5 1946.1,605.6 1949.3,605.8 1952.4,605.9 1955.6,606.0 1958.8,606.1 1961.9,606.2 1965.0,606.4 1968.1,606.5 1971.3,606.6 1974.4,606.7 1977.4,606.8 1980.5,606.9 1983.6,607.1 1986.7,607.2 1989.7,607.3 1992.7,607.4 1995.8,607.5 1998.8,607.7 2001.8,607.8 2004.8,607.9 2007.8,608.0 2010.8,608.2 2013.8,608.3 2016.8,608.4 2019.8,608.5 2022.7,608.6 2025.7,608.8 2028.6,608.9 2031.6,609.0 2034.5,609.1 2037.5,609.2 2040.4,609.4 2043.3,609.5 2046.2,609.6 2049.1,609.7 2052.1,609.9 2055.0,610.0 2057.9,610.1 2060.8,610.2 2063.7,610.3 2066.6,610.5 2069.4,610.6 2072.3,610.7 2075.2,610.8 2078.1,611.0 2081.0,611.1 2083.9,611.2 2086.7,611.3 2089.6,611.4 2092.5,611.6 2095.4,611.7 2098.2,611.8 2101.1,611.9 2104.0,612.1 2106.9,612.2 2109.7,612.3 2112.6,612.4 2115.5,612.5 2118.4,612.7 2121.3,612.8 2122.3,612.8"/><path d="M715.8,478.8 930.2,527.3"/><path d="M2321.3,405.2 2235.3,447.8"/><path d="M1498.2,106.6 1490.2,141.6"/><path d="M1480.6,181.2 1471.3,216.4"/><path d="M1443.4,180.8 1300.4,225.8"/><path d="M1195.0,247.0 1192.0,247.2 1188.9,247.4 1185.9,247.5 1182.8,247.7 1179.8,247.9 1176.7,248.0 1173.7,248.2 1170.6,248.4 1167.5,248.5 1164.5,248.7 1161.4,248.9 1158.4,249.0 1155.3,249.2 1152.2,249.4 1149.2,249.5 1146.1,249.7 1143.0,249.9 1140.0,250.0 1136.9,250.2 1133.8,250.4 1130.8,250.5 1127.7,250.7 1124.6,250.9 1121.6,251.0 1118.5,251.2 1115.5,251.4 1112.4,251.5 1109.4,251.7 1106.3,251.9 1103.3,252.0 1100.2,252.2 1097.2,252.4 1094.1,252.5 1091.1,252.7 1088.0,252.9 1085.0,253.1 1082.0,253.3 1078.9,253.4 1075.9,253.6 1072.9,253.8 1069.9,254.0 1066.9,254.2 1063.9,254.4 1060.9,254.6 1057.9,254.8 1054.9,255.0 1051.9,255.2 1048.9,255.4 1045.9,255.6 1043.0,255.8 1040.0,256.0 1036.9,256.2 1033.8,256.4 1030.7,256.7 1027.6,256.9 1024.5,257.1 1021.5,257.3 1018.4,257.5 1015.4,257.7 1012.3,257.8 1009.3,258.0 1006.3,258.2 1003.2,258.4 1000.2,258.6 997.2,258.8 994.2,259.0 991.2,259.2 988.2,259.4 985.2,259.6 982.2,259.8 979.2,260.0 976.2,260.2 973.2,260.4 970.2,260.6 967.3,260.9 964.3,261.1 961.3,261.3 958.3,261.6 955.3,261.8 952.3,262.1 949.2,262.3 946.2,262.6 943.2,262.9 940.2,263.2 937.1,263.5 934.1,263.8 931.0,264.1 928.0,264.4 924.9,264.8 921.8,265.1 918.8,265.5 915.7,265.9 912.6,266.3 909.4,266.7 906.3,267.1 903.2,267.5 900.0,268.0 897.1,268.4 894.2,268.8 891.3,269.3 888.2,269.7 885.2,270.2 882.0,270.7 878.8,271.1 875.6,271.6 872.4,272.1 869.1,272.6 865.7,273.1 862.4,273.7 859.0,274.2 855.6,274.7 852.1,275.3 848.7,275.8 845.2,276.4 841.7,277.0 838.3,277.5 834.8,278.1 831.3,278.7 827.8,279.3 824.3,279.9 820.9,280.5 817.4,281.1 814.0,281.7 810.5,282.4 807.1,283.0 803.8,283.6 800.4,284.3 797.1,284.9 793.8,285.6 790.6,286.2 787.4,286.9 784.2,287.6 781.1,288.2 778.0,288.9 775.0,289.6 772.1,290.2 769.2,290.9 766.4,291.6 763.6,292.3 760.9,293.0 758.3,293.7 755.8,294.4 753.3,295.1 750.9,295.8 748.6,296.5 746.4,297.2 744.3,297.9 742.3,298.6 740.4,299.3 738.6,300.0 736.9,300.7 735.3,301.4 733.9,302.1 732.5,302.8 728.8,305.1 726.1,307.3 724.0,309.6 722.2,312.0 720.3,314.6 718.0,317.4 716.1,319.5 714.1,321.6 712.0,323.9 709.9,326.2 707.7,328.7 705.6,331.2 703.4,333.8 701.3,336.4 699.3,339.2 697.4,342.1 695.5,345.0 694.0,347.5 692.6,350.1 691.2,352.7 689.8,355.4 688.5,358.1 687.2,361.0 685.9,363.8 684.7,366.8 683.5,369.8 682.3,372.8 681.1,375.9 680.0,379.0 678.9,382.2 677.9,385.4 676.8,388.7 675.8,392.0 675.0,394.7 674.3,397.3 673.6,400.1 672.9,402.9 672.3,405.7 671.7,408.6 671.1,411.5 670.5,414.5 669.9,417.5 669.4,420.5 668.9,423.5 668.4,426.6 667.9,429.7 667.4,432.8 666.9,435.9 666.4,439.0 666.2,440.1"/><path d="M1298.5,249.4 1741.1,307.6"/><path d="M1195.0,251.8 1192.0,251.9 1188.9,252.1 1185.9,252.2 1182.8,252.3 1179.8,252.5 1176.7,252.6 1173.7,252.7 1170.6,252.8 1167.5,253.0 1164.5,253.1 1161.4,253.2 1158.4,253.3 1155.3,253.4 1152.2,253.6 1149.2,253.7 1146.1,253.8 1143.0,253.9 1140.0,254.0 1136.9,254.1 1133.8,254.3 1130.8,254.4 1127.7,254.5 1124.6,254.6 1121.6,254.7 1118.5,254.9 1115.5,255.0 1112.4,255.1 1109.3,255.2 1106.3,255.4 1103.2,255.5 1100.2,255.6 1097.1,255.8 1094.1,255.9 1091.1,256.0 1088.0,256.2 1085.0,256.3 1082.0,256.5 1078.9,256.6 1075.9,256.8 1072.9,256.9 1069.9,257.1 1066.9,257.3 1063.9,257.4 1060.9,257.6 1057.9,257.8 1054.9,258.0 1051.9,258.2 1048.9,258.4 1045.9,258.6 1043.0,258.8 1040.0,259.0 1036.9,259.2 1033.7,259.5 1030.6,259.7 1027.5,259.9 1024.4,260.2 1021.2,260.4 1018.1,260.7 1015.0,260.9 1011.8,261.1 1008.7,261.4 1005.6,261.6 1002.4,261.9 999.3,262.2 996.2,262.4 993.1,262.7 990.0,263.0 986.8,263.2 983.7,263.5 980.6,263.8 977.5,264.1 974.4,264.4 971.4,264.6 968.3,264.9 965.2,265.2 962.1,265.5 959.1,265.8 956.0,266.2 953.0,266.5 949.9,266.8 946.9,267.1 943.9,267.4 940.9,267.8 937.9,268.1 934.9,268.5 931.9,268.8 928.9,269.2 926.0,269.5 923.1,269.9 920.1,270.3 917.2,270.6 914.3,271.0 911.4,271.4 908.5,271.8 905.7,272.2 902.8,272.6 900.0,273.0 896.7,273.5 893.4,273.9 890.1,274.4 886.7,274.8 883.3,275.3 879.9,275.7 876.4,276.1 873.0,276.6 869.6,277.0 866.1,277.4 862.7,277.9 859.2,278.3 855.8,278.8 852.4,279.2 849.0,279.7 845.7,280.2 842.4,280.7 839.1,281.2 835.8,281.7 832.7,282.2 829.5,282.8 826.5,283.4 823.4,284.0 820.5,284.6 817.6,285.3 814.8,285.9 812.1,286.6 809.5,287.4 807.0,288.1 804.5,288.9 802.2,289.8 800.0,290.7 797.9,291.6 795.9,292.5 794.0,293.5 790.8,295.5 787.9,297.7 785.5,299.9 783.3,302.3 781.3,304.7 779.5,307.2 777.7,309.7 775.9,312.3 774.0,314.8 772.0,317.4 770.0,319.7 767.9,322.0 765.9,324.4 763.8,326.7 761.8,329.1 759.8,331.5 757.8,334.0 755.9,336.6 754.2,339.3 752.5,342.1 751.0,345.0 749.8,347.5 748.7,350.1 747.6,352.8 746.6,355.6 745.6,358.5 744.6,361.5 743.7,364.5 742.9,367.5 742.2,370.6 741.5,373.7 740.9,376.8 740.4,379.9 740.0,382.9 739.7,386.0 739.5,389.0 739.4,392.0 739.4,395.0 739.6,398.1 739.9,401.2 740.3,404.3 740.8,407.5 741.4,410.7 742.1,413.8 742.9,417.0 743.7,420.1 744.6,423.1 745.5,426.1 746.4,429.1 747.4,432.0 748.4,434.8 749.3,437.4 750.3,440.0 751.4,443.1 752.5,446.0 753.5,448.8 754.6,451.5 755.8,454.1 757.1,456.7 758.6,459.2 760.4,461.7 762.5,464.2 765.0,466.7 766.6,468.1 768.3,469.6 770.1,471.0 772.0,472.5 774.0,473.9 776.1,475.4 778.3,476.8 780.5,478.2 782.9,479.7 785.4,481.1 787.9,482.5 790.5,483.9 793.2,485.3 795.9,486.7 798.7,488.1 801.6,489.4 804.5,490.8 807.5,492.1 810.6,493.4 813.7,494.7 816.8,495.9 820.0,497.2 823.2,498.4 826.5,499.6 829.8,500.7 833.1,501.9 836.4,503.0 839.8,504.0 843.2,505.0 846.6,506.0 850.0,507.0 852.4,507.6 854.7,508.3 857.2,508.8 859.6,509.4 862.1,510.0 864.6,510.5 867.1,511.0 869.6,511.5 872.2,512.0 874.8,512.5 877.4,513.0 880.0,513.4 882.7,513.8 885.4,514.2 888.1,514.6 890.8,515.0 893.5,515.4 896.3,515.7 899.1,516.1 901.9,516.4 904.8,516.7 907.6,517.0 910.5,517.3 913.4,517.6 916.3,517.9 919.3,518.2 922.2,518.4 925.2,518.7 928.2,518.9 931.2,519.1 934.2,519.3 937.3,519.6 940.4,519.8 943.4,520.0 946.5,520.2 949.7,520.4 952.8,520.6 956.0,520.7 959.1,520.9 962.3,521.1 965.5,521.3 968.7,521.4 972.0,521.6 975.2,521.8 978.5,521.9 981.8,522.1 985.1,522.3 988.4,522.4 991.7,522.6 995.0,522.7 998.4,522.9 1001.7,523.1 1005.1,523.2 1008.5,523.4 1011.9,523.6 1015.3,523.8 1018.7,523.9 1022.2,524.1 1025.6,524.3 1029.1,524.5 1032.5,524.7 1036.0,524.9 1039.5,525.1 1043.0,525.3 1046.5,525.6 1050.0,525.8 1052.5,526.0 1055.1,526.1 1057.6,526.3 1060.2,526.5 1062.8,526.6 1065.4,526.8 1068.0,527.0 1070.6,527.1 1073.3,527.3 1075.9,527.4 1078.6,527.6 1081.3,527.7 1084.0,527.9 1086.7,528.0 1089.4,528.2 1092.1,528.3 1094.9,528.5 1097.6,528.6 1100.4,528.8 1103.2,528.9 1105.9,529.1 1108.7,529.2 1111.6,529.3 1114.4,529.5 1117.2,529.6 1120.1,529.8 1122.9,529.9 1125.8,530.0 1128.7,530.2 1131.6,530.3 1134.4,530.4 1137.4,530.6 1140.3,530.7 1143.2,530.8 1146.1,530.9 1149.1,531.1 1152.0,531.2 1155.0,531.3 1158.0,531.4 1160.9,531.6 1163.9,531.7 1166.9,531.8 1169.9,531.9 1172.9,532.1 1175.9,532.2 1179.0,532.3 1182.0,532.4 1185.0,532.5 1188.1,532.7 1191.1,532.8 1194.2,532.9 1197.2,533.0 1200.3,533.1 1203.4,533.2 1206.4,533.3 1209.5,533.5 1212.6,533.6 1215.7,533.7 1218.8,533.8 1221.9,533.9 1225.0,534.0 1228.1,534.1 1231.2,534.2 1234.4,534.4 1237.5,534.5 1240.6,534.6 1243.7,534.7 1246.9,534.8 1250.0,534.9 1253.1,535.0 1256.3,535.1 1259.4,535.2 1262.6,535.3 1265.7,535.4 1268.9,535.5 1272.0,535.7 1275.2,535.8 1278.3,535.9 1281.5,536.0 1284.6,536.1 1287.8,536.2 1291.0,536.3 1294.1,536.4 1297.3,536.5 1300.4,536.6 1303.6,536.7 1306.7,536.8 1309.9,536.9 1313.1,537.0 1316.2,537.1 1319.4,537.2 1322.5,537.4 1325.7,537.5 1328.8,537.6 1332.0,537.7 1335.1,537.8 1338.3,537.9 1341.4,538.0 1344.6,538.1 1347.7,538.2 1350.8,538.3 1354.0,538.4 1357.1,538.5 1360.2,538.6 1363.4,538.8 1365.7,538.8"/><path d="M1220.7,255.9 1219.5,256.5 1216.7,257.9 1213.9,259.3 1211.1,260.6 1208.3,262.0 1205.5,263.4 1202.7,264.7 1199.9,266.1 1197.1,267.5 1194.3,268.8 1191.5,270.2 1188.7,271.6 1185.9,272.9 1183.1,274.3 1180.3,275.7 1177.5,277.0 1174.8,278.4 1172.0,279.8 1169.2,281.2 1166.5,282.6 1163.7,283.9 1161.0,285.3 1158.3,286.7 1155.6,288.1 1152.9,289.5 1150.2,290.9 1147.5,292.3 1144.8,293.8 1142.2,295.2 1139.6,296.6 1137.0,298.0 1134.4,299.5 1131.8,300.9 1129.3,302.4 1126.7,303.8 1124.2,305.3 1121.7,306.8 1119.3,308.3 1116.8,309.8 1114.4,311.3 1112.0,312.8 1109.6,314.3 1107.3,315.8 1105.0,317.4 1102.3,319.2 1099.6,321.0 1097.0,322.9 1094.4,324.8 1091.8,326.7 1089.3,328.6 1086.8,330.5 1084.4,332.4 1081.9,334.3 1079.5,336.3 1077.1,338.2 1074.8,340.2 1072.4,342.1 1070.1,344.1 1067.8,346.1 1065.5,348.0 1063.2,350.0 1061.0,352.0 1058.7,354.0 1056.5,356.0 1054.2,358.0 1052.0,360.0 1049.8,362.0 1047.6,364.0 1045.4,366.0 1043.1,368.0 1041.1,369.9"/><path d="M1195.1,252.1 905.9,305.4"/><path d="M1298.5,247.5 1301.0,247.7 1304.1,248.0 1307.1,248.3 1310.1,248.6 1313.2,248.9 1316.2,249.2 1319.2,249.5 1322.3,249.8 1325.3,250.0 1328.4,250.3 1331.4,250.6 1334.4,250.9 1337.5,251.2 1340.5,251.5 1343.6,251.8 1346.6,252.1 1349.7,252.4 1352.7,252.6 1355.7,252.9 1358.8,253.2 1361.8,253.5 1364.9,253.8 1367.9,254.1 1371.0,254.4 1374.0,254.7 1377.1,254.9 1380.1,255.2 1383.1,255.5 1386.2,255.8 1389.2,256.1 1392.3,256.4 1395.3,256.7 1398.4,257.0 1401.4,257.3 1404.4,257.5 1407.5,257.8 1410.5,258.1 1413.5,258.4 1416.6,258.7 1419.6,259.0 1422.7,259.3 1425.7,259.6 1428.7,259.8 1431.7,260.1 1434.8,260.4 1437.8,260.7 1440.8,261.0 1443.9,261.3 1446.9,261.6 1449.9,261.9 1452.9,262.1 1455.9,262.4 1458.9,262.7 1462.0,263.0 1465.0,263.3 1468.0,263.6 1471.0,263.8 1474.0,264.1 1477.0,264.4 1480.0,264.7 1483.0,265.0 1486.0,265.3 1489.0,265.5 1492.0,265.8 1494.9,266.1 1497.9,266.4 1500.9,266.7 1503.9,267.0 1506.9,267.2 1509.8,267.5 1512.8,267.8 1515.8,268.1 1518.7,268.4 1521.7,268.6 1524.6,268.9 1527.6,269.2 1530.5,269.5 1533.5,269.7 1536.4,270.0 1539.3,270.3 1542.3,270.6 1545.2,270.9 1548.1,271.1 1551.0,271.4 1554.0,271.7 1556.9,272.0 1559.8,272.2 1562.7,272.5 1565.6,272.8 1568.5,273.0 1571.4,273.3 1574.3,273.6 1577.1,273.9 1580.0,274.1 1582.9,274.4 1585.7,274.7 1588.6,274.9 1591.5,275.2 1594.3,275.5 1597.2,275.7 1600.0,276.0 1603.2,276.3 1606.4,276.6 1609.6,276.9 1612.9,277.1 1616.2,277.4 1619.5,277.6 1622.9,277.9 1626.3,278.1 1629.7,278.4 1633.2,278.6 1636.7,278.9 1640.2,279.1 1643.7,279.3 1647.3,279.5 1650.9,279.7 1654.5,279.9 1658.1,280.2 1661.7,280.4 1665.3,280.6 1669.0,280.8 1672.7,280.9 1676.4,281.1 1680.1,281.3 1683.8,281.5 1687.5,281.7 1691.2,281.9 1694.9,282.1 1698.6,282.2 1702.4,282.4 1706.1,282.6 1709.8,282.8 1713.6,282.9 1717.3,283.1 1721.0,283.3 1724.7,283.5 1728.4,283.6 1732.1,283.8 1735.8,284.0 1739.5,284.2 1743.1,284.4 1746.8,284.5 1750.4,284.7 1754.0,284.9 1757.6,285.1 1761.2,285.3 1764.8,285.5 1768.3,285.7 1771.8,285.8 1775.3,286.0 1778.8,286.2 1782.2,286.5 1785.6,286.7 1789.0,286.9 1792.3,287.1 1795.7,287.3 1798.9,287.5 1802.2,287.8 1805.4,288.0 1808.6,288.2 1811.7,288.5 1814.8,288.7 1817.8,289.0 1820.8,289.3 1823.8,289.5 1826.7,289.8 1829.6,290.1 1832.4,290.4 1835.2,290.7 1837.9,291.0 1840.6,291.3 1843.2,291.6 1845.7,291.9 1848.2,292.2 1850.7,292.6 1853.0,292.9 1855.4,293.3 1857.6,293.7 1859.8,294.0 1861.9,294.4 1864.0,294.8 1866.0,295.2 1867.9,295.6 1869.8,296.1 1871.6,296.5 1873.3,296.9 1874.9,297.4 1876.5,297.9 1878.0,298.3 1879.4,298.8 1880.7,299.3 1882.0,299.8 1883.2,300.4 1884.3,300.9 1885.3,301.5 1886.2,302.0 1887.0,302.6 1889.8,305.1 1891.3,307.7 1892.1,310.4 1892.5,313.6 1893.0,317.4 1893.3,319.3 1893.6,321.5 1893.8,323.9 1894.1,326.4 1894.2,329.1 1894.4,332.0 1894.5,334.9 1894.6,338.0 1894.6,341.2 1894.6,344.5 1894.5,347.8 1894.4,351.2 1894.3,354.6 1894.1,358.1 1893.9,361.6 1893.7,365.2 1893.4,368.7 1893.0,372.2 1892.6,375.6 1892.2,379.1 1891.7,382.4 1891.2,385.7 1890.6,388.9 1890.0,392.0 1889.3,394.9 1888.6,397.9 1887.8,400.8 1886.9,403.7 1886.0,406.5 1885.0,409.4 1883.9,412.3 1882.9,415.2 1881.7,418.1 1880.5,420.9 1879.3,423.8 1878.1,426.6 1876.8,429.5 1875.6,432.4 1874.3,435.2 1873.0,438.1 1871.6,440.9 1871.5,441.2"/><path d="M1265.3,255.9 1266.9,257.1 1269.5,258.8 1272.1,260.6 1274.6,262.4 1277.2,264.2 1279.8,266.0 1282.4,267.8 1284.9,269.6 1287.5,271.4 1290.1,273.2 1292.6,274.9 1295.2,276.7 1297.8,278.5 1300.3,280.3 1302.9,282.1 1305.4,283.9 1307.9,285.7 1310.4,287.5 1312.9,289.4 1315.4,291.2 1317.9,293.0 1320.3,294.8 1322.7,296.7 1325.1,298.5 1327.5,300.3 1329.9,302.2 1332.3,304.1 1334.6,305.9 1336.9,307.8 1339.2,309.7 1341.4,311.6 1343.6,313.5 1345.8,315.4 1348.0,317.4 1350.4,319.5 1352.7,321.7 1355.0,323.9 1357.3,326.1 1359.5,328.3 1361.8,330.5 1364.0,332.7 1366.1,334.9 1368.3,337.2 1370.4,339.4 1372.5,341.7 1374.5,344.0 1376.6,346.2 1378.6,348.5 1380.7,350.8 1382.7,353.1 1384.7,355.3 1386.7,357.6 1388.7,359.9 1390.6,362.2 1392.6,364.5 1394.6,366.8 1396.5,369.1 1398.5,371.4 1400.5,373.7 1402.5,376.0 1404.4,378.3 1406.4,380.6 1408.4,382.9 1410.4,385.2 1412.4,387.5 1414.5,389.7 1416.5,392.0 1418.5,394.3 1420.6,396.5 1422.6,398.8 1424.6,401.0 1426.6,403.3 1428.7,405.6 1430.7,407.8 1432.7,410.1 1434.7,412.3 1436.7,414.6 1438.7,416.9 1440.7,419.1 1442.7,421.4 1444.7,423.6 1446.7,425.9 1448.8,428.2 1450.8,430.4 1452.8,432.7 1454.8,434.9 1456.8,437.2 1458.8,439.5 1460.8,441.7 1462.3,443.5"/><path d="M1264.0,255.9 1264.2,256.1 1266.9,258.0 1269.6,259.9 1272.3,261.8 1275.0,263.7 1277.7,265.5 1280.4,267.4 1283.1,269.3 1285.9,271.2 1288.6,273.1 1291.3,275.0 1293.9,276.8 1296.6,278.7 1299.2,280.6 1301.7,282.6 1304.2,284.5 1306.7,286.4 1309.1,288.4 1311.5,290.3 1313.7,292.3 1316.0,294.3 1318.1,296.3 1320.1,298.3 1322.1,300.3 1324.0,302.4 1325.7,304.4 1327.4,306.5 1329.0,308.6 1330.4,310.8 1331.7,312.9 1332.9,315.1 1334.0,317.4 1335.2,320.2 1336.2,323.1 1337.0,326.1 1337.7,329.1 1338.2,332.1 1338.5,335.1 1338.8,338.2 1338.9,341.3 1338.9,344.5 1338.8,347.6 1338.6,350.8 1338.3,353.9 1338.0,357.1 1337.6,360.3 1337.1,363.5 1336.6,366.7 1336.1,369.9 1335.6,373.1 1335.0,376.3 1334.5,379.5 1334.0,382.6 1333.5,385.8 1333.0,388.9 1332.6,392.0 1332.2,395.0 1331.7,398.0 1331.2,401.0 1330.7,404.0 1330.1,407.0 1329.5,410.0 1328.8,413.0 1328.1,416.0 1327.4,419.0 1326.7,421.9 1325.9,424.9 1325.1,427.9 1324.4,430.9 1323.6,433.9 1322.7,436.8 1321.9,439.8 1321.7,440.5"/><path d="M1198.6,255.9 1035.4,300.9"/><path d="M1754.3,325.2 1752.0,325.5 1749.0,325.9 1746.1,326.2 1743.1,326.6 1740.1,327.0 1737.1,327.4 1734.1,327.8 1731.1,328.2 1728.2,328.6 1725.2,329.0 1722.2,329.4 1719.2,329.8 1716.2,330.1 1713.3,330.5 1710.3,330.9 1707.3,331.3 1704.3,331.7 1701.3,332.1 1698.4,332.5 1695.4,332.9 1692.4,333.3 1689.4,333.7 1686.5,334.0 1683.5,334.4 1680.5,334.8 1677.5,335.2 1674.5,335.6 1671.6,336.0 1668.6,336.4 1665.6,336.8 1662.6,337.2 1659.7,337.6 1656.7,337.9 1653.7,338.3 1650.7,338.7 1647.7,339.1 1644.8,339.5 1641.8,339.9 1638.8,340.3 1635.8,340.7 1632.9,341.1 1629.9,341.4 1626.9,341.8 1623.9,342.2 1620.9,342.6 1618.0,343.0 1615.0,343.4 1612.0,343.8 1609.0,344.2 1606.1,344.6 1603.1,345.0 1600.1,345.3 1597.1,345.7 1594.1,346.1 1591.2,346.5 1588.2,346.9 1585.2,347.3 1582.2,347.7 1579.3,348.1 1576.3,348.5 1573.3,348.9 1570.3,349.2 1567.3,349.6 1564.4,350.0 1561.4,350.4 1558.4,350.8 1555.4,351.2 1552.4,351.6 1549.5,352.0 1546.5,352.4 1543.5,352.8 1540.5,353.1 1537.5,353.5 1534.6,353.9 1531.6,354.3 1528.6,354.7 1525.6,355.1 1522.6,355.5 1519.7,355.9 1516.7,356.3 1513.7,356.7 1510.7,357.0 1507.7,357.4 1504.8,357.8 1501.8,358.2 1498.8,358.6 1495.8,359.0 1492.8,359.4 1489.8,359.8 1486.9,360.2 1483.9,360.5 1480.9,360.9 1477.9,361.3 1474.9,361.7 1471.9,362.1 1469.0,362.5 1466.0,362.9 1463.0,363.3 1460.0,363.7 1457.0,364.1 1454.0,364.4 1451.0,364.8 1448.1,365.2 1445.1,365.6 1442.1,366.0 1439.1,366.4 1436.1,366.8 1433.1,367.2 1430.1,367.6 1427.1,368.0 1424.1,368.3 1421.2,368.7 1418.2,369.1 1415.2,369.5 1412.2,369.9 1409.2,370.3 1406.2,370.7 1403.2,371.1 1400.2,371.5 1397.2,371.9 1394.2,372.3 1391.2,372.6 1388.2,373.0 1385.3,373.4 1382.3,373.8 1379.3,374.2 1376.3,374.6 1373.3,375.0 1370.3,375.4 1367.3,375.8 1364.3,376.2 1361.3,376.5 1358.3,376.9 1355.3,377.3 1352.3,377.7 1349.3,378.1 1346.3,378.5 1343.3,378.9 1340.3,379.3 1337.3,379.7 1334.3,380.1 1331.3,380.4 1328.3,380.8 1325.3,381.2 1322.3,381.6 1319.3,382.0 1316.3,382.4 1313.3,382.8 1310.2,383.2 1307.2,383.6 1304.2,384.0 1301.2,384.4 1298.2,384.7 1295.2,385.1 1292.2,385.5 1289.2,385.9 1286.2,386.3 1283.2,386.7 1280.2,387.1 1277.1,387.5 1274.1,387.9 1271.1,388.3 1268.1,388.7 1265.1,389.0 1262.1,389.4 1259.1,389.8 1256.0,390.2 1253.0,390.6 1250.0,391.0 1247.0,391.4 1244.1,391.8 1241.1,392.1 1238.2,392.5 1235.2,392.9 1232.3,393.3 1229.3,393.7 1226.3,394.1 1223.4,394.4 1220.4,394.8 1217.5,395.2 1214.5,395.6 1211.5,396.0 1208.6,396.4 1205.6,396.7 1202.6,397.1 1199.7,397.5 1196.7,397.9 1193.7,398.3 1190.8,398.7 1187.8,399.0 1184.8,399.4 1181.9,399.8 1178.9,400.2 1175.9,400.6 1173.0,401.0 1170.0,401.3 1167.0,401.7 1164.1,402.1 1161.1,402.5 1158.1,402.9 1155.1,403.3 1152.2,403.6 1149.2,404.0 1146.2,404.4 1143.2,404.8 1140.3,405.2 1137.3,405.6 1134.3,405.9 1131.3,406.3 1128.4,406.7 1125.4,407.1 1122.4,407.5 1119.4,407.9 1116.5,408.2 1113.5,408.6 1110.5,409.0 1107.5,409.4 1104.5,409.8 1101.6,410.2 1098.6,410.5 1095.6,410.9 1092.6,411.3 1089.6,411.7 1086.7,412.1 1083.7,412.5 1080.7,412.9 1077.7,413.2 1074.7,413.6 1071.7,414.0 1068.8,414.4 1065.8,414.8 1062.8,415.2 1059.8,415.5 1056.8,415.9 1053.8,416.3 1050.8,416.7 1047.9,417.1 1044.9,417.5 1041.9,417.8 1038.9,418.2 1035.9,418.6 1032.9,419.0 1029.9,419.4 1026.9,419.8 1024.0,420.1 1021.0,420.5 1018.0,420.9 1015.0,421.3 1012.0,421.7 1009.0,422.1 1006.0,422.4 1003.0,422.8 1000.0,423.2 997.0,423.6 994.1,424.0 991.1,424.4 988.1,424.8 985.1,425.1 982.1,425.5 979.1,425.9 976.1,426.3 973.1,426.7 970.1,427.1 967.1,427.4 964.1,427.8 961.1,428.2 958.2,428.6 955.2,429.0 952.2,429.4 949.2,429.7 946.2,430.1 943.2,430.5 940.2,430.9 937.2,431.3 934.2,431.7 931.2,432.1 928.2,432.4 925.2,432.8 922.2,433.2 919.2,433.6 916.2,434.0 913.2,434.4 910.2,434.7 907.2,435.1 904.2,435.5 901.3,435.9 898.3,436.3 895.3,436.7 892.3,437.0 889.3,437.4 886.3,437.8 883.3,438.2 880.3,438.6 877.3,439.0 874.3,439.3 871.3,439.7 868.3,440.1 865.3,440.5 862.3,440.9 859.3,441.3 856.3,441.7 853.3,442.0 850.3,442.4 847.3,442.8 844.3,443.2 841.3,443.6 838.3,444.0 835.3,444.3 832.3,444.7 829.4,445.1 826.4,445.5 823.4,445.9 820.4,446.3 817.4,446.6 814.4,447.0 811.4,447.4 808.4,447.8 805.4,448.2 802.4,448.6 799.4,449.0 796.4,449.3 793.4,449.7 790.4,450.1 787.4,450.5 784.4,450.9 781.4,451.3 778.4,451.6 775.4,452.0 772.4,452.4 769.5,452.8 766.5,453.2 763.5,453.6 760.5,453.9 757.5,454.3 754.5,454.7 751.5,455.1 748.5,455.5 745.5,455.9 742.5,456.3 739.5,456.6 736.5,457.0 733.5,457.4 730.5,457.8 729.0,458.0"/><path d="M1867.2,330.6 2045.8,375.9"/><path d="M1819.1,330.6 1819.4,331.6 1820.4,334.5 1821.3,337.4 1822.3,340.3 1823.2,343.1 1824.2,346.0 1825.1,348.9 1826.1,351.8 1827.0,354.6 1828.0,357.5 1828.9,360.4 1829.9,363.2 1830.8,366.1 1831.7,369.0 1832.7,371.9 1833.6,374.7 1834.5,377.6 1835.4,380.5 1836.3,383.4 1837.2,386.3 1838.1,389.1 1839.0,392.0 1839.9,395.0 1840.8,398.0 1841.7,401.0 1842.6,403.9 1843.4,406.9 1844.3,409.9 1845.2,412.9 1846.0,415.9 1846.9,418.9 1847.7,421.8 1848.6,424.8 1849.4,427.8 1850.2,430.8 1851.1,433.8 1851.9,436.8 1852.7,439.7 1853.0,440.5"/><path d="M1813.6,330.6 1813.5,332.6 1813.5,335.8 1813.6,338.9 1813.7,342.1 1813.7,345.2 1813.8,348.4 1813.8,351.5 1813.8,354.7 1813.8,357.8 1813.6,360.9 1813.3,363.9 1813.0,367.0 1812.5,370.0 1811.8,372.9 1811.0,375.8 1810.0,378.7 1808.8,381.5 1807.3,384.2 1805.6,386.9 1803.7,389.5 1801.5,392.0 1800.3,393.2 1799.1,394.4 1797.8,395.5 1796.5,396.6 1795.1,397.7 1793.6,398.8 1792.1,399.9 1790.5,400.9 1788.8,402.0 1787.1,403.0 1785.4,404.0 1783.6,405.0 1781.7,406.0 1779.7,406.9 1777.8,407.9 1775.7,408.8 1773.6,409.7 1771.5,410.6 1769.3,411.5 1767.1,412.4 1764.8,413.2 1762.5,414.1 1760.1,414.9 1757.7,415.7 1755.2,416.5 1752.7,417.3 1750.1,418.1 1747.5,418.9 1744.9,419.7 1742.2,420.4 1739.5,421.2 1736.7,421.9 1734.0,422.6 1731.1,423.3 1728.3,424.0 1725.4,424.7 1722.4,425.4 1719.5,426.1 1716.5,426.7 1713.5,427.4 1710.4,428.0 1707.3,428.7 1704.2,429.3 1701.1,429.9 1697.9,430.6 1694.7,431.2 1691.5,431.8 1688.3,432.4 1685.0,433.0 1681.7,433.6 1678.4,434.1 1675.1,434.7 1671.8,435.3 1668.4,435.8 1665.0,436.4 1661.6,437.0 1658.2,437.5 1654.8,438.1 1651.4,438.6 1647.9,439.1 1644.5,439.7 1641.0,440.2 1637.5,440.7 1634.0,441.3 1630.6,441.8 1627.1,442.3 1623.5,442.8 1620.0,443.4 1616.5,443.9 1613.0,444.4 1609.5,444.9 1605.9,445.4 1602.4,446.0 1598.9,446.5 1595.4,447.0 1591.9,447.5 1588.3,448.0 1584.8,448.6 1581.3,449.1 1577.8,449.6 1574.3,450.1 1570.8,450.7 1567.3,451.2 1563.9,451.7 1560.4,452.3 1557.0,452.8 1553.5,453.3 1552.1,453.6"/><path d="M1797.6,330.6 1746.1,370.7"/><path d="M2107.4,405.2 2102.6,440.1"/><path d="M2087.9,405.2 2021.6,446.6"/><path d="M2061.0,475.0 2058.0,475.3 2055.1,475.7 2052.1,476.0 2049.2,476.4 2046.2,476.7 2043.3,477.0 2040.4,477.4 2037.5,477.7 2034.6,478.1 2031.7,478.4 2028.8,478.8 2026.0,479.1 2023.1,479.5 2020.2,479.8 2017.4,480.2 2014.5,480.5 2011.6,480.9 2008.8,481.2 2005.9,481.6 2003.0,482.0 2000.2,482.3 1997.3,482.7 1994.5,483.0 1991.6,483.4 1988.7,483.7 1985.8,484.1 1982.9,484.4 1980.0,484.8 1977.1,485.1 1974.2,485.5 1971.3,485.8 1968.4,486.1 1965.4,486.5 1962.5,486.8 1959.5,487.2 1956.5,487.5 1953.6,487.8 1950.6,488.2 1947.5,488.5 1944.5,488.8 1941.5,489.1 1938.4,489.4 1935.3,489.8 1932.2,490.1 1929.1,490.4 1925.9,490.7 1922.8,491.0 1919.6,491.3 1916.4,491.6 1913.2,491.9 1909.9,492.2 1906.6,492.4 1903.3,492.7 1900.0,493.0 1897.3,493.2 1894.7,493.4 1892.0,493.6 1889.3,493.9 1886.5,494.1 1883.8,494.3 1881.1,494.5 1878.3,494.7 1875.6,494.9 1872.8,495.1 1870.0,495.3 1867.2,495.5 1864.4,495.7 1861.6,495.9 1858.8,496.1 1855.9,496.3 1853.1,496.5 1850.2,496.7 1847.3,496.9 1844.5,497.0 1841.6,497.2 1838.7,497.4 1835.8,497.6 1832.8,497.8 1829.9,498.0 1827.0,498.1 1824.0,498.3 1821.1,498.5 1818.1,498.7 1815.2,498.9 1812.2,499.0 1809.2,499.2 1806.2,499.4 1803.2,499.5 1800.2,499.7 1797.2,499.9 1794.1,500.0 1791.1,500.2 1788.1,500.4 1785.0,500.5 1782.0,500.7 1778.9,500.8 1775.9,501.0 1772.8,501.1 1769.7,501.3 1766.6,501.5 1763.5,501.6 1760.4,501.7 1757.3,501.9 1754.2,502.0 1751.1,502.2 1748.0,502.3 1744.9,502.5 1741.7,502.6 1738.6,502.7 1735.5,502.9 1732.3,503.0 1729.2,503.2 1726.0,503.3 1722.9,503.4 1719.7,503.5 1716.6,503.7 1713.4,503.8 1710.2,503.9 1707.1,504.0 1703.9,504.2 1700.7,504.3 1697.5,504.4 1694.4,504.5 1691.2,504.6 1688.0,504.8 1684.8,504.9 1681.6,505.0 1678.4,505.1 1675.2,505.2 1672.0,505.3 1668.8,505.4 1665.6,505.5 1662.4,505.6 1659.2,505.7 1656.0,505.8 1652.8,505.9 1649.6,506.0 1646.4,506.1 1643.2,506.2 1640.0,506.3 1637.2,506.4 1634.3,506.5 1631.5,506.5 1628.6,506.6 1625.8,506.7 1622.9,506.7 1620.0,506.8 1617.1,506.9 1614.2,506.9 1611.3,507.0 1608.4,507.0 1605.5,507.1 1602.6,507.1 1599.7,507.2 1596.7,507.2 1593.8,507.3 1590.8,507.3 1587.8,507.4 1584.9,507.4 1581.9,507.5 1578.9,507.5 1575.9,507.5 1572.9,507.6 1569.9,507.6 1566.9,507.6 1563.9,507.6 1560.9,507.7 1557.9,507.7 1554.9,507.7 1551.9,507.7 1548.8,507.8 1545.8,507.8 1542.7,507.8 1539.7,507.8 1536.6,507.8 1533.6,507.8 1530.5,507.9 1527.5,507.9 1524.4,507.9 1521.4,507.9 1518.3,507.9 1515.2,507.9 1512.2,507.9 1509.1,507.9 1506.0,507.9 1502.9,507.9 1499.8,507.9 1496.8,507.9 1493.7,507.9 1490.6,507.9 1487.5,507.9 1484.4,507.9 1481.3,507.9 1478.3,507.9 1475.2,507.9 1472.1,507.9 1469.0,507.9 1465.9,507.9 1462.8,507.9 1459.7,507.9 1456.7,507.9 1453.6,507.9 1450.5,507.9 1447.4,507.9 1444.3,507.9 1441.2,507.9 1438.2,507.9 1435.1,507.9 1432.0,507.9 1429.0,507.9 1425.9,507.9 1422.8,507.9 1419.8,507.9 1416.7,507.9 1413.6,507.9 1410.6,507.9 1407.5,507.9 1404.5,507.9 1401.5,507.9 1398.4,507.9 1395.4,507.9 1392.4,507.9 1389.3,507.9 1386.3,507.9 1383.3,507.9 1380.3,507.9 1377.3,507.9 1374.3,507.9 1371.3,507.9 1368.3,507.9 1365.3,507.9 1362.3,507.9 1359.4,507.9 1356.4,508.0 1353.4,508.0 1350.5,508.0 1347.6,508.0 1344.6,508.0 1341.7,508.0 1338.8,508.0 1335.9,508.1 1332.9,508.1 1330.0,508.1 1327.2,508.1 1324.3,508.2 1321.4,508.2 1318.5,508.2 1315.7,508.2 1312.8,508.3 1310.0,508.3 1306.8,508.3 1303.7,508.4 1300.5,508.4 1297.3,508.4 1294.1,508.5 1290.9,508.5 1287.7,508.5 1284.5,508.5 1281.3,508.6 1278.1,508.6 1274.9,508.6 1271.7,508.6 1268.5,508.6 1265.3,508.7 1262.1,508.7 1258.9,508.7 1255.7,508.7 1252.5,508.7 1249.3,508.7 1246.0,508.7 1242.8,508.7 1239.6,508.8 1236.4,508.8 1233.2,508.8 1230.0,508.8 1226.8,508.8 1223.6,508.8 1220.4,508.8 1217.3,508.8 1214.1,508.8 1210.9,508.9 1207.7,508.9 1204.5,508.9 1201.4,508.9 1198.2,508.9 1195.1,508.9 1191.9,508.9 1188.8,508.9 1185.6,509.0 1182.5,509.0 1179.4,509.0 1176.3,509.0 1173.1,509.1 1170.0,509.1 1166.9,509.1 1163.9,509.1 1160.8,509.2 1157.7,509.2 1154.7,509.2 1151.6,509.3 1148.6,509.3 1145.6,509.3 1142.5,509.4 1139.5,509.4 1136.5,509.5 1133.6,509.5 1130.6,509.6 1127.6,509.6 1124.7,509.7 1121.7,509.7 1118.8,509.8 1115.9,509.9 1113.0,510.0 1110.1,510.0 1107.3,510.1 1104.4,510.2 1101.6,510.3 1098.8,510.4 1096.0,510.4 1093.2,510.5 1090.4,510.6 1087.6,510.7 1084.9,510.8 1082.2,511.0 1079.5,511.1 1076.8,511.2 1074.1,511.3 1071.5,511.4 1068.8,511.6 1066.2,511.7 1063.6,511.9 1061.0,512.0 1058.5,512.2 1055.9,512.3 1053.4,512.5 1050.9,512.6 1048.5,512.8 1046.0,513.0 1042.5,513.3 1039.0,513.5 1035.6,513.8 1032.2,514.1 1028.9,514.5 1025.6,514.8 1022.4,515.1 1019.2,515.5 1016.0,515.8 1012.9,516.2 1009.8,516.5 1006.8,516.9 1003.7,517.3 1000.7,517.7 997.8,518.1 994.8,518.5 991.9,518.9 989.0,519.3 986.1,519.7 983.2,520.1 980.4,520.5 977.5,521.0 974.7,521.4 971.9,521.8 969.1,522.2 966.3,522.7 963.5,523.1 960.7,523.5 957.9,524.0 955.1,524.4 952.3,524.8 949.4,525.3 946.6,525.7 943.8,526.1 941.0,526.5 938.1,527.0 935.2,527.4 934.5,527.5"/><path d="M2107.1,479.9 2108.4,482.1 2109.9,484.7 2111.5,487.3 2113.1,489.9 2114.6,492.5 2116.2,495.0 2117.7,497.6 2119.3,500.2 2120.9,502.8 2122.4,505.4 2124.0,508.0 2125.6,510.5 2127.1,513.1 2128.7,515.7 2130.3,518.3 2131.9,520.9 2133.5,523.4 2135.1,526.0 2136.7,528.6 2138.4,531.1 2140.0,533.7 2141.7,536.3 2143.3,538.8 2145.0,541.4 2146.7,543.9 2148.3,546.4 2150.0,548.9 2151.7,551.4 2153.4,553.9 2155.1,556.4 2156.8,558.9 2158.6,561.4 2160.3,563.9 2162.1,566.3 2163.8,568.8 2165.6,571.3 2167.3,573.8 2169.1,576.3 2170.9,578.8 2172.6,581.2 2174.4,583.7 2176.2,586.2 2178.0,588.7 2179.7,591.2 2180.3,591.9"/><path d="M1482.7,545.7 1485.6,545.9 1488.7,546.2 1491.8,546.5 1494.8,546.7 1497.9,547.0 1501.0,547.2 1504.1,547.5 1507.2,547.7 1510.3,548.0 1513.4,548.2 1516.5,548.5 1519.6,548.8 1522.7,549.0 1525.8,549.3 1528.9,549.5 1532.0,549.8 1535.1,550.0 1538.2,550.3 1541.3,550.6 1544.4,550.8 1547.5,551.1 1550.6,551.3 1553.8,551.6 1556.9,551.8 1560.0,552.1 1563.1,552.4 1566.2,552.6 1569.3,552.9 1572.5,553.1 1575.6,553.4 1578.7,553.6 1581.8,553.9 1585.0,554.1 1588.1,554.4 1591.2,554.7 1594.3,554.9 1597.4,555.2 1600.6,555.4 1603.7,555.7 1606.8,555.9 1609.9,556.2 1613.0,556.4 1616.2,556.7 1619.3,557.0 1622.4,557.2 1625.5,557.5 1628.6,557.7 1631.7,558.0 1634.9,558.2 1638.0,558.5 1641.1,558.8 1644.2,559.0 1647.3,559.3 1650.4,559.5 1653.5,559.8 1656.6,560.0 1659.7,560.3 1662.8,560.5 1665.9,560.8 1669.0,561.1 1672.1,561.3 1675.2,561.6 1678.3,561.8 1681.4,562.1 1684.5,562.3 1687.5,562.6 1690.6,562.9 1693.7,563.1 1696.8,563.4 1699.9,563.6 1702.9,563.9 1706.0,564.1 1709.0,564.4 1712.1,564.7 1715.2,564.9 1718.2,565.2 1721.3,565.4 1724.3,565.7 1727.4,566.0 1730.4,566.2 1733.4,566.5 1736.5,566.7 1739.5,567.0 1742.5,567.2 1745.5,567.5 1748.5,567.8 1751.5,568.0 1754.5,568.3 1757.5,568.5 1760.5,568.8 1763.5,569.1 1766.5,569.3 1769.5,569.6 1772.5,569.8 1775.5,570.1 1778.4,570.4 1781.4,570.6 1784.3,570.9 1787.3,571.1 1790.2,571.4 1793.2,571.7 1796.1,571.9 1799.0,572.2 1802.0,572.4 1804.9,572.7 1807.8,573.0 1810.7,573.2 1813.6,573.5 1816.5,573.8 1819.4,574.0 1822.3,574.3 1825.1,574.5 1828.0,574.8 1830.9,575.1 1833.7,575.3 1836.6,575.6 1839.4,575.9 1842.2,576.1 1845.1,576.4 1847.9,576.6 1850.7,576.9 1853.5,577.2 1856.3,577.4 1859.1,577.7 1861.9,578.0 1864.7,578.2 1867.4,578.5 1870.2,578.8 1872.9,579.0 1875.7,579.3 1878.4,579.6 1881.1,579.8 1883.9,580.1 1886.6,580.4 1889.3,580.6 1892.0,580.9 1894.7,581.2 1897.3,581.4 1900.0,581.7 1903.3,582.0 1906.7,582.4 1910.0,582.7 1913.3,583.1 1916.6,583.4 1919.8,583.7 1923.1,584.1 1926.4,584.4 1929.6,584.7 1932.8,585.1 1936.0,585.4 1939.2,585.8 1942.4,586.1 1945.6,586.5 1948.8,586.8 1951.9,587.1 1955.1,587.5 1958.2,587.8 1961.3,588.2 1964.5,588.5 1967.6,588.8 1970.7,589.2 1973.7,589.5 1976.8,589.9 1979.9,590.2 1983.0,590.6 1986.0,590.9 1989.1,591.3 1992.1,591.6 1995.1,591.9 1998.2,592.3 2001.2,592.6 2004.2,593.0 2007.2,593.3 2010.2,593.7 2013.2,594.0 2016.1,594.4 2019.1,594.7 2022.1,595.1 2025.0,595.4 2028.0,595.8 2031.0,596.1 2033.9,596.5 2036.8,596.8 2039.8,597.2 2042.7,597.5 2045.6,597.8 2048.6,598.2 2051.5,598.5 2054.4,598.9 2057.3,599.2 2060.2,599.6 2063.1,599.9 2066.1,600.3 2069.0,600.6 2071.9,601.0 2074.8,601.3 2077.7,601.7 2080.5,602.0 2083.4,602.4 2086.3,602.7 2089.2,603.1 2092.1,603.4 2095.0,603.8 2097.9,604.1 2100.8,604.5 2103.7,604.8 2106.6,605.2 2109.5,605.5 2112.3,605.9 2115.2,606.2 2118.1,606.6 2121.0,606.9 2122.4,607.1"/><path d="M972.2,401.2 728.8,452.5"/><path d="M1044.3,405.2 1135.2,448.0"/><path d="M987.9,405.2 897.4,448.0"/><path d="M1017.7,405.2 1022.1,440.1"/><path d="M2414.3,330.6 2414.7,332.2 2415.4,335.2 2416.1,338.3 2416.6,341.6 2417.0,345.0 2417.2,347.7 2417.5,350.6 2417.7,353.5 2417.9,356.4 2418.0,359.5 2418.1,362.5 2418.2,365.7 2418.2,368.8 2418.0,372.1 2417.8,375.3 2417.5,378.6 2417.1,381.9 2416.5,385.3 2415.8,388.6 2415.0,392.0 2414.3,394.5 2413.4,396.9 2412.5,399.4 2411.5,402.0 2410.3,404.5 2409.1,407.1 2407.9,409.7 2406.5,412.3 2405.1,415.0 2403.6,417.7 2402.1,420.3 2400.5,423.0 2398.9,425.7 2397.3,428.4 2395.6,431.2 2393.9,433.9 2392.3,436.6 2390.6,439.4 2388.9,442.1 2387.2,444.9 2385.5,447.6 2383.9,450.4 2382.3,453.1 2380.8,455.8 2379.2,458.6 2377.8,461.3 2376.3,464.0 2375.0,466.7 2373.7,469.4 2372.5,472.2 2371.4,475.0 2370.3,477.8 2369.3,480.7 2368.4,483.5 2367.4,486.4 2366.5,489.3 2365.7,492.2 2364.8,495.0 2363.9,497.9 2363.1,500.8 2362.2,503.6 2361.2,506.5 2360.3,509.3 2359.3,512.2 2358.2,515.0 2357.0,517.8 2355.8,520.5 2354.5,523.3 2353.1,526.0 2351.6,528.6 2349.9,531.3 2348.2,533.9 2346.3,536.4 2344.2,538.9 2342.0,541.4 2340.3,543.1 2338.6,544.7 2336.8,546.4 2334.9,548.0 2333.0,549.6 2331.0,551.2 2328.9,552.8 2326.7,554.4 2324.5,555.9 2322.3,557.4 2320.0,558.9 2317.6,560.4 2315.2,561.8 2312.7,563.3 2310.1,564.7 2307.6,566.1 2305.0,567.5 2302.3,568.9 2299.6,570.3 2296.9,571.6 2294.1,573.0 2291.3,574.3 2288.5,575.7 2285.6,577.0 2282.7,578.3 2279.8,579.6 2276.9,580.9 2273.9,582.2 2270.9,583.5 2268.0,584.8 2265.0,586.1 2262.0,587.3 2258.9,588.6 2255.9,589.9 2252.9,591.2 2249.8,592.4 2246.8,593.7 2243.8,595.0 2240.8,596.2 2237.7,597.5 2237.1,597.8"/><path d="M2423.4,330.6 2423.7,330.9 2425.8,333.2 2428.0,335.5 2430.1,337.8 2432.2,340.1 2434.2,342.5 2436.2,344.9 2438.1,347.4 2440.0,350.0 2441.8,352.5 2443.6,355.1 2445.5,357.6 2447.3,360.2 2449.1,362.8 2450.9,365.5 2452.6,368.2 2454.3,370.9 2455.9,373.7 2457.4,376.6 2458.8,379.5 2460.1,382.5 2461.2,385.6 2462.2,388.7 2463.0,392.0 2463.5,394.7 2464.0,397.4 2464.3,400.2 2464.6,403.2 2464.8,406.1 2465.0,409.2 2465.0,412.3 2465.0,415.5 2464.9,418.7 2464.8,421.9 2464.6,425.2 2464.4,428.5 2464.1,431.7 2463.7,435.1 2463.3,438.4 2462.8,441.6 2462.4,444.9 2461.8,448.2 2461.3,451.4 2460.7,454.5 2460.0,457.7 2459.4,460.7 2458.7,463.8 2458.0,466.7 2457.2,469.7 2456.4,472.6 2455.4,475.5 2454.4,478.4 2453.3,481.2 2452.2,484.1 2451.0,486.9 2449.8,489.7 2448.5,492.4 2447.2,495.2 2445.9,497.9 2444.5,500.6 2443.1,503.4 2441.7,506.1 2440.3,508.8 2438.9,511.5 2437.6,514.2 2437.0,515.4"/><path d="M2372.8,326.7 2173.9,375.9"/><path d="M2381.6,554.6 2248.6,598.9"/><path d="M2165.1,330.6 2165.2,330.6 2167.4,332.8 2169.6,335.0 2171.7,337.2 2173.9,339.3 2176.1,341.5 2178.3,343.7 2180.4,346.0 2182.6,348.2 2184.7,350.5 2186.8,352.8 2188.9,355.1 2190.9,357.5 2192.9,359.9 2194.9,362.3 2196.8,364.8 2198.7,367.4 2200.5,370.0 2202.1,372.4 2203.7,374.8 2205.3,377.3 2206.9,379.8 2208.4,382.4 2210.0,384.9 2211.5,387.6 2213.1,390.2 2214.6,392.9 2216.0,395.6 2217.5,398.4 2218.9,401.1 2220.3,403.9 2221.7,406.7 2223.1,409.4 2224.4,412.2 2225.8,415.1 2227.0,417.9 2228.3,420.7 2229.5,423.5 2230.7,426.3 2231.8,429.1 2233.0,431.9 2234.1,434.6 2235.1,437.4 2236.1,440.1 2237.1,442.8 2238.0,445.5 2239.0,448.5 2240.0,451.6 2240.9,454.7 2241.8,457.7 2242.6,460.8 2243.4,463.8 2244.2,466.9 2244.9,469.9 2245.6,473.0 2246.3,476.0 2246.9,479.0 2247.4,482.1 2248.0,485.1 2248.4,488.1 2248.9,491.1 2249.3,494.1 2249.7,497.1 2250.0,500.1 2250.3,503.1 2250.6,506.1 2250.8,509.1 2251.0,512.0 2251.2,515.2 2251.4,518.4 2251.6,521.7 2251.8,524.9 2252.0,528.2 2252.2,531.4 2252.3,534.7 2252.4,537.9 2252.4,541.1 2252.3,544.3 2252.1,547.5 2251.9,550.6 2251.5,553.7 2251.1,556.7 2250.5,559.7 2249.7,562.6 2248.9,565.5 2247.8,568.3 2246.6,571.0 2245.3,573.4 2243.8,575.8 2242.2,578.1 2240.4,580.3 2238.5,582.5 2236.5,584.6 2234.3,586.7 2232.1,588.7 2229.7,590.7 2227.3,592.7 2224.9,594.6 2224.5,594.9"/><path d="M2144.6,330.6 2123.5,367.2"/><path d="M730.7,106.6 611.6,150.5"/><path d="M759.9,106.6 741.0,142.9"/><path d="M776.0,106.6 776.1,106.8 778.3,109.5 780.4,112.3 782.6,115.0 784.8,117.8 787.0,120.6 789.3,123.3 791.4,126.1 793.6,128.8 795.7,131.5 797.7,134.3 799.6,137.0 801.5,139.7 803.2,142.4 804.8,145.0 806.3,147.7 807.6,150.3 808.7,152.9 809.6,155.5 810.4,158.1 810.9,160.6 811.2,163.1 811.2,165.6 811.0,168.0 810.5,170.3 809.8,172.5 808.9,174.8 807.8,177.0 806.5,179.1 804.9,181.3 803.2,183.4 801.4,185.5 799.4,187.6 797.2,189.6 794.9,191.7 792.6,193.7 790.1,195.7 787.5,197.7 784.8,199.7 782.1,201.7 779.4,203.7 776.6,205.6 773.7,207.6 770.9,209.6 768.1,211.5 765.2,213.5 762.4,215.5 759.7,217.4 757.0,219.4 755.4,220.6"/><path d="M661.5,177.2 661.2,177.2 657.9,177.6 654.7,178.1 651.4,178.5 648.2,178.9 645.0,179.3 641.8,179.8 638.6,180.2 635.5,180.7 632.4,181.1 629.3,181.6 626.2,182.1 623.1,182.6 620.1,183.1 617.1,183.6 614.2,184.1 611.2,184.7 608.4,185.3 605.5,185.8 602.7,186.4 600.0,187.0 597.2,187.7 594.6,188.3 592.0,189.0 589.4,189.7 586.9,190.4 584.4,191.1 582.1,191.9 579.7,192.6 577.4,193.4 575.2,194.3 573.1,195.1 571.0,196.0 567.7,197.5 564.6,198.9 561.6,200.4 558.8,201.9 556.0,203.4 553.4,205.0 550.8,206.6 548.4,208.2 546.0,209.9 543.7,211.6 541.5,213.4 539.3,215.2 537.1,217.1 535.0,219.0 532.9,221.1 530.9,223.2 528.8,225.4 526.8,227.7 524.7,230.0 522.6,232.5 520.9,234.6 519.1,236.8 517.3,239.0 515.5,241.4 513.6,243.8 511.7,246.3 509.8,248.8 507.9,251.5 506.0,254.2 504.1,256.9 502.3,259.7 500.4,262.5 498.6,265.4 496.9,268.2 495.1,271.2 493.5,274.1 491.9,277.1 490.3,280.0 488.9,283.0 487.5,286.0 486.2,288.9 485.0,291.9 483.9,294.9 482.9,297.8 482.1,300.7 481.3,303.6 480.7,306.4 480.3,309.2 480.0,312.0 479.8,314.7 479.8,317.4 480.0,320.1 480.3,322.9 480.7,325.7 481.3,328.5 482.0,331.3 482.8,334.1 483.8,336.8 484.8,339.6 486.0,342.4 487.3,345.1 488.7,347.9 490.2,350.6 491.7,353.4 493.4,356.1 495.2,358.8 497.0,361.5 498.9,364.2 500.9,366.8 502.9,369.5 505.0,372.1 507.2,374.7 509.4,377.2 511.7,379.8 514.0,382.3 516.3,384.8 518.7,387.2 521.2,389.6 523.6,392.0 525.4,393.7 527.3,395.4 529.2,397.1 531.3,398.7 533.3,400.4 535.4,402.0 537.6,403.6 539.9,405.1 542.1,406.7 544.5,408.2 546.9,409.8 549.3,411.3 551.8,412.8 554.3,414.2 556.8,415.7 559.4,417.2 562.0,418.6 564.7,420.0 567.4,421.5 570.1,422.9 572.9,424.3 575.7,425.7 578.5,427.1 581.3,428.4 584.2,429.8 587.0,431.2 589.9,432.5 592.8,433.9 595.7,435.3 598.6,436.6 601.6,437.9 604.5,439.3 607.5,440.6 610.4,442.0 613.3,443.3 616.3,444.6 619.2,446.0 622.2,447.3 623.8,448.1"/><path d="M702.8,181.2 623.0,223.4"/><path d="M723.5,181.2 711.6,216.7"/><path d="M1996.0,249.0 1993.0,249.1 1990.0,249.2 1987.0,249.3 1983.9,249.5 1980.9,249.6 1977.9,249.7 1974.8,249.8 1971.8,249.9 1968.8,250.0 1965.7,250.1 1962.7,250.3 1959.6,250.4 1956.6,250.5 1953.5,250.6 1950.5,250.7 1947.4,250.8 1944.3,251.0 1941.3,251.1 1938.2,251.2 1935.1,251.3 1932.1,251.4 1929.0,251.5 1925.9,251.6 1922.8,251.8 1919.7,251.9 1916.7,252.0 1913.6,252.1 1910.5,252.2 1907.4,252.3 1904.3,252.5 1901.2,252.6 1898.2,252.7 1895.1,252.8 1892.0,252.9 1888.9,253.0 1885.8,253.2 1882.7,253.3 1879.6,253.4 1876.5,253.5 1873.4,253.6 1870.3,253.7 1867.3,253.8 1864.2,254.0 1861.1,254.1 1858.0,254.2 1854.9,254.3 1851.8,254.4 1848.7,254.5 1845.6,254.7 1842.6,254.8 1839.5,254.9 1836.4,255.0 1833.3,255.1 1830.2,255.2 1827.2,255.3 1824.1,255.5 1821.0,255.6 1818.0,255.7 1814.9,255.8 1811.8,255.9 1808.8,256.0 1805.7,256.2 1802.6,256.3 1799.6,256.4 1796.5,256.5 1793.5,256.6 1790.4,256.7 1787.4,256.8 1784.4,257.0 1781.3,257.1 1778.3,257.2 1775.3,257.3 1772.2,257.4 1769.2,257.5 1766.2,257.6 1763.2,257.8 1760.2,257.9 1757.2,258.0 1754.2,258.1 1751.2,258.2 1748.2,258.3 1745.2,258.5 1742.2,258.6 1739.2,258.7 1736.3,258.8 1733.3,258.9 1730.3,259.0 1727.4,259.1 1724.4,259.3 1721.5,259.4 1718.5,259.5 1715.6,259.6 1712.7,259.7 1709.8,259.8 1706.8,259.9 1703.9,260.0 1701.0,260.2 1698.1,260.3 1695.2,260.4 1692.4,260.5 1689.5,260.6 1686.6,260.7 1683.8,260.8 1680.9,261.0 1678.1,261.1 1675.2,261.2 1672.4,261.3 1669.6,261.4 1666.7,261.5 1663.9,261.6 1661.1,261.7 1658.3,261.9 1655.5,262.0 1652.8,262.1 1650.0,262.2 1646.8,262.3 1643.5,262.5 1640.3,262.6 1637.1,262.7 1633.9,262.8 1630.7,262.9 1627.5,263.0 1624.3,263.1 1621.2,263.2 1618.0,263.3 1614.9,263.4 1611.8,263.5 1608.7,263.6 1605.6,263.7 1602.5,263.8 1599.4,263.8 1596.3,263.9 1593.3,264.0 1590.2,264.1 1587.1,264.2 1584.1,264.2 1581.1,264.3 1578.0,264.4 1575.0,264.4 1572.0,264.5 1569.0,264.6 1566.0,264.6 1563.0,264.7 1560.0,264.8 1557.0,264.9 1554.0,264.9 1551.1,265.0 1548.1,265.1 1545.1,265.1 1542.2,265.2 1539.2,265.3 1536.3,265.4 1533.3,265.4 1530.4,265.5 1527.4,265.6 1524.5,265.7 1521.6,265.7 1518.6,265.8 1515.7,265.9 1512.8,266.0 1509.8,266.1 1506.9,266.2 1504.0,266.3 1501.0,266.4 1498.1,266.5 1495.2,266.6 1492.3,266.7 1489.3,266.9 1486.4,267.0 1483.5,267.1 1480.5,267.2 1477.6,267.4 1474.7,267.5 1471.7,267.6 1468.8,267.8 1465.9,267.9 1462.9,268.1 1460.0,268.3 1457.0,268.4 1454.1,268.6 1451.1,268.8 1448.1,269.0 1445.2,269.2 1442.2,269.4 1439.2,269.6 1436.3,269.8 1433.3,270.0 1430.3,270.3 1427.3,270.5 1424.3,270.8 1421.3,271.0 1418.3,271.3 1415.2,271.5 1412.2,271.8 1409.2,272.1 1406.1,272.4 1403.1,272.7 1400.0,273.0 1397.1,273.3 1394.1,273.6 1391.1,273.9 1388.2,274.3 1385.2,274.6 1382.2,275.0 1379.2,275.3 1376.1,275.7 1373.1,276.0 1370.1,276.4 1367.0,276.8 1364.0,277.2 1360.9,277.6 1357.8,278.0 1354.8,278.4 1351.7,278.8 1348.6,279.2 1345.5,279.6 1342.4,280.0 1339.3,280.5 1336.1,280.9 1333.0,281.4 1329.9,281.8 1326.8,282.3 1323.6,282.7 1320.5,283.2 1317.4,283.7 1314.2,284.1 1311.1,284.6 1307.9,285.1 1304.8,285.6 1301.6,286.1 1298.5,286.6 1295.3,287.1 1292.2,287.6 1289.0,288.1 1285.9,288.6 1282.8,289.1 1279.6,289.6 1276.5,290.2 1273.3,290.7 1270.2,291.2 1267.1,291.7 1263.9,292.3 1260.8,292.8 1257.7,293.3 1254.6,293.9 1251.5,294.4 1248.4,294.9 1245.3,295.5 1242.2,296.0 1239.1,296.6 1236.0,297.1 1232.9,297.7 1229.9,298.2 1226.8,298.7 1223.8,299.3 1220.7,299.8 1217.7,300.4 1214.7,300.9 1211.7,301.5 1208.7,302.0 1205.7,302.6 1202.7,303.1 1199.7,303.7 1196.8,304.2 1193.8,304.8 1190.9,305.3 1188.0,305.9 1185.1,306.4 1182.2,307.0 1179.3,307.5 1176.5,308.0 1173.6,308.6 1170.8,309.1 1168.0,309.6 1165.2,310.2 1162.4,310.7 1159.7,311.2 1156.9,311.8 1154.2,312.3 1151.5,312.8 1148.8,313.3 1146.1,313.8 1143.5,314.4 1140.8,314.9 1138.2,315.4 1135.6,315.9 1133.1,316.4 1130.5,316.9 1128.0,317.4 1124.6,318.0 1121.2,318.7 1117.8,319.3 1114.5,320.0 1111.2,320.6 1107.9,321.2 1104.6,321.9 1101.4,322.5 1098.1,323.1 1094.9,323.7 1091.8,324.3 1088.6,325.0 1085.5,325.6 1082.4,326.2 1079.3,326.8 1076.2,327.4 1073.1,328.0 1070.1,328.6 1067.1,329.2 1064.1,329.8 1061.1,330.4 1058.2,331.0 1055.2,331.7 1052.3,332.3 1049.4,332.9 1046.5,333.5 1043.6,334.2 1040.7,334.8 1037.9,335.4 1035.0,336.1 1032.2,336.7 1029.4,337.4 1026.6,338.1 1023.8,338.7 1021.0,339.4 1018.2,340.1 1015.5,340.8 1012.7,341.5 1010.0,342.2 1007.3,342.9 1004.5,343.7 1001.8,344.4 999.1,345.2 996.4,346.0 993.7,346.7 991.0,347.5 988.3,348.3 985.7,349.2 983.0,350.0 979.9,351.0 976.9,352.0 973.9,353.0 970.9,354.1 968.0,355.1 965.2,356.2 962.4,357.2 959.6,358.3 956.9,359.4 954.2,360.5 951.5,361.6 948.8,362.8 946.2,363.9 943.5,365.0 940.9,366.2 938.3,367.4 935.7,368.5 933.0,369.7 930.4,370.9 927.8,372.1 925.1,373.3 922.4,374.5 919.7,375.7 917.0,377.0 914.2,378.2 911.4,379.4 908.6,380.7 905.7,381.9 902.8,383.2 899.8,384.4 896.8,385.7 893.7,386.9 890.6,388.2 887.3,389.5 884.1,390.7 880.7,392.0 878.4,392.9 876.0,393.8 873.7,394.6 871.3,395.5 868.9,396.4 866.4,397.3 864.0,398.2 861.5,399.1 858.9,400.0 856.4,400.9 853.8,401.8 851.2,402.7 848.6,403.7 846.0,404.6 843.4,405.5 840.7,406.5 838.0,407.4 835.3,408.3 832.6,409.3 829.8,410.2 827.1,411.2 824.3,412.1 821.5,413.1 818.7,414.1 815.8,415.0 813.0,416.0 810.1,417.0 807.3,417.9 804.4,418.9 801.5,419.9 798.6,420.9 795.7,421.9 792.8,422.8 789.8,423.8 786.9,424.8 783.9,425.8 781.0,426.8 778.0,427.8 775.0,428.8 772.0,429.8 769.0,430.8 766.0,431.8 763.0,432.8 760.0,433.8 757.0,434.8 754.0,435.8 751.0,436.8 748.0,437.8 744.9,438.8 741.9,439.8 738.9,440.8 735.9,441.8 732.8,442.8 729.8,443.8 726.8,444.8 723.8,445.8 720.8,446.8 717.7,447.8 714.7,448.8 712.6,449.5"/><path d="M2052.7,255.9 2052.3,257.6 2051.7,260.6 2051.0,263.7 2050.4,266.7 2049.7,269.7 2049.1,272.7 2048.4,275.7 2047.7,278.8 2047.0,281.8 2046.3,284.8 2045.6,287.8 2044.8,290.8 2044.1,293.8 2043.2,296.7 2042.3,299.7 2041.4,302.7 2040.5,305.6 2039.4,308.6 2038.4,311.5 2037.2,314.4 2036.0,317.4 2034.9,320.0 2033.7,322.7 2032.5,325.4 2031.3,328.0 2030.1,330.7 2028.9,333.4 2027.7,336.1 2026.4,338.7 2025.1,341.4 2023.8,344.1 2022.5,346.7 2021.1,349.4 2019.7,352.0 2018.2,354.6 2016.7,357.3 2015.2,359.9 2013.6,362.5 2012.0,365.0 2010.3,367.6 2008.5,370.1 2006.7,372.7 2004.9,375.2 2003.0,377.6 2001.0,380.1 1998.9,382.5 1996.8,385.0 1994.6,387.3 1992.3,389.7 1990.0,392.0 1988.1,393.8 1986.2,395.6 1984.2,397.3 1982.1,399.0 1980.0,400.7 1977.8,402.4 1975.6,404.0 1973.3,405.7 1971.0,407.3 1968.6,408.9 1966.2,410.5 1963.7,412.1 1961.2,413.7 1958.7,415.2 1956.1,416.8 1953.5,418.3 1950.8,419.8 1948.2,421.3 1945.4,422.8 1942.7,424.3 1939.9,425.8 1937.1,427.3 1934.3,428.8 1931.5,430.2 1928.7,431.7 1925.8,433.1 1922.9,434.6 1920.0,436.0 1917.1,437.5 1914.2,438.9 1911.3,440.3 1908.4,441.8 1905.5,443.2 1902.6,444.6 1899.7,446.1 1896.7,447.5 1896.4,447.7"/><path d="M2073.1,255.9 2124.9,296.1"/><path d="M54.0,106.2 51.4,108.0 48.7,109.7 45.9,111.4 43.2,113.1 40.5,114.8 37.8,116.5 35.2,118.3 32.7,120.2 30.3,122.2 28.0,124.3 25.9,126.6 23.8,129.0 21.7,131.5 19.8,134.1 17.9,136.7 16.2,139.4 14.5,142.1 13.0,144.7 11.7,147.3 10.5,149.8 9.1,152.8 7.9,155.5 7.0,158.3 6.3,161.1 5.9,164.3 6.0,168.0 6.2,170.0 6.5,172.1 7.0,174.4 7.6,176.8 8.2,179.3 9.0,181.9 9.9,184.7 10.9,187.5 11.9,190.4 13.0,193.3 14.2,196.4 15.5,199.4 16.8,202.5 18.2,205.7 19.6,208.9 21.1,212.1 22.6,215.3 24.2,218.4 25.7,221.6 27.3,224.8 28.9,227.9 30.6,231.0 32.2,234.0 33.8,237.0 35.4,239.9 37.0,242.7 38.4,245.2 39.9,247.7 41.4,250.2 43.0,252.7 44.6,255.2 46.2,257.7 47.8,260.2 49.5,262.6 51.2,265.1 52.9,267.6 54.7,270.1 56.4,272.5 58.2,275.0 60.0,277.4 61.9,279.9 63.7,282.3 65.6,284.7 67.5,287.1 69.4,289.5 71.3,291.9 73.2,294.3 75.2,296.7 77.1,299.0 79.1,301.4 81.1,303.7 83.1,306.0 85.0,308.3 87.0,310.6 89.0,312.9 91.0,315.1 93.0,317.4 95.1,319.6 97.1,321.9 99.2,324.2 101.3,326.5 103.5,328.8 105.6,331.1 107.8,333.4 110.0,335.7 112.2,338.0 114.4,340.3 116.6,342.6 118.9,344.8 121.1,347.1 123.4,349.3 125.6,351.5 127.9,353.6 130.2,355.8 132.5,357.9 134.8,360.0 137.0,362.0 139.3,364.0 141.6,366.0 143.9,367.9 146.2,369.8 148.5,371.6 150.8,373.4 153.1,375.1 155.4,376.8 157.7,378.4 160.0,380.0 162.6,381.8 165.2,383.4 167.6,385.0 170.0,386.5 172.3,388.0 174.6,389.4 176.9,390.7 179.2,391.9 181.5,393.1 183.8,394.3 186.3,395.5 188.7,396.6 191.3,397.7 194.0,398.8 196.9,399.8 199.9,400.9 203.0,402.0 206.4,403.1 210.0,404.2 213.8,405.4 217.8,406.6 219.4,407.1 221.0,407.5 222.7,408.0 224.4,408.4 226.1,408.9 227.9,409.3 229.7,409.7 231.5,410.2 233.4,410.6 235.3,411.1 237.2,411.5 239.2,412.0 241.2,412.4 243.2,412.8 245.3,413.3 247.4,413.7 249.6,414.1 251.7,414.6 253.9,415.0 256.2,415.4 258.4,415.9 260.7,416.3 263.0,416.7 265.4,417.1 267.8,417.6 270.2,418.0 272.6,418.4 275.1,418.8 277.6,419.3 280.1,419.7 282.6,420.1 285.2,420.5 287.8,420.9 290.4,421.3 293.1,421.8 295.7,422.2 298.4,422.6 301.2,423.0 303.9,423.4 306.7,423.8 309.5,424.2 312.3,424.6 315.1,425.0 318.0,425.4 320.8,425.9 323.7,426.3 326.7,426.7 329.6,427.1 332.5,427.5 335.5,427.9 338.5,428.3 341.5,428.7 344.6,429.1 347.6,429.5 350.7,429.9 353.8,430.3 356.9,430.7 360.0,431.1 363.1,431.5 366.3,431.9 369.4,432.3 372.6,432.7 375.8,433.1 379.0,433.5 382.2,433.8 385.5,434.2 388.7,434.6 392.0,435.0 395.2,435.4 398.5,435.8 401.8,436.2 405.1,436.6 408.4,437.0 411.7,437.4 415.1,437.8 418.4,438.2 421.8,438.5 425.1,438.9 428.5,439.3 431.9,439.7 435.3,440.1 438.7,440.5 442.1,440.9 445.5,441.3 448.9,441.6 452.3,442.0 455.7,442.4 459.1,442.8 462.6,443.2 466.0,443.6 469.4,444.0 472.9,444.4 476.3,444.7 479.8,445.1 483.2,445.5 486.7,445.9 490.1,446.3 493.6,446.7 497.0,447.1 500.5,447.4 503.9,447.8 507.4,448.2 510.8,448.6 514.3,449.0 517.7,449.4 521.2,449.8 524.6,450.1 528.0,450.5 531.5,450.9 534.9,451.3 538.3,451.7 541.8,452.1 545.2,452.5 548.6,452.8 552.0,453.2 555.4,453.6 558.8,454.0 562.2,454.4 565.6,454.8 568.9,455.2 572.3,455.6 575.7,456.0 579.0,456.3 582.4,456.7 585.7,457.1 589.0,457.5 592.3,457.9 594.5,458.2"/><path d="M74.8,106.6 74.9,141.3"/><path d="M2506.4,549.4 2269.8,600.4"/><path d="M938.9,106.6 938.9,141.3"/><path d="M901.3,106.6 776.9,150.6"/><path d="M2605.6,548.5 2272.4,603.6"/><path d="M451.5,106.6 451.3,108.2 450.9,111.2 450.4,114.2 450.0,117.2 449.5,120.2 449.1,123.2 448.6,126.1 448.2,129.1 447.7,132.1 447.3,135.1 446.9,138.1 446.5,141.1 446.1,144.1 445.7,147.1 445.4,150.1 445.0,153.0 444.7,156.0 444.4,159.0 444.1,162.0 443.8,165.0 443.6,168.0 443.4,171.1 443.2,174.2 442.9,177.3 442.7,180.4 442.5,183.6 442.3,186.7 442.2,189.8 442.0,192.9 441.9,196.0 441.7,199.1 441.6,202.3 441.5,205.4 441.4,208.5 441.4,211.6 441.4,214.7 441.4,217.8 441.4,220.9 441.4,224.1 441.5,227.2 441.6,230.3 441.8,233.4 441.9,236.5 442.2,239.6 442.4,242.7 442.7,245.7 442.9,248.7 443.2,251.7 443.5,254.7 443.8,257.7 444.1,260.8 444.4,263.8 444.8,266.8 445.2,269.8 445.6,272.8 446.0,275.9 446.5,278.9 447.0,281.9 447.5,284.9 448.1,287.9 448.7,290.9 449.4,293.9 450.1,296.8 450.8,299.8 451.6,302.8 452.5,305.7 453.4,308.6 454.4,311.6 455.4,314.5 456.5,317.4 457.6,320.0 458.6,322.7 459.7,325.4 460.8,328.1 462.0,330.8 463.1,333.5 464.3,336.2 465.6,338.9 466.8,341.6 468.1,344.2 469.5,346.9 470.8,349.6 472.3,352.2 473.7,354.9 475.3,357.5 476.8,360.1 478.5,362.7 480.2,365.3 481.9,367.8 483.7,370.4 485.6,372.9 487.6,375.4 489.6,377.8 491.7,380.3 493.9,382.7 496.1,385.1 498.5,387.4 500.9,389.7 503.4,392.0 505.2,393.6 507.1,395.2 509.1,396.7 511.1,398.2 513.2,399.7 515.3,401.2 517.5,402.7 519.7,404.1 522.0,405.6 524.3,407.0 526.7,408.4 529.1,409.8 531.6,411.2 534.1,412.5 536.7,413.9 539.3,415.2 541.9,416.5 544.6,417.8 547.3,419.1 550.0,420.4 552.8,421.7 555.6,422.9 558.4,424.2 561.3,425.4 564.1,426.7 567.0,427.9 570.0,429.1 572.9,430.3 575.9,431.6 578.8,432.8 581.8,434.0 584.8,435.2 587.8,436.4 590.8,437.5 593.9,438.7 596.9,439.9 599.9,441.1 603.0,442.3 606.0,443.5 609.1,444.7 612.1,445.8 615.1,447.0 618.2,448.2 619.6,448.8"/><path d="M436.5,106.6 385.7,146.6"/><path d="M1351.1,106.6 1351.8,141.3"/><path d="M1330.5,106.6 1329.3,107.4 1326.5,109.1 1323.7,110.9 1320.9,112.7 1318.1,114.4 1315.3,116.2 1312.6,118.0 1309.9,119.7 1307.2,121.5 1304.6,123.3 1302.1,125.0 1299.6,126.7 1297.2,128.5 1294.8,130.2 1292.6,131.9 1290.5,133.6 1288.4,135.3 1286.5,137.0 1284.7,138.7 1283.0,140.4 1280.4,143.2 1278.1,145.9 1276.0,148.5 1274.2,151.1 1272.5,153.7 1270.9,156.3 1269.5,159.0 1268.0,161.9 1266.5,164.8 1265.0,168.0 1263.8,170.5 1262.7,173.1 1261.5,175.9 1260.4,178.7 1259.3,181.7 1258.2,184.7 1257.1,187.8 1256.1,190.9 1255.0,194.0 1254.1,197.1 1253.2,200.2 1252.3,203.2 1251.5,206.2 1250.7,209.0 1250.0,211.8 1249.4,214.5 1249.1,216.1"/><path d="M1031.7,174.5 1029.5,174.9 1026.4,175.4 1023.3,175.9 1020.1,176.4 1017.0,176.9 1013.8,177.4 1010.7,177.9 1007.5,178.4 1004.4,178.9 1001.3,179.4 998.1,179.9 995.0,180.4 991.8,180.9 988.7,181.4 985.6,182.0 982.5,182.5 979.4,183.0 976.3,183.5 973.2,184.0 970.1,184.6 967.1,185.1 964.0,185.6 961.0,186.2 958.0,186.7 955.0,187.3 952.0,187.8 949.1,188.4 946.1,189.0 943.2,189.6 940.3,190.1 937.4,190.7 934.6,191.3 931.7,191.9 928.9,192.6 926.1,193.2 923.4,193.8 920.7,194.5 918.0,195.1 915.3,195.8 912.7,196.5 910.1,197.1 907.5,197.8 905.0,198.5 902.5,199.3 900.0,200.0 896.7,201.0 893.4,202.1 890.2,203.1 887.0,204.2 883.8,205.3 880.6,206.4 877.5,207.6 874.4,208.7 871.4,209.9 868.4,211.1 865.4,212.3 862.4,213.5 859.5,214.7 856.6,215.9 853.8,217.1 851.0,218.4 848.2,219.6 845.5,220.8 842.8,222.1 840.1,223.3 837.5,224.5 834.9,225.8 832.3,227.0 829.8,228.2 827.3,229.4 824.9,230.6 822.5,231.8 820.1,233.0 817.8,234.2 815.5,235.4 813.2,236.5 810.1,238.2 807.1,239.9 804.4,241.7 801.9,243.4 799.4,245.2 797.1,247.0 794.8,248.7 792.4,250.5 790.1,252.1 787.6,253.8 785.0,255.3 782.3,256.8 779.4,258.2 776.2,259.5 772.8,260.7 770.6,261.3 768.3,261.9 765.8,262.5 763.3,263.0 760.7,263.4 758.0,263.8 755.2,264.2 752.3,264.5 749.4,264.8 746.4,265.0 743.4,265.2 740.2,265.4 737.1,265.5 733.9,265.7 730.6,265.8 727.3,265.9 724.0,265.9 720.7,266.0 717.3,266.0 714.0,266.1 710.6,266.1 707.2,266.1 703.8,266.1 700.4,266.2 697.1,266.2 693.7,266.2 690.4,266.3 687.1,266.3 683.9,266.4 680.7,266.5 677.5,266.6 674.4,266.7 671.3,266.9 668.3,267.0 665.4,267.2 662.5,267.5 659.7,267.8 657.0,268.1 654.3,268.4 651.8,268.8 648.2,269.4 644.7,269.9 641.2,270.5 637.7,271.0 634.3,271.6 630.9,272.2 627.5,272.7 624.3,273.3 621.1,274.0 617.9,274.7 614.8,275.4 611.8,276.1 608.9,277.0 606.1,277.9 603.3,278.8 600.7,279.9 598.2,281.0 595.7,282.2 593.4,283.6 591.2,285.0 588.6,286.9 586.2,288.8 583.9,290.9 581.8,293.1 579.7,295.3 577.9,297.7 576.1,300.2 574.5,302.8 573.0,305.5 571.6,308.3 570.4,311.2 569.3,314.2 568.3,317.4 567.7,319.8 567.1,322.4 566.5,325.1 566.0,327.9 565.6,330.8 565.2,333.9 564.9,337.0 564.7,340.1 564.5,343.4 564.4,346.6 564.4,350.0 564.5,353.3 564.6,356.7 564.9,360.1 565.3,363.4 565.7,366.8 566.3,370.1 566.9,373.5 567.7,376.7 568.6,379.9 569.6,383.1 570.7,386.1 571.9,389.1 573.3,392.0 574.5,394.2 575.8,396.4 577.2,398.6 578.8,400.7 580.4,402.8 582.2,404.9 584.0,407.0 585.9,409.1 588.0,411.1 590.1,413.1 592.3,415.1 594.5,417.1 596.8,419.0 599.2,421.0 601.6,422.9 604.1,424.9 606.7,426.8 609.2,428.7 611.8,430.6 614.5,432.5 617.2,434.4 619.9,436.2 622.6,438.1 625.3,440.0 628.0,441.9 630.7,443.8 633.5,445.6 633.9,445.9"/><path d="M1031.7,175.6 757.7,231.4"/><path d="M1059.4,181.2 1058.0,183.1 1056.2,185.7 1054.3,188.2 1052.4,190.6 1050.5,193.1 1048.7,195.5 1046.8,197.8 1045.0,200.0 1042.8,202.7 1040.6,205.3 1038.5,207.8 1036.4,210.3 1034.2,212.7 1032.1,215.1 1029.8,217.4 1027.5,219.7 1025.0,222.0 1022.8,224.0 1020.6,226.1 1018.4,228.1 1016.2,230.0 1014.0,232.0 1011.6,233.9 1009.1,235.8 1006.4,237.6 1003.5,239.4 1000.4,241.1 997.0,242.7 994.9,243.6 992.6,244.4 990.3,245.3 987.8,246.1 985.2,246.9 982.6,247.7 979.8,248.4 977.0,249.1 974.1,249.8 971.1,250.5 968.0,251.2 964.9,251.8 961.7,252.5 958.5,253.1 955.3,253.7 952.0,254.3 948.7,254.8 945.3,255.4 942.0,255.9 938.6,256.4 935.3,256.9 931.9,257.4 928.6,257.9 925.2,258.4 921.9,258.9 918.7,259.3 915.4,259.8 912.2,260.2 909.1,260.7 906.0,261.1 903.0,261.6 900.0,262.0 896.8,262.4 893.6,262.8 890.4,263.2 887.1,263.5 883.8,263.8 880.6,264.0 877.3,264.2 874.0,264.4 870.8,264.6 867.5,264.7 864.3,264.9 861.0,265.0 857.8,265.2 854.6,265.3 851.5,265.5 848.3,265.7 845.2,265.9 842.2,266.1 839.2,266.3 836.2,266.6 833.3,267.0 830.4,267.3 827.6,267.7 824.8,268.2 822.2,268.7 819.5,269.3 817.0,270.0 813.6,270.9 810.2,271.9 806.9,273.0 803.6,274.0 800.3,275.1 797.1,276.3 794.0,277.5 791.0,278.8 788.2,280.2 785.5,281.6 783.0,283.1 780.7,284.7 778.5,286.4 776.6,288.1 775.0,290.0 773.2,292.6 771.6,295.4 770.3,298.3 769.3,301.4 768.6,304.6 768.3,307.8 768.2,311.0 768.4,314.2 769.0,317.4 769.7,319.7 770.6,322.1 771.8,324.6 773.3,327.1 774.9,329.6 776.7,332.2 778.6,334.7 780.7,337.3 782.9,339.8 785.2,342.2 787.6,344.6 790.1,346.9 792.5,349.1 795.0,351.2 797.5,353.2 800.0,355.0 802.5,356.7 805.0,358.3 807.6,359.7 810.3,361.1 813.1,362.4 815.9,363.6 818.8,364.8 821.7,365.9 824.7,366.9 827.8,367.9 830.9,368.8 834.0,369.8 837.1,370.6 840.3,371.5 843.5,372.3 846.8,373.2 850.0,374.0 852.8,374.7 855.7,375.3 858.7,376.0 861.7,376.5 864.7,377.1 867.8,377.6 870.9,378.1 874.1,378.5 877.3,379.0 880.5,379.4 883.7,379.8 886.9,380.2 890.2,380.5 893.4,380.9 896.6,381.2 899.8,381.6 902.9,381.9 906.1,382.2 909.2,382.6 912.2,382.9 915.2,383.3 918.1,383.6 921.0,384.0 924.2,384.4 927.4,384.8 930.6,385.2 933.7,385.6 936.7,386.0 939.7,386.4 942.8,386.8 945.7,387.1 948.7,387.5 951.6,387.9 954.6,388.2 957.5,388.6 958.5,388.7"/><path d="M1038.0,181.2 936.1,224.5"/><path d="M1549.2,177.3 1547.8,177.5 1544.7,177.9 1541.6,178.4 1538.6,178.8 1535.5,179.2 1532.4,179.7 1529.3,180.1 1526.2,180.6 1523.1,181.0 1520.0,181.5 1516.9,181.9 1513.8,182.3 1510.7,182.8 1507.6,183.2 1504.5,183.7 1501.4,184.1 1498.3,184.6 1495.2,185.0 1492.1,185.5 1489.0,185.9 1485.9,186.3 1482.8,186.8 1479.7,187.2 1476.6,187.7 1473.5,188.1 1470.4,188.6 1467.4,189.0 1464.3,189.4 1461.2,189.9 1458.1,190.3 1455.0,190.8 1452.0,191.2 1448.9,191.6 1445.8,192.1 1442.8,192.5 1439.7,192.9 1436.6,193.4 1433.6,193.8 1430.5,194.3 1427.5,194.7 1424.4,195.1 1421.4,195.5 1418.4,196.0 1415.3,196.4 1412.3,196.8 1409.3,197.3 1406.3,197.7 1403.3,198.1 1400.3,198.5 1397.3,198.9 1394.3,199.4 1391.3,199.8 1388.3,200.2 1385.4,200.6 1382.4,201.0 1379.4,201.4 1376.5,201.9 1373.5,202.3 1370.6,202.7 1367.7,203.1 1364.8,203.5 1361.8,203.9 1358.9,204.3 1356.0,204.7 1353.1,205.1 1350.3,205.5 1347.4,205.9 1344.5,206.3 1341.7,206.6 1338.8,207.0 1336.0,207.4 1333.2,207.8 1330.3,208.2 1327.5,208.6 1324.7,208.9 1321.9,209.3 1319.2,209.7 1316.4,210.0 1313.6,210.4 1310.9,210.8 1308.1,211.1 1305.4,211.5 1302.7,211.8 1300.0,212.2 1296.7,212.6 1293.4,213.1 1290.0,213.5 1286.7,213.9 1283.4,214.3 1280.0,214.8 1276.6,215.2 1273.3,215.6 1269.9,216.0 1266.5,216.4 1263.1,216.9 1259.8,217.3 1256.4,217.7 1253.0,218.1 1249.6,218.5 1246.2,218.9 1242.8,219.3 1239.5,219.7 1236.1,220.1 1232.7,220.5 1229.3,220.9 1226.0,221.3 1222.6,221.7 1219.3,222.1 1216.0,222.5 1212.6,222.9 1209.3,223.3 1206.0,223.7 1202.7,224.0 1199.5,224.4 1196.2,224.8 1193.0,225.2 1189.7,225.6 1186.5,225.9 1183.3,226.3 1180.2,226.7 1177.0,227.0 1173.9,227.4 1170.8,227.7 1167.7,228.1 1164.6,228.5 1161.6,228.8 1158.5,229.2 1155.6,229.5 1152.6,229.8 1149.7,230.2 1146.8,230.5 1143.9,230.9 1141.0,231.2 1138.2,231.5 1135.4,231.9 1132.7,232.2 1130.0,232.5 1127.3,232.8 1124.7,233.1 1122.1,233.5 1119.5,233.8 1117.0,234.1 1114.5,234.4 1112.0,234.7 1109.6,235.0 1107.3,235.3 1104.9,235.6 1102.7,235.8 1100.4,236.1 1098.3,236.4 1096.1,236.7 1094.0,237.0 1092.0,237.2 1090.0,237.5 1086.0,238.1 1082.3,238.6 1078.9,239.1 1075.8,239.5 1072.9,240.0 1070.1,240.4 1067.4,240.8 1064.8,241.2 1062.2,241.7 1059.5,242.1 1056.8,242.5 1053.9,243.0 1050.8,243.4 1047.5,243.9 1043.9,244.4 1040.0,245.0 1037.9,245.3 1035.7,245.6 1033.5,245.9 1031.2,246.2 1028.9,246.5 1026.5,246.8 1024.0,247.1 1021.5,247.4 1018.9,247.7 1016.3,248.0 1013.6,248.4 1010.9,248.7 1008.1,249.0 1005.3,249.3 1002.5,249.7 999.6,250.0 996.6,250.4 993.7,250.7 990.7,251.0 987.6,251.4 984.6,251.7 981.5,252.1 978.3,252.5 975.2,252.8 972.0,253.2 968.8,253.6 965.6,253.9 962.3,254.3 959.1,254.7 955.8,255.1 952.5,255.5 949.2,255.9 945.9,256.3 942.6,256.7 939.2,257.1 935.9,257.5 932.6,257.9 929.2,258.3 925.9,258.7 922.6,259.1 919.2,259.5 915.9,260.0 912.6,260.4 909.3,260.8 906.0,261.3 902.7,261.7 899.4,262.2 896.1,262.6 892.9,263.1 889.7,263.5 886.5,264.0 883.3,264.4 880.1,264.9 877.0,265.4 873.9,265.9 870.8,266.3 867.8,266.8 864.8,267.3 861.8,267.8 858.9,268.3 856.0,268.8 852.9,269.3 849.7,269.9 846.4,270.4 843.2,271.0 839.8,271.6 836.5,272.1 833.1,272.7 829.6,273.3 826.2,273.8 822.7,274.4 819.2,275.0 815.7,275.6 812.2,276.2 808.6,276.8 805.1,277.4 801.6,278.0 798.0,278.6 794.5,279.2 790.9,279.8 787.4,280.5 783.9,281.1 780.4,281.7 777.0,282.4 773.5,283.0 770.1,283.7 766.7,284.3 763.4,285.0 760.1,285.6 756.8,286.3 753.6,286.9 750.4,287.6 747.3,288.3 744.3,289.0 741.3,289.7 738.4,290.4 735.5,291.0 732.7,291.7 730.0,292.4 727.3,293.2 724.8,293.9 722.3,294.6 719.9,295.3 717.6,296.0 715.4,296.8 713.3,297.5 711.3,298.2 709.4,299.0 707.7,299.7 706.0,300.5 704.4,301.3 703.0,302.0 701.7,302.8 698.6,305.1 696.3,307.4 694.7,309.7 693.3,312.1 691.8,314.6 690.0,317.4 688.4,319.5 686.6,321.7 684.8,323.9 682.9,326.3 681.0,328.7 679.1,331.2 677.3,333.8 675.5,336.4 673.8,339.2 672.2,342.1 670.8,345.0 669.7,347.5 668.8,350.1 667.8,352.7 667.0,355.4 666.1,358.2 665.4,361.0 664.7,363.9 664.0,366.8 663.4,369.8 662.8,372.9 662.3,376.0 661.8,379.1 661.3,382.3 660.9,385.5 660.5,388.7 660.2,392.0 660.0,394.8 659.8,397.6 659.6,400.5 659.5,403.4 659.5,406.4 659.4,409.4 659.5,412.5 659.5,415.6 659.6,418.7 659.7,421.8 659.8,425.0 660.0,428.2 660.1,431.4 660.3,434.6 660.5,437.9 660.6,440.0"/><path d="M1614.0,181.2 1611.5,216.0"/><path d="M1680.0,168.6 1683.0,168.7 1686.0,168.7 1689.1,168.8 1692.1,168.8 1695.2,168.9 1698.2,168.9 1701.3,169.0 1704.4,169.0 1707.5,169.0 1710.6,169.1 1713.7,169.1 1716.8,169.1 1720.0,169.2 1723.1,169.2 1726.3,169.2 1729.4,169.2 1732.6,169.2 1735.8,169.3 1738.9,169.3 1742.1,169.3 1745.3,169.3 1748.5,169.3 1751.7,169.3 1754.9,169.3 1758.1,169.3 1761.3,169.3 1764.5,169.3 1767.7,169.4 1770.9,169.4 1774.1,169.4 1777.3,169.4 1780.5,169.4 1783.8,169.4 1787.0,169.4 1790.2,169.4 1793.4,169.4 1796.6,169.4 1799.8,169.4 1803.0,169.4 1806.2,169.4 1809.4,169.4 1812.6,169.4 1815.8,169.5 1818.9,169.5 1822.1,169.5 1825.3,169.5 1828.4,169.5 1831.6,169.5 1834.7,169.6 1837.9,169.6 1841.0,169.6 1844.1,169.6 1847.2,169.7 1850.4,169.7 1853.5,169.7 1856.5,169.8 1859.6,169.8 1862.7,169.9 1865.7,169.9 1868.8,170.0 1871.8,170.0 1874.8,170.1 1877.8,170.2 1880.8,170.2 1883.8,170.3 1886.7,170.4 1889.7,170.4 1892.6,170.5 1895.5,170.6 1898.4,170.7 1901.3,170.8 1904.2,170.9 1907.0,171.0 1909.8,171.1 1912.7,171.2 1915.4,171.4 1918.2,171.5 1921.0,171.6 1923.7,171.8 1926.4,171.9 1929.1,172.1 1931.8,172.2 1934.4,172.4 1937.1,172.5 1939.7,172.7 1942.2,172.9 1944.8,173.1 1947.3,173.3 1949.8,173.5 1952.3,173.7 1954.8,173.9 1957.2,174.1 1959.6,174.4 1962.0,174.6 1965.6,175.0 1969.1,175.3 1972.6,175.7 1976.1,176.0 1979.6,176.3 1983.0,176.7 1986.4,177.0 1989.7,177.4 1993.1,177.7 1996.4,178.0 1999.7,178.4 2002.9,178.7 2006.1,179.1 2009.3,179.5 2012.4,179.8 2015.6,180.2 2018.6,180.6 2021.7,181.0 2024.7,181.4 2027.7,181.9 2030.7,182.3 2033.6,182.8 2036.5,183.3 2039.4,183.8 2042.2,184.3 2045.0,184.9 2047.8,185.5 2050.5,186.1 2053.2,186.7 2055.9,187.4 2058.5,188.1 2061.1,188.8 2063.7,189.5 2066.2,190.3 2068.7,191.1 2071.2,192.0 2073.6,192.9 2076.0,193.8 2078.4,194.8 2080.7,195.8 2083.0,196.8 2086.1,198.3 2089.1,199.8 2092.1,201.4 2095.0,203.0 2097.9,204.6 2100.7,206.3 2103.4,208.1 2106.1,209.9 2108.8,211.7 2111.3,213.6 2113.8,215.6 2116.3,217.5 2118.6,219.6 2120.9,221.7 2123.1,223.8 2125.3,226.0 2127.4,228.2 2129.3,230.5 2131.2,232.8 2133.1,235.2 2134.8,237.7 2136.4,240.1 2138.0,242.7 2139.4,245.2 2140.6,247.7 2141.7,250.3 2142.7,253.0 2143.6,255.8 2144.4,258.7 2145.1,261.6 2145.7,264.5 2146.3,267.5 2146.8,270.5 2147.2,273.6 2147.6,276.7 2148.0,279.8 2148.3,283.0 2148.6,286.1 2148.9,289.3 2149.0,290.7"/><path d="M1680.7,178.7 1683.5,179.8 1686.4,180.9 1689.3,182.0 1692.2,183.0 1695.1,184.1 1698.1,185.1 1701.0,186.2 1704.0,187.2 1707.0,188.3 1709.9,189.3 1713.0,190.3 1716.0,191.3 1719.0,192.3 1722.0,193.3 1725.0,194.4 1728.1,195.4 1731.1,196.4 1734.2,197.4 1737.2,198.4 1740.3,199.4 1743.3,200.4 1746.4,201.4 1749.4,202.4 1752.4,203.4 1755.5,204.4 1758.5,205.4 1761.5,206.4 1764.5,207.4 1767.5,208.4 1770.5,209.5 1773.5,210.5 1776.5,211.5 1779.4,212.6 1782.3,213.6 1785.3,214.7 1788.1,215.8 1791.0,216.9 1793.9,217.9 1796.7,219.0 1799.5,220.2 1802.3,221.3 1805.1,222.4 1807.8,223.6 1810.5,224.7 1813.2,225.9 1815.9,227.1 1818.5,228.3 1821.1,229.5 1823.7,230.8 1826.2,232.0 1828.7,233.3 1831.1,234.6 1833.5,235.9 1835.9,237.2 1838.2,238.5 1840.5,239.9 1842.8,241.3 1845.0,242.7 1847.8,244.5 1850.6,246.4 1853.4,248.2 1856.2,250.1 1859.0,252.1 1861.8,254.0 1864.5,256.0 1867.3,257.9 1870.0,259.9 1872.6,262.0 1875.3,264.0 1877.9,266.1 1880.5,268.1 1883.0,270.2 1885.5,272.3 1887.9,274.5 1890.3,276.6 1892.6,278.8 1894.9,280.9 1897.1,283.1 1899.3,285.3 1901.4,287.5 1903.4,289.7 1905.3,292.0 1907.2,294.2 1909.0,296.5 1910.7,298.8 1912.3,301.1 1913.8,303.4 1915.3,305.7 1916.6,308.0 1917.9,310.3 1919.0,312.7 1920.1,315.0 1921.0,317.4 1922.0,320.3 1922.9,323.2 1923.6,326.2 1924.2,329.2 1924.6,332.3 1924.9,335.4 1925.1,338.5 1925.2,341.7 1925.2,344.9 1925.1,348.0 1924.9,351.2 1924.5,354.4 1924.1,357.7 1923.6,360.9 1923.0,364.1 1922.4,367.3 1921.7,370.4 1920.9,373.6 1920.0,376.7 1919.1,379.9 1918.1,383.0 1917.1,386.0 1916.1,389.0 1915.0,392.0 1914.0,394.6 1912.8,397.2 1911.6,399.8 1910.2,402.4 1908.8,405.0 1907.3,407.5 1905.7,410.0 1904.0,412.5 1902.3,415.0 1900.5,417.5 1898.7,420.0 1896.8,422.5 1894.8,425.0 1892.8,427.4 1890.8,429.9 1888.8,432.3 1886.7,434.8 1884.6,437.2 1882.5,439.6 1880.4,442.1 1879.3,443.3"/><path d="M1546.0,252.0 1543.0,252.6 1540.1,253.1 1537.1,253.7 1534.2,254.2 1531.3,254.8 1528.4,255.3 1525.5,255.9 1522.6,256.4 1519.7,257.0 1516.8,257.5 1513.9,258.1 1511.1,258.6 1508.2,259.2 1505.4,259.7 1502.5,260.3 1499.6,260.8 1496.8,261.4 1493.9,261.9 1491.1,262.5 1488.2,263.0 1485.4,263.6 1482.5,264.1 1479.6,264.7 1476.7,265.2 1473.9,265.8 1471.0,266.3 1468.1,266.9 1465.1,267.5 1462.2,268.0 1459.3,268.6 1456.3,269.1 1453.4,269.7 1450.4,270.2 1447.4,270.8 1444.4,271.3 1441.4,271.9 1438.3,272.5 1435.3,273.0 1432.2,273.6 1429.1,274.2 1425.9,274.7 1422.8,275.3 1419.6,275.9 1416.4,276.4 1413.2,277.0 1409.9,277.6 1406.7,278.1 1403.3,278.7 1400.0,279.3 1397.4,279.7 1394.7,280.2 1392.1,280.6 1389.4,281.1 1386.6,281.5 1383.9,282.0 1381.1,282.4 1378.3,282.9 1375.5,283.3 1372.6,283.8 1369.8,284.2 1366.9,284.7 1364.0,285.1 1361.1,285.6 1358.1,286.1 1355.1,286.5 1352.2,287.0 1349.2,287.4 1346.1,287.9 1343.1,288.3 1340.1,288.8 1337.0,289.2 1333.9,289.7 1330.9,290.1 1327.8,290.6 1324.7,291.1 1321.5,291.5 1318.4,292.0 1315.3,292.4 1312.1,292.9 1309.0,293.3 1305.8,293.8 1302.7,294.3 1299.5,294.7 1296.3,295.2 1293.2,295.7 1290.0,296.1 1286.8,296.6 1283.6,297.0 1280.5,297.5 1277.3,298.0 1274.1,298.4 1270.9,298.9 1267.8,299.4 1264.6,299.8 1261.4,300.3 1258.3,300.8 1255.1,301.3 1252.0,301.7 1248.8,302.2 1245.7,302.7 1242.6,303.2 1239.5,303.6 1236.4,304.1 1233.3,304.6 1230.2,305.1 1227.1,305.5 1224.1,306.0 1221.0,306.5 1218.0,307.0 1215.0,307.5 1212.0,307.9 1209.0,308.4 1206.0,308.9 1203.1,309.4 1200.1,309.9 1197.2,310.4 1194.4,310.9 1191.5,311.4 1188.6,311.9 1185.8,312.4 1183.0,312.8 1180.2,313.3 1177.5,313.8 1174.8,314.3 1172.1,314.8 1169.4,315.3 1166.8,315.8 1164.1,316.3 1161.6,316.8 1159.0,317.4 1155.6,318.0 1152.3,318.7 1149.1,319.4 1145.8,320.0 1142.6,320.7 1139.5,321.4 1136.3,322.1 1133.2,322.8 1130.2,323.4 1127.1,324.1 1124.1,324.8 1121.1,325.5 1118.2,326.2 1115.2,326.9 1112.3,327.6 1109.4,328.3 1106.6,328.9 1103.7,329.6 1100.9,330.3 1098.0,331.0 1095.2,331.7 1092.4,332.4 1089.6,333.1 1086.8,333.9 1084.0,334.6 1081.2,335.3 1078.4,336.0 1075.6,336.7 1072.9,337.4 1070.1,338.1 1067.3,338.9 1064.5,339.6 1061.7,340.3 1058.8,341.0 1056.0,341.8 1053.2,342.5 1050.3,343.2 1047.4,344.0 1044.5,344.7 1041.6,345.5 1038.7,346.2 1035.7,347.0 1032.7,347.7 1029.7,348.5 1026.7,349.2 1023.6,350.0 1020.8,350.7 1018.0,351.4 1015.2,352.1 1012.4,352.8 1009.5,353.4 1006.7,354.1 1003.9,354.8 1001.0,355.5 998.2,356.1 995.3,356.8 992.5,357.5 989.6,358.2 986.7,358.8 983.8,359.5 981.0,360.2 978.1,360.9 975.2,361.5 972.3,362.2 969.4,362.9 966.5,363.6 963.5,364.3 960.6,364.9 957.7,365.6 954.8,366.3 951.8,367.0 948.9,367.7 946.0,368.4 943.0,369.1 940.1,369.9 937.1,370.6 934.2,371.3 931.2,372.0 928.2,372.8 925.3,373.5 922.3,374.3 919.3,375.0 916.3,375.8 913.3,376.5 910.3,377.3 907.3,378.1 904.3,378.9 901.3,379.7 898.3,380.5 895.3,381.3 892.3,382.2 889.3,383.0 886.3,383.9 883.3,384.7 880.2,385.6 877.2,386.5 874.2,387.4 871.2,388.3 868.1,389.2 865.1,390.1 862.0,391.1 859.0,392.0 856.3,392.9 853.6,393.8 850.8,394.6 848.1,395.5 845.4,396.4 842.6,397.4 839.9,398.3 837.1,399.2 834.4,400.2 831.6,401.1 828.8,402.1 826.1,403.1 823.3,404.1 820.5,405.1 817.7,406.1 814.9,407.1 812.1,408.1 809.3,409.1 806.5,410.2 803.7,411.2 800.9,412.2 798.1,413.3 795.3,414.4 792.5,415.4 789.6,416.5 786.8,417.6 784.0,418.7 781.2,419.8 778.3,420.8 775.5,421.9 772.7,423.0 769.8,424.2 767.0,425.3 764.2,426.4 761.3,427.5 758.5,428.6 755.6,429.7 752.8,430.9 749.9,432.0 747.1,433.1 744.2,434.2 741.4,435.4 738.5,436.5 735.7,437.6 732.8,438.8 730.0,439.9 727.1,441.0 724.3,442.2 721.4,443.3 718.6,444.5 715.7,445.6 712.9,446.7 710.0,447.8 707.5,448.8"/><path d="M1609.6,255.9 1609.5,290.6"/><path d="M1585.8,255.9 1583.2,257.3 1580.6,258.8 1578.0,260.3 1575.4,261.8 1572.7,263.2 1570.1,264.7 1567.5,266.2 1564.9,267.7 1562.3,269.2 1559.6,270.6 1557.0,272.1 1554.4,273.6 1551.8,275.1 1549.2,276.5 1546.5,278.0 1543.9,279.5 1541.3,281.0 1538.6,282.5 1536.0,283.9 1533.4,285.4 1530.7,286.9 1528.1,288.3 1525.4,289.8 1522.8,291.3 1520.1,292.7 1517.5,294.2 1514.8,295.7 1512.1,297.1 1509.4,298.6 1506.8,300.0 1504.1,301.5 1501.4,303.0 1498.7,304.4 1496.0,305.9 1493.2,307.3 1490.5,308.7 1487.8,310.2 1485.0,311.6 1482.3,313.1 1479.5,314.5 1476.8,315.9 1474.0,317.4 1471.4,318.7 1468.7,320.0 1466.0,321.4 1463.4,322.7 1460.7,324.1 1458.0,325.4 1455.3,326.7 1452.6,328.0 1449.9,329.4 1447.2,330.7 1444.4,332.0 1441.7,333.3 1438.9,334.6 1436.2,335.9 1433.4,337.3 1430.7,338.6 1427.9,339.9 1425.1,341.2 1422.3,342.5 1419.6,343.8 1416.8,345.1 1414.0,346.4 1411.2,347.7 1408.4,349.0 1405.6,350.3 1402.8,351.6 1400.0,352.8 1397.2,354.1 1394.4,355.4 1391.6,356.7 1388.8,358.0 1386.0,359.3 1383.2,360.6 1380.4,361.9 1377.6,363.2 1374.8,364.5 1372.0,365.8 1369.2,367.1 1366.4,368.4 1363.6,369.7 1360.8,371.0 1358.0,372.3 1355.2,373.6 1352.5,374.9 1349.7,376.2 1346.9,377.5 1344.2,378.8 1341.4,380.1 1338.7,381.4 1335.9,382.7 1333.2,384.1 1330.5,385.4 1327.8,386.7 1325.1,388.0 1322.4,389.4 1319.7,390.7 1317.0,392.0 1314.2,393.4 1311.5,394.8 1308.7,396.2 1306.0,397.6 1303.3,399.0 1300.5,400.3 1297.8,401.7 1295.1,403.1 1292.4,404.5 1289.6,405.9 1286.9,407.3 1284.2,408.7 1281.5,410.1 1278.8,411.5 1276.1,412.9 1273.4,414.3 1270.8,415.7 1268.1,417.1 1265.4,418.6 1262.7,420.0 1260.0,421.4 1257.4,422.8 1254.7,424.2 1252.0,425.6 1249.4,427.0 1246.7,428.4 1244.0,429.9 1241.4,431.3 1238.7,432.7 1236.1,434.1 1233.4,435.5 1230.7,436.9 1228.1,438.3 1225.4,439.8 1222.8,441.2 1220.1,442.6 1217.5,444.0 1214.8,445.4 1212.1,446.8 1211.1,447.4"/><path d="M1540.7,325.9 1073.1,384.8"/><path d="M1591.0,330.6 1589.0,331.9 1586.4,333.7 1583.7,335.5 1581.0,337.3 1578.3,339.1 1575.6,340.9 1573.0,342.7 1570.3,344.5 1567.6,346.3 1564.9,348.1 1562.2,349.9 1559.6,351.7 1556.9,353.5 1554.3,355.3 1551.7,357.1 1549.2,358.9 1546.6,360.8 1544.1,362.6 1541.7,364.5 1539.2,366.3 1536.9,368.2 1534.5,370.1 1532.2,372.0 1530.0,373.9 1527.8,375.9 1525.7,377.8 1523.6,379.8 1521.6,381.8 1519.7,383.8 1517.8,385.8 1516.0,387.9 1514.3,389.9 1512.7,392.0 1510.8,394.7 1509.0,397.3 1507.3,400.1 1505.7,402.8 1504.2,405.6 1502.8,408.4 1501.5,411.2 1500.3,414.0 1499.1,416.9 1498.0,419.8 1497.0,422.7 1496.0,425.6 1495.0,428.5 1494.1,431.5 1493.2,434.4 1492.3,437.4 1491.4,440.3 1491.4,440.6"/></g>
<g fill="#191970" stroke="#191970" stroke-width="1.25"><polygon points="347.1,84.3 360.7,78.4 361.4,88.2"/><polygon points="2529.5,80.4 2514.8,78.6 2519.1,69.8"/><polygon points="2639.7,80.6 2624.9,81.7 2627.4,72.2"/><polygon points="2756.0,82.0 2741.3,84.3 2743.1,74.7"/><polygon points="2942.0,83.0 2927.5,86.2 2928.7,76.5"/><polygon points="3076.0,82.1 3061.4,84.6 3063.0,74.9"/><polygon points="3195.5,82.1 3181.1,85.7 3182.0,75.9"/><polygon points="3319.0,82.0 3304.7,85.9 3305.4,76.1"/><polygon points="3446.0,82.0 3431.7,85.9 3432.4,76.1"/><polygon points="3603.5,82.0 3589.2,86.0 3589.8,76.3"/><polygon points="3729.0,82.0 3714.7,86.1 3715.3,76.3"/><polygon points="3888.8,81.4 3874.5,85.2 3875.2,75.4"/><polygon points="4046.0,81.4 4031.6,84.8 4032.6,75.1"/><polygon points="4201.5,81.4 4187.2,85.2 4187.9,75.4"/><polygon points="2343.6,379.3 2334.1,367.9 2343.3,364.5"/><polygon points="1578.6,81.0 1592.2,75.1 1592.9,84.8"/><polygon points="2407.9,304.6 2399.9,292.1 2409.4,289.9"/><polygon points="276.1,304.6 264.0,296.0 272.0,290.4"/><polygon points="1610.1,379.3 1619.9,368.2 1624.7,376.8"/><polygon points="2153.8,304.6 2150.6,290.2 2160.3,291.3"/><polygon points="823.4,83.4 837.0,77.5 837.7,87.3"/><polygon points="2062.9,230.0 2065.2,215.3 2073.8,219.9"/><polygon points="122.3,81.9 135.8,75.8 136.7,85.5"/><polygon points="2126.9,454.0 2138.0,444.2 2141.7,453.3"/><polygon points="2541.2,528.6 2533.1,516.2 2542.6,513.9"/><polygon points="990.0,88.3 1003.7,82.7 1004.2,92.5"/><polygon points="2644.9,528.6 2635.5,517.1 2644.8,513.8"/><polygon points="492.7,89.4 506.4,83.8 506.9,93.6"/><polygon points="4318.5,81.4 4304.1,84.8 4305.1,75.1"/><polygon points="1400.7,81.0 1413.7,73.8 1415.3,83.5"/><polygon points="1509.0,154.5 1519.3,143.8 1523.7,152.6"/><polygon points="1092.7,154.6 1104.1,145.1 1107.5,154.3"/><polygon points="1624.0,154.5 1627.5,140.1 1635.7,145.4"/><polygon points="4439.0,81.4 4424.7,85.2 4425.4,75.4"/><polygon points="4581.5,81.4 4567.2,85.2 4567.9,75.4"/><polygon points="249.6,155.3 254.3,141.2 262.1,147.2"/><polygon points="613.3,454.0 598.5,455.5 600.8,446.0"/><polygon points="337.4,230.0 323.0,226.6 328.2,218.3"/><polygon points="661.8,236.0 647.1,238.6 648.7,228.9"/><polygon points="68.4,379.3 73.0,365.2 80.8,371.1"/><polygon points="1475.0,454.0 1463.6,444.5 1472.0,439.4"/><polygon points="317.0,311.6 330.0,304.3 331.7,314.0"/><polygon points="1213.3,310.7 1198.7,313.7 1200.0,304.0"/><polygon points="608.5,459.8 594.0,463.0 595.1,453.3"/><polygon points="285.5,379.3 280.5,365.3 290.3,365.3"/><polygon points="705.0,454.0 717.0,445.3 719.8,454.7"/><polygon points="1455.2,454.0 1440.4,452.9 1444.3,443.9"/><polygon points="1298.5,454.0 1284.3,449.9 1290.0,441.9"/><polygon points="1177.8,454.0 1175.6,439.3 1185.2,441.1"/><polygon points="1540.6,380.8 1525.8,382.4 1528.0,372.9"/><polygon points="715.1,462.3 728.7,456.3 729.5,466.1"/><polygon points="1500.9,454.0 1509.5,441.9 1515.1,450.0"/><polygon points="1361.4,454.0 1373.6,445.6 1376.2,455.0"/><polygon points="1814.4,454.0 1799.6,455.0 1802.2,445.5"/><polygon points="2160.2,462.1 2145.7,465.2 2146.9,455.5"/><polygon points="2197.2,603.3 2192.1,589.4 2201.9,589.2"/><polygon points="817.7,528.6 802.9,529.9 805.3,520.4"/><polygon points="2136.3,614.1 2122.1,618.5 2122.4,608.7"/><polygon points="320.1,454.0 305.4,455.5 307.6,446.0"/><polygon points="699.9,535.5 685.1,537.4 687.2,527.8"/><polygon points="2136.3,613.2 2122.0,617.5 2122.5,607.7"/><polygon points="2136.3,613.4 2122.1,617.7 2122.5,607.9"/><polygon points="943.9,530.4 929.1,532.1 931.3,522.5"/><polygon points="2222.7,454.0 2233.1,443.4 2237.5,452.2"/><polygon points="1487.0,155.3 1485.4,140.5 1494.9,142.7"/><polygon points="1467.7,230.0 1466.6,215.2 1476.0,217.7"/><polygon points="1287.0,230.0 1298.9,221.1 1301.8,230.4"/><polygon points="664.0,454.0 661.4,439.4 671.0,440.9"/><polygon points="1755.0,309.4 1740.4,312.5 1741.7,302.7"/><polygon points="1379.7,539.3 1365.5,543.7 1365.8,533.9"/><polygon points="1030.6,379.3 1037.8,366.3 1044.3,373.6"/><polygon points="892.1,307.9 905.0,300.6 906.8,310.2"/><polygon points="1865.7,454.0 1867.0,439.2 1875.9,443.3"/><polygon points="1471.6,454.0 1458.6,446.7 1466.0,440.2"/><polygon points="1318.1,454.0 1317.0,439.2 1326.5,441.8"/><polygon points="1021.9,304.6 1034.1,296.2 1036.7,305.6"/><polygon points="715.1,459.8 728.4,453.1 729.7,462.8"/><polygon points="2059.3,379.3 2044.6,380.6 2047.0,371.1"/><polygon points="1856.7,454.0 1848.2,441.8 1857.7,439.2"/><polygon points="1538.2,455.8 1551.3,448.7 1552.9,458.4"/><polygon points="1735.0,379.3 1743.0,366.8 1749.1,374.6"/><polygon points="2100.7,454.0 2097.8,439.4 2107.5,440.8"/><polygon points="2009.7,454.0 2019.0,442.4 2024.2,450.7"/><polygon points="920.6,529.4 933.8,522.6 935.1,532.3"/><polygon points="2188.4,603.3 2176.3,594.8 2184.3,589.1"/><polygon points="2136.2,608.7 2121.8,611.9 2122.9,602.2"/><polygon points="715.1,455.4 727.8,447.7 729.9,457.3"/><polygon points="1147.9,454.0 1133.2,452.4 1137.3,443.6"/><polygon points="884.7,454.0 895.3,443.6 899.4,452.4"/><polygon points="1023.9,454.0 1017.3,440.7 1027.0,439.5"/><polygon points="2224.3,603.3 2235.2,593.3 2239.1,602.3"/><polygon points="2431.0,528.0 2432.6,513.3 2441.4,517.5"/><polygon points="2160.3,379.3 2172.7,371.2 2175.1,380.7"/><polygon points="2235.4,603.3 2247.1,594.2 2250.2,603.5"/><polygon points="2213.2,603.3 2221.5,591.0 2227.4,598.9"/><polygon points="2116.5,379.3 2119.3,364.7 2127.8,369.6"/><polygon points="598.5,155.3 609.9,145.9 613.3,155.0"/><polygon points="734.5,155.3 736.7,140.6 745.4,145.1"/><polygon points="744.6,229.5 752.3,216.8 758.5,224.4"/><polygon points="636.5,454.0 621.8,452.5 625.9,443.6"/><polygon points="610.6,230.0 620.7,219.1 625.3,227.7"/><polygon points="707.1,230.0 706.9,215.1 716.2,218.3"/><polygon points="699.3,454.0 711.1,444.9 714.2,454.2"/><polygon points="1883.8,454.0 1894.2,443.3 1898.6,452.1"/><polygon points="2135.9,304.6 2121.9,299.9 2127.9,292.2"/><polygon points="608.5,459.8 594.0,463.0 595.1,453.3"/><polygon points="75.0,155.3 70.0,141.3 79.8,141.3"/><polygon points="2256.2,603.3 2268.8,595.6 2270.9,605.2"/><polygon points="938.9,155.3 934.0,141.3 943.8,141.3"/><polygon points="763.7,155.3 775.2,146.0 778.5,155.2"/><polygon points="2258.5,605.9 2271.6,598.7 2273.2,608.4"/><polygon points="632.6,454.0 617.8,453.3 621.4,444.2"/><polygon points="374.7,155.3 382.7,142.8 388.8,150.5"/><polygon points="1352.0,155.3 1346.9,141.4 1356.7,141.2"/><polygon points="1247.4,230.0 1244.2,215.5 1254.0,216.7"/><polygon points="645.4,454.0 631.1,449.9 636.7,441.9"/><polygon points="743.9,234.2 756.7,226.6 758.6,236.2"/><polygon points="972.4,390.4 957.9,393.6 959.1,383.8"/><polygon points="923.2,230.0 934.2,220.0 938.1,229.0"/><polygon points="661.3,454.0 655.7,440.3 665.5,439.7"/><polygon points="1610.5,230.0 1606.6,215.7 1616.4,216.3"/><polygon points="2150.4,304.6 2144.2,291.2 2153.9,290.2"/><polygon points="1870.3,454.0 1875.6,440.1 1883.1,446.5"/><polygon points="694.5,454.0 705.7,444.3 709.3,453.4"/><polygon points="1609.5,304.6 1604.6,290.6 1614.4,290.6"/><polygon points="1198.7,454.0 1208.8,443.1 1213.4,451.7"/><polygon points="1059.2,386.5 1072.5,379.9 1073.8,389.6"/><polygon points="1487.3,454.0 1486.7,439.2 1496.1,442.0"/></g>
<rect x="2349.75" y="5.95" width="114.30" height="25.30" fill="#bfbfbf" stroke="#000" stroke-width="1.3"/>
<text x="2406.90" y="22.00">kedittoolbar.cpp</text>
<rect x="27.45" y="80.62" width="94.70" height="25.30" fill="#fff" stroke="#000" stroke-width="1.3"/>
<text x="74.80" y="96.67">kseparator.h</text>
<rect x="247.35" y="80.62" width="99.70" height="25.30" fill="#fff" stroke="#000" stroke-width="1.3"/>
<text x="297.20" y="96.67">kedittoolbar.h</text>
<rect x="414.25" y="80.62" width="78.30" height="25.30" fill="#fff" stroke="#000" stroke-width="1.3"/>
<text x="453.40" y="96.67">ktoolbar.h</text>
<rect x="709.65" y="80.62" width="114.40" height="25.30" fill="#fff" stroke="#000" stroke-width="1.3"/>
<text x="766.85" y="96.67">kmessagebox.h</text>
<rect x="887.05" y="80.62" width="103.60" height="25.30" fill="#fff" stroke="#000" stroke-width="1.3"/>
<text x="938.85" y="96.67">kpushbutton.h</text>
<rect x="1301.25" y="80.62" width="99.30" height="25.30" fill="#fff" stroke="#000" stroke-width="1.3"/>
<text x="1350.90" y="96.67">kcombobox.h</text>
<rect x="1424.15" y="80.62" width="154.20" height="25.30" fill="#fff" stroke="#000" stroke-width="1.3"/>
<text x="1501.25" y="96.67">klistwidgetsearchline.h</text>
<rect x="2494.85" y="80.62" width="114.40" height="25.30" fill="#fff" stroke="#bfbfbf" stroke-width="1.3"/>
<text x="2552.05" y="96.67">kedittoolbar_p.h</text>
<rect x="2633.75" y="80.62" width="98.10" height="25.30" fill="#fff" stroke="#bfbfbf" stroke-width="1.3"/>
<text x="2682.80" y="96.67">QShowEvent</text>
<rect x="2757.05" y="80.62" width="161.00" height="25.30" fill="#fff" stroke="#bfbfbf" stroke-width="1.3"/>
<text x="2837.55" y="96.67">QtXml/QDomDocument</text>
<rect x="2942.85" y="80.62" width="109.10" height="25.30" fill="#fff" stroke="#bfbfbf" stroke-width="1.3"/>
<text x="2997.40" y="96.67">QtGui/QLayout</text>
<rect x="3077.15" y="80.62" width="94.20" height="25.30" fill="#fff" stroke="#bfbfbf" stroke-width="1.3"/>
<text x="3124.25" y="96.67">QtCore/QDir</text>
<rect x="3196.15" y="80.62" width="98.50" height="25.30" fill="#fff" stroke="#bfbfbf" stroke-width="1.3"/>
<text x="3245.40" y="96.67">QtCore/QFile</text>
<rect x="3319.95" y="80.62" width="102.00" height="25.30" fill="#fff" stroke="#bfbfbf" stroke-width="1.3"/>
<text x="3370.95" y="96.67">QHeaderView</text>
<rect x="3447.15" y="80.62" width="132.80" height="25.30" fill="#fff" stroke="#bfbfbf" stroke-width="1.3"/>
<text x="3513.55" y="96.67">QtGui/QToolButton</text>
<rect x="3604.35" y="80.62" width="100.90" height="25.30" fill="#fff" stroke="#bfbfbf" stroke-width="1.3"/>
<text x="3654.80" y="96.67">QtGui/QLabel</text>
<rect x="3730.15" y="80.62" width="134.30" height="25.30" fill="#fff" stroke="#bfbfbf" stroke-width="1.3"/>
<text x="3797.30" y="96.67">QtGui/QApplication</text>
<rect x="3889.65" y="80.62" width="132.80" height="25.30" fill="#fff" stroke="#bfbfbf" stroke-width="1.3"/>
<text x="3956.05" y="96.67">QtGui/QGridLayout</text>
<rect x="4047.25" y="80.62" width="130.10" height="25.30" fill="#fff" stroke="#bfbfbf" stroke-width="1.3"/>
<text x="4112.30" y="96.67">QtGui/QCheckBox</text>
<rect x="4202.55" y="80.62" width="91.50" height="25.30" fill="#fff" stroke="#bfbfbf" stroke-width="1.3"/>
<text x="4248.30" y="96.67">QMimeData</text>
<rect x="4319.25" y="80.62" width="95.40" height="25.30" fill="#fff" stroke="#bfbfbf" stroke-width="1.3"/>
<text x="4366.95" y="96.67">kdeversion.h</text>
<rect x="4439.85" y="80.62" width="118.00" height="25.30" fill="#fff" stroke="#bfbfbf" stroke-width="1.3"/>
<text x="4498.85" y="96.67">kedittoolbar.moc</text>
<rect x="4582.25" y="80.62" width="131.60" height="25.30" fill="#fff" stroke="#bfbfbf" stroke-width="1.3"/>
<text x="4648.05" y="96.67">kedittoolbar_p.moc</text>
<rect x="22.05" y="155.29" width="105.90" height="25.30" fill="#fff" stroke="#bfbfbf" stroke-width="1.3"/>
<text x="75.00" y="171.34">QtGui/QFrame</text>
<rect x="202.95" y="155.29" width="74.00" height="25.30" fill="#fff" stroke="#000" stroke-width="1.3"/>
<text x="239.95" y="171.34">kdialog.h</text>
<rect x="301.45" y="155.29" width="114.50" height="25.30" fill="#fff" stroke="#bfbfbf" stroke-width="1.3"/>
<text x="358.70" y="171.34">QtGui/QToolBar</text>
<rect x="490.95" y="155.29" width="146.40" height="25.30" fill="#fff" stroke="#bfbfbf" stroke-width="1.3"/>
<text x="564.15" y="171.34">QtGui/QMessageBox</text>
<rect x="662.15" y="155.29" width="131.60" height="25.30" fill="#fff" stroke="#000" stroke-width="1.3"/>
<text x="727.95" y="171.34">kstandardguiitem.h</text>
<rect x="869.95" y="155.29" width="138.00" height="25.30" fill="#fff" stroke="#bfbfbf" stroke-width="1.3"/>
<text x="938.95" y="171.34">QtGui/QPushButton</text>
<rect x="1032.35" y="155.29" width="74.00" height="25.30" fill="#fff" stroke="#000" stroke-width="1.3"/>
<text x="1069.35" y="171.34">kaction.h</text>
<rect x="1285.25" y="155.29" width="134.00" height="25.30" fill="#fff" stroke="#bfbfbf" stroke-width="1.3"/>
<text x="1352.25" y="171.34">QtGui/QComboBox</text>
<rect x="1444.05" y="155.29" width="80.20" height="25.30" fill="#fff" stroke="#000" stroke-width="1.3"/>
<text x="1484.15" y="171.34">klineedit.h</text>
<rect x="1549.85" y="155.29" width="130.10" height="25.30" fill="#fff" stroke="#000" stroke-width="1.3"/>
<text x="1614.90" y="171.34">kactioncollection.h</text>
<rect x="304.15" y="229.96" width="106.30" height="25.30" fill="#fff" stroke="#bfbfbf" stroke-width="1.3"/>
<text x="357.30" y="246.01">QtGui/QDialog</text>
<rect x="536.45" y="229.96" width="100.50" height="25.30" fill="#fff" stroke="#bfbfbf" stroke-width="1.3"/>
<text x="586.70" y="246.01">QtCore/QPair</text>
<rect x="661.75" y="229.96" width="82.20" height="25.30" fill="#fff" stroke="#000" stroke-width="1.3"/>
<text x="702.85" y="246.01">kguiitem.h</text>
<rect x="819.75" y="229.96" width="147.40" height="25.30" fill="#fff" stroke="#bfbfbf" stroke-width="1.3"/>
<text x="893.45" y="246.01">QtGui/QWidgetAction</text>
<rect x="1195.75" y="229.96" width="102.10" height="25.30" fill="#fff" stroke="#000" stroke-width="1.3"/>
<text x="1246.80" y="246.01">kcompletion.h</text>
<rect x="1405.95" y="229.96" width="116.80" height="25.30" fill="#fff" stroke="#bfbfbf" stroke-width="1.3"/>
<text x="1464.35" y="246.01">QtGui/QLineEdit</text>
<rect x="1547.15" y="229.96" width="125.00" height="25.30" fill="#fff" stroke="#000" stroke-width="1.3"/>
<text x="1609.65" y="246.01">kstandardaction.h</text>
<rect x="1996.75" y="229.96" width="118.40" height="25.30" fill="#fff" stroke="#000" stroke-width="1.3"/>
<text x="2055.95" y="246.01">kxmlguifactory.h</text>
<rect x="253.55" y="304.63" width="63.50" height="25.30" fill="#fff" stroke="#000" stroke-width="1.3"/>
<text x="285.30" y="320.68">kicon.h</text>
<rect x="790.55" y="304.63" width="101.60" height="25.30" fill="#fff" stroke="#bfbfbf" stroke-width="1.3"/>
<text x="841.35" y="320.68">QtCore/QMap</text>
<rect x="917.35" y="304.63" width="117.40" height="25.30" fill="#fff" stroke="#bfbfbf" stroke-width="1.3"/>
<text x="976.05" y="320.68">QtCore/QPointer</text>
<rect x="1213.25" y="304.63" width="99.00" height="25.30" fill="#fff" stroke="#000" stroke-width="1.3"/>
<text x="1262.75" y="320.68">kicontheme.h</text>
<rect x="1541.35" y="304.63" width="136.20" height="25.30" fill="#fff" stroke="#000" stroke-width="1.3"/>
<text x="1609.45" y="320.68">kstandardshortcut.h</text>
<rect x="1754.95" y="304.63" width="119.50" height="25.30" fill="#fff" stroke="#000" stroke-width="1.3"/>
<text x="1814.70" y="320.68">kglobalsettings.h</text>
<rect x="2087.85" y="304.63" width="128.80" height="25.30" fill="#fff" stroke="#000" stroke-width="1.3"/>
<text x="2152.25" y="320.68">kcomponentdata.h</text>
<rect x="2373.45" y="304.63" width="74.70" height="25.30" fill="#fff" stroke="#000" stroke-width="1.3"/>
<text x="2410.80" y="320.68">klocale.h</text>
<rect x="5.35" y="379.30" width="106.70" height="25.30" fill="#fff" stroke="#000" stroke-width="1.3"/>
<text x="58.70" y="395.35">kconfiggroup.h</text>
<rect x="238.35" y="379.30" width="94.30" height="25.30" fill="#fff" stroke="#bfbfbf" stroke-width="1.3"/>
<text x="285.50" y="395.35">QtGui/QIcon</text>
<rect x="972.85" y="379.30" width="86.40" height="25.30" fill="#fff" stroke="#000" stroke-width="1.3"/>
<text x="1016.05" y="395.35">kshortcut.h</text>
<rect x="1540.55" y="379.30" width="97.70" height="25.30" fill="#fff" stroke="#000" stroke-width="1.3"/>
<text x="1589.40" y="395.35">kiconloader.h</text>
<rect x="1663.85" y="379.30" width="109.80" height="25.30" fill="#fff" stroke="#bfbfbf" stroke-width="1.3"/>
<text x="1718.75" y="395.35">QtGui/QPalette</text>
<rect x="2052.05" y="379.30" width="114.40" height="25.30" fill="#fff" stroke="#000" stroke-width="1.3"/>
<text x="2109.25" y="395.35">ksharedconfig.h</text>
<rect x="2292.85" y="379.30" width="110.60" height="25.30" fill="#fff" stroke="#000" stroke-width="1.3"/>
<text x="2348.15" y="395.35">kstandarddirs.h</text>
<rect x="304.15" y="453.97" width="138.60" height="25.30" fill="#fff" stroke="#000" stroke-width="1.3"/>
<text x="373.45" y="470.02">conversion_check.h</text>
<rect x="608.45" y="453.97" width="106.70" height="25.30" fill="#fff" stroke="#000" stroke-width="1.3"/>
<text x="661.80" y="470.02">kdeui_export.h</text>
<rect x="790.55" y="453.97" width="134.70" height="25.30" fill="#fff" stroke="#bfbfbf" stroke-width="1.3"/>
<text x="857.90" y="470.02">QtCore/QMetaType</text>
<rect x="950.45" y="453.97" width="150.10" height="25.30" fill="#fff" stroke="#bfbfbf" stroke-width="1.3"/>
<text x="1025.50" y="470.02">QtGui/QKeySequence</text>
<rect x="1125.35" y="453.97" width="98.90" height="25.30" fill="#fff" stroke="#bfbfbf" stroke-width="1.3"/>
<text x="1174.80" y="470.02">QtCore/QList</text>
<rect x="1248.65" y="453.97" width="132.40" height="25.30" fill="#fff" stroke="#bfbfbf" stroke-width="1.3"/>
<text x="1314.85" y="470.02">QtCore/QStringList</text>
<rect x="1427.35" y="453.97" width="110.90" height="25.30" fill="#fff" stroke="#bfbfbf" stroke-width="1.3"/>
<text x="1482.80" y="470.02">QtCore/QString</text>
<rect x="1802.45" y="453.97" width="115.70" height="25.30" fill="#fff" stroke="#bfbfbf" stroke-width="1.3"/>
<text x="1860.30" y="470.02">QtCore/QObject</text>
<rect x="1942.25" y="453.97" width="94.30" height="25.30" fill="#fff" stroke="#000" stroke-width="1.3"/>
<text x="1989.40" y="470.02">ksharedptr.h</text>
<rect x="2062.15" y="453.97" width="73.60" height="25.30" fill="#fff" stroke="#000" stroke-width="1.3"/>
<text x="2098.95" y="470.02">kconfig.h</text>
<rect x="2160.15" y="453.97" width="74.00" height="25.30" fill="#fff" stroke="#000" stroke-width="1.3"/>
<text x="2197.15" y="470.02">kglobal.h</text>
<rect x="699.85" y="528.64" width="54.60" height="25.30" fill="#fff" stroke="#000" stroke-width="1.3"/>
<text x="727.15" y="544.69">kurl.h</text>
<rect x="816.95" y="528.64" width="102.30" height="25.30" fill="#fff" stroke="#000" stroke-width="1.3"/>
<text x="868.10" y="544.69">kconfigbase.h</text>
<rect x="943.85" y="528.64" width="96.60" height="25.30" fill="#fff" stroke="#bfbfbf" stroke-width="1.3"/>
<text x="992.15" y="544.69">kdemacros.h</text>
<rect x="1379.65" y="528.64" width="102.40" height="25.30" fill="#fff" stroke="#000" stroke-width="1.3"/>
<text x="1430.85" y="544.69">ksortablelist.h</text>
<rect x="2360.35" y="528.64" width="122.30" height="25.30" fill="#fff" stroke="#000" stroke-width="1.3"/>
<text x="2421.50" y="544.69">klocalizedstring.h</text>
<rect x="2507.05" y="528.64" width="74.40" height="25.30" fill="#fff" stroke="#000" stroke-width="1.3"/>
<text x="2544.25" y="544.69">kdebug.h</text>
<rect x="2606.25" y="528.64" width="86.50" height="25.30" fill="#fff" stroke="#000" stroke-width="1.3"/>
<text x="2649.50" y="544.69">kprocess.h</text>
<rect x="2136.25" y="603.31" width="122.30" height="25.30" fill="#fff" stroke="#000" stroke-width="1.3"/>
<text x="2197.40" y="619.36">kdecore_export.h</text>
</svg>
</body></html>
